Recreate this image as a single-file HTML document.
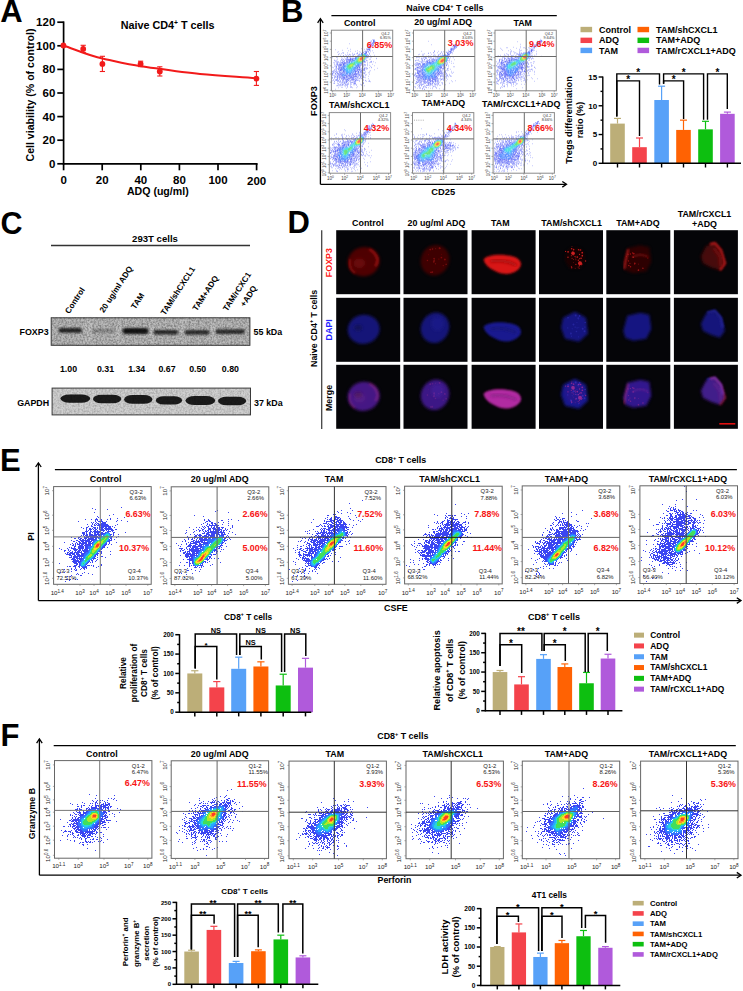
<!DOCTYPE html>
<html><head><meta charset="utf-8"><style>
html,body{margin:0;padding:0;background:#fff;}
svg{display:block;font-family:"Liberation Sans",sans-serif;}
</style></head><body>
<svg width="743" height="991" viewBox="0 0 743 991">
<rect width="743" height="991" fill="#fff"/>
<defs><filter id="sb" x="0" y="0" width="100%" height="100%"><feGaussianBlur stdDeviation="0.35"/></filter>
<filter id="grain" x="0" y="0" width="100%" height="100%"><feTurbulence type="fractalNoise" baseFrequency="0.55" numOctaves="2" seed="3"/><feColorMatrix type="matrix" values="0 0 0 0 0  0 0 0 0 0  0 0 0 0 0  -1.6 0 0 0 1.05"/></filter>
<filter id="bb" x="-20%" y="-60%" width="140%" height="220%"><feGaussianBlur stdDeviation="1.15"/></filter>
<filter id="bb2" x="-20%" y="-60%" width="140%" height="220%"><feGaussianBlur stdDeviation="0.7"/></filter>
<filter id="soft" x="-10%" y="-10%" width="120%" height="120%"><feGaussianBlur stdDeviation="2.5"/></filter>
<filter id="cb" x="-30%" y="-30%" width="160%" height="160%"><feGaussianBlur stdDeviation="1.6"/></filter>
<filter id="cb2" x="-30%" y="-30%" width="160%" height="160%"><feGaussianBlur stdDeviation="0.9"/></filter>
<filter id="cb3" x="-50%" y="-50%" width="200%" height="200%"><feGaussianBlur stdDeviation="0.5"/></filter></defs>
<text x="0.3" y="21.8" font-size="31" font-weight="bold">A</text>
<text x="120.7" y="28.7" font-size="10.8" font-weight="bold">Naive  CD4<tspan dy="-4.1" font-size="6.7">+</tspan><tspan dy="4.1">&#8203;</tspan> T cells</text>
<line x1="63.6" y1="21.4" x2="63.6" y2="164.6" stroke="#000" stroke-width="1.7"/>
<line x1="62.8" y1="163.8" x2="257.6" y2="163.8" stroke="#000" stroke-width="1.7"/>
<line x1="57.3" y1="163.8" x2="63.6" y2="163.8" stroke="#000" stroke-width="1.7"/>
<text x="55.3" y="167.8" font-size="11.5" font-weight="bold" text-anchor="end">0</text>
<line x1="57.3" y1="140.2" x2="63.6" y2="140.2" stroke="#000" stroke-width="1.7"/>
<text x="55.3" y="144.2" font-size="11.5" font-weight="bold" text-anchor="end">20</text>
<line x1="57.3" y1="116.6" x2="63.6" y2="116.6" stroke="#000" stroke-width="1.7"/>
<text x="55.3" y="120.6" font-size="11.5" font-weight="bold" text-anchor="end">40</text>
<line x1="57.3" y1="93" x2="63.6" y2="93" stroke="#000" stroke-width="1.7"/>
<text x="55.3" y="97" font-size="11.5" font-weight="bold" text-anchor="end">60</text>
<line x1="57.3" y1="69.4" x2="63.6" y2="69.4" stroke="#000" stroke-width="1.7"/>
<text x="55.3" y="73.4" font-size="11.5" font-weight="bold" text-anchor="end">80</text>
<line x1="57.3" y1="45.8" x2="63.6" y2="45.8" stroke="#000" stroke-width="1.7"/>
<text x="55.3" y="49.8" font-size="11.5" font-weight="bold" text-anchor="end">100</text>
<line x1="57.3" y1="22.2" x2="63.6" y2="22.2" stroke="#000" stroke-width="1.7"/>
<text x="55.3" y="26.2" font-size="11.5" font-weight="bold" text-anchor="end">120</text>
<line x1="63.6" y1="163.8" x2="63.6" y2="170.3" stroke="#000" stroke-width="1.7"/>
<text x="63.6" y="184.2" font-size="11.5" font-weight="bold" text-anchor="middle">0</text>
<line x1="102.2" y1="163.8" x2="102.2" y2="170.3" stroke="#000" stroke-width="1.7"/>
<text x="102.2" y="184.2" font-size="11.5" font-weight="bold" text-anchor="middle">20</text>
<line x1="140.8" y1="163.8" x2="140.8" y2="170.3" stroke="#000" stroke-width="1.7"/>
<text x="140.8" y="184.2" font-size="11.5" font-weight="bold" text-anchor="middle">40</text>
<line x1="179.4" y1="163.8" x2="179.4" y2="170.3" stroke="#000" stroke-width="1.7"/>
<text x="179.4" y="184.2" font-size="11.5" font-weight="bold" text-anchor="middle">80</text>
<line x1="218" y1="163.8" x2="218" y2="170.3" stroke="#000" stroke-width="1.7"/>
<text x="218" y="184.2" font-size="11.5" font-weight="bold" text-anchor="middle">100</text>
<line x1="256.6" y1="163.8" x2="256.6" y2="170.3" stroke="#000" stroke-width="1.7"/>
<text x="256.6" y="185" font-size="11.5" font-weight="bold" text-anchor="middle">200</text>
<text x="157.8" y="195.3" font-size="10.6" font-weight="bold" text-anchor="middle">ADQ (ug/ml)</text>
<text x="33.8" y="95" font-size="10.6" font-weight="bold" text-anchor="middle" transform="rotate(-90 33.8 95)">Cell viability (% of control)</text>
<path d="M63.4 45.5C75 49.5 90 56 102.4 58.6S128 64.6 140.6 66.2S180 72.3 200 74S240 77 256.6 78.3" stroke="#F21A1A" stroke-width="2" fill="none"/>
<circle cx="63.4" cy="45.5" r="2.9" fill="#F21A1A"/>
<line x1="83.2" y1="45.3" x2="83.2" y2="52.5" stroke="#F21A1A" stroke-width="1.1"/>
<line x1="80.6" y1="45.3" x2="85.8" y2="45.3" stroke="#F21A1A" stroke-width="1.1"/>
<line x1="80.6" y1="52.5" x2="85.8" y2="52.5" stroke="#F21A1A" stroke-width="1.1"/>
<circle cx="83.2" cy="48.9" r="2.9" fill="#F21A1A"/>
<line x1="102.4" y1="56.3" x2="102.4" y2="71.5" stroke="#F21A1A" stroke-width="1.1"/>
<line x1="99.8" y1="56.3" x2="105" y2="56.3" stroke="#F21A1A" stroke-width="1.1"/>
<line x1="99.8" y1="71.5" x2="105" y2="71.5" stroke="#F21A1A" stroke-width="1.1"/>
<circle cx="102.4" cy="63.9" r="2.9" fill="#F21A1A"/>
<line x1="140.6" y1="61.2" x2="140.6" y2="66.6" stroke="#F21A1A" stroke-width="1.1"/>
<line x1="138" y1="61.2" x2="143.2" y2="61.2" stroke="#F21A1A" stroke-width="1.1"/>
<line x1="138" y1="66.6" x2="143.2" y2="66.6" stroke="#F21A1A" stroke-width="1.1"/>
<circle cx="140.6" cy="63.9" r="2.9" fill="#F21A1A"/>
<line x1="159.8" y1="66.8" x2="159.8" y2="76" stroke="#F21A1A" stroke-width="1.1"/>
<line x1="157.2" y1="66.8" x2="162.4" y2="66.8" stroke="#F21A1A" stroke-width="1.1"/>
<line x1="157.2" y1="76" x2="162.4" y2="76" stroke="#F21A1A" stroke-width="1.1"/>
<circle cx="159.8" cy="71.5" r="2.9" fill="#F21A1A"/>
<line x1="256.4" y1="71.5" x2="256.4" y2="85.4" stroke="#F21A1A" stroke-width="1.1"/>
<line x1="253.8" y1="71.5" x2="259" y2="71.5" stroke="#F21A1A" stroke-width="1.1"/>
<line x1="253.8" y1="85.4" x2="259" y2="85.4" stroke="#F21A1A" stroke-width="1.1"/>
<circle cx="256.4" cy="78.6" r="2.9" fill="#F21A1A"/>
<text x="281" y="21.6" font-size="31" font-weight="bold">B</text>
<text x="444.9" y="10.9" font-size="8.9" font-weight="bold" text-anchor="middle">Naive CD4<tspan dy="-3.38" font-size="5.52">+</tspan><tspan dy="3.38">&#8203;</tspan> T cells</text>
<line x1="331.4" y1="15.7" x2="556.8" y2="15.7" stroke="#000" stroke-width="1.2"/>
<line x1="320.4" y1="19.1" x2="320.4" y2="184.3" stroke="#000" stroke-width="1.3"/>
<path d="M317.6 22.8L320.4 18.6L323.2 22.8" stroke="#000" stroke-width="1.3" fill="none" stroke-linejoin="miter"/>
<line x1="320.4" y1="184.3" x2="566" y2="184.3" stroke="#000" stroke-width="1.3"/>
<path d="M562.3 181.5L566.5 184.3L562.3 187.1" stroke="#000" stroke-width="1.3" fill="none"/>
<text x="317.4" y="101" font-size="9.1" font-weight="bold" text-anchor="middle" transform="rotate(-90 317.4 101)">FOXP3</text>
<text x="443.2" y="194.6" font-size="9.3" font-weight="bold" text-anchor="middle">CD25</text>
<g transform="scale(0.5)">
<path d="M745 79.5h1h1m1 0h1m-3 1h1m-4 1h1m2 0h1h1h1h1m-9 1h1m4 0h1h1m-5 1h1m2 0h1m1 0h1h1h1m-5 1h1h1m1 0h1m-6 1h1m2 0h1h1m-7 1h1m1 0h1h1h1m-48 1h1m41 0h1m2 0h1m2 0h1m-5 1h1m7 0h1m-14 1h1m1 0h1m1 0h1h1h1m1 0h1h1m-7 1h1h1m1 0h1m1 0h1m-3 1h1h1m-8 1h1m1 0h1m-4 1h1h1h1h1m2 0h1m-10 1h1m2 0h1h1h1m1 0h1m-8 1h1m1 0h1m1 0h1m16 0h1m-61 1h1m26 1h1m10 0h1m2 0h1m1 0h1h1m1 0h1m-41 1h1m27 0h1m4 0h1h1h1h1h1m-69 1h1m62 0h1m1 0h1m1 0h1h1h1m-56 1h1m53 0h1h1m1 0h1m-46 1h1m18 0h1m8 0h1m10 0h1m8 0h1m-45 1h1m9 0h1m18 0h1h1h1h1m1 0h1m1 0h1m-60 1h1m41 0h1m12 0h1m3 0h1m3 0h1m-66 1h1m45 0h1m3 0h1h1m3 0h1m1 0h1h1m2 0h1m-53 1h1m2 0h1m6 0h1m19 0h1m9 0h1m2 0h1m2 0h1m1 0h1h1m13 0h1m-61 1h1m16 0h1m10 0h1m7 0h1m4 0h1m1 0h1h1h1h1m5 0h1m-62 1h1m3 0h1m30 0h1m1 0h1m2 0h1m3 0h1h1h1m6 0h1m7 0h1m-63 1h1m17 0h1m3 0h1m4 0h1m3 0h1h1m12 0h1m15 0h1m-62 1h1m13 0h1m7 0h1m1 0h1m4 0h1m10 0h1h1h1h1m12 0h1h1h1m-55 1h1m14 0h1m19 0h1m16 0h1m2 0h1m11 0h1m-63 1h1h1m4 0h1m11 0h1m1 0h1m7 0h1m2 0h1m17 0h1m1 0h1m3 0h1m-52 1h1m1 0h1m1 0h1m2 0h1m2 0h1h1m4 0h1m4 0h1m2 0h1m18 0h1m3 0h1m-66 1h1m11 0h1m9 0h1h1m1 0h1m4 0h1m2 0h1h1m26 0h1h1m-63 1h1m9 0h1m9 0h1m2 0h1m3 0h1m11 0h1m1 0h1m19 0h1h1m2 0h1m4 0h1m-78 1h1m8 0h1m13 0h1m5 0h1h1m5 0h1m8 0h1h1m22 0h1m5 0h1m-46 1h1m4 0h1h1m3 0h1m1 0h1h1m1 0h1m42 0h1m-69 1h1m4 0h1m1 0h1m7 0h1m2 0h1h1m2 0h1h1m23 0h1m20 0h1m-79 1h1m6 0h1h1m3 0h1m5 0h1h1m1 0h1h1h1h1h1h1h1h1h1h1h1m32 0h1h1m-55 1h1m3 0h1m2 0h1h1h1m1 0h1h1m1 0h1h1m2 0h1h1m25 0h1m-64 1h1h1m2 0h1m10 0h1h1h1m2 0h1m3 0h1m4 0h1h1m1 0h1h1h1m29 0h1m-63 1h1m10 0h1m6 0h1m4 0h1h1m1 0h1m1 0h1h1m1 0h1m27 0h1m2 0h1m1 0h1m-60 1h1m10 0h1m6 0h1h1m4 0h1m29 0h1m13 0h1m-73 1h1h1m3 0h1m4 0h1m3 0h1h1m2 0h1m2 0h1m2 0h1m1 0h1h1m28 0h1h1h1m1 0h1m9 0h1h1m4 0h1m-79 1h1m3 0h1h1m2 0h1m4 0h1m1 0h1h1m1 0h1m1 0h1m2 0h1h1h1h1h1m31 0h1m1 0h1m4 0h1m4 0h1m2 0h1m-78 1h1m8 0h1m2 0h1m2 0h1m1 0h1m1 0h1m2 0h1h1h1h1m35 0h1m10 0h1m11 0h1m-71 1h1m2 0h1m1 0h1h1m2 0h1h1m1 0h1m-24 1h1m3 0h1h1h1m3 0h1m4 0h1m1 0h1h1h1h1h1m31 0h1h1m10 0h1m-62 1h1h1m1 0h1m3 0h1h1h1m2 0h1h1h1m1 0h1m31 0h1h1m4 0h1h1m16 0h1m-77 1h1m4 0h1m3 0h1h1m1 0h1h1h1m2 0h1h1h1m30 0h1m5 0h1m3 0h1h1m4 0h1m-66 1h1m1 0h1m1 0h1m2 0h1h1h1h1h1h1m3 0h1h1m31 0h1h1h1m1 0h1m6 0h1m8 0h1m-64 1h1m3 0h1h1m1 0h1m1 0h1h1m32 0h1m7 0h1h1m6 0h1m12 0h1m-81 1h1m4 0h1m3 0h1m6 0h1m32 0h1h1m2 0h1m4 0h1m14 0h1m-72 1h1m1 0h1h1m2 0h1m1 0h1h1h1m1 0h1m2 0h1m29 0h1h1h1m1 0h1m5 0h1m-61 1h1m7 0h1m5 0h1m2 0h1m1 0h1m29 0h1h1m1 0h1h1h1m1 0h1m2 0h1h1m4 0h1m11 0h1m-76 1h1m5 0h1m3 0h1m1 0h1h1h1h1h1m30 0h1h1m2 0h1h1m4 0h1m3 0h1m4 0h1m5 0h1m2 0h1m-72 1h1m4 0h1m1 0h1m3 0h1m35 0h1m3 0h1m3 0h1m1 0h1m4 0h1m1 0h1m18 0h1m-82 1h1h1m2 0h1m1 0h1m1 0h1h1h1m29 0h1h1h1m1 0h1m2 0h1m3 0h1m3 0h1h1h1m3 0h1m-63 1h1m3 0h1m2 0h1h1m2 0h1m30 0h1h1h1m1 0h1h1h1m1 0h1m1 0h1m7 0h1m-65 1h1m2 0h1m4 0h1h1m2 0h1h1h1h1h1m28 0h1m2 0h1h1h1h1h1m3 0h1m1 0h1h1h1h1m18 0h1m-80 1h1m2 0h1m6 0h1h1h1m1 0h1h1m26 0h1m1 0h1h1h1m3 0h1m2 0h1m4 0h1h1m-63 1h1m6 0h1m4 0h1m1 0h1h1h1m3 0h1m24 0h1m3 0h1m3 0h1m1 0h1h1h1m1 0h1m3 0h1m10 0h1m-77 1h1m1 0h1m1 0h1m1 0h1m5 0h1m2 0h1m3 0h1m2 0h1h1m22 0h1h1h1h1h1m1 0h1h1m2 0h1h1m9 0h1m6 0h1m-74 1h1m4 0h1m2 0h1m1 0h1m3 0h1m5 0h1h1h1h1m21 0h1h1h1m3 0h1h1m4 0h1m-57 1h1h1m4 0h1m1 0h1m4 0h1h1h1m3 0h1m2 0h1h1m21 0h1m2 0h1m1 0h1h1h1m1 0h1h1h1h1m1 0h1m-58 1h1m4 0h1m4 0h1m3 0h1m1 0h1m1 0h1h1m22 0h1h1m5 0h1m9 0h1h1m2 0h1m5 0h1h1m-75 1h1h1m1 0h1m3 0h1m2 0h1h1h1m2 0h1h1h1h1h1m1 0h1m2 0h1h1m17 0h1m1 0h1m1 0h1m2 0h1m1 0h1m3 0h1m4 0h1h1m2 0h1m-65 1h1m4 0h1h1m2 0h1m1 0h1m6 0h1h1m20 0h1m2 0h1m1 0h1h1h1h1m1 0h1h1m1 0h1m4 0h1m4 0h1m-65 1h1m8 0h1m3 0h1h1m1 0h1h1m21 0h1h1m1 0h1m1 0h1h1h1m1 0h1h1h1m1 0h1m5 0h1m15 0h1m-74 1h1m4 0h1m4 0h1h1m2 0h1h1m1 0h1h1m7 0h1m1 0h1h1m9 0h1m1 0h1h1h1h1h1m2 0h1m2 0h1m1 0h1h1h1m10 0h1h1m-69 1h1m1 0h1m1 0h1m8 0h1h1m1 0h1m1 0h1h1m6 0h1h1m4 0h1h1m1 0h1m1 0h1h1m2 0h1m4 0h1h1m3 0h1m3 0h1h1m1 0h1m3 0h1m-54 1h1m1 0h1m3 0h1m9 0h1h1m1 0h1h1m1 0h1m1 0h1h1h1m1 0h1h1m1 0h1m1 0h1h1m5 0h1m3 0h1m1 0h1m2 0h1m7 0h1m-63 1h1m1 0h1m3 0h1h1h1m2 0h1m1 0h1h1m1 0h1h1h1m2 0h1m2 0h1h1h1h1m1 0h1m1 0h1h1m2 0h1h1m1 0h1h1h1h1h1h1h1h1m3 0h1m2 0h1m5 0h1m10 0h1m-67 1h1m2 0h1m3 0h1m2 0h1h1m4 0h1m3 0h1h1m5 0h1m1 0h1m1 0h1h1m5 0h1h1h1m1 0h1m1 0h1m5 0h1h1m3 0h1m-63 1h1m4 0h1h1m2 0h1h1m9 0h1h1m1 0h1h1h1m2 0h1h1h1m2 0h1h1m1 0h1h1m1 0h1m1 0h1h1h1m6 0h1m1 0h1m3 0h1h1m5 0h1h1m-65 1h1m3 0h1m6 0h1m1 0h1h1h1h1h1m1 0h1m2 0h1h1h1h1m1 0h1h1m2 0h1m5 0h1h1h1h1h1h1m2 0h1m2 0h1m2 0h1m10 0h1m3 0h1m-66 1h1m8 0h1m3 0h1m3 0h1m1 0h1m1 0h1h1h1m1 0h1m4 0h1h1h1h1m2 0h1m2 0h1m1 0h1m3 0h1h1m7 0h1m2 0h1m-54 1h1m4 0h1m7 0h1m2 0h1m2 0h1h1m2 0h1m3 0h1m1 0h1h1m1 0h1h1m1 0h1m1 0h1m5 0h1m2 0h1m1 0h1h1m1 0h1m2 0h1m12 0h1m-65 1h1m1 0h1h1m3 0h1m2 0h1m2 0h1m1 0h1m2 0h1h1m1 0h1h1h1h1m5 0h1m2 0h1h1h1h1h1m1 0h1m-46 1h1m3 0h1m1 0h1m5 0h1m7 0h1h1h1m4 0h1h1h1m3 0h1m3 0h1h1h1m1 0h1m4 0h1h1m13 0h1m-61 1h1m2 0h1m1 0h1h1m2 0h1m3 0h1m3 0h1m2 0h1m3 0h1h1h1m2 0h1h1m2 0h1m2 0h1h1m1 0h1m3 0h1h1m2 0h1h1h1m9 0h1m4 0h1m7 0h1m-76 1h1m9 0h1h1m1 0h1m7 0h1m9 0h1m1 0h1m3 0h1m7 0h1m1 0h1m1 0h1m4 0h1m11 0h1m-63 1h1m7 0h1m3 0h1h1m3 0h1m1 0h1m2 0h1m1 0h1h1h1m4 0h1m6 0h1m3 0h1h1m7 0h1m12 0h1m4 0h1h1h1m-71 1h1m4 0h1m3 0h1m10 0h1m3 0h1m1 0h1m4 0h1m7 0h1h1m31 0h1m-63 1h1m3 0h1h1h1h1m2 0h1h1m1 0h1m8 0h1h1m1 0h1h1m18 0h1m-45 1h1m8 0h1m2 0h1h1m3 0h1m5 0h1m3 0h1m1 0h1h1m16 0h1m-61 1h1h1h1m4 0h1m14 0h1h1m9 0h1m5 0h1m1 0h1h1h1h1m14 0h1h1m-52 1h1m5 0h1m1 0h1m1 0h1m1 0h1m6 0h1h1m12 0h1m-33 1h1m3 0h1m8 0h1m3 0h1m2 0h1m3 0h1h1m7 0h1m10 0h1m-43 1h1h1m3 0h1h1m1 0h1m3 0h1m1 0h1h1m11 0h1m1 0h1m3 0h1m10 0h1m-50 1h1m8 0h1h1m6 0h1m1 0h1m6 0h1m12 0h1m9 0h1m-52 1h1m2 0h1h1m2 0h1m1 0h1m7 0h1m4 0h1m34 0h1m-35 1h1m-6 1h1m10 0h1h1m12 0h1m-34 1h1m1 0h1m10 0h1m5 0h1m1 0h1m-28 1h1m27 0h1m8 0h1m-21 1h1m-23 2h1" stroke="#1424f0" stroke-opacity="1"/>
<path d="M728 107.5h1h1h1m-8 1h1m5 0h1h1m-9 1h1m8 0h1m0 1h1m-15 1h1m13 0h1m-1 1h1m-18 1h1m-2 1h1m17 0h1m-21 1h1h1m-3 1h1h1m-3 1h1h1m19 0h1m-22 1h1m-2 1h1m19 0h1m-25 1h1h1h1h1m-6 1h1h1h1h1h1m-8 1h1m1 0h1m1 0h1h1m21 0h1m-29 1h1m1 0h1h1h1m-6 1h1h1m24 0h1m-29 1h1m1 0h1h1m23 0h1h1m-31 1h1h1m1 0h1m23 0h1m-29 1h1m25 0h1m1 0h1m-29 1h1h1m22 0h1h1m-28 1h1m1 0h1m22 0h1h1m-30 1h1m1 0h1m21 0h1h1h1h1h1h1m-30 1h1h1m1 0h1m21 0h1h1h1h1h1m-32 1h1m1 0h1h1h1h1m18 0h1m1 0h1h1m-28 1h1h1h1h1m20 0h1m1 0h1h1h1m-30 1h1h1h1m1 0h1h1m18 0h1h1h1h1m-27 1h1h1h1m20 0h1h1h1h1m-29 1h1h1h1h1m1 0h1m18 0h1h1h1m1 0h1m-28 1h1h1h1h1h1m17 0h1h1m1 0h1h1h1m-28 1h1h1m1 0h1h1m16 0h1h1h1h1h1m-26 1h1h1m1 0h1h1m16 0h1m2 0h1h1m-25 1h1h1m1 0h1h1m14 0h1h1m1 0h1h1m-23 1h1h1h1m15 0h1h1m1 0h1h1m-22 1h1m16 0h1h1m1 0h1m-19 1h1h1h1m10 0h1h1m1 0h1h1h1m-18 1h1m1 0h1m8 0h1h1h1m2 0h1m1 0h1m-18 1h1h1h1m6 0h1h1m1 0h1m1 0h1m-16 1h1h1h1h1h1m1 0h1h1h1h1h1m1 0h1h1h1m-19 1h1m3 0h1h1h1m1 0h1m2 0h1h1h1h1m-17 1h1h1h1h1h1m2 0h1m1 0h1h1m1 0h1m1 0h1m1 0h1h1m-19 1h1h1h1h1m2 0h1m7 0h1h1h1h1m-18 1h1h1m2 0h1h1m-5 1h1h1h1h1" stroke="#0a58ff" stroke-opacity="1"/>
<path d="M727 108.5h1h1m-6 1h1m1 0h1m3 0h1h1m-10 1h1h1m7 0h1h1m-1 1h1m-14 1h1h1m11 0h1m-1 1h1m-16 1h1m-2 1h1m15 0h1m-19 1h1h1m-3 1h1m-2 1h1h1m16 0h1m-20 1h1h1m-3 1h1m18 0h1m-21 1h1h1h1m16 0h1m-21 1h1h1m17 0h1m-21 1h1m17 0h1h1m-24 1h1h1h1h1m-6 1h1m1 0h1m18 0h1h1m-24 1h1h1m16 0h1m1 0h1h1m-24 1h1h1m15 0h1h1h1h1h1m-24 1h1h1m14 0h1h1m1 0h1h1h1m-23 1h1h1m14 0h1m3 0h1h1m-22 1h1m15 0h1h1m-20 1h1h1m16 0h1m-19 1h1m-2 1h1m15 0h1h1m-2 1h1h1m-18 1h1h1m12 0h1h1h1h1m-17 1h1h1m10 0h1m2 0h1m-17 1h1h1h1m10 0h1h1h1m-17 1h1h1h1h1m9 0h1h1m-15 1h1h1m1 0h1h1h1m6 0h1h1h1m-14 1h1h1h1h1h1h1m1 0h1h1m1 0h1h1h1h1m-14 1h1h1h1h1h1h1m2 0h1h1h1h1h1m-12 1h1h1h1h1m1 0h1m1 0h1h1h1m1 0h1m-11 1h1h1h1h1h1h1h1m1 0h1h1m-9 1h1h1h1h1h1h1m1 0h1m-7 1h1h1h1m1 0h1h1" stroke="#0096ff" stroke-opacity="1"/>
<path d="M726 109.5h1h1h1m-6 1h1m5 0h1m-9 1h1h1m7 0h1m-11 1h1m9 0h1m-13 1h1m-2 1h1m12 0h1m-15 1h1m13 0h1m-1 1h1m-17 1h1m14 0h1m-17 1h1m14 0h1m-17 1h1h1m-2 1h1h1m13 0h1m-17 1h1m14 0h1m-17 1h1m1 0h1m-5 1h1h1h1h1h1m10 0h1m-17 1h1h1h1h1h1h1h1h1h1m6 0h1m-20 1h1h1m1 0h1h1m2 0h1h1h1h1h1h1h1h1h1h1h1m-20 1h1h1h1m6 0h1m1 0h1h1h1h1h1m-18 1h1h1m8 0h1h1h1m1 0h1m-16 1h1m10 0h1h1m-15 1h1h1m10 0h1h1m-15 1h1h1m11 0h1m-15 1h1h1m12 0h1m-16 1h1h1m11 0h1m-14 1h1h1m10 0h1h1m-14 1h1h1m9 0h1h1m-12 1h1h1m7 0h1h1m-11 1h1h1h1m5 0h1h1m-10 1h1h1h1h1h1h1h1h1h1h1m-10 1h1h1h1h1h1h1h1h1h1m-6 1h1h1h1h1" stroke="#00d0d0" stroke-opacity="1"/>
<path d="M725 110.5h1h1h1h1m-6 1h1h1m2 0h1h1h1m-9 1h1h1m6 0h1m-11 1h1h1m8 0h1h1m-2 1h1m-13 1h1m11 0h1m-14 1h1m12 0h1m-15 1h1h1m11 0h1m-14 1h1m11 0h1m-14 1h1h1m10 0h1m-13 1h1m10 0h1h1m-14 1h1h1h1m8 0h1h1m-13 1h1h1h1h1m6 0h1h1m-12 1h1h1h1m1 0h1h1h1h1h1h1m-7 1h1h1h1h1h1m-13 1h1h1m-6 1h1h1h1h1h1h1m-9 1h1h1h1h1h1m1 0h1h1m-10 1h1h1h1h1m2 0h1h1h1h1m-11 1h1h1h1m5 0h1h1m-11 1h1h1h1m5 0h1h1h1m-12 1h1h1h1m6 0h1m-11 1h1h1h1h1m5 0h1h1m-11 1h1h1h1h1h1h1h1h1h1h1m-10 1h1h1h1h1h1h1h1h1m-6 1h1h1h1h1h1m-5 1h1h1h1h1h1" stroke="#22d840" stroke-opacity="1"/>
<path d="M725 111.5h1h1m-3 1h1h1h1h1h1m-8 1h1h1m5 0h1m-9 1h1m7 0h1m-11 1h1h1m8 0h1m-12 1h1h1m8 0h1h1m-12 1h1m9 0h1m-12 1h1h1m8 0h1m-11 1h1h1m7 0h1m-10 1h1h1m6 0h1m-9 1h1h1h1m4 0h1m-7 1h1h1h1h1h1h1m-20 6h1h1m-4 1h1h1h1h1h1m-6 1h1h1h1h1h1m-6 1h1h1h1h1h1h1m-6 1h1h1h1h1h1" stroke="#a0e400" stroke-opacity="1"/>
<path d="M723 113.5h1h1h1h1h1m-7 1h1m5 0h1m-8 1h1m6 0h1m-9 1h1m-2 1h1m7 0h1m-9 1h1m6 0h1m-8 1h1m5 0h1m-7 1h1h1m3 0h1m-5 1h1h1h1" stroke="#ffd400" stroke-opacity="1"/>
<path d="M722 114.5h1h1h1h1h1m-6 1h1m3 0h1h1m-7 1h1m4 0h1h1m-8 1h1m5 0h1m-7 1h1m4 0h1m-6 1h1h1m1 0h1h1m-4 1h1h1h1" stroke="#ff8000" stroke-opacity="1"/>
<path d="M722 115.5h1h1h1m-4 1h1h1h1h1m-5 1h1h1h1h1h1m-5 1h1h1h1h1m-3 1h1" stroke="#ff1a00" stroke-opacity="1"/>
</g>
<rect x="331.4" y="30.2" width="61.3" height="60.6" fill="none" stroke="#8a8a8a" stroke-width="1"/>
<line x1="362.6" y1="30.2" x2="362.6" y2="90.8" stroke="#6a6a6a" stroke-width="1"/>
<line x1="331.4" y1="56.5" x2="392.7" y2="56.5" stroke="#6a6a6a" stroke-width="1"/>
<text x="328" y="33" font-size="4.5" text-anchor="middle" fill="#444" transform="rotate(-90 328 33)">10<tspan dy="-1.71" font-size="3.33">7</tspan><tspan dy="1.71">&#8203;</tspan></text>
<line x1="329.8" y1="33" x2="331.4" y2="33" stroke="#777" stroke-width="0.6"/>
<text x="328" y="41.2" font-size="4.5" text-anchor="middle" fill="#444" transform="rotate(-90 328 41.2)">10<tspan dy="-1.71" font-size="3.33">6</tspan><tspan dy="1.71">&#8203;</tspan></text>
<line x1="329.8" y1="41.2" x2="331.4" y2="41.2" stroke="#777" stroke-width="0.6"/>
<text x="328" y="49.4" font-size="4.5" text-anchor="middle" fill="#444" transform="rotate(-90 328 49.4)">10<tspan dy="-1.71" font-size="3.33">5</tspan><tspan dy="1.71">&#8203;</tspan></text>
<line x1="329.8" y1="49.4" x2="331.4" y2="49.4" stroke="#777" stroke-width="0.6"/>
<text x="328" y="57.6" font-size="4.5" text-anchor="middle" fill="#444" transform="rotate(-90 328 57.6)">10<tspan dy="-1.71" font-size="3.33">4</tspan><tspan dy="1.71">&#8203;</tspan></text>
<line x1="329.8" y1="57.6" x2="331.4" y2="57.6" stroke="#777" stroke-width="0.6"/>
<text x="328" y="65.8" font-size="4.5" text-anchor="middle" fill="#444" transform="rotate(-90 328 65.8)">10<tspan dy="-1.71" font-size="3.33">3</tspan><tspan dy="1.71">&#8203;</tspan></text>
<line x1="329.8" y1="65.8" x2="331.4" y2="65.8" stroke="#777" stroke-width="0.6"/>
<text x="328" y="74" font-size="4.5" text-anchor="middle" fill="#444" transform="rotate(-90 328 74)">10<tspan dy="-1.71" font-size="3.33">2</tspan><tspan dy="1.71">&#8203;</tspan></text>
<line x1="329.8" y1="74" x2="331.4" y2="74" stroke="#777" stroke-width="0.6"/>
<text x="328" y="82.2" font-size="4.5" text-anchor="middle" fill="#444" transform="rotate(-90 328 82.2)">10<tspan dy="-1.71" font-size="3.33">1</tspan><tspan dy="1.71">&#8203;</tspan></text>
<line x1="329.8" y1="82.2" x2="331.4" y2="82.2" stroke="#777" stroke-width="0.6"/>
<text x="328" y="90.4" font-size="4.5" text-anchor="middle" fill="#444" transform="rotate(-90 328 90.4)">10<tspan dy="-1.71" font-size="3.33">0</tspan><tspan dy="1.71">&#8203;</tspan></text>
<line x1="329.8" y1="90.4" x2="331.4" y2="90.4" stroke="#777" stroke-width="0.6"/>
<text x="332.6" y="97.3" font-size="4.5" text-anchor="middle" fill="#444">10<tspan dy="-1.71" font-size="3.33">0</tspan><tspan dy="1.71">&#8203;</tspan></text>
<line x1="332.6" y1="90.8" x2="332.6" y2="92.4" stroke="#777" stroke-width="0.6"/>
<text x="346.7" y="97.3" font-size="4.5" text-anchor="middle" fill="#444">10<tspan dy="-1.71" font-size="3.33">2</tspan><tspan dy="1.71">&#8203;</tspan></text>
<line x1="346.7" y1="90.8" x2="346.7" y2="92.4" stroke="#777" stroke-width="0.6"/>
<text x="362.2" y="97.3" font-size="4.5" text-anchor="middle" fill="#444">10<tspan dy="-1.71" font-size="3.33">4</tspan><tspan dy="1.71">&#8203;</tspan></text>
<line x1="362.2" y1="90.8" x2="362.2" y2="92.4" stroke="#777" stroke-width="0.6"/>
<text x="378.4" y="97.3" font-size="4.5" text-anchor="middle" fill="#444">10<tspan dy="-1.71" font-size="3.33">6</tspan><tspan dy="1.71">&#8203;</tspan></text>
<line x1="378.4" y1="90.8" x2="378.4" y2="92.4" stroke="#777" stroke-width="0.6"/>
<text x="390.6" y="97.3" font-size="4.5" text-anchor="middle" fill="#444">10<tspan dy="-1.71" font-size="3.33">7</tspan><tspan dy="1.71">&#8203;</tspan></text>
<line x1="390.6" y1="90.8" x2="390.6" y2="92.4" stroke="#777" stroke-width="0.6"/>
<text x="359.7" y="25.8" font-size="8.9" font-weight="bold" text-anchor="middle">Control</text>
<text x="392.2" y="47.6" font-size="9" font-weight="bold" text-anchor="end" fill="#F81414">6.85%</text>
<text x="385.4" y="34.5" font-size="3.8" text-anchor="middle" fill="#333">Q4-2</text>
<text x="385.4" y="38.5" font-size="3.8" text-anchor="middle" fill="#333">6.85%</text>
<g transform="scale(0.5)">
<path d="M856 82.5h1m48 6h1m4 0h1m-49 1h1m47 0h1h1m-4 1h1m1 0h1h1m1 0h1m-8 1h1h1h1h1m1 0h1m-5 1h1m1 0h1m1 0h1m1 0h1h1m-10 1h1m2 0h1h1h1h1m1 0h1m-7 1h1h1h1m2 0h1m-5 1h1m1 0h1m1 0h1m-12 1h1h1h1h1m2 0h1h1m1 0h1m-8 1h1m1 0h1m1 0h1h1m-9 1h1m1 0h1h1h1m1 0h1m2 0h1m-10 1h1m1 0h1h1h1m1 0h1m-11 1h1m3 0h1m1 0h1h1m1 0h1m1 0h1m-40 1h1m33 0h1m-60 1h1m24 0h1m8 0h1m19 0h1h1m1 0h1h1m4 0h1m-39 1h1m13 0h1m3 0h1m11 0h1h1h1h1h1m-20 1h1m8 0h1h1m1 0h1m1 0h1m3 0h1h1m2 0h1m-46 1h1m5 0h1h1m6 0h1m22 0h1m3 0h1h1m-47 1h1h1m22 0h1m4 0h1m8 0h1h1m3 0h1h1h1m-53 1h1m30 0h1m13 0h1h1h1m7 0h1m-66 1h1m4 0h1m2 0h1m15 0h1m5 0h1m8 0h1m5 0h1m3 0h1m5 0h1m1 0h1h1h1h1m-64 1h1m39 0h1m12 0h1h1m5 0h1h1m-32 1h1m4 0h1m4 0h1m4 0h1m3 0h1m1 0h1m6 0h1h1m3 0h1m-56 1h1m2 0h1m8 0h1m11 0h1m7 0h1m6 0h1m11 0h1h1m-45 1h1m5 0h1m1 0h1h1m5 0h1m6 0h1m4 0h1m2 0h1m12 0h1h1m1 0h1m-67 1h1h1m9 0h1m1 0h1m2 0h1m7 0h1h1m5 0h1m2 0h1m1 0h1m7 0h1m18 0h1h1m8 0h1m-71 1h1m1 0h1m8 0h1m1 0h1m1 0h1h1h1m4 0h1h1m2 0h1h1m8 0h1m2 0h1m2 0h1m18 0h1h1m-65 1h1m4 0h1m33 0h1m2 0h1m20 0h1m4 0h1m4 0h1m-65 1h1m3 0h1m4 0h1h1m8 0h1m4 0h1m30 0h1m-56 1h1m2 0h1m4 0h1m2 0h1m8 0h1m2 0h1h1m3 0h1m24 0h1m2 0h1m-50 1h1m9 0h1m9 0h1m3 0h1m-37 1h1m4 0h1m1 0h1m3 0h1h1m5 0h1m2 0h1h1m3 0h1h1h1h1h1m1 0h1m1 0h1m26 0h1m9 0h1m-76 1h1m1 0h1m9 0h1m10 0h1m4 0h1m1 0h1m3 0h1m1 0h1m1 0h1m23 0h1m-66 1h1h1m4 0h1m7 0h1m7 0h1m2 0h1h1m2 0h1m4 0h1m3 0h1m27 0h1m1 0h1m-60 1h1m3 0h1m2 0h1m2 0h1m2 0h1m1 0h1h1m3 0h1m3 0h1h1h1m1 0h1m34 0h1m-63 1h1m4 0h1m5 0h1h1m2 0h1m3 0h1m1 0h1m2 0h1m-22 1h1m1 0h1m7 0h1h1h1h1m1 0h1h1m1 0h1h1m30 0h1h1m3 0h1m-67 1h1m1 0h1m8 0h1m7 0h1m2 0h1m-24 1h1h1m2 0h1m1 0h1h1m7 0h1h1h1m3 0h1m41 0h1m7 0h1m4 0h1m-72 1h1m1 0h1h1m1 0h1m2 0h1h1m2 0h1h1h1m39 0h1m1 0h1m-64 1h1h1m3 0h1h1h1m1 0h1m2 0h1m3 0h1h1h1m41 0h1m4 0h1m-63 1h1h1m2 0h1m3 0h1m3 0h1m1 0h1m40 0h1m5 0h1m-64 1h1m6 0h1m6 0h1m1 0h1m38 0h1h1h1m1 0h1m2 0h1h1m2 0h1m-66 1h1h1m1 0h1m2 0h1m2 0h1h1m1 0h1h1h1m42 0h1h1m2 0h1m-54 1h1m2 0h1m39 0h1m1 0h1m2 0h1m-50 1h1m2 0h1h1h1h1h1h1m35 0h1m3 0h1m2 0h1m7 0h1m8 0h1m2 0h1m-78 1h1m1 0h1h1h1h1h1m3 0h1m2 0h1m35 0h1h1h1m3 0h1h1h1m-56 1h1h1h1m4 0h1m1 0h1m36 0h1h1h1h1m4 0h1m1 0h1m-61 1h1m2 0h1h1m3 0h1m1 0h1h1m2 0h1h1m38 0h1m1 0h1h1h1m8 0h1m-68 1h1h1m5 0h1m1 0h1m40 0h1h1h1m2 0h1m1 0h1m6 0h1h1m-67 1h1m1 0h1m1 0h1m8 0h1h1h1m34 0h1m5 0h1m8 0h1m6 0h1m-72 1h1m3 0h1h1m5 0h1m37 0h1h1m5 0h1m-54 1h1h1m1 0h1m3 0h1h1h1h1m34 0h1m2 0h1m10 0h1m4 0h1m-64 1h1m2 0h1h1h1m40 0h1m1 0h1m2 0h1m4 0h1m4 0h1m-62 1h1m1 0h1h1h1m1 0h1m1 0h1h1m36 0h1m1 0h1m8 0h1m10 0h1m-68 1h1m2 0h1h1h1h1m34 0h1m1 0h1h1h1m2 0h1m5 0h1h1m-57 1h1h1m1 0h1m1 0h1m1 0h1h1m1 0h1m29 0h1m3 0h1m2 0h1m3 0h1h1m2 0h1m17 0h1m-77 1h1m3 0h1h1m2 0h1m2 0h1m30 0h1h1h1h1m1 0h1h1m2 0h1h1m6 0h1h1m10 0h1m-71 1h1m1 0h1h1h1h1m3 0h1m1 0h1h1m27 0h1h1m1 0h1h1h1m1 0h1m1 0h1m1 0h1m1 0h1m7 0h1m11 0h1m-76 1h1m3 0h1m1 0h1h1h1m3 0h1m1 0h1h1m24 0h1h1m4 0h1h1m2 0h1h1m1 0h1h1m1 0h1m5 0h1m-63 1h1h1m4 0h1m1 0h1m1 0h1m4 0h1m25 0h1h1m2 0h1h1m2 0h1m5 0h1m5 0h1m7 0h1m-71 1h1m6 0h1m2 0h1h1m1 0h1m1 0h1h1h1m23 0h1h1m3 0h1m1 0h1h1h1m2 0h1m4 0h1m4 0h1m1 0h1m-66 1h1m8 0h1h1m1 0h1m1 0h1h1m1 0h1m26 0h1h1h1h1m9 0h1m1 0h1m9 0h1m-70 1h1m1 0h1h1h1h1h1h1h1h1m1 0h1m5 0h1m24 0h1m8 0h1h1h1m1 0h1m7 0h1m1 0h1h1m5 0h1m-70 1h1h1m4 0h1h1h1m1 0h1m1 0h1m1 0h1m25 0h1h1m3 0h1m5 0h1h1m1 0h1m6 0h1m6 0h1m1 0h1m-72 1h1m3 0h1m1 0h1m2 0h1m1 0h1h1h1h1h1m24 0h1h1h1m1 0h1m4 0h1h1m5 0h1m1 0h1m1 0h1m5 0h1m-65 1h1m2 0h1h1h1h1m1 0h1h1m1 0h1m26 0h1h1m16 0h1m3 0h1m-60 1h1h1h1m3 0h1m3 0h1h1m18 0h1h1m1 0h1m1 0h1m1 0h1h1m1 0h1h1m10 0h1m1 0h1m-59 1h1m3 0h1m2 0h1m1 0h1m1 0h1m1 0h1m17 0h1h1h1h1m3 0h1m1 0h1h1m2 0h1m6 0h1m3 0h1m2 0h1m4 0h1m-54 1h1m1 0h1h1h1m1 0h1m6 0h1m5 0h1m1 0h1m2 0h1h1h1h1m1 0h1m2 0h1h1h1m1 0h1m2 0h1m6 0h1m1 0h1h1m-57 1h1h1m2 0h1h1m1 0h1m4 0h1h1h1m2 0h1h1h1h1m1 0h1m1 0h1h1h1m1 0h1m2 0h1h1h1h1h1h1h1h1m1 0h1m6 0h1m1 0h1h1m1 0h1m9 0h1m-61 1h1m2 0h1m4 0h1m3 0h1h1h1h1m3 0h1m2 0h1h1m1 0h1h1m5 0h1h1m2 0h1m3 0h1h1m5 0h1m3 0h1m-58 1h1m6 0h1h1h1m2 0h1m1 0h1m1 0h1m1 0h1m2 0h1m6 0h1m1 0h1m3 0h1h1h1m3 0h1h1h1m3 0h1m10 0h1m-53 1h1m3 0h1m1 0h1m7 0h1h1m4 0h1h1h1m1 0h1h1h1h1m1 0h1m1 0h1m5 0h1m1 0h1m1 0h1m1 0h1m2 0h1m11 0h1m9 0h1m7 0h1m-79 1h1m4 0h1h1m4 0h1m1 0h1h1m3 0h1m3 0h1m5 0h1h1m2 0h1h1h1m1 0h1m1 0h1h1m1 0h1m2 0h1m-44 1h1m2 0h1m4 0h1h1m4 0h1h1h1m1 0h1m1 0h1h1m2 0h1m3 0h1h1m2 0h1h1m4 0h1m2 0h1h1m28 0h1m-72 1h1h1h1m1 0h1m3 0h1m1 0h1m2 0h1m4 0h1m1 0h1m5 0h1m1 0h1m2 0h1m1 0h1m3 0h1m5 0h1m1 0h1m-45 1h1m4 0h1m1 0h1m6 0h1h1m2 0h1m2 0h1h1h1h1m7 0h1m8 0h1m7 0h1h1m-54 1h1h1m5 0h1m3 0h1m6 0h1h1h1m2 0h1m1 0h1m2 0h1m1 0h1m2 0h1h1m3 0h1m2 0h1m4 0h1m7 0h1m12 0h1m-69 1h1m1 0h1m8 0h1m4 0h1m9 0h1m3 0h1h1m1 0h1h1m3 0h1m2 0h1m3 0h1m1 0h1m-36 1h1m2 0h1h1m9 0h1h1h1m1 0h1m16 0h1m6 0h1m-48 1h1h1m2 0h1m1 0h1m1 0h1m14 0h1m1 0h1m2 0h1m2 0h1m1 0h1h1h1m1 0h1m15 0h1m-57 1h1m4 0h1m9 0h1m2 0h1h1h1h1h1h1m20 0h1m1 0h1m-43 1h1m3 0h1h1m14 0h1m1 0h1m4 0h1m8 0h1m-36 1h1m10 0h1m15 0h1m1 0h1m2 0h1m-43 1h1h1m6 0h1m8 0h1h1h1m18 0h1m-29 1h1m11 0h1h1m18 0h1m-42 1h1m10 0h1m4 0h1m6 0h1m3 0h1m7 0h1m6 0h1m-38 1h1m2 0h1m1 0h1m3 0h1m16 0h1m11 0h1m-29 1h1m19 0h1m12 0h1m-35 1h1m3 0h1h1m36 0h1" stroke="#1424f0" stroke-opacity="1"/>
<path d="M888 110.5h1m1 0h1h1h1m-8 1h1h1h1h1h1h1h1h1h1m-9 1h1m7 0h1h1m-14 1h1m1 0h1m-5 1h1h1m-3 1h1m15 0h1h1m-20 1h1m17 0h1m-20 1h1h1m-3 1h1m19 0h1m-22 1h1h1m-3 1h1h1m19 0h1h1m-23 1h1m20 0h1m-25 1h1m1 0h1m20 0h1h1m-28 1h1h1m2 0h1m21 0h1m-30 1h1h1h1h1m1 0h1m-13 1h1h1h1h1h1h1h1m3 0h1m23 0h1m-38 1h1h1h1m1 0h1h1h1h1h1m1 0h1h1h1m23 0h1m-38 1h1m1 0h1m1 0h1m1 0h1m1 0h1h1h1h1m-16 1h1h1m2 0h1m1 0h1m2 0h1h1m1 0h1m26 0h1m-41 1h1m1 0h1h1h1h1h1h1h1h1m29 0h1m-40 1h1h1h1h1m1 0h1m29 0h1h1h1m-37 1h1m1 0h1m1 0h1m27 0h1m-34 1h1h1m1 0h1h1m28 0h1h1m-35 1h1h1h1h1m26 0h1h1h1h1m-34 1h1m1 0h1m25 0h1h1m1 0h1h1h1m-35 1h1h1h1m26 0h1m3 0h1m-34 1h1m29 0h1h1h1m-34 1h1h1m28 0h1h1h1m-31 1h1m26 0h1h1m1 0h1m-34 1h1h1h1h1m27 0h1h1h1m-34 1h1h1m26 0h1m1 0h1h1h1h1m-34 1h1h1m1 0h1h1m22 0h1h1m3 0h1h1m-33 1h1h1m1 0h1m20 0h1m4 0h1h1h1h1m-33 1h1m1 0h1m20 0h1h1h1h1h1m2 0h1m-31 1h1h1m1 0h1m18 0h1m1 0h1m1 0h1m-27 1h1h1h1h1h1m16 0h1h1h1h1m-25 1h1h1h1h1m17 0h1h1m2 0h1m-22 1h1h1h1h1m12 0h1h1h1h1h1m-24 1h1m2 0h1m1 0h1m12 0h1h1h1m2 0h1m-23 1h1h1h1h1h1h1m9 0h1h1m3 0h1m1 0h1m-23 1h1h1h1m1 0h1m8 0h1h1h1h1h1m2 0h1h1h1m-22 1h1h1h1m1 0h1h1h1m3 0h1m1 0h1h1h1m1 0h1h1h1m1 0h1h1h1m-24 1h1m1 0h1h1h1h1h1h1m2 0h1h1h1m1 0h1h1h1h1h1h1m1 0h1m1 0h1m-23 1h1h1h1h1m1 0h1h1m1 0h1h1h1h1h1m1 0h1h1h1h1m1 0h1h1h1h1m-25 1h1h1m1 0h1h1h1h1h1h1h1h1h1h1h1m1 0h1h1h1m1 0h1h1h1h1h1h1m-23 1h1h1m1 0h1h1h1m3 0h1m1 0h1h1m-15 1h1h1m2 0h1h1h1m1 0h1m1 0h1h1m1 0h1m-12 1h1h1h1h1m3 0h1h1h1h1" stroke="#0a58ff" stroke-opacity="1"/>
<path d="M886 112.5h1h1h1h1h1h1m-8 1h1h1m6 0h1h1m-12 1h1m10 0h1m-14 1h1m-3 1h1h1m13 0h1m-16 1h1m14 0h1m-18 1h1h1m15 0h1m-18 1h1m16 0h1m-19 1h1m-3 1h1h1m17 0h1m-21 1h1h1m-1 1h1m-3 1h1h1m-6 1h1h1h1h1m-5 1h1h1h1m19 0h1m-25 1h1h1h1h1m18 0h1h1m-27 1h1m1 0h1h1h1m18 0h1h1m-28 1h1m1 0h1m1 0h1h1m17 0h1h1m-29 1h1h1m2 0h1m1 0h1m18 0h1h1h1m-29 1h1h1h1m1 0h1m17 0h1m1 0h1h1h1m-27 1h1m2 0h1m16 0h1m1 0h1h1h1h1m-28 1h1h1h1m18 0h1h1m1 0h1h1m-26 1h1m19 0h1m2 0h1m-26 1h1h1m20 0h1h1h1m-24 1h1m20 0h1h1m1 0h1m-26 1h1m21 0h1h1h1h1m-27 1h1h1m21 0h1h1h1m-26 1h1h1m19 0h1h1h1h1h1m-26 1h1h1m18 0h1h1h1h1m-23 1h1h1m15 0h1m1 0h1m1 0h1m-21 1h1h1m16 0h1m-19 1h1h1m12 0h1h1h1h1m-17 1h1h1m10 0h1m1 0h1h1m-16 1h1m10 0h1h1h1m-13 1h1m1 0h1m6 0h1h1h1h1m-12 1h1h1m1 0h1h1m1 0h1h1h1m2 0h1m-12 1h1m3 0h1h1h1h1h1h1h1m-10 1h1h1m1 0h1h1m-5 1h1h1h1h1h1m-4 1h1h1m-1 1h1" stroke="#0096ff" stroke-opacity="1"/>
<path d="M886 113.5h1h1h1h1h1h1m-9 1h1h1m6 0h1h1m-12 1h1h1m9 0h1m-13 1h1m11 0h1m-14 1h1m12 0h1m-15 1h1m13 0h1m-1 1h1m-17 1h1m15 0h1m-2 1h1m-18 1h1h1m15 0h1m-18 1h1m15 0h1m-18 1h1m-3 1h1h1h1h1m-6 1h1h1h1h1h1m-6 1h1m2 0h1m1 0h1m-8 1h1h1h1h1h1m1 0h1h1h1h1m3 0h1h1m1 0h1m-19 1h1h1m1 0h1h1h1h1m1 0h1h1h1m1 0h1h1h1h1h1m-19 1h1h1h1h1h1h1h1h1h1h1h1h1h1m1 0h1h1m-19 1h1h1h1m6 0h1h1m1 0h1h1h1h1m-18 1h1h1h1m9 0h1h1h1m-17 1h1h1h1m11 0h1h1h1m-19 1h1h1h1h1m12 0h1m-19 1h1h1m1 0h1m14 0h1h1m-19 1h1m15 0h1h1m-20 1h1h1m16 0h1h1h1m-21 1h1h1m15 0h1m1 0h1m-20 1h1h1m13 0h1h1h1h1m-19 1h1h1m11 0h1h1h1h1h1m-17 1h1m10 0h1h1h1h1m-14 1h1h1m7 0h1h1h1h1m-12 1h1h1m5 0h1m1 0h1h1m-11 1h1m1 0h1h1h1h1m1 0h1h1h1m-9 1h1h1h1h1h1h1h1h1m-7 1h1h1h1h1h1h1" stroke="#00d0d0" stroke-opacity="1"/>
<path d="M885 114.5h1m1 0h1h1h1h1m-8 1h1m6 0h1h1m-10 1h1m8 0h1m-12 1h1m10 0h1m-13 1h1m11 0h1m-14 1h1m12 0h1m-15 1h1m13 0h1m-16 1h1h1m12 0h1m-15 1h1m13 0h1m-16 1h1h1m12 0h1m-15 1h1h1m11 0h1m-14 1h1h1m10 0h1m-14 1h1h1h1h1m7 0h1h1m-13 1h1h1h1h1h1h1h1h1h1h1h1m-9 1h1h1h1m-17 3h1h1h1h1h1h1m-8 1h1h1h1h1h1h1m1 0h1h1m-11 1h1m1 0h1h1h1h1h1h1h1h1h1m-12 1h1h1m1 0h1h1m2 0h1h1h1h1h1m-14 1h1h1h1h1h1m4 0h1h1h1h1h1m-16 1h1m1 0h1h1h1h1m5 0h1h1h1h1m-16 1h1h1h1h1h1h1m3 0h1h1h1h1h1h1h1m-16 1h1h1h1h1m5 0h1h1h1h1m1 0h1m-15 1h1h1h1m4 0h1h1h1h1m1 0h1m-13 1h1h1h1h1h1h1h1h1h1h1h1m-10 1h1h1h1h1h1h1m-5 1h1h1h1h1h1h1h1m-6 1h1h1h1h1" stroke="#22d840" stroke-opacity="1"/>
<path d="M885 115.5h1h1h1h1h1m-6 1h1h1m3 0h1h1m-10 1h1h1m7 0h1m-11 1h1h1m8 0h1m-12 1h1h1m9 0h1m-13 1h1m11 0h1m-13 1h1m10 0h1m-13 1h1h1m10 0h1m-13 1h1h1m9 0h1m-12 1h1h1m7 0h1h1m-11 1h1h1h1m4 0h1h1h1m-9 1h1h1h1h1m2 0h1m-23 8h1h1m-4 1h1h1h1h1m-5 1h1h1h1h1m-5 1h1h1h1m-5 1h1h1h1h1m-5 1h1h1h1h1" stroke="#a0e400" stroke-opacity="1"/>
<path d="M886 116.5h1h1h1m-6 1h1h1h1m2 0h1h1m-8 1h1m6 0h1m-9 1h1m7 0h1m-10 1h1m8 0h1m-11 1h1m8 0h1m-10 1h1m8 0h1m-10 1h1m7 0h1m-9 1h1h1m4 0h1m-6 1h1h1h1h1" stroke="#ffd400" stroke-opacity="1"/>
<path d="M886 117.5h1h1m-5 1h1h1h1h1h1h1m-6 1h1m4 0h1m-1 1h1m-9 1h1h1m5 0h1m-8 1h1m5 0h1h1m-8 1h1h1m3 0h1h1m-6 1h1h1h1h1" stroke="#ff8000" stroke-opacity="1"/>
<path d="M884 119.5h1h1h1h1m-6 1h1h1h1h1h1h1m-6 1h1h1h1h1h1m-6 1h1h1h1h1h1m-4 1h1h1h1" stroke="#ff1a00" stroke-opacity="1"/>
</g>
<rect x="413.5" y="30.2" width="61.3" height="60.6" fill="none" stroke="#8a8a8a" stroke-width="1"/>
<line x1="444.7" y1="30.2" x2="444.7" y2="90.8" stroke="#6a6a6a" stroke-width="1"/>
<line x1="413.5" y1="56.5" x2="474.8" y2="56.5" stroke="#6a6a6a" stroke-width="1"/>
<text x="410.1" y="33" font-size="4.5" text-anchor="middle" fill="#444" transform="rotate(-90 410.1 33)">10<tspan dy="-1.71" font-size="3.33">7</tspan><tspan dy="1.71">&#8203;</tspan></text>
<line x1="411.9" y1="33" x2="413.5" y2="33" stroke="#777" stroke-width="0.6"/>
<text x="410.1" y="41.2" font-size="4.5" text-anchor="middle" fill="#444" transform="rotate(-90 410.1 41.2)">10<tspan dy="-1.71" font-size="3.33">6</tspan><tspan dy="1.71">&#8203;</tspan></text>
<line x1="411.9" y1="41.2" x2="413.5" y2="41.2" stroke="#777" stroke-width="0.6"/>
<text x="410.1" y="49.4" font-size="4.5" text-anchor="middle" fill="#444" transform="rotate(-90 410.1 49.4)">10<tspan dy="-1.71" font-size="3.33">5</tspan><tspan dy="1.71">&#8203;</tspan></text>
<line x1="411.9" y1="49.4" x2="413.5" y2="49.4" stroke="#777" stroke-width="0.6"/>
<text x="410.1" y="57.6" font-size="4.5" text-anchor="middle" fill="#444" transform="rotate(-90 410.1 57.6)">10<tspan dy="-1.71" font-size="3.33">4</tspan><tspan dy="1.71">&#8203;</tspan></text>
<line x1="411.9" y1="57.6" x2="413.5" y2="57.6" stroke="#777" stroke-width="0.6"/>
<text x="410.1" y="65.8" font-size="4.5" text-anchor="middle" fill="#444" transform="rotate(-90 410.1 65.8)">10<tspan dy="-1.71" font-size="3.33">3</tspan><tspan dy="1.71">&#8203;</tspan></text>
<line x1="411.9" y1="65.8" x2="413.5" y2="65.8" stroke="#777" stroke-width="0.6"/>
<text x="410.1" y="74" font-size="4.5" text-anchor="middle" fill="#444" transform="rotate(-90 410.1 74)">10<tspan dy="-1.71" font-size="3.33">2</tspan><tspan dy="1.71">&#8203;</tspan></text>
<line x1="411.9" y1="74" x2="413.5" y2="74" stroke="#777" stroke-width="0.6"/>
<text x="410.1" y="82.2" font-size="4.5" text-anchor="middle" fill="#444" transform="rotate(-90 410.1 82.2)">10<tspan dy="-1.71" font-size="3.33">1</tspan><tspan dy="1.71">&#8203;</tspan></text>
<line x1="411.9" y1="82.2" x2="413.5" y2="82.2" stroke="#777" stroke-width="0.6"/>
<text x="410.1" y="90.4" font-size="4.5" text-anchor="middle" fill="#444" transform="rotate(-90 410.1 90.4)">10<tspan dy="-1.71" font-size="3.33">0</tspan><tspan dy="1.71">&#8203;</tspan></text>
<line x1="411.9" y1="90.4" x2="413.5" y2="90.4" stroke="#777" stroke-width="0.6"/>
<text x="414.7" y="97.3" font-size="4.5" text-anchor="middle" fill="#444">10<tspan dy="-1.71" font-size="3.33">0</tspan><tspan dy="1.71">&#8203;</tspan></text>
<line x1="414.7" y1="90.8" x2="414.7" y2="92.4" stroke="#777" stroke-width="0.6"/>
<text x="428.8" y="97.3" font-size="4.5" text-anchor="middle" fill="#444">10<tspan dy="-1.71" font-size="3.33">2</tspan><tspan dy="1.71">&#8203;</tspan></text>
<line x1="428.8" y1="90.8" x2="428.8" y2="92.4" stroke="#777" stroke-width="0.6"/>
<text x="444.3" y="97.3" font-size="4.5" text-anchor="middle" fill="#444">10<tspan dy="-1.71" font-size="3.33">4</tspan><tspan dy="1.71">&#8203;</tspan></text>
<line x1="444.3" y1="90.8" x2="444.3" y2="92.4" stroke="#777" stroke-width="0.6"/>
<text x="460.5" y="97.3" font-size="4.5" text-anchor="middle" fill="#444">10<tspan dy="-1.71" font-size="3.33">6</tspan><tspan dy="1.71">&#8203;</tspan></text>
<line x1="460.5" y1="90.8" x2="460.5" y2="92.4" stroke="#777" stroke-width="0.6"/>
<text x="472.7" y="97.3" font-size="4.5" text-anchor="middle" fill="#444">10<tspan dy="-1.71" font-size="3.33">7</tspan><tspan dy="1.71">&#8203;</tspan></text>
<line x1="472.7" y1="90.8" x2="472.7" y2="92.4" stroke="#777" stroke-width="0.6"/>
<text x="443.3" y="25.3" font-size="8.9" font-weight="bold" text-anchor="middle">20 ug/ml ADQ</text>
<text x="473.4" y="46.3" font-size="9" font-weight="bold" text-anchor="end" fill="#F81414">3.03%</text>
<text x="467.5" y="34.5" font-size="3.8" text-anchor="middle" fill="#333">Q4-2</text>
<text x="467.5" y="38.5" font-size="3.8" text-anchor="middle" fill="#333">3.03%</text>
<g transform="scale(0.5)">
<path d="M1081 78.5h1m0 2h1m-4 1h1h1h1h1h1m-9 1h1m5 0h1h1h1h1m-50 1h1m38 0h1h1m2 0h1h1h1h1m1 0h1m-11 1h1h1m1 0h1m1 0h1m2 0h1m-4 1h1h1m2 0h1m4 0h1m-15 1h1m2 0h1m1 0h1h1h1h1m-7 1h1h1m1 0h1m-39 1h1m32 0h1m2 0h1m1 0h1m-11 1h1m2 0h1m1 0h1h1h1m3 0h1m-11 1h1h1m1 0h1h1h1m-3 1h1m3 0h1m-36 1h1m25 0h1m2 0h1m4 0h1m-12 1h1m2 0h1m1 0h1m1 0h1m1 0h1m-48 1h1m32 0h1m7 0h1h1h1m-58 1h1m1 0h1m26 0h1m5 0h1m1 0h1m6 0h1m5 0h1m5 0h1m-68 1h1m30 0h1m17 0h1m14 0h1m1 0h1h1m-10 1h1h1m-59 1h1m35 0h1m23 0h1m-43 1h1m33 0h1m7 0h1h1h1h1h1m-62 1h1m32 0h1m4 0h1m14 0h1m1 0h1m1 0h1h1h1m3 0h1m-53 1h1m6 0h1m16 0h1m21 0h1h1m1 0h1h1m-10 1h1m1 0h1h1m1 0h1h1m9 0h1m-54 1h1m1 0h1m4 0h1m10 0h1m18 0h1h1m3 0h1h1m-36 1h1m10 0h1m12 0h1m2 0h1h1h1h1h1h1m-40 1h1m9 0h1m11 0h1m2 0h1m2 0h1h1m7 0h1h1m4 0h1m-33 1h1m5 0h1m2 0h1m5 0h1m11 0h1m2 0h1m10 0h1m-61 1h1m7 0h1m7 0h1m4 0h1m3 0h1m3 0h1h1m1 0h1m13 0h1m1 0h1m-54 1h1m5 0h1m5 0h1m13 0h1m2 0h1m21 0h1m1 0h1m-45 1h1m15 0h1m3 0h1h1h1h1h1m31 0h1m-73 1h1m7 0h1m7 0h1m8 0h1m12 0h1h1h1m21 0h1h1m3 0h1m-72 1h1m12 0h1m11 0h1m1 0h1m5 0h1m5 0h1m2 0h1m19 0h1m1 0h1m-68 1h1m11 0h1m6 0h1h1m2 0h1m2 0h1m1 0h1h1h1m7 0h1m4 0h1m25 0h1m6 0h1m12 0h1m-90 1h1m10 0h1m7 0h1m8 0h1m2 0h1h1m4 0h1h1h1m1 0h1h1h1h1m20 0h1h1h1m-55 1h1m1 0h1m5 0h1m1 0h1m4 0h1h1h1m5 0h1h1h1m1 0h1h1m1 0h1m21 0h1h1m-57 1h1m15 0h1m2 0h1m4 0h1m1 0h1m30 0h1m3 0h1m-58 1h1h1h1m4 0h1h1h1h1m3 0h1m1 0h1m8 0h1m23 0h1m7 0h1m-61 1h1m2 0h1m1 0h1m5 0h1m1 0h1m1 0h1m1 0h1m1 0h1h1h1h1m1 0h1m4 0h1m23 0h1h1m2 0h1m4 0h1m-70 1h1m1 0h1m2 0h1m8 0h1m1 0h1m4 0h1m2 0h1h1m3 0h1h1h1h1h1h1h1m28 0h1m-65 1h1m5 0h1m3 0h1h1m3 0h1m2 0h1m2 0h1h1m1 0h1m1 0h1h1m-28 1h1h1m3 0h1m1 0h1m6 0h1m3 0h1m1 0h1h1h1m1 0h1m33 0h1m1 0h1m-61 1h1m5 0h1h1m1 0h1m5 0h1m1 0h1h1m1 0h1h1m-22 1h1m3 0h1m5 0h1m1 0h1h1h1m2 0h1m3 0h1m30 0h1m-59 1h1m6 0h1m3 0h1h1m4 0h1h1h1h1m2 0h1m1 0h1h1m30 0h1m5 0h1m10 0h1m1 0h1m-72 1h1m4 0h1h1m2 0h1h1m3 0h1m3 0h1h1m33 0h1h1m2 0h1m-57 1h1m1 0h1m1 0h1h1h1h1m1 0h1m1 0h1m2 0h1m1 0h1h1m29 0h1h1m2 0h1m3 0h1h1m5 0h1m1 0h1m-68 1h1m4 0h1m1 0h1m2 0h1h1m5 0h1m33 0h1h1h1m1 0h1h1m1 0h1m2 0h1m10 0h1m-72 1h1m5 0h1h1m1 0h1m7 0h1m29 0h1h1m1 0h1m2 0h1m2 0h1m1 0h1m-60 1h1m4 0h1m1 0h1m1 0h1m2 0h1h1h1h1m1 0h1m29 0h1h1m2 0h1h1m2 0h1m5 0h1h1m-59 1h1m2 0h1m3 0h1h1h1h1m32 0h1h1h1m2 0h1m1 0h1m3 0h1m9 0h1m-65 1h1m2 0h1h1m1 0h1m2 0h1h1m29 0h1h1m2 0h1h1h1m3 0h1m2 0h1m-61 1h1h1m11 0h1h1m31 0h1h1h1m4 0h1m3 0h1h1m3 0h1m8 0h1m1 0h1m-71 1h1m1 0h1m1 0h1h1h1m2 0h1m1 0h1m1 0h1h1m31 0h1h1m1 0h1m5 0h1m2 0h1m1 0h1m6 0h1m-66 1h1m1 0h1m1 0h1h1h1m2 0h1m2 0h1m28 0h1h1h1m1 0h1m2 0h1m2 0h1m5 0h1m2 0h1h1m-64 1h1h1h1m3 0h1m1 0h1m2 0h1m1 0h1h1h1m28 0h1m1 0h1h1h1h1h1h1m2 0h1m1 0h1m3 0h1h1m11 0h1h1m-71 1h1m1 0h1m1 0h1h1h1h1m1 0h1m30 0h1h1m1 0h1h1h1h1m1 0h1m2 0h1m-52 1h1h1m1 0h1h1m1 0h1h1h1m30 0h1h1h1h1h1h1m3 0h1m3 0h1m19 0h1m-75 1h1h1m2 0h1h1h1h1m2 0h1h1h1h1m31 0h1h1h1m3 0h1h1m-56 1h1m8 0h1h1h1h1h1h1h1h1m27 0h1m1 0h1m3 0h1h1m4 0h1m8 0h1m2 0h1h1h1m-65 1h1m3 0h1h1h1m2 0h1m27 0h1m4 0h1h1h1m5 0h1h1m5 0h1m3 0h1m-68 1h1h1h1m8 0h1h1m1 0h1h1m26 0h1m2 0h1m4 0h1h1m2 0h1m5 0h1m2 0h1m-66 1h1m9 0h1m4 0h1m1 0h1h1h1m23 0h1m13 0h1m3 0h1m10 0h1m-73 1h1m2 0h1m1 0h1m1 0h1h1m2 0h1h1h1h1m2 0h1h1h1h1m21 0h1h1m4 0h1m1 0h1m1 0h1m3 0h1h1h1h1m3 0h1m3 0h1m1 0h1m6 0h1m-66 1h1m1 0h1m3 0h1m1 0h1h1m22 0h1h1h1h1h1m1 0h1m3 0h1h1m1 0h1h1m1 0h1m-59 1h1m6 0h1h1m2 0h1m2 0h1h1h1m1 0h1m19 0h1m1 0h1m2 0h1h1m4 0h1m7 0h1m17 0h1m-75 1h1h1m2 0h1h1h1h1m7 0h1h1h1h1h1m16 0h1h1h1h1h1m1 0h1m3 0h1h1m1 0h1m7 0h1m4 0h1m-58 1h1m1 0h1h1h1m3 0h1m1 0h1h1h1m1 0h1h1m15 0h1m3 0h1m1 0h1m3 0h1m6 0h1m4 0h1m3 0h1m-62 1h1m3 0h1m2 0h1h1m2 0h1h1h1h1h1m1 0h1m17 0h1h1m5 0h1h1m2 0h1m6 0h1m-51 1h1m1 0h1m2 0h1h1m4 0h1h1h1h1h1m1 0h1m11 0h1h1m2 0h1m3 0h1m1 0h1h1m1 0h1m3 0h1m23 0h1m-74 1h1m1 0h1h1h1h1m2 0h1h1h1m1 0h1m1 0h1m1 0h1h1h1h1h1m10 0h1h1m1 0h1m1 0h1m1 0h1h1h1h1h1m3 0h1m1 0h1m4 0h1m-57 1h1m9 0h1h1h1m1 0h1m1 0h1m1 0h1h1m1 0h1h1h1m10 0h1m1 0h1h1m2 0h1m3 0h1m10 0h1m3 0h1m5 0h1h1m-61 1h1h1h1m3 0h1h1m2 0h1m1 0h1m1 0h1m1 0h1m1 0h1h1m5 0h1h1m1 0h1m1 0h1m2 0h1h1h1h1m3 0h1m2 0h1m12 0h1m-56 1h1h1m1 0h1h1m4 0h1h1h1m2 0h1m1 0h1h1m2 0h1h1h1h1m1 0h1h1h1h1m2 0h1m6 0h1m6 0h1m5 0h1m-53 1h1m1 0h1m8 0h1h1h1m3 0h1m2 0h1m1 0h1m3 0h1m2 0h1m4 0h1m4 0h1m4 0h1h1m3 0h1m-55 1h1m5 0h1m1 0h1m2 0h1m3 0h1m1 0h1m6 0h1h1m4 0h1h1h1m1 0h1h1m4 0h1m1 0h1m2 0h1m1 0h1m7 0h1m-51 1h1m2 0h1m3 0h1m1 0h1h1m1 0h1m2 0h1m5 0h1m1 0h1m2 0h1h1h1m3 0h1m1 0h1m3 0h1m1 0h1m3 0h1m2 0h1m6 0h1m9 0h1m-71 1h1m7 0h1h1h1h1m1 0h1m1 0h1m3 0h1h1m1 0h1h1m2 0h1m2 0h1h1m2 0h1h1h1m4 0h1m2 0h1m4 0h1m6 0h1h1m-57 1h1m2 0h1m3 0h1m2 0h1m2 0h1m1 0h1m5 0h1m1 0h1m1 0h1m1 0h1m3 0h1m2 0h1h1m1 0h1m3 0h1h1m14 0h1m15 0h1m8 0h1m-80 1h1m10 0h1h1m2 0h1h1m2 0h1m8 0h1m4 0h1h1m1 0h1m5 0h1m5 0h1m-46 1h1h1m2 0h1m2 0h1m1 0h1m6 0h1m5 0h1m2 0h1m1 0h1m2 0h1h1m10 0h1m7 0h1m2 0h1m2 0h1m-58 1h1m4 0h1m5 0h1m3 0h1h1m1 0h1m2 0h1m1 0h1m1 0h1m10 0h1m2 0h1m12 0h1m-56 1h1m2 0h1m8 0h1m1 0h1m2 0h1m7 0h1m4 0h1h1m2 0h1m2 0h1h1m3 0h1m9 0h1m3 0h1m-56 1h1h1m10 0h1h1m6 0h1m1 0h1m25 0h1m25 0h1m-77 1h1m8 0h1m3 0h1m1 0h1m6 0h1h1m3 0h1m5 0h1m1 0h1m1 0h1m20 0h1m-59 1h1m10 0h1m8 0h1h1m3 0h1h1m2 0h1m1 0h1h1h1m2 0h1m21 0h1m-52 1h1m1 0h1m4 0h1m8 0h1m2 0h1h1h1m4 0h1m4 0h1m-38 1h1m6 0h1m4 0h1m7 0h1m6 0h1m11 0h1m-41 1h1h1m10 0h1m2 0h1m14 0h1m3 0h1m7 0h1m-39 1h1m15 0h1m8 0h1m4 0h1m5 0h1m9 0h1m5 0h1m-45 1h1m8 0h1m-10 1h1m9 0h1m15 0h1m-23 1h1m12 0h1m-16 1h1h1m17 0h1m-24 1h1m4 0h1m5 0h1m-11 1h1m-4 1h1m42 0h1m-44 1h1m30 1h1" stroke="#1424f0" stroke-opacity="1"/>
<path d="M1052 105.5h1m1 0h1m1 0h1h1m-9 1h1h1m4 0h1h1h1h1m-12 1h1m10 0h1m-14 1h1h1m10 1h1h1m-17 1h1h1m14 0h1m-18 1h1m-1 1h1m15 0h1m-19 1h1h1m16 0h1m-19 1h1m-3 1h1m18 0h1h1m-22 1h1m-1 1h1h1m17 0h1m-22 1h1m1 0h1m17 0h1m-28 1h1m1 0h1h1h1h1h1h1m18 0h1m-31 1h1h1m2 0h1m1 0h1m1 0h1h1m1 0h1m17 0h1m-32 1h1h1h1m1 0h1h1h1m23 0h1m-32 1h1m-2 1h1m1 0h1h1m23 0h1h1h1m-31 1h1h1h1m23 0h1m-29 1h1h1h1h1m20 0h1h1m1 0h1h1m-29 1h1h1h1m20 0h1h1m1 0h1h1m-30 1h1h1m21 0h1h1h1m1 0h1h1m-30 1h1h1h1h1m19 0h1m1 0h1h1h1h1m-29 1h1h1h1m19 0h1h1m1 0h1m-27 1h1h1m20 0h1m-25 1h1h1m1 0h1m19 0h1m1 0h1h1m-27 1h1h1h1m19 0h1m1 0h1h1h1m-27 1h1m1 0h1m18 0h1m3 0h1h1h1m-27 1h1m18 0h1h1m2 0h1m1 0h1h1m-25 1h1m15 0h1h1m1 0h1h1h1m1 0h1h1m-26 1h1m15 0h1m1 0h1h1h1h1h1h1m1 0h1m-26 1h1h1m11 0h1h1h1h1h1m1 0h1h1h1h1h1h1m-25 1h1h1h1m12 0h1m1 0h1m1 0h1h1h1h1h1h1m-26 1h1h1m1 0h1h1m5 0h1h1h1m1 0h1h1h1m1 0h1h1h1h1h1h1h1m-24 1h1h1m1 0h1h1h1h1m1 0h1h1h1h1h1h1h1h1m2 0h1h1m1 0h1h1h1m-24 1h1m1 0h1h1h1h1h1m1 0h1m1 0h1h1m1 0h1h1h1m1 0h1h1h1h1h1m-21 1h1h1m1 0h1h1m1 0h1h1h1m2 0h1m3 0h1m1 0h1h1h1h1m-20 1h1h1h1h1m1 0h1h1h1h1h1h1h1h1m1 0h1h1h1h1m-18 1h1h1h1h1h1m1 0h1h1h1h1h1h1m2 0h1h1h1m-16 1h1h1h1h1h1h1h1m1 0h1h1h1h1h1h1h1m-14 1h1h1m2 0h1h1m1 0h1h1h1h1h1h1m-14 1h1h1m2 0h1h1h1h1h1m2 0h1m-11 1h1m1 0h1h1h1m2 0h1h1h1m-10 1h1h1h1h1m1 0h1h1h1m1 0h1m-9 1h1h1h1h1h1m1 0h1h1m-7 1h1h1h1h1h1" stroke="#0a58ff" stroke-opacity="1"/>
<path d="M1051 106.5h1h1h1h1m-6 1h1h1m3 0h1h1h1m-1 1h1m-12 1h1m10 0h1m-13 1h1m12 1h1m-16 1h1m-2 1h1m14 0h1m-17 1h1m15 0h1m-18 1h1h1m-2 1h1m15 0h1m-18 1h1m15 0h1m-17 1h1m14 0h1m-17 1h1m-3 1h1h1h1m-10 1h1h1m1 0h1h1h1h1h1h1h1m11 0h1m-21 1h1h1m1 0h1h1h1h1h1h1m5 0h1h1m1 0h1h1m-25 1h1h1h1m9 0h1h1m1 0h1h1h1h1h1m1 0h1m-24 1h1h1h1h1m11 0h1h1m1 0h1m1 0h1m-22 1h1h1h1m12 0h1h1h1h1h1m-20 1h1h1m13 0h1h1h1h1m-20 1h1h1m13 0h1h1m-19 1h1h1h1m13 0h1h1h1m-19 1h1h1m13 0h1h1h1m-21 1h1h1m16 0h1h1m-20 1h1h1m14 0h1h1h1m-20 1h1h1h1m12 0h1h1h1m-18 1h1h1h1m11 0h1h1h1m-16 1h1h1m8 0h1h1h1h1h1m-15 1h1h1m6 0h1h1h1m1 0h1h1m-14 1h1h1m5 0h1m1 0h1h1h1h1h1m-14 1h1h1h1h1h1h1h1h1h1h1m-5 1h1h1h1h1m-7 1h1h1m1 0h1h1" stroke="#0096ff" stroke-opacity="1"/>
<path d="M1051 107.5h1h1h1m-6 1h1h1m4 0h1m-9 1h1h1m7 0h1m-11 1h1m10 0h1m-13 1h1m11 0h1m-14 1h1m12 0h1m-15 1h1m-1 1h1m12 0h1m-15 1h1m-2 1h1m13 0h1m-15 1h1m11 1h1m-14 1h1m11 0h1m-14 1h1h1h1m7 0h1m-11 1h1h1h1m1 0h1h1h1h1h1m-9 1h1h1m1 0h1h1m-16 1h1h1h1h1h1h1h1h1m-10 1h1h1h1h1m2 0h1h1h1h1m-12 1h1m1 0h1h1m5 0h1h1h1m-13 1h1h1h1m7 0h1h1h1m-14 1h1h1h1m8 0h1m-13 1h1h1h1m8 0h1h1m-14 1h1h1h1m7 0h1h1h1m-15 1h1h1h1h1m6 0h1m1 0h1m-14 1h1h1h1h1h1m1 0h1h1h1h1h1h1h1h1m-13 1h1h1h1h1h1h1m1 0h1m1 0h1h1m-12 1h1h1h1h1h1h1h1h1h1m-9 1h1h1h1h1h1h1h1h1m-8 1h1h1h1h1m1 0h1m-5 1h1h1h1h1" stroke="#00d0d0" stroke-opacity="1"/>
<path d="M1050 108.5h1h1h1h1m-6 1h1h1m3 0h1h1m-8 1h1m6 0h1h1m-11 1h1m9 0h1m-12 1h1m-2 1h1h1m10 0h1m-13 1h1m10 0h1m-13 1h1h1m-3 1h1h1m10 0h1m-13 1h1h1m9 0h1m-13 1h1h1h1m8 0h1m-12 1h1h1h1h1h1h1m2 0h1h1h1m-10 1h1h1h1h1h1h1h1m-19 4h1m-3 1h1h1h1h1h1m-7 1h1h1h1h1h1h1h1m-8 1h1h1h1h1h1h1h1m-8 1h1h1h1h1h1h1h1h1m-9 1h1h1h1h1h1h1h1m-7 1h1h1h1h1m-5 1h1" stroke="#22d840" stroke-opacity="1"/>
<path d="M1050 109.5h1h1h1m-5 1h1h1m2 0h1h1m-8 1h1h1m5 0h1h1m-10 1h1h1m7 0h1m-10 1h1m8 0h1m-2 1h1m-10 1h1m8 0h1m-11 1h1h1m7 0h1m-10 1h1h1h1m5 0h1m-9 1h1h1h1h1h1h1h1h1m-5 1h1h1" stroke="#a0e400" stroke-opacity="1"/>
<path d="M1050 110.5h1h1m-4 1h1m3 0h1m-6 1h1m5 0h1m-8 1h1m6 0h1m-9 1h1m-1 1h1m6 0h1m-8 1h1m5 0h1m-6 1h1h1h1h1h1" stroke="#ffd400" stroke-opacity="1"/>
<path d="M1049 111.5h1h1h1m-4 1h1m2 0h1h1m-6 1h1m4 0h1m-7 1h1m5 0h1m-7 1h1m4 0h1m-5 1h1h1h1h1" stroke="#ff8000" stroke-opacity="1"/>
<path d="M1049 112.5h1h1m-3 1h1h1h1h1m-5 1h1h1h1h1h1m-5 1h1h1h1h1" stroke="#ff1a00" stroke-opacity="1"/>
</g>
<rect x="495" y="30.2" width="61.3" height="60.6" fill="none" stroke="#8a8a8a" stroke-width="1"/>
<line x1="526.2" y1="30.2" x2="526.2" y2="90.8" stroke="#6a6a6a" stroke-width="1"/>
<line x1="495" y1="56.5" x2="556.3" y2="56.5" stroke="#6a6a6a" stroke-width="1"/>
<text x="491.6" y="33" font-size="4.5" text-anchor="middle" fill="#444" transform="rotate(-90 491.6 33)">10<tspan dy="-1.71" font-size="3.33">7</tspan><tspan dy="1.71">&#8203;</tspan></text>
<line x1="493.4" y1="33" x2="495" y2="33" stroke="#777" stroke-width="0.6"/>
<text x="491.6" y="41.2" font-size="4.5" text-anchor="middle" fill="#444" transform="rotate(-90 491.6 41.2)">10<tspan dy="-1.71" font-size="3.33">6</tspan><tspan dy="1.71">&#8203;</tspan></text>
<line x1="493.4" y1="41.2" x2="495" y2="41.2" stroke="#777" stroke-width="0.6"/>
<text x="491.6" y="49.4" font-size="4.5" text-anchor="middle" fill="#444" transform="rotate(-90 491.6 49.4)">10<tspan dy="-1.71" font-size="3.33">5</tspan><tspan dy="1.71">&#8203;</tspan></text>
<line x1="493.4" y1="49.4" x2="495" y2="49.4" stroke="#777" stroke-width="0.6"/>
<text x="491.6" y="57.6" font-size="4.5" text-anchor="middle" fill="#444" transform="rotate(-90 491.6 57.6)">10<tspan dy="-1.71" font-size="3.33">4</tspan><tspan dy="1.71">&#8203;</tspan></text>
<line x1="493.4" y1="57.6" x2="495" y2="57.6" stroke="#777" stroke-width="0.6"/>
<text x="491.6" y="65.8" font-size="4.5" text-anchor="middle" fill="#444" transform="rotate(-90 491.6 65.8)">10<tspan dy="-1.71" font-size="3.33">3</tspan><tspan dy="1.71">&#8203;</tspan></text>
<line x1="493.4" y1="65.8" x2="495" y2="65.8" stroke="#777" stroke-width="0.6"/>
<text x="491.6" y="74" font-size="4.5" text-anchor="middle" fill="#444" transform="rotate(-90 491.6 74)">10<tspan dy="-1.71" font-size="3.33">2</tspan><tspan dy="1.71">&#8203;</tspan></text>
<line x1="493.4" y1="74" x2="495" y2="74" stroke="#777" stroke-width="0.6"/>
<text x="491.6" y="82.2" font-size="4.5" text-anchor="middle" fill="#444" transform="rotate(-90 491.6 82.2)">10<tspan dy="-1.71" font-size="3.33">1</tspan><tspan dy="1.71">&#8203;</tspan></text>
<line x1="493.4" y1="82.2" x2="495" y2="82.2" stroke="#777" stroke-width="0.6"/>
<text x="491.6" y="90.4" font-size="4.5" text-anchor="middle" fill="#444" transform="rotate(-90 491.6 90.4)">10<tspan dy="-1.71" font-size="3.33">0</tspan><tspan dy="1.71">&#8203;</tspan></text>
<line x1="493.4" y1="90.4" x2="495" y2="90.4" stroke="#777" stroke-width="0.6"/>
<text x="496.2" y="97.3" font-size="4.5" text-anchor="middle" fill="#444">10<tspan dy="-1.71" font-size="3.33">0</tspan><tspan dy="1.71">&#8203;</tspan></text>
<line x1="496.2" y1="90.8" x2="496.2" y2="92.4" stroke="#777" stroke-width="0.6"/>
<text x="510.3" y="97.3" font-size="4.5" text-anchor="middle" fill="#444">10<tspan dy="-1.71" font-size="3.33">2</tspan><tspan dy="1.71">&#8203;</tspan></text>
<line x1="510.3" y1="90.8" x2="510.3" y2="92.4" stroke="#777" stroke-width="0.6"/>
<text x="525.8" y="97.3" font-size="4.5" text-anchor="middle" fill="#444">10<tspan dy="-1.71" font-size="3.33">4</tspan><tspan dy="1.71">&#8203;</tspan></text>
<line x1="525.8" y1="90.8" x2="525.8" y2="92.4" stroke="#777" stroke-width="0.6"/>
<text x="542" y="97.3" font-size="4.5" text-anchor="middle" fill="#444">10<tspan dy="-1.71" font-size="3.33">6</tspan><tspan dy="1.71">&#8203;</tspan></text>
<line x1="542" y1="90.8" x2="542" y2="92.4" stroke="#777" stroke-width="0.6"/>
<text x="554.2" y="97.3" font-size="4.5" text-anchor="middle" fill="#444">10<tspan dy="-1.71" font-size="3.33">7</tspan><tspan dy="1.71">&#8203;</tspan></text>
<line x1="554.2" y1="90.8" x2="554.2" y2="92.4" stroke="#777" stroke-width="0.6"/>
<text x="522.7" y="25.5" font-size="8.9" font-weight="bold" text-anchor="middle">TAM</text>
<text x="554.6" y="46.5" font-size="9" font-weight="bold" text-anchor="end" fill="#F81414">9.64%</text>
<text x="549" y="34.5" font-size="3.8" text-anchor="middle" fill="#333">Q4-2</text>
<text x="549" y="38.5" font-size="3.8" text-anchor="middle" fill="#333">9.64%</text>
<g transform="scale(0.5)">
<path d="M744 246.5h1m0 2h1h1m-4 1h1m2 0h1h1m-5 1h1m-7 1h1m1 0h1m2 0h1h1m1 0h1h1m-8 1h1m3 0h1m-8 1h1m2 0h1m2 0h1m1 0h1m-13 1h1m8 0h1m-7 1h1h1m1 0h1m3 0h1m-6 1h1h1h1m1 0h1m1 0h1m-8 1h1h1m3 0h1h1m-7 1h1h1m1 0h1h1m-52 1h1m40 0h1m2 0h1h1m2 0h1h1h1h1m-51 2h1m40 0h1h1h1h1m2 0h1m8 0h1m-16 1h1m2 0h1h1h1h1m-6 1h1h1m1 0h1m-18 1h1m9 0h1h1m1 0h1m2 0h1h1h1m1 0h1m1 0h1m-14 1h1h1m1 0h1m1 0h1h1h1m3 0h1m-27 1h1m6 0h1m10 0h1h1m-60 1h1m31 0h1m18 0h1m2 0h1m1 0h1h1m1 0h1m2 0h1m-62 1h1m10 0h1m3 0h1m37 0h1m1 0h1m2 0h1h1h1m2 0h1m-55 1h1m22 0h1m12 0h1m2 0h1m1 0h1h1m2 0h1m1 0h1m1 0h1m-64 1h1m27 0h1m10 0h1m9 0h1m3 0h1m1 0h1h1h1m2 0h1h1h1m1 0h1m7 0h1m-59 1h1m2 0h1m7 0h1m8 0h1m10 0h1m3 0h1h1m3 0h1m4 0h1m-36 1h1m16 0h1m5 0h1m2 0h1m2 0h1m1 0h1m4 0h1m1 0h1m-47 1h1m14 0h1m9 0h1m17 0h1m3 0h1m1 0h1m3 0h1m-53 1h1m16 0h1m4 0h1m4 0h1m14 0h1m-65 1h1m6 0h1m2 0h1m2 0h1m7 0h1m6 0h1m13 0h1m1 0h1m4 0h1m1 0h1m13 0h1m2 0h1m8 0h1m-54 1h1m5 0h1m3 0h1m5 0h1m7 0h1m17 0h1m11 0h1m-57 1h1m6 0h1m10 0h1m6 0h1h1m20 0h1m3 0h1m-70 1h1m11 0h1m4 0h1h1m6 0h1m1 0h1h1m12 0h1m-46 1h1m13 0h1m20 0h1m6 0h1h1h1m1 0h1m20 0h1h1m-55 1h1m9 0h1m9 0h1m1 0h1m3 0h1m4 0h1m-25 1h1m2 0h1m6 0h1h1m4 0h1h1m5 0h1h1m20 0h1m1 0h1m-63 1h1m2 0h1m7 0h1m5 0h1m3 0h1m3 0h1m1 0h1h1m1 0h1h1h1m2 0h1m1 0h1m-39 1h1m3 0h1m4 0h1m2 0h1m5 0h1m1 0h1m2 0h1h1h1m1 0h1m5 0h1h1h1h1h1m25 0h1m-53 1h1m5 0h1m1 0h1h1m5 0h1m1 0h1h1h1m2 0h1h1h1m-35 1h1m5 0h1m10 0h1m1 0h1m1 0h1h1h1m3 0h1m2 0h1m25 0h1h1m1 0h1m-62 1h1m2 0h1m5 0h1m5 0h1m1 0h1h1m1 0h1m3 0h1m2 0h1h1m3 0h1m37 0h1m-65 1h1m2 0h1m7 0h1h1m2 0h1m3 0h1m3 0h1h1m28 0h1m-62 1h1m1 0h1m1 0h1m5 0h1h1h1h1m4 0h1m3 0h1h1h1h1m1 0h1m3 0h1h1m27 0h1h1m-62 1h1m9 0h1m1 0h1h1h1m7 0h1h1h1h1m1 0h1m1 0h1h1h1h1m-34 1h1m11 0h1h1h1m5 0h1h1m1 0h1m1 0h1m1 0h1m3 0h1h1m25 0h1m-56 1h1m11 0h1h1m1 0h1m2 0h1h1h1h1h1m2 0h1h1m27 0h1m2 0h1m-57 1h1m7 0h1h1m8 0h1m2 0h1m1 0h1m26 0h1m6 0h1m-54 1h1m6 0h1m1 0h1h1m1 0h1h1m1 0h1m27 0h1h1m1 0h1h1m2 0h1m1 0h1m12 0h1m-78 1h1m5 0h1m1 0h1h1h1h1h1h1m1 0h1m3 0h1m1 0h1m1 0h1h1m35 0h1m-56 1h1m3 0h1m1 0h1m3 0h1m1 0h1m1 0h1h1h1m30 0h1h1m3 0h1h1m-58 1h1h1m4 0h1m3 0h1m3 0h1h1h1h1m1 0h1m34 0h1m1 0h1m10 0h1m-60 1h1m1 0h1m1 0h1m2 0h1m1 0h1m33 0h1h1h1m1 0h1m5 0h1m5 0h1m-65 1h1m3 0h1h1m1 0h1m3 0h1h1m1 0h1m31 0h1m1 0h1m2 0h1m9 0h1m5 0h1m-71 1h1m3 0h1m8 0h1h1m1 0h1m32 0h1h1m1 0h1m1 0h1m2 0h1m1 0h1m2 0h1m4 0h1m-69 1h1m2 0h1m1 0h1h1m3 0h1h1h1h1h1h1m1 0h1m31 0h1h1m1 0h1m7 0h1m4 0h1m16 0h1m-80 1h1m2 0h1m4 0h1m2 0h1h1m1 0h1m32 0h1h1m2 0h1h1m1 0h1h1m2 0h1m1 0h1m4 0h1m-66 1h1m3 0h1h1h1h1h1m1 0h1m1 0h1m33 0h1h1h1h1m2 0h1m1 0h1m3 0h1h1m2 0h1m-61 1h1h1h1m2 0h1h1m1 0h1h1m32 0h1m1 0h1m4 0h1m3 0h1m4 0h1m9 0h1m-73 1h1h1h1m2 0h1m1 0h1m1 0h1m5 0h1h1m31 0h1m2 0h1m1 0h1h1h1m1 0h1h1m5 0h1m1 0h1m11 0h1m-80 1h1h1m9 0h1m3 0h1m1 0h1m33 0h1m4 0h1h1m7 0h1m-66 1h1h1m11 0h1m1 0h1m30 0h1h1h1m7 0h1h1h1m7 0h1m-59 1h1h1h1h1m3 0h1h1m28 0h1m1 0h1m1 0h1m3 0h1m3 0h1m15 0h1m-72 1h1m1 0h1m5 0h1m2 0h1m1 0h1h1m26 0h1h1h1h1h1m1 0h1m1 0h1m1 0h1h1m3 0h1m3 0h1m3 0h1m-59 1h1m2 0h1m1 0h1h1m27 0h1h1m2 0h1h1m1 0h1m4 0h1h1m4 0h1m1 0h1m4 0h1m6 0h1m-68 1h1h1h1m3 0h1m1 0h1m28 0h1h1h1m4 0h1m4 0h1m2 0h1m2 0h1m2 0h1m4 0h1m-69 1h1m4 0h1h1m1 0h1h1m2 0h1m27 0h1m1 0h1m1 0h1h1m1 0h1m2 0h1h1m10 0h1m3 0h1m8 0h1h1m4 0h1m-83 1h1m4 0h1m2 0h1m2 0h1h1h1m27 0h1m2 0h1m1 0h1h1m1 0h1m2 0h1m1 0h1h1h1h1m11 0h1m-69 1h1m3 0h1m1 0h1m1 0h1h1h1h1m1 0h1m26 0h1h1h1m2 0h1m3 0h1m6 0h1m1 0h1m-58 1h1h1m2 0h1h1m5 0h1h1m2 0h1m22 0h1m7 0h1h1h1h1m1 0h1m5 0h1m-58 1h1m1 0h1h1m6 0h1h1m2 0h1h1m24 0h1h1m10 0h1m1 0h1m22 0h1m-81 1h1m6 0h1h1m1 0h1h1m3 0h1m1 0h1m21 0h1m2 0h1h1m2 0h1m2 0h1h1m2 0h1m5 0h1m6 0h1m-66 1h1m4 0h1h1h1m1 0h1h1m1 0h1m3 0h1h1m20 0h1h1h1h1h1m1 0h1m1 0h1h1h1m2 0h1m2 0h1m3 0h1m-55 1h1m4 0h1h1h1h1m1 0h1h1h1h1m19 0h1m2 0h1h1m3 0h1m2 0h1m3 0h1m3 0h1m1 0h1m8 0h1m-64 1h1m3 0h1m2 0h1h1m4 0h1m17 0h1h1m2 0h1h1h1h1h1m8 0h1m2 0h1m-49 1h1h1h1m1 0h1m1 0h1m1 0h1h1m1 0h1m15 0h1h1m3 0h1m4 0h1m3 0h1m1 0h1h1h1m3 0h1m-48 1h1m2 0h1m5 0h1h1h1m2 0h1m8 0h1h1h1m5 0h1m1 0h1m2 0h1h1h1m4 0h1m-47 1h1m3 0h1m4 0h1h1h1m1 0h1h1h1h1h1h1h1h1m1 0h1h1h1h1m1 0h1h1m4 0h1m1 0h1h1h1m3 0h1m9 0h1m-58 1h1m4 0h1m5 0h1h1h1h1m1 0h1h1m1 0h1m2 0h1m3 0h1h1h1m1 0h1h1m2 0h1h1h1h1m1 0h1h1m8 0h1h1m28 0h1m-71 1h1m1 0h1m7 0h1m7 0h1m2 0h1m1 0h1h1h1m3 0h1m1 0h1h1h1m1 0h1h1h1m1 0h1m6 0h1m11 0h1m-69 1h1m12 0h1m2 0h1h1h1h1h1h1m1 0h1h1m3 0h1m1 0h1m1 0h1h1m3 0h1h1m4 0h1m3 0h1m13 0h1m12 0h1m-74 1h1m3 0h1m5 0h1m9 0h1m1 0h1h1h1h1m4 0h1m2 0h1m6 0h1m7 0h1m2 0h1m1 0h1m-54 1h1h1m2 0h1m2 0h1m2 0h1m1 0h1m4 0h1m3 0h1m2 0h1m1 0h1m2 0h1m3 0h1m1 0h1m1 0h1m1 0h1h1m2 0h1m1 0h1m4 0h1h1m-53 1h1m4 0h1m2 0h1m15 0h1m2 0h1m3 0h1m2 0h1m4 0h1h1h1m1 0h1h1m4 0h1m10 0h1m-55 1h1h1m3 0h1m5 0h1h1m3 0h1m6 0h1m1 0h1m6 0h1m2 0h1m8 0h1m2 0h1h1m1 0h1m14 0h1m-66 1h1m1 0h1m2 0h1m1 0h1h1h1m2 0h1h1m2 0h1m3 0h1m2 0h1m1 0h1m2 0h1h1m4 0h1h1m7 0h1m-47 1h1m2 0h1m5 0h1m6 0h1h1m1 0h1h1m2 0h1m3 0h1m2 0h1h1m3 0h1m10 0h1h1m24 0h1m-76 1h1m5 0h1m4 0h1m2 0h1m2 0h1m7 0h1m2 0h1m17 0h1m12 0h1m14 0h1m-73 1h1m9 0h1m4 0h1m8 0h1m1 0h1m4 0h1m3 0h1m10 0h1m-32 1h1m1 0h1m4 0h1h1m5 0h1m8 0h1m12 0h1m6 0h1m-58 1h1m1 0h1m12 0h1m1 0h1m4 0h1m6 0h1m1 0h1m10 0h1m2 0h1m-35 1h1m1 0h1m3 0h1m7 0h1m14 0h1m3 0h1m14 0h1m-53 1h1m24 0h1h1m-15 1h1m11 0h1m13 0h1m-31 1h1m9 0h1m6 0h1h1m5 0h1m11 0h1m-43 1h1m18 0h1m-28 1h1m46 0h1m-40 1h1m1 0h1m16 0h1m2 0h1m10 0h1m-32 1h1m28 0h1" stroke="#1424f0" stroke-opacity="1"/>
<path d="M721 273.5h1h1h1h1h1m-1 1h1m0 1h1h1m-13 1h1m11 0h1m-1 1h1m-17 1h1m15 0h1m-17 1h1m15 0h1m-18 1h1m15 1h1h1m-20 1h1m17 0h1m-23 2h1m2 0h1m17 0h1m-24 1h1m2 0h1m-4 1h1h1h1m-4 2h1m-3 1h1h1m19 0h1m-24 1h1h1m21 0h1m-25 1h1h1m19 0h1h1m-26 1h1m3 0h1m-8 1h1m1 0h1h1h1m16 0h1h1m1 0h1m-29 1h1h1h1h1m1 0h1m1 0h1m15 0h1m-28 1h1m1 0h1h1h1h1m2 0h1m17 0h1h1h1h1m-29 1h1h1h1h1h1m20 0h1m1 0h1m-31 1h1h1h1m1 0h1h1m21 0h1h1m1 0h1m-32 1h1h1h1h1h1h1m21 0h1h1h1h1m-32 1h1h1h1m2 0h1h1m21 0h1h1h1m-31 1h1h1h1h1h1m22 0h1m2 0h1m-31 1h1h1m1 0h1m1 0h1m21 0h1m1 0h1h1m-29 1h1h1h1m21 0h1h1m1 0h1m-30 1h1h1h1m1 0h1h1m19 0h1h1m1 0h1m-29 1h1h1h1h1h1m17 0h1h1h1h1h1h1h1m-29 1h1m1 0h1h1m18 0h1h1h1h1h1h1h1m-28 1h1h1h1h1m17 0h1m3 0h1h1m-29 1h1m1 0h1h1h1h1m17 0h1m1 0h1m-24 1h1h1h1h1m14 0h1h1h1h1h1m-25 1h1m1 0h1m1 0h1h1m14 0h1h1h1h1m-25 1h1h1h1h1m2 0h1m14 0h1h1h1m-24 1h1h1h1h1m2 0h1m14 0h1h1h1h1h1m-25 1h1h1h1h1h1h1h1m14 0h1h1h1m-23 1h1h1m2 0h1h1h1m10 0h1m1 0h1m1 0h1h1m-22 1h1h1m2 0h1h1m9 0h1h1h1h1h1m1 0h1m-22 1h1h1h1m1 0h1m1 0h1m8 0h1h1h1m1 0h1h1m-21 1h1m2 0h1h1h1h1h1h1m4 0h1m1 0h1h1m-17 1h1m1 0h1h1h1h1h1h1h1h1h1m1 0h1h1h1h1h1h1m-17 1h1h1h1h1h1h1h1h1h1h1h1h1m1 0h1m1 0h1h1m-18 1h1h1m1 0h1m2 0h1m1 0h1h1m1 0h1h1h1m2 0h1m-16 1h1h1h1m2 0h1h1m1 0h1h1h1m3 0h1m-7 1h1h1h1h1" stroke="#0a58ff" stroke-opacity="1"/>
<path d="M719 274.5h1h1m3 0h1m0 1h1m0 1h1m-13 1h1m11 0h1m-1 2h1m-16 1h1m14 0h1m-17 1h1m-2 1h1m-1 1h1m15 0h1m-18 1h1m-2 1h1h1m14 0h1m-19 1h1h1h1m-5 1h1m2 0h1m-5 1h1h1h1m-3 1h1m16 0h1m-20 1h1h1m13 0h1m1 0h1h1m-19 1h1m10 0h1h1h1h1m-17 1h1m9 0h1h1h1h1h1m-15 1h1h1m7 0h1h1m-15 1h1h1m11 0h1h1m-18 1h1h1h1m1 0h1m9 0h1m-18 1h1m2 0h1h1m12 0h1h1m-19 1h1h1h1m14 0h1h1m-22 1h1h1m1 0h1m15 0h1h1m-20 1h1h1m16 0h1m-21 1h1h1h1m16 0h1h1m-21 1h1h1m16 0h1h1h1m-21 1h1m18 0h1m-20 1h1m13 0h1m1 0h1h1m-18 1h1h1m11 0h1m-15 1h1h1h1m10 0h1m1 0h1m-16 1h1m12 0h1m-12 1h1m9 0h1h1m-14 1h1h1h1m8 0h1h1h1m-14 1h1h1h1h1m7 0h1h1m-13 1h1h1h1m1 0h1m5 0h1m1 0h1h1m-13 1h1h1h1m1 0h1h1h1h1h1m1 0h1h1h1m-11 1h1h1h1h1h1h1h1h1m-9 1h1h1h1h1h1h1h1m1 0h1h1m-10 1h1h1m1 0h1h1h1h1m1 0h1m-8 1h1m1 0h1h1h1m1 0h1h1m-5 1h1h1h1" stroke="#0096ff" stroke-opacity="1"/>
<path d="M718 275.5h1h1m3 0h1h1m0 1h1m-10 1h1m8 0h1m-12 1h1m10 0h1m-13 1h1m11 0h1m-14 1h1m12 0h1m-15 1h1m13 0h1m-16 2h1m13 0h1m-16 1h1m13 0h1m-15 1h1m-2 1h1h1m12 0h1m-16 1h1h1m12 0h1m-17 1h1h1h1h1h1m9 0h1h1m-17 1h1h1h1m1 0h1h1h1h1h1h1m1 0h1h1h1h1m-17 1h1h1h1h1h1h1h1h1m1 0h1h1h1h1m-14 1h1h1h1h1h1h1m1 0h1h1m-9 1h1h1h1h1h1h1m-7 1h1h1h1h1h1h1m-8 1h1h1h1m2 0h1h1h1m-10 1h1h1m1 0h1m3 0h1h1m-12 1h1h1h1h1h1m5 0h1h1m-14 1h1h1h1h1h1h1m5 0h1h1m-15 1h1h1h1h1h1h1h1m6 0h1h1m-16 1h1m1 0h1h1h1h1h1h1m5 0h1m1 0h1m-17 1h1h1h1m4 0h1h1h1m3 0h1h1h1m-17 1h1h1m8 0h1h1h1h1h1m-15 1h1h1m7 0h1h1h1h1h1m-14 1h1h1m7 0h1h1h1m-11 1h1m7 0h1h1m-11 1h1h1m6 0h1h1m-10 1h1h1m6 0h1h1m-10 1h1h1m5 0h1h1m-9 1h1m6 0h1m-7 1h1h1h1h1h1h1h1m-6 1h1h1h1h1h1" stroke="#00d0d0" stroke-opacity="1"/>
<path d="M720 275.5h1h1h1m-5 1h1h1m2 0h1h1h1m-8 1h1m6 0h1m-10 1h1h1m7 0h1m-11 1h1m9 0h1m-12 1h1m-2 1h1m11 0h1m-13 1h1m11 0h1m-14 1h1m11 0h1m-14 1h1h1m10 0h1m-13 1h1h1m10 0h1m-13 1h1h1m9 0h1m-12 1h1h1h1m6 0h1h1m-11 1h1h1h1h1h1h1h1h1h1m-18 6h1h1m-3 1h1h1h1m-5 1h1h1h1h1h1m-6 1h1h1h1h1m-5 1h1h1h1h1h1m-5 1h1h1h1h1h1m-11 1h1h1h1h1m3 0h1m1 0h1m-12 1h1h1h1h1h1h1h1m-7 1h1h1h1h1h1h1h1m-7 1h1h1h1h1h1h1h1m-6 1h1h1h1h1h1h1m-7 1h1h1h1h1h1h1m-6 1h1h1h1h1h1h1m-5 1h1h1h1h1m-4 1h1h1h1" stroke="#22d840" stroke-opacity="1"/>
<path d="M720 276.5h1h1m-4 1h1h1m2 0h1h1m-7 1h1m5 0h1m-9 1h1h1m6 0h1m-9 1h1m7 0h1m-11 1h1m9 0h1m-11 1h1m-2 1h1m9 0h1m-11 1h1m8 0h1m-10 1h1m7 0h1h1m-10 1h1h1m5 0h1h1m-8 1h1h1m1 0h1h1h1" stroke="#a0e400" stroke-opacity="1"/>
<path d="M720 277.5h1h1m-4 1h1m3 0h1m-6 1h1m4 0h1m-7 1h1m5 0h1m-9 1h1h1m6 0h1m-9 1h1m7 0h1m-10 1h1m7 0h1m-9 1h1m6 0h1m-8 1h1h1m4 0h1m-6 1h1h1h1h1h1" stroke="#ffd400" stroke-opacity="1"/>
<path d="M719 278.5h1h1h1m-4 1h1m2 0h1m-5 1h1m3 0h1m-6 1h1m4 0h1m-7 1h1m5 0h1m-8 1h1m5 0h1m-7 1h1h1m3 0h1m-5 1h1h1h1h1" stroke="#ff8000" stroke-opacity="1"/>
<path d="M719 279.5h1h1m-3 1h1h1h1m-4 1h1h1h1h1m-5 1h1h1h1h1h1m-6 1h1h1h1h1h1m-4 1h1h1h1" stroke="#ff1a00" stroke-opacity="1"/>
</g>
<rect x="329.3" y="112.6" width="61.3" height="60.6" fill="none" stroke="#8a8a8a" stroke-width="1"/>
<line x1="360.5" y1="112.6" x2="360.5" y2="173.2" stroke="#6a6a6a" stroke-width="1"/>
<line x1="329.3" y1="138.9" x2="390.6" y2="138.9" stroke="#6a6a6a" stroke-width="1"/>
<text x="325.9" y="115.4" font-size="4.5" text-anchor="middle" fill="#444" transform="rotate(-90 325.9 115.4)">10<tspan dy="-1.71" font-size="3.33">7</tspan><tspan dy="1.71">&#8203;</tspan></text>
<line x1="327.7" y1="115.4" x2="329.3" y2="115.4" stroke="#777" stroke-width="0.6"/>
<text x="325.9" y="123.6" font-size="4.5" text-anchor="middle" fill="#444" transform="rotate(-90 325.9 123.6)">10<tspan dy="-1.71" font-size="3.33">6</tspan><tspan dy="1.71">&#8203;</tspan></text>
<line x1="327.7" y1="123.6" x2="329.3" y2="123.6" stroke="#777" stroke-width="0.6"/>
<text x="325.9" y="131.8" font-size="4.5" text-anchor="middle" fill="#444" transform="rotate(-90 325.9 131.8)">10<tspan dy="-1.71" font-size="3.33">5</tspan><tspan dy="1.71">&#8203;</tspan></text>
<line x1="327.7" y1="131.8" x2="329.3" y2="131.8" stroke="#777" stroke-width="0.6"/>
<text x="325.9" y="140" font-size="4.5" text-anchor="middle" fill="#444" transform="rotate(-90 325.9 140)">10<tspan dy="-1.71" font-size="3.33">4</tspan><tspan dy="1.71">&#8203;</tspan></text>
<line x1="327.7" y1="140" x2="329.3" y2="140" stroke="#777" stroke-width="0.6"/>
<text x="325.9" y="148.2" font-size="4.5" text-anchor="middle" fill="#444" transform="rotate(-90 325.9 148.2)">10<tspan dy="-1.71" font-size="3.33">3</tspan><tspan dy="1.71">&#8203;</tspan></text>
<line x1="327.7" y1="148.2" x2="329.3" y2="148.2" stroke="#777" stroke-width="0.6"/>
<text x="325.9" y="156.4" font-size="4.5" text-anchor="middle" fill="#444" transform="rotate(-90 325.9 156.4)">10<tspan dy="-1.71" font-size="3.33">2</tspan><tspan dy="1.71">&#8203;</tspan></text>
<line x1="327.7" y1="156.4" x2="329.3" y2="156.4" stroke="#777" stroke-width="0.6"/>
<text x="325.9" y="164.6" font-size="4.5" text-anchor="middle" fill="#444" transform="rotate(-90 325.9 164.6)">10<tspan dy="-1.71" font-size="3.33">1</tspan><tspan dy="1.71">&#8203;</tspan></text>
<line x1="327.7" y1="164.6" x2="329.3" y2="164.6" stroke="#777" stroke-width="0.6"/>
<text x="325.9" y="172.8" font-size="4.5" text-anchor="middle" fill="#444" transform="rotate(-90 325.9 172.8)">10<tspan dy="-1.71" font-size="3.33">0</tspan><tspan dy="1.71">&#8203;</tspan></text>
<line x1="327.7" y1="172.8" x2="329.3" y2="172.8" stroke="#777" stroke-width="0.6"/>
<text x="330.5" y="179.7" font-size="4.5" text-anchor="middle" fill="#444">10<tspan dy="-1.71" font-size="3.33">0</tspan><tspan dy="1.71">&#8203;</tspan></text>
<line x1="330.5" y1="173.2" x2="330.5" y2="174.8" stroke="#777" stroke-width="0.6"/>
<text x="344.6" y="179.7" font-size="4.5" text-anchor="middle" fill="#444">10<tspan dy="-1.71" font-size="3.33">2</tspan><tspan dy="1.71">&#8203;</tspan></text>
<line x1="344.6" y1="173.2" x2="344.6" y2="174.8" stroke="#777" stroke-width="0.6"/>
<text x="360.1" y="179.7" font-size="4.5" text-anchor="middle" fill="#444">10<tspan dy="-1.71" font-size="3.33">4</tspan><tspan dy="1.71">&#8203;</tspan></text>
<line x1="360.1" y1="173.2" x2="360.1" y2="174.8" stroke="#777" stroke-width="0.6"/>
<text x="376.3" y="179.7" font-size="4.5" text-anchor="middle" fill="#444">10<tspan dy="-1.71" font-size="3.33">6</tspan><tspan dy="1.71">&#8203;</tspan></text>
<line x1="376.3" y1="173.2" x2="376.3" y2="174.8" stroke="#777" stroke-width="0.6"/>
<text x="388.5" y="179.7" font-size="4.5" text-anchor="middle" fill="#444">10<tspan dy="-1.71" font-size="3.33">7</tspan><tspan dy="1.71">&#8203;</tspan></text>
<line x1="388.5" y1="173.2" x2="388.5" y2="174.8" stroke="#777" stroke-width="0.6"/>
<text x="359.2" y="108.2" font-size="8.9" font-weight="bold" text-anchor="middle">TAM/shCXCL1</text>
<text x="389.2" y="131.2" font-size="9" font-weight="bold" text-anchor="end" fill="#F81414">4.32%</text>
<text x="383.3" y="116.9" font-size="3.8" text-anchor="middle" fill="#333">Q4-2</text>
<text x="383.3" y="120.9" font-size="3.8" text-anchor="middle" fill="#333">4.32%</text>
<g transform="scale(0.5)">
<path d="M908 246.5h1m1 0h1h1m-1 1h1m17 1h1m-21 1h1h1h1h1m0 1h1m-5 1h1m1 0h1h1m-4 1h1m1 0h1h1m-8 1h1m1 0h1m1 0h1m-9 1h1m8 0h1m-12 1h1m1 0h1m2 0h1m1 0h1m2 0h1m-9 1h1m1 0h1h1h1m3 0h1m-67 1h1m55 0h1m1 0h1m1 0h1m5 0h1m-14 1h1m4 0h1m3 0h1m2 0h1m-32 1h1m18 0h1m1 0h1m2 0h1m5 0h1m-12 1h1m1 0h1h1h1m4 0h1m-22 1h1m12 0h1h1h1m1 0h1h1m12 0h1m-19 1h1m1 0h1m1 0h1h1m-17 1h1m12 0h1h1h1m1 0h1m-12 1h1m5 0h1m1 0h1m-12 1h1m5 0h1h1h1m-9 1h1m5 0h1m-44 1h1m15 0h1m30 0h1m-48 1h1m28 0h1m10 0h1m3 0h1m-70 1h1m13 0h1m3 0h1m1 0h1m4 0h1m34 0h1m2 0h1h1m5 0h1m-61 1h1m10 0h1m9 0h1m26 0h1m4 0h1h1m1 0h1m-36 1h1m4 0h1m19 0h1m2 0h1h1m3 0h1m2 0h1m3 0h1m-71 1h1m31 0h1m15 0h1m12 0h1h1m1 0h1m1 0h1m1 0h1m-53 1h1m1 0h1m35 0h1m2 0h1h1m2 0h1h1h1m2 0h1m-67 1h1m5 0h1m30 0h1m2 0h1m1 0h1m3 0h1m3 0h1m6 0h1h1h1m1 0h1m2 0h1m-65 1h1m12 0h1m16 0h1m9 0h1m2 0h1m1 0h1m3 0h1m1 0h1m1 0h1m4 0h1m1 0h1m2 0h1m-48 1h1m7 0h1m11 0h1h1h1h1h1m4 0h1h1h1h1m3 0h1m1 0h1m1 0h1m3 0h1m-53 1h1m7 0h1m13 0h1m12 0h1m6 0h1h1m1 0h1m1 0h1m1 0h1m9 0h1m-43 1h1h1m2 0h1m3 0h1m4 0h1m4 0h1m1 0h1m1 0h1h1h1m7 0h1h1h1m1 0h1m2 0h1m-52 1h1m1 0h1m6 0h1m1 0h1m2 0h1m2 0h1m12 0h1m15 0h1h1m12 0h1m-71 1h1m3 0h1m8 0h1m3 0h1m2 0h1m4 0h1m1 0h1m3 0h1m4 0h1m20 0h1m-57 1h1h1m14 0h1m1 0h1m6 0h1m1 0h1m-33 1h1m10 0h1h1h1m8 0h1m1 0h1m2 0h1m4 0h1m5 0h1m2 0h1h1m16 0h1m1 0h1m-59 1h1m12 0h1m14 0h1m4 0h1m23 0h1m-49 1h1m2 0h1h1m5 0h1m7 0h1h1h1h1h1m2 0h1m23 0h1m1 0h1m4 0h1m2 0h1m4 0h1m-76 1h1m8 0h1m15 0h1m2 0h1h1m2 0h1h1m2 0h1h1m23 0h1m8 0h1h1h1m6 0h1m-74 1h1m1 0h1m1 0h1m15 0h1h1m2 0h1m5 0h1m21 0h1m6 0h1m2 0h1m3 0h1m2 0h1m-74 1h1m6 0h1m7 0h1h1m1 0h1m4 0h1m1 0h1h1m3 0h1m1 0h1m25 0h1m1 0h1m19 0h1m-78 1h1m5 0h1h1m4 0h1m3 0h1m1 0h1m4 0h1m2 0h1m1 0h1h1m22 0h1m3 0h1m2 0h1m1 0h1m2 0h1h1m2 0h1m-72 1h1h1m3 0h1h1m2 0h1h1m4 0h1h1h1m1 0h1m4 0h1h1h1m1 0h1h1m24 0h1m5 0h1h1m2 0h1m1 0h1m3 0h1m5 0h1m-66 1h1m1 0h1m1 0h1m5 0h1h1m2 0h1m1 0h1h1h1m23 0h1h1m2 0h1h1m1 0h1h1m2 0h1m1 0h1h1m1 0h1h1h1m2 0h1h1h1m9 0h1m-89 1h1h1m11 0h1h1h1h1m1 0h1m1 0h1m6 0h1m26 0h1m1 0h1m1 0h1h1m2 0h1h1m1 0h1m1 0h1m1 0h1h1m1 0h1h1h1m1 0h1h1h1m3 0h1m-79 1h1m3 0h1m3 0h1m1 0h1m3 0h1h1h1h1h1h1m2 0h1m32 0h1m3 0h1m1 0h1m1 0h1m4 0h1m1 0h1m2 0h1m2 0h1m-76 1h1m10 0h1h1m1 0h1h1m1 0h1m34 0h1m2 0h1h1h1h1m1 0h1h1m4 0h1h1m8 0h1m-79 1h1m4 0h1m5 0h1m1 0h1m1 0h1h1h1m31 0h1m8 0h1m3 0h1m2 0h1m10 0h1m7 0h1m-85 1h1m10 0h1h1h1m1 0h1m1 0h1m31 0h1m4 0h1m4 0h1m1 0h1h1h1m1 0h1m2 0h1h1m3 0h1m3 0h1m2 0h1m2 0h1m2 0h1m-86 1h1h1m3 0h1h1h1m1 0h1m3 0h1h1m30 0h1m3 0h1m8 0h1m1 0h1m1 0h1h1m1 0h1h1m6 0h1h1m-80 1h1m1 0h1m2 0h1m5 0h1h1m1 0h1m2 0h1m35 0h1h1m3 0h1h1m1 0h1m1 0h1h1m1 0h1m1 0h1m1 0h1m1 0h1m1 0h1m1 0h1m6 0h1m-78 1h1m3 0h1m4 0h1m33 0h1m7 0h1m2 0h1h1h1m8 0h1m2 0h1m-75 1h1m3 0h1h1m3 0h1h1h1h1h1m1 0h1h1m1 0h1m27 0h1m1 0h1m6 0h1m6 0h1m11 0h1m1 0h1h1m6 0h1m-81 1h1m1 0h1m3 0h1m1 0h1m1 0h1m1 0h1m28 0h1m4 0h1h1m1 0h1m6 0h1m5 0h1h1m1 0h1h1m8 0h1m-78 1h1m2 0h1h1m1 0h1h1m1 0h1m1 0h1m1 0h1m30 0h1m1 0h1h1h1m1 0h1m15 0h1m5 0h1m5 0h1m-78 1h1h1m39 0h1m2 0h1m1 0h1h1m4 0h1h1m1 0h1m2 0h1h1m1 0h1m1 0h1h1m-64 1h1m2 0h1m2 0h1h1m2 0h1m29 0h1m4 0h1m1 0h1m1 0h1m24 0h1m-79 1h1h1m1 0h1h1h1m1 0h1m2 0h1h1h1h1m30 0h1m1 0h1h1m1 0h1m2 0h1h1m9 0h1m10 0h1m-74 1h1m1 0h1m2 0h1m5 0h1m32 0h1h1m12 0h1m6 0h1h1m2 0h1m-71 1h1m3 0h1h1m1 0h1m36 0h1m6 0h1m5 0h1m1 0h1m3 0h1m-62 1h1m1 0h1m3 0h1h1m35 0h1m1 0h1h1m1 0h1m6 0h1m-58 1h1m2 0h1m5 0h1h1m32 0h1m2 0h1h1m5 0h1h1m-55 1h1h1h1m1 0h1h1m1 0h1m1 0h1m33 0h1m2 0h1m5 0h1m4 0h1m12 0h1m-71 1h1m2 0h1m1 0h1m1 0h1h1m34 0h1h1m2 0h1h1m4 0h1m3 0h1m4 0h1h1m-62 1h1m1 0h1m1 0h1h1m34 0h1m3 0h1m1 0h1m4 0h1h1h1m1 0h1m1 0h1m2 0h1m4 0h1m8 0h1m-77 1h1h1m3 0h1h1h1m34 0h1m2 0h1m1 0h1m3 0h1m8 0h1m-59 1h1m1 0h1h1h1m34 0h1m1 0h1m2 0h1m2 0h1h1h1m2 0h1m1 0h1m-56 1h1h1h1h1h1h1m34 0h1m3 0h1m1 0h1m2 0h1m1 0h1h1m5 0h1m-59 1h1m4 0h1h1m32 0h1m1 0h1m2 0h1m2 0h1m4 0h1h1h1m2 0h1m-59 1h1m2 0h1m2 0h1h1m35 0h1m1 0h1m6 0h1m1 0h1m1 0h1m-56 1h1h1m1 0h1h1h1h1m33 0h1m1 0h1h1m3 0h1m1 0h1m3 0h1h1m-54 1h1h1h1m3 0h1m30 0h1h1m3 0h1m2 0h1h1m5 0h1h1m-52 1h1m3 0h1m30 0h1m10 0h1m1 0h1m15 0h1m8 0h1m-77 1h1m5 0h1h1h1m35 0h1h1m8 0h1h1m2 0h1m6 0h1m-62 1h1m1 0h1m1 0h1m17 0h1m1 0h1m10 0h1m1 0h1h1m3 0h1h1m2 0h1m2 0h1m8 0h1m6 0h1m-69 1h1m3 0h1m17 0h1h1h1h1m2 0h1m1 0h1h1m4 0h1h1m4 0h1m1 0h1h1m8 0h1m1 0h1m2 0h1m2 0h1m10 0h1m-76 1h1m2 0h1m3 0h1m1 0h1h1h1m10 0h1m1 0h1m3 0h1h1m3 0h1m1 0h1h1h1m1 0h1m1 0h1m1 0h1h1m1 0h1m13 0h1m3 0h1m-60 1h1m1 0h1m1 0h1m2 0h1m5 0h1h1m2 0h1m1 0h1h1m2 0h1m1 0h1m1 0h1m2 0h1h1m1 0h1h1h1m4 0h1m-46 1h1h1m1 0h1m3 0h1m1 0h1h1h1h1m4 0h1h1m1 0h1m3 0h1h1m1 0h1h1h1m1 0h1h1m2 0h1m2 0h1m2 0h1m7 0h1m-50 1h1m2 0h1m1 0h1m3 0h1h1m1 0h1h1m3 0h1m2 0h1h1m2 0h1h1m5 0h1m2 0h1h1h1m1 0h1h1m1 0h1m2 0h1m2 0h1m6 0h1m-54 1h1h1m7 0h1h1h1h1m7 0h1m1 0h1h1h1h1m2 0h1h1h1m1 0h1m3 0h1h1m2 0h1h1m3 0h1m2 0h1m2 0h1m-52 1h1h1m1 0h1m1 0h1m1 0h1h1m2 0h1m5 0h1m1 0h1m1 0h1h1m4 0h1h1m2 0h1h1m5 0h1h1m3 0h1m2 0h1m1 0h1m17 0h1m6 0h1m-72 1h1m3 0h1m9 0h1h1h1h1h1h1h1h1m5 0h1m3 0h1h1h1m10 0h1m1 0h1m-48 1h1m3 0h1m1 0h1h1h1m2 0h1m5 0h1m6 0h1m6 0h1h1m1 0h1m5 0h1m-39 1h1m4 0h1m1 0h1m1 0h1m1 0h1h1m2 0h1h1m1 0h1m3 0h1m1 0h1m3 0h1h1m1 0h1m2 0h1m1 0h1m12 0h1m-43 1h1m4 0h1m2 0h1m4 0h1m2 0h1m4 0h1m5 0h1m5 0h1m5 0h1m14 0h1m-65 1h1m8 0h1m7 0h1m6 0h1m5 0h1m3 0h1h1h1h1h1m3 0h1h1m11 0h1h1m-53 1h1m2 0h1h1m1 0h1m10 0h1m6 0h1m1 0h1m3 0h1m1 0h1m16 0h1m-55 1h1m1 0h1m9 0h1m8 0h1h1m3 0h1m6 0h1h1h1m1 0h1h1m1 0h1m23 0h1m-63 1h1m2 0h1m2 0h1m1 0h1h1h1h1m1 0h1m1 0h1m2 0h1m3 0h1h1h1m7 0h1h1m1 0h1m8 0h1m7 0h1m-43 1h1m6 0h1m1 0h1h1m5 0h1h1m2 0h1m12 0h1m15 0h1m-45 1h1m2 0h1m4 0h1m8 0h1m14 0h1m-47 1h1m6 0h1m6 0h1m2 0h1m1 0h1m1 0h1m3 0h1h1m1 0h1m1 0h1m-27 1h1m5 0h1m7 0h1m10 0h1m1 0h1m5 0h1m-41 1h1m13 0h1m5 0h1m10 0h1m25 0h1m-53 1h1m3 0h1m10 0h1h1m3 0h1m5 0h1m7 0h1m-27 1h1m3 0h1" stroke="#1424f0" stroke-opacity="1"/>
<path d="M880 278.5h1h1m1 0h1m-9 1h1m1 0h1m2 0h1m1 0h1m1 0h1m-13 1h1m1 0h1m8 0h1h1h1m-15 1h1h1m12 0h1m-16 1h1m13 0h1h1m-17 1h1m14 0h1h1m-18 1h1m15 0h1m-1 1h1h1m-21 1h1h1m-3 1h1h1m18 0h1m-22 1h1m19 0h1m-2 1h1m-23 1h1m2 0h1m18 0h1m-26 1h1m1 0h1h1m1 0h1m18 0h1m-26 1h1m1 0h1h1m20 0h1m-27 1h1h1h1m1 0h1m-8 1h1m1 0h1h1h1m23 0h1m-31 1h1h1h1m1 0h1m24 0h1m-30 1h1m1 0h1h1m22 0h1h1m-30 1h1h1h1h1h1m21 0h1m1 0h1m-27 1h1h1m21 0h1h1m-27 1h1m1 0h1m20 0h1m1 0h1m-29 1h1m1 0h1h1m22 0h1h1m-28 1h1m1 0h1m23 0h1m-28 1h1h1h1m23 0h1m-27 1h1h1m24 0h1m-28 1h1h1m25 0h1h1m-31 1h1m1 0h1m27 0h1m-31 1h1h1m25 0h1h1h1m-31 1h1h1m26 0h1h1h1m-32 1h1h1h1m26 0h1h1m-32 1h1h1m26 0h1h1m2 0h1m-34 1h1h1m27 0h1m1 0h1h1h1m-34 1h1h1h1m25 0h1h1h1m1 0h1m-34 1h1m1 0h1h1m25 0h1h1m2 0h1m-35 1h1h1h1h1h1m25 0h1h1h1m-31 1h1h1h1h1m23 0h1m1 0h1h1h1m-33 1h1m1 0h1h1h1m25 0h1h1m-32 1h1h1h1m24 0h1m1 0h1m-30 1h1h1h1h1h1h1m10 0h1h1h1m1 0h1h1m1 0h1m3 0h1m1 0h1h1h1m-30 1h1h1h1m11 0h1h1h1h1h1h1h1h1h1h1h1h1h1h1h1m-30 1h1h1m1 0h1m1 0h1h1h1m6 0h1m2 0h1h1h1h1m1 0h1h1h1m1 0h1h1m1 0h1m-28 1h1h1h1h1h1h1m1 0h1h1m1 0h1m1 0h1m2 0h1h1m1 0h1h1m1 0h1h1h1h1h1m-27 1h1h1h1m1 0h1h1m1 0h1h1h1h1h1h1m1 0h1m7 0h1h1h1h1m-25 1h1h1m1 0h1h1h1h1m2 0h1h1m-9 1h1m3 0h1h1m1 0h1" stroke="#0a58ff" stroke-opacity="1"/>
<path d="M875 280.5h1h1h1h1h1m1 0h1h1m-10 1h1m8 0h1h1m-13 1h1h1m10 1h1m-15 1h1m13 0h1m-16 1h1m14 0h1m-17 1h1m15 0h1m-18 1h1m-2 1h1m-1 1h1m15 0h1m-1 1h1m-19 1h1m-3 1h1m1 0h1m-5 1h1h1h1h1m-7 1h1m2 0h1h1m15 0h1h1m-24 1h1h1h1h1h1m14 0h1h1h1m-23 1h1h1h1h1m12 0h1h1h1h1h1m-22 1h1h1h1h1m-3 1h1h1m14 0h1m-19 1h1h1h1m15 0h1m-19 1h1h1m15 0h1h1m-23 1h1h1h1h1h1h1m15 0h1m-23 1h1h1h1h1h1h1m16 0h1m-22 1h1h1m17 0h1h1h1m-25 1h1h1h1m18 0h1h1h1m-24 1h1h1m18 0h1h1h1h1m-26 1h1h1h1m19 0h1h1h1m-26 1h1h1h1m18 0h1m2 0h1m-24 1h1m19 0h1h1h1m-25 1h1h1m19 0h1h1h1h1m-26 1h1h1h1m19 0h1m1 0h1m-25 1h1h1h1m19 0h1h1h1m-25 1h1h1h1m18 0h1h1h1h1m-24 1h1h1m10 0h1m1 0h1m5 0h1m-20 1h1h1m8 0h1h1h1h1h1h1h1h1h1h1h1h1m-23 1h1h1h1h1m6 0h1h1h1m2 0h1h1h1h1h1m1 0h1h1m-22 1h1h1h1m1 0h1m1 0h1h1h1h1h1h1h1h1h1h1h1m1 0h1h1m-19 1h1m1 0h1h1h1m1 0h1m-6 1h1h1h1h1h1h1m-4 1h1h1h1" stroke="#0096ff" stroke-opacity="1"/>
<path d="M874 281.5h1h1h1m2 0h1h1h1m-1 1h1h1m-1 1h1m-13 1h1m11 0h1m-14 1h1m12 0h1m-15 1h1m13 0h1m-16 1h1m14 0h1m-17 1h1h1m13 0h1m-16 1h1m-2 1h1h1m13 0h1m-16 1h1h1m12 0h1m-16 1h1h1m12 0h1m-16 1h1h1h1m1 0h1m8 0h1h1m-17 1h1h1h1m1 0h1h1h1m1 0h1m3 0h1h1h1m-17 1h1h1h1h1h1h1h1h1m1 0h1h1h1h1h1m-16 1h1m2 0h1m4 0h1h1h1h1m-13 1h1h1h1h1m6 0h1h1m-13 1h1h1h1h1m7 0h1m-13 1h1h1h1h1m8 0h1h1m-14 1h1h1h1h1m8 0h1h1m-14 1h1h1h1m8 0h1m1 0h1m-16 1h1h1h1h1m8 0h1h1h1m-18 1h1m1 0h1h1h1h1m8 0h1h1h1m-19 1h1h1h1h1h1h1h1m8 0h1h1h1m-19 1h1h1h1h1h1h1m9 0h1h1h1m-18 1h1h1h1h1m10 0h1h1h1m-19 1h1h1h1h1m12 0h1h1m-19 1h1h1h1h1m13 0h1m-19 1h1h1h1m5 0h1h1h1m1 0h1h1h1h1h1h1h1m-19 1h1h1h1m5 0h1m1 0h1h1h1h1h1h1h1h1h1m-19 1h1h1h1m4 0h1h1h1h1h1m1 0h1m1 0h1h1m-17 1h1m1 0h1m4 0h1h1m1 0h1h1h1h1h1h1h1h1m-18 1h1h1h1h1m2 0h1h1m1 0h1m3 0h1h1h1h1h1m-17 1h1h1h1h1h1h1h1h1m-7 1h1h1h1h1h1h1m-4 1h1" stroke="#00d0d0" stroke-opacity="1"/>
<path d="M874 282.5h1h1h1h1h1h1h1m-9 1h1m7 0h1m-10 1h1m9 0h1m-12 1h1m10 0h1m-13 1h1m11 0h1m-14 1h1h1m11 0h1m-14 1h1m11 0h1m-14 1h1h1m11 0h1m-14 1h1h1m10 0h1m-12 1h1m9 0h1m-12 1h1m1 0h1m6 0h1h1m-10 1h1h1h1h1h1m2 0h1m-6 1h1h1h1m-12 2h1h1h1h1m-5 1h1h1h1h1h1h1m-7 1h1h1h1h1h1h1h1m-8 1h1h1h1m1 0h1h1h1h1m-8 1h1h1h1h1m1 0h1h1h1m-9 1h1h1h1h1m1 0h1h1h1m-9 1h1h1h1h1h1h1h1h1m-9 1h1h1m1 0h1h1h1h1m-7 1h1h1h1h1h1h1h1m-10 1h1h1h1h1h1h1h1h1h1m-11 1h1h1h1h1h1h1h1h1h1h1m-12 1h1h1h1h1h1h1h1h1h1h1h1h1m-13 1h1h1m3 0h1m1 0h1h1m1 0h1h1m-14 1h1h1h1h1m-4 1h1h1h1h1h1m-5 1h1h1h1h1m-4 1h1h1h1h1m-3 1h1h1" stroke="#22d840" stroke-opacity="1"/>
<path d="M874 283.5h1h1h1h1h1m-7 1h1h1m5 0h1h1m-10 1h1h1m7 0h1m-11 1h1h1m8 0h1m-11 1h1m8 0h1h1m-12 1h1m9 0h1m-11 1h1m8 0h1m-9 1h1m6 0h1h1m-10 1h1h1m5 0h1h1m-8 1h1h1h1h1h1h1" stroke="#a0e400" stroke-opacity="1"/>
<path d="M874 284.5h1h1h1h1h1m-6 1h1m4 0h1h1m-8 1h1m6 0h1m-9 1h1m-2 1h1m7 0h1m-9 1h1m6 0h1m-7 1h1m4 0h1m-6 1h1h1h1h1h1" stroke="#ffd400" stroke-opacity="1"/>
<path d="M874 285.5h1h1h1h1m-5 1h1m3 0h1h1m-7 1h1m4 0h1h1m-8 1h1h1m4 0h1m-7 1h1h1m3 0h1m-5 1h1h1h1h1" stroke="#ff8000" stroke-opacity="1"/>
<path d="M874 286.5h1h1h1m-4 1h1h1h1h1m-4 1h1h1h1h1m-4 1h1h1h1" stroke="#ff1a00" stroke-opacity="1"/>
</g>
<rect x="412.5" y="112.6" width="61.3" height="60.6" fill="none" stroke="#8a8a8a" stroke-width="1"/>
<line x1="443.7" y1="112.6" x2="443.7" y2="173.2" stroke="#6a6a6a" stroke-width="1"/>
<line x1="412.5" y1="138.9" x2="473.8" y2="138.9" stroke="#6a6a6a" stroke-width="1"/>
<text x="409.1" y="115.4" font-size="4.5" text-anchor="middle" fill="#444" transform="rotate(-90 409.1 115.4)">10<tspan dy="-1.71" font-size="3.33">7</tspan><tspan dy="1.71">&#8203;</tspan></text>
<line x1="410.9" y1="115.4" x2="412.5" y2="115.4" stroke="#777" stroke-width="0.6"/>
<text x="409.1" y="123.6" font-size="4.5" text-anchor="middle" fill="#444" transform="rotate(-90 409.1 123.6)">10<tspan dy="-1.71" font-size="3.33">6</tspan><tspan dy="1.71">&#8203;</tspan></text>
<line x1="410.9" y1="123.6" x2="412.5" y2="123.6" stroke="#777" stroke-width="0.6"/>
<text x="409.1" y="131.8" font-size="4.5" text-anchor="middle" fill="#444" transform="rotate(-90 409.1 131.8)">10<tspan dy="-1.71" font-size="3.33">5</tspan><tspan dy="1.71">&#8203;</tspan></text>
<line x1="410.9" y1="131.8" x2="412.5" y2="131.8" stroke="#777" stroke-width="0.6"/>
<text x="409.1" y="140" font-size="4.5" text-anchor="middle" fill="#444" transform="rotate(-90 409.1 140)">10<tspan dy="-1.71" font-size="3.33">4</tspan><tspan dy="1.71">&#8203;</tspan></text>
<line x1="410.9" y1="140" x2="412.5" y2="140" stroke="#777" stroke-width="0.6"/>
<text x="409.1" y="148.2" font-size="4.5" text-anchor="middle" fill="#444" transform="rotate(-90 409.1 148.2)">10<tspan dy="-1.71" font-size="3.33">3</tspan><tspan dy="1.71">&#8203;</tspan></text>
<line x1="410.9" y1="148.2" x2="412.5" y2="148.2" stroke="#777" stroke-width="0.6"/>
<text x="409.1" y="156.4" font-size="4.5" text-anchor="middle" fill="#444" transform="rotate(-90 409.1 156.4)">10<tspan dy="-1.71" font-size="3.33">2</tspan><tspan dy="1.71">&#8203;</tspan></text>
<line x1="410.9" y1="156.4" x2="412.5" y2="156.4" stroke="#777" stroke-width="0.6"/>
<text x="409.1" y="164.6" font-size="4.5" text-anchor="middle" fill="#444" transform="rotate(-90 409.1 164.6)">10<tspan dy="-1.71" font-size="3.33">1</tspan><tspan dy="1.71">&#8203;</tspan></text>
<line x1="410.9" y1="164.6" x2="412.5" y2="164.6" stroke="#777" stroke-width="0.6"/>
<text x="409.1" y="172.8" font-size="4.5" text-anchor="middle" fill="#444" transform="rotate(-90 409.1 172.8)">10<tspan dy="-1.71" font-size="3.33">0</tspan><tspan dy="1.71">&#8203;</tspan></text>
<line x1="410.9" y1="172.8" x2="412.5" y2="172.8" stroke="#777" stroke-width="0.6"/>
<text x="413.7" y="179.7" font-size="4.5" text-anchor="middle" fill="#444">10<tspan dy="-1.71" font-size="3.33">0</tspan><tspan dy="1.71">&#8203;</tspan></text>
<line x1="413.7" y1="173.2" x2="413.7" y2="174.8" stroke="#777" stroke-width="0.6"/>
<text x="427.8" y="179.7" font-size="4.5" text-anchor="middle" fill="#444">10<tspan dy="-1.71" font-size="3.33">2</tspan><tspan dy="1.71">&#8203;</tspan></text>
<line x1="427.8" y1="173.2" x2="427.8" y2="174.8" stroke="#777" stroke-width="0.6"/>
<text x="443.3" y="179.7" font-size="4.5" text-anchor="middle" fill="#444">10<tspan dy="-1.71" font-size="3.33">4</tspan><tspan dy="1.71">&#8203;</tspan></text>
<line x1="443.3" y1="173.2" x2="443.3" y2="174.8" stroke="#777" stroke-width="0.6"/>
<text x="459.5" y="179.7" font-size="4.5" text-anchor="middle" fill="#444">10<tspan dy="-1.71" font-size="3.33">6</tspan><tspan dy="1.71">&#8203;</tspan></text>
<line x1="459.5" y1="173.2" x2="459.5" y2="174.8" stroke="#777" stroke-width="0.6"/>
<text x="471.7" y="179.7" font-size="4.5" text-anchor="middle" fill="#444">10<tspan dy="-1.71" font-size="3.33">7</tspan><tspan dy="1.71">&#8203;</tspan></text>
<line x1="471.7" y1="173.2" x2="471.7" y2="174.8" stroke="#777" stroke-width="0.6"/>
<text x="443.5" y="106.3" font-size="8.9" font-weight="bold" text-anchor="middle">TAM+ADQ</text>
<text x="472.3" y="130.5" font-size="9" font-weight="bold" text-anchor="end" fill="#F81414">4.34%</text>
<text x="466.5" y="116.9" font-size="3.8" text-anchor="middle" fill="#333">Q4-2</text>
<text x="466.5" y="120.9" font-size="3.8" text-anchor="middle" fill="#333">4.34%</text>
<g transform="scale(0.5)">
<path d="M1077 242.5h1m-4 1h1h1h1h1m-3 1h1m-6 1h1h1m1 0h1h1m-2 1h1h1h1h1m1 0h1m-13 1h1m2 0h1m2 0h1h1h1m4 0h1m-10 1h1m1 0h1m2 0h1m-10 1h1m-4 1h1m2 0h1h1h1h1h1h1m-6 1h1h1m1 0h1m1 0h1m-7 1h1h1h1h1m1 0h1m8 1h1m-16 1h1h1h1m-7 1h1h1h1h1m5 0h1m-8 1h1m1 1h1h1h1m-3 1h1m1 0h1m-9 1h1m2 0h1m-7 1h1m1 0h1m1 0h1h1m2 0h1m1 0h1m-14 1h1m7 0h1m-8 1h1m3 0h1h1m1 0h1h1m-29 1h1m3 0h1m5 0h1m13 0h1h1m1 0h1m-11 1h1h1m4 0h1m2 0h1h1m14 0h1m-43 1h1m20 0h1m1 0h1h1m-7 1h1h1h1m2 0h1m-12 1h1m7 0h1m1 0h1h1h1m4 0h1m-11 1h1h1h1h1m3 0h1m-62 1h1m3 0h1m8 0h1m26 0h1m7 0h1m1 0h1m2 0h1m5 0h1m-35 1h1m12 0h1m7 0h1m6 0h1h1m1 0h1m-38 1h1m13 0h1h1m4 0h1m9 0h1h1h1h1m-57 1h1m10 0h1m35 0h1h1h1m3 0h1h1m4 0h1h1m-33 1h1m2 0h1m1 0h1m6 0h1m2 0h1m1 0h1m1 0h1m8 0h1m-38 1h1m5 0h1m2 0h1m10 0h1m-30 1h1m4 0h1m2 0h1m6 0h1m4 0h1m1 0h1m3 0h1m20 0h1m2 0h1m-63 1h1m15 0h1m13 0h1h1m2 0h1m5 0h1m3 0h1m14 0h1m1 0h1m-59 1h1m11 0h1m16 0h1m7 0h1h1m18 0h1h1m-62 1h1m2 0h1m4 0h1m6 0h1m6 0h1m4 0h1m7 0h1m1 0h1m2 0h1m19 0h1m1 0h1m-64 1h1m8 0h1m9 0h1m3 0h1m3 0h1m3 0h1m2 0h1m4 0h1m20 0h1m13 0h1m-56 1h1m5 0h1m4 0h1m1 0h1m5 0h1h1m19 0h1m3 0h1m2 0h1m-59 1h1m3 0h1h1m2 0h1m6 0h1h1m2 0h1h1m2 0h1m3 0h1m22 0h1m3 0h1m1 0h1m-62 1h1h1m2 0h1m5 0h1m6 0h1m1 0h1m3 0h1m1 0h1m6 0h1m1 0h1h1m29 0h1m-53 1h1m3 0h1h1h1m2 0h1m1 0h1m3 0h1m2 0h1m24 0h1m-61 1h1m11 0h1m1 0h1m2 0h1m3 0h1h1m4 0h1m1 0h1h1m2 0h1m3 0h1m20 0h1h1m-49 1h1m2 0h1m2 0h1m6 0h1m4 0h1h1h1h1m2 0h1m21 0h1m8 0h1m-60 1h1m3 0h1m7 0h1h1m2 0h1h1m4 0h1m1 0h1m2 0h1m23 0h1m-60 1h1m2 0h1m3 0h1m4 0h1h1m2 0h1m8 0h1m2 0h1h1h1m2 0h1m31 0h1m9 0h1m-73 1h1h1m1 0h1h1m4 0h1h1m2 0h1m2 0h1h1m1 0h1m1 0h1h1m5 0h1m24 0h1m4 0h1m1 0h1m-58 1h1m2 0h1m2 0h1m3 0h1m4 0h1m2 0h1h1h1h1h1m1 0h1m23 0h1h1m11 0h1m-64 1h1m6 0h1m2 0h1m3 0h1m4 0h1m3 0h1m25 0h1h1h1m2 0h1m1 0h1m-54 1h1m2 0h1m3 0h1h1h1h1m2 0h1m1 0h1h1h1m25 0h1m6 0h1m2 0h1m-60 1h1m2 0h1m1 0h1h1h1m2 0h1h1h1m3 0h1m1 0h1m3 0h1m28 0h1m1 0h1m8 0h1m5 0h1m-66 1h1h1m2 0h1m2 0h1m4 0h1h1h1m28 0h1m1 0h1h1m3 0h1m2 0h1m-55 1h1m2 0h1m2 0h1h1h1m5 0h1h1h1m26 0h1m1 0h1m1 0h1m8 0h1m3 0h1m-64 1h1m2 0h1m1 0h1m2 0h1m3 0h1m2 0h1m33 0h1m4 0h1h1m-57 1h1m2 0h1m7 0h1h1h1h1m1 0h1h1h1m29 0h1m4 0h1h1m2 0h1m-58 1h1m5 0h1h1m3 0h1h1h1h1h1m1 0h1m27 0h1h1m2 0h1m21 0h1m-69 1h1m1 0h1m4 0h1h1h1m32 0h1m1 0h1m1 0h1m6 0h1m14 0h1m-62 1h1h1m1 0h1h1h1h1m26 0h1m1 0h1m5 0h1h1h1h1h1m3 0h1m5 0h1m-65 1h1m5 0h1m1 0h1h1m1 0h1h1m1 0h1m26 0h1h1m1 0h1h1m8 0h1m-51 1h1m2 0h1m2 0h1h1h1h1h1h1m28 0h1h1m2 0h1h1m1 0h1h1m11 0h1h1m-64 1h1m3 0h1m2 0h1m3 0h1h1m25 0h1h1m1 0h1h1m4 0h1m3 0h1m2 0h1m2 0h1m-61 1h1m6 0h1h1h1h1m1 0h1m27 0h1m1 0h1h1m5 0h1m4 0h1m1 0h1m5 0h1m8 0h1m-69 1h1h1m2 0h1h1m2 0h1m2 0h1h1m27 0h1h1h1m3 0h1m1 0h1m3 0h1m3 0h1m-60 1h1m1 0h1h1m1 0h1m4 0h1h1h1h1h1h1h1m22 0h1h1m1 0h1m1 0h1m1 0h1m3 0h1m6 0h1m14 0h1m-70 1h1h1h1h1m6 0h1m1 0h1m22 0h1m3 0h1h1m2 0h1h1h1m1 0h1h1m3 0h1m2 0h1m-57 1h1h1h1h1m1 0h1h1h1h1m28 0h1m1 0h1h1m4 0h1m1 0h1m1 0h1m2 0h1m11 0h1h1m3 0h1m-72 1h1m2 0h1h1m4 0h1h1m27 0h1h1h1h1m4 0h1m2 0h1h1m2 0h1m6 0h1m4 0h1m-65 1h1h1m2 0h1m3 0h1h1m26 0h1m1 0h1h1h1m1 0h1m1 0h1m2 0h1m7 0h1h1h1m2 0h1m-62 1h1m2 0h1h1h1h1h1m1 0h1m27 0h1m1 0h1m1 0h1h1m1 0h1m1 0h1m3 0h1m18 0h1m3 0h1m-73 1h1m1 0h1m2 0h1m1 0h1m30 0h1h1m3 0h1h1h1h1h1h1m1 0h1m11 0h1m-61 1h1m1 0h1m1 0h1m1 0h1m26 0h1h1m1 0h1m2 0h1h1h1h1m1 0h1h1h1h1m4 0h1m7 0h1m-64 1h1m3 0h1h1m1 0h1m1 0h1h1m25 0h1h1h1m2 0h1h1m4 0h1h1h1m1 0h1m-49 1h1m3 0h1h1h1m24 0h1m1 0h1m1 0h1h1m2 0h1m1 0h1m3 0h1m3 0h1m20 0h1m-74 1h1h1m2 0h1h1m29 0h1h1m3 0h1h1m2 0h1m2 0h1m1 0h1m26 0h1m-77 1h1m2 0h1m1 0h1m2 0h1h1m1 0h1m23 0h1m6 0h1m3 0h1h1h1h1m13 0h1m-63 1h1m1 0h1m2 0h1h1h1h1h1h1h1m1 0h1m9 0h1m7 0h1h1h1h1h1h1m1 0h1m1 0h1m5 0h1m4 0h1m7 0h1m-60 1h1m1 0h1m1 0h1m4 0h1h1h1h1m1 0h1h1m2 0h1h1h1h1m2 0h1m4 0h1h1m2 0h1h1h1m1 0h1h1h1m1 0h1m1 0h1m4 0h1m3 0h1h1m2 0h1m-57 1h1h1m1 0h1h1m1 0h1m4 0h1h1m1 0h1h1h1h1h1h1h1m1 0h1m1 0h1h1m1 0h1h1m2 0h1m1 0h1m1 0h1m2 0h1h1h1h1h1h1m1 0h1h1h1m13 0h1m-63 1h1m1 0h1h1m3 0h1h1h1h1h1h1h1m2 0h1m5 0h1h1h1h1m1 0h1m1 0h1m3 0h1h1m2 0h1m2 0h1m1 0h1m2 0h1m10 0h1m3 0h1m1 0h1m3 0h1m-60 1h1m1 0h1m1 0h1m2 0h1h1h1m2 0h1m1 0h1m3 0h1m2 0h1m5 0h1m6 0h1h1m5 0h1m6 0h1m7 0h1m6 0h1m-71 1h1m1 0h1m1 0h1m1 0h1m2 0h1h1m1 0h1h1h1h1h1m3 0h1h1h1m2 0h1h1h1h1h1h1m1 0h1m2 0h1h1h1m1 0h1h1m5 0h1m-45 1h1m4 0h1h1h1h1h1m4 0h1m2 0h1m2 0h1m3 0h1m1 0h1m2 0h1m1 0h1h1m4 0h1m5 0h1m3 0h1m1 0h1m10 0h1m7 0h1m-67 1h1m1 0h1m1 0h1m2 0h1m3 0h1m1 0h1m1 0h1h1h1h1m1 0h1h1m3 0h1m1 0h1m1 0h1m1 0h1h1m3 0h1m5 0h1m7 0h1m-53 1h1m5 0h1m2 0h1h1h1m1 0h1h1h1m1 0h1m3 0h1m1 0h1h1h1h1m4 0h1m1 0h1m2 0h1h1m3 0h1h1m6 0h1m-49 1h1m1 0h1m1 0h1m1 0h1h1m5 0h1m2 0h1h1m4 0h1h1h1m2 0h1h1m3 0h1h1h1m1 0h1m1 0h1m3 0h1m2 0h1m3 0h1m-50 1h1m2 0h1h1m2 0h1m1 0h1m2 0h1m6 0h1h1h1m2 0h1h1h1m8 0h1m2 0h1m4 0h1m2 0h1m4 0h1m11 0h1m-64 1h1m3 0h1m7 0h1m4 0h1m7 0h1m1 0h1m6 0h1m3 0h1m2 0h1m3 0h1m10 0h1m-49 1h1m1 0h1m1 0h1m2 0h1m6 0h1m2 0h1m1 0h1h1m4 0h1m1 0h1m3 0h1m17 0h1m-57 1h1m7 0h1m2 0h1m5 0h1m4 0h1m12 0h1h1m3 0h1h1m7 0h1h1m-55 1h1m12 0h1h1m2 0h1h1m5 0h1m3 0h1m4 0h1h1m23 0h1m18 0h1m-78 1h1m4 0h1m2 0h1m2 0h1m6 0h1m4 0h1h1h1h1m10 0h1m6 0h1m-41 1h1m11 0h1m2 0h1m4 0h1m3 0h1m2 0h1h1m1 0h1m1 0h1m3 0h1m6 0h1m-45 1h1m1 0h1m7 0h1m5 0h1m4 0h1m2 0h1m6 0h1h1h1m4 0h1m-42 1h1m3 0h1h1m3 0h1m13 0h1m3 0h1m1 0h1m5 0h1m1 0h1m-26 1h1h1m10 0h1m23 0h1m-37 1h1m3 0h1m9 0h1m23 0h1m3 0h1m-55 1h1m5 0h1m1 0h1m11 0h1m6 0h1m10 0h1m-13 1h1m11 0h1m-28 1h1m6 0h1m25 0h1m-28 1h1m2 0h1m14 0h1m-36 1h1m4 0h1m5 0h1m2 0h1m5 0h1m6 0h1m-19 1h1m9 0h1" stroke="#1424f0" stroke-opacity="1"/>
<path d="M1043 273.5h1m1 0h1m1 0h1h1h1m-10 1h1h1m8 0h1m-2 1h1m-13 1h1m12 0h1m-16 1h1h1m13 0h1m-17 1h1h1m13 0h1m-17 1h1h1m14 0h1m-1 1h1m-2 1h1m-18 1h1m16 0h1m-21 2h1m-3 1h1h1h1m17 0h1m-22 1h1m-3 1h1h1h1m18 0h1m-22 1h1h1m19 0h1m-25 1h1h1h1m18 0h1m-24 1h1m1 0h1m18 0h1m-26 1h1h1h1h1h1m17 0h1h1m-25 1h1h1m2 0h1h1m16 0h1m-25 1h1h1m1 0h1m19 0h1h1m-26 1h1m1 0h1h1m19 0h1m-26 1h1h1h1m20 0h1h1h1m-27 1h1m1 0h1m19 0h1m1 0h1m-26 1h1h1h1m20 0h1h1h1h1m-27 1h1h1m19 0h1h1h1h1m-24 1h1m18 0h1h1h1h1h1m-26 1h1h1m19 0h1h1m1 0h1m-25 1h1h1m18 0h1m1 0h1h1h1m-26 1h1m1 0h1h1m16 0h1h1h1h1h1m-25 1h1h1h1h1m17 0h1h1m-22 1h1m1 0h1m1 0h1m13 0h1h1m1 0h1h1m-23 1h1h1m2 0h1h1m12 0h1m2 0h1m-23 1h1h1h1m1 0h1m3 0h1m9 0h1m1 0h1m-24 1h1h1m1 0h1h1m1 0h1m3 0h1h1h1h1h1m4 0h1m1 0h1h1h1h1m-27 1h1h1h1m1 0h1h1h1m1 0h1m1 0h1m1 0h1h1h1h1h1h1m3 0h1h1h1h1m-25 1h1h1h1h1h1m2 0h1h1h1h1h1h1h1h1h1m1 0h1h1m1 0h1m1 0h1m1 0h1h1m-27 1h1m1 0h1m1 0h1h1h1h1h1h1h1m1 0h1h1m1 0h1h1m1 0h1h1h1h1h1m1 0h1h1h1m-27 1h1h1h1h1m1 0h1h1m3 0h1m1 0h1h1m4 0h1h1h1m1 0h1h1m1 0h1m-26 1h1m1 0h1h1h1h1h1h1h1m2 0h1h1h1h1h1h1h1m1 0h1h1h1h1m-22 1h1h1h1h1h1h1m1 0h1h1h1h1h1h1h1m1 0h1h1h1h1h1m1 0h1h1h1m-23 1h1h1m1 0h1h1m1 0h1m2 0h1m2 0h1h1m2 0h1m1 0h1m1 0h1h1m-22 1h1m1 0h1h1h1h1h1h1h1h1h1h1h1h1h1m3 0h1m1 0h1h1m-21 1h1m1 0h1h1h1h1m1 0h1m1 0h1h1m1 0h1m1 0h1h1h1h1h1h1m-18 1h1m1 0h1m1 0h1m1 0h1m3 0h1h1m1 0h1h1h1h1m-5 1h1h1h1" stroke="#0a58ff" stroke-opacity="1"/>
<path d="M1044 274.5h1h1h1h1m-8 1h1h1m6 0h1m-11 1h1m9 0h1h1m-13 1h1m11 0h1m-2 1h1m-1 1h1m-15 1h1m-2 1h1m13 0h1m-16 1h1m14 0h1m-17 1h1h1m13 0h1m-17 1h1h1m-3 1h1h1m14 0h1m-18 1h1h1m14 0h1m-19 1h1h1h1m14 0h1m-19 1h1h1h1m-5 1h1h1h1m12 0h1h1m-17 1h1h1m11 0h1h1m-18 1h1h1m13 0h1m-17 1h1h1h1m11 0h1h1m-18 1h1h1h1m12 0h1h1m-20 1h1h1h1h1m11 0h1h1m1 0h1m-21 1h1h1h1h1h1m11 0h1m1 0h1m-20 1h1h1h1h1m11 0h1m1 0h1m-20 1h1h1h1m13 0h1h1h1m-20 1h1h1h1m13 0h1h1h1m-19 1h1h1m14 0h1m-17 1h1h1m12 0h1m1 0h1m-17 1h1h1h1m11 0h1h1m-16 1h1m12 0h1h1h1m-15 1h1h1h1h1h1h1m1 0h1h1m1 0h1h1h1h1h1m-14 1h1h1h1h1h1h1h1h1h1h1h1h1m-11 1h1m2 0h1h1h1h1m3 0h1h1m-9 1h1h1h1h1h1h1h1h1m-6 1h1h1h1h1" stroke="#0096ff" stroke-opacity="1"/>
<path d="M1042 275.5h1h1h1h1h1h1m-9 1h1h1m5 0h1h1m-10 1h1m8 0h1h1m-2 1h1m-13 2h1m11 0h1m-14 1h1m11 0h1m-1 1h1m-14 1h1m-2 1h1m12 0h1m-2 1h1m-15 1h1h1m11 0h1m-15 1h1h1m11 0h1m-14 1h1m9 0h1h1h1m-16 1h1h1h1m8 0h1m-13 1h1h1h1h1m4 0h1h1h1m-13 1h1h1h1h1h1h1h1h1h1h1h1m-12 1h1h1h1h1h1h1h1h1h1h1h1m-13 1h1h1h1h1h1h1h1h1h1h1h1h1m-12 1h1h1h1h1h1h1h1h1h1m-12 1h1h1h1h1m1 0h1h1h1h1h1m-12 1h1h1h1h1h1h1h1h1h1h1h1m-14 1h1m2 0h1h1h1h1h1h1h1m1 0h1m-13 1h1h1h1h1h1h1h1h1h1h1h1m1 0h1m-14 1h1h1h1h1h1m1 0h1h1h1h1m1 0h1h1m-13 1h1h1h1h1h1h1h1h1h1h1h1h1m-11 1h1h1h1h1m1 0h1h1h1h1h1h1m-10 1h1h1h1h1h1h1m1 0h1h1" stroke="#00d0d0" stroke-opacity="1"/>
<path d="M1041 276.5h1h1h1h1h1m-7 1h1h1m4 0h1h1m-9 1h1m6 0h1h1m-11 1h1h1m8 0h1m-11 1h1m8 0h1h1m-12 1h1m9 0h1m-12 1h1m10 0h1m-12 1h1m10 0h1m-13 1h1h1m9 0h1m-13 1h1h1h1m-3 1h1h1h1m7 0h1m-12 1h1h1h1h1h1h1m2 0h1h1h1m-12 1h1h1h1h1h1h1h1h1m-9 1h1h1h1h1h1h1m-6 1h1h1m1 0h1" stroke="#22d840" stroke-opacity="1"/>
<path d="M1041 277.5h1h1h1m-5 1h1h1h1h1h1h1m-7 1h1m5 0h1m-8 1h1m6 0h1m-9 1h1m7 0h1m-1 1h1m-10 1h1m8 0h1m-10 1h1m7 0h1m-9 1h1h1m5 0h1m-8 1h1h1h1m1 0h1h1h1m-5 1h1h1" stroke="#a0e400" stroke-opacity="1"/>
<path d="M1039 279.5h1h1h1h1h1m-6 1h1m4 0h1m-7 1h1m5 0h1m-8 1h1m6 0h1m-8 1h1m6 0h1m-8 1h1m5 0h1m-6 1h1m3 0h1" stroke="#ffd400" stroke-opacity="1"/>
<path d="M1039 280.5h1h1h1h1m-5 1h1m3 0h1m-6 1h1m4 0h1m-6 1h1m4 0h1m-6 1h1h1m2 0h1m-4 1h1h1h1" stroke="#ff8000" stroke-opacity="1"/>
<path d="M1039 281.5h1h1h1m-4 1h1h1h1h1m-4 1h1h1h1h1m-3 1h1h1" stroke="#ff1a00" stroke-opacity="1"/>
</g>
<rect x="493.1" y="112.6" width="61.3" height="60.6" fill="none" stroke="#8a8a8a" stroke-width="1"/>
<line x1="524.3" y1="112.6" x2="524.3" y2="173.2" stroke="#6a6a6a" stroke-width="1"/>
<line x1="493.1" y1="138.9" x2="554.4" y2="138.9" stroke="#6a6a6a" stroke-width="1"/>
<text x="489.7" y="115.4" font-size="4.5" text-anchor="middle" fill="#444" transform="rotate(-90 489.7 115.4)">10<tspan dy="-1.71" font-size="3.33">7</tspan><tspan dy="1.71">&#8203;</tspan></text>
<line x1="491.5" y1="115.4" x2="493.1" y2="115.4" stroke="#777" stroke-width="0.6"/>
<text x="489.7" y="123.6" font-size="4.5" text-anchor="middle" fill="#444" transform="rotate(-90 489.7 123.6)">10<tspan dy="-1.71" font-size="3.33">6</tspan><tspan dy="1.71">&#8203;</tspan></text>
<line x1="491.5" y1="123.6" x2="493.1" y2="123.6" stroke="#777" stroke-width="0.6"/>
<text x="489.7" y="131.8" font-size="4.5" text-anchor="middle" fill="#444" transform="rotate(-90 489.7 131.8)">10<tspan dy="-1.71" font-size="3.33">5</tspan><tspan dy="1.71">&#8203;</tspan></text>
<line x1="491.5" y1="131.8" x2="493.1" y2="131.8" stroke="#777" stroke-width="0.6"/>
<text x="489.7" y="140" font-size="4.5" text-anchor="middle" fill="#444" transform="rotate(-90 489.7 140)">10<tspan dy="-1.71" font-size="3.33">4</tspan><tspan dy="1.71">&#8203;</tspan></text>
<line x1="491.5" y1="140" x2="493.1" y2="140" stroke="#777" stroke-width="0.6"/>
<text x="489.7" y="148.2" font-size="4.5" text-anchor="middle" fill="#444" transform="rotate(-90 489.7 148.2)">10<tspan dy="-1.71" font-size="3.33">3</tspan><tspan dy="1.71">&#8203;</tspan></text>
<line x1="491.5" y1="148.2" x2="493.1" y2="148.2" stroke="#777" stroke-width="0.6"/>
<text x="489.7" y="156.4" font-size="4.5" text-anchor="middle" fill="#444" transform="rotate(-90 489.7 156.4)">10<tspan dy="-1.71" font-size="3.33">2</tspan><tspan dy="1.71">&#8203;</tspan></text>
<line x1="491.5" y1="156.4" x2="493.1" y2="156.4" stroke="#777" stroke-width="0.6"/>
<text x="489.7" y="164.6" font-size="4.5" text-anchor="middle" fill="#444" transform="rotate(-90 489.7 164.6)">10<tspan dy="-1.71" font-size="3.33">1</tspan><tspan dy="1.71">&#8203;</tspan></text>
<line x1="491.5" y1="164.6" x2="493.1" y2="164.6" stroke="#777" stroke-width="0.6"/>
<text x="489.7" y="172.8" font-size="4.5" text-anchor="middle" fill="#444" transform="rotate(-90 489.7 172.8)">10<tspan dy="-1.71" font-size="3.33">0</tspan><tspan dy="1.71">&#8203;</tspan></text>
<line x1="491.5" y1="172.8" x2="493.1" y2="172.8" stroke="#777" stroke-width="0.6"/>
<text x="494.3" y="179.7" font-size="4.5" text-anchor="middle" fill="#444">10<tspan dy="-1.71" font-size="3.33">0</tspan><tspan dy="1.71">&#8203;</tspan></text>
<line x1="494.3" y1="173.2" x2="494.3" y2="174.8" stroke="#777" stroke-width="0.6"/>
<text x="508.4" y="179.7" font-size="4.5" text-anchor="middle" fill="#444">10<tspan dy="-1.71" font-size="3.33">2</tspan><tspan dy="1.71">&#8203;</tspan></text>
<line x1="508.4" y1="173.2" x2="508.4" y2="174.8" stroke="#777" stroke-width="0.6"/>
<text x="523.9" y="179.7" font-size="4.5" text-anchor="middle" fill="#444">10<tspan dy="-1.71" font-size="3.33">4</tspan><tspan dy="1.71">&#8203;</tspan></text>
<line x1="523.9" y1="173.2" x2="523.9" y2="174.8" stroke="#777" stroke-width="0.6"/>
<text x="540.1" y="179.7" font-size="4.5" text-anchor="middle" fill="#444">10<tspan dy="-1.71" font-size="3.33">6</tspan><tspan dy="1.71">&#8203;</tspan></text>
<line x1="540.1" y1="173.2" x2="540.1" y2="174.8" stroke="#777" stroke-width="0.6"/>
<text x="552.3" y="179.7" font-size="4.5" text-anchor="middle" fill="#444">10<tspan dy="-1.71" font-size="3.33">7</tspan><tspan dy="1.71">&#8203;</tspan></text>
<line x1="552.3" y1="173.2" x2="552.3" y2="174.8" stroke="#777" stroke-width="0.6"/>
<text x="521.2" y="107.3" font-size="8.9" font-weight="bold" text-anchor="middle">TAM/rCXCL1+ADQ</text>
<text x="553" y="130.5" font-size="9" font-weight="bold" text-anchor="end" fill="#F81414">8.66%</text>
<text x="547.1" y="116.9" font-size="3.8" text-anchor="middle" fill="#333">Q4-2</text>
<text x="547.1" y="120.9" font-size="3.8" text-anchor="middle" fill="#333">8.66%</text>
<line x1="414" y1="120.2" x2="424.5" y2="120.2" stroke="#777" stroke-width="0.6" stroke-dasharray="1 1.2"/>
<rect x="580.5" y="26.84" width="11.6" height="5.4" fill="#BCAE78"/>
<text x="599.1" y="32.6" font-size="9" font-weight="bold">Control</text>
<rect x="580.5" y="37.64" width="11.6" height="5.4" fill="#F4434B"/>
<text x="599.1" y="43.4" font-size="9" font-weight="bold">ADQ</text>
<rect x="580.5" y="47.74" width="11.6" height="5.4" fill="#57A1F8"/>
<text x="599.1" y="53.5" font-size="9" font-weight="bold">TAM</text>
<rect x="637.5" y="26.84" width="11.6" height="5.4" fill="#FF6203"/>
<text x="656.1" y="32.6" font-size="9" font-weight="bold">TAM/shCXCL1</text>
<rect x="637.5" y="37.64" width="11.6" height="5.4" fill="#0DBF10"/>
<text x="656.1" y="43.4" font-size="9" font-weight="bold">TAM+ADQ</text>
<rect x="637.5" y="47.74" width="11.6" height="5.4" fill="#B05ADB"/>
<text x="656.1" y="53.5" font-size="9" font-weight="bold">TAM/rCXCL1+ADQ</text>
<rect x="610.2" y="123.6" width="14.6" height="39.7" fill="#BCAE78"/>
<line x1="617.5" y1="123.6" x2="617.5" y2="118.42" stroke="#BCAE78" stroke-width="1.2"/>
<line x1="614" y1="118.42" x2="621" y2="118.42" stroke="#BCAE78" stroke-width="1.2"/>
<rect x="632.2" y="147.19" width="14.6" height="16.11" fill="#F4434B"/>
<line x1="639.5" y1="147.19" x2="639.5" y2="137.99" stroke="#F4434B" stroke-width="1.2"/>
<line x1="636" y1="137.99" x2="643" y2="137.99" stroke="#F4434B" stroke-width="1.2"/>
<rect x="654.3" y="100.01" width="14.6" height="63.29" fill="#57A1F8"/>
<line x1="661.6" y1="100.01" x2="661.6" y2="86.21" stroke="#57A1F8" stroke-width="1.2"/>
<line x1="658.1" y1="86.21" x2="665.1" y2="86.21" stroke="#57A1F8" stroke-width="1.2"/>
<rect x="676.2" y="129.93" width="14.6" height="33.37" fill="#FF6203"/>
<line x1="683.5" y1="129.93" x2="683.5" y2="120.15" stroke="#FF6203" stroke-width="1.2"/>
<line x1="680" y1="120.15" x2="687" y2="120.15" stroke="#FF6203" stroke-width="1.2"/>
<rect x="698.2" y="129.36" width="14.6" height="33.94" fill="#0DBF10"/>
<line x1="705.5" y1="129.36" x2="705.5" y2="121.3" stroke="#0DBF10" stroke-width="1.2"/>
<line x1="702" y1="121.3" x2="709" y2="121.3" stroke="#0DBF10" stroke-width="1.2"/>
<rect x="720.1" y="113.82" width="14.6" height="49.48" fill="#B05ADB"/>
<line x1="727.4" y1="113.82" x2="727.4" y2="112.1" stroke="#B05ADB" stroke-width="1.2"/>
<line x1="723.9" y1="112.1" x2="730.9" y2="112.1" stroke="#B05ADB" stroke-width="1.2"/>
<line x1="602.8" y1="76.4" x2="602.8" y2="163.9" stroke="#000" stroke-width="1.4"/>
<line x1="602.2" y1="163.3" x2="741" y2="163.3" stroke="#000" stroke-width="1.4"/>
<line x1="598.6" y1="163.3" x2="602.8" y2="163.3" stroke="#000" stroke-width="1.4"/>
<text x="597.1" y="166.18" font-size="8" font-weight="bold" text-anchor="end">0</text>
<line x1="600.49" y1="148.92" x2="602.8" y2="148.92" stroke="#000" stroke-width="1.4"/>
<line x1="598.6" y1="134.53" x2="602.8" y2="134.53" stroke="#000" stroke-width="1.4"/>
<text x="597.1" y="137.41" font-size="8" font-weight="bold" text-anchor="end">5</text>
<line x1="600.49" y1="120.15" x2="602.8" y2="120.15" stroke="#000" stroke-width="1.4"/>
<line x1="598.6" y1="105.77" x2="602.8" y2="105.77" stroke="#000" stroke-width="1.4"/>
<text x="597.1" y="108.65" font-size="8" font-weight="bold" text-anchor="end">10</text>
<line x1="600.49" y1="91.38" x2="602.8" y2="91.38" stroke="#000" stroke-width="1.4"/>
<line x1="598.6" y1="77" x2="602.8" y2="77" stroke="#000" stroke-width="1.4"/>
<text x="597.1" y="79.88" font-size="8" font-weight="bold" text-anchor="end">15</text>
<line x1="617.5" y1="163.3" x2="617.5" y2="167.5" stroke="#000" stroke-width="1.4"/>
<line x1="639.5" y1="163.3" x2="639.5" y2="167.5" stroke="#000" stroke-width="1.4"/>
<line x1="661.6" y1="163.3" x2="661.6" y2="167.5" stroke="#000" stroke-width="1.4"/>
<line x1="683.5" y1="163.3" x2="683.5" y2="167.5" stroke="#000" stroke-width="1.4"/>
<line x1="705.5" y1="163.3" x2="705.5" y2="167.5" stroke="#000" stroke-width="1.4"/>
<line x1="727.4" y1="163.3" x2="727.4" y2="167.5" stroke="#000" stroke-width="1.4"/>
<path d="M616.8 116.5V73.9H659.5V84.4" stroke="#000" stroke-width="1.4" fill="none"/>
<text x="638.15" y="75.8" font-size="10" font-weight="bold" text-anchor="middle">*</text>
<path d="M616.8 116.5V80.9H639.5V136" stroke="#000" stroke-width="1.4" fill="none"/>
<text x="628.15" y="82.8" font-size="10" font-weight="bold" text-anchor="middle">*</text>
<path d="M663.6 83.8V73.9H703.6V119.8" stroke="#000" stroke-width="1.4" fill="none"/>
<text x="683.6" y="75.8" font-size="10" font-weight="bold" text-anchor="middle">*</text>
<path d="M663.6 83.8V80.9H683.6V119" stroke="#000" stroke-width="1.4" fill="none"/>
<text x="673.6" y="82.8" font-size="10" font-weight="bold" text-anchor="middle">*</text>
<path d="M707.5 119.8V73.9H727.3V109.1" stroke="#000" stroke-width="1.4" fill="none"/>
<text x="717.4" y="75.8" font-size="10" font-weight="bold" text-anchor="middle">*</text>
<text x="571.8" y="120" font-size="9.1" font-weight="bold" text-anchor="middle" transform="rotate(-90 571.8 120)">Tregs differentiation</text>
<text x="583.3" y="120" font-size="9.1" font-weight="bold" text-anchor="middle" transform="rotate(-90 583.3 120)">ratio (%)</text>
<text x="0.5" y="233.6" font-size="30.5" font-weight="bold">C</text>
<text x="155" y="242.4" font-size="9.6" font-weight="bold" text-anchor="middle">293T cells</text>
<line x1="51" y1="245.5" x2="250" y2="245.5" stroke="#333" stroke-width="1.6"/>
<text x="77.24" y="301.92" font-size="8.2" font-weight="bold" text-anchor="middle" transform="rotate(-57 77.24 301.92)">Control</text>
<text x="118.34" y="290.82" font-size="8.2" font-weight="bold" text-anchor="middle" transform="rotate(-57 118.34 290.82)">20 ug/ml ADQ</text>
<text x="139.94" y="302.52" font-size="8.2" font-weight="bold" text-anchor="middle" transform="rotate(-57 139.94 302.52)">TAM</text>
<text x="180.24" y="292.32" font-size="8.2" font-weight="bold" text-anchor="middle" transform="rotate(-57 180.24 292.32)">TAM/shCXCL1</text>
<text x="207.74" y="294.72" font-size="8.2" font-weight="bold" text-anchor="middle" transform="rotate(-57 207.74 294.72)">TAM+ADQ</text>
<text x="239.34" y="293.12" font-size="8.2" font-weight="bold" text-anchor="middle" transform="rotate(-57 239.34 293.12)">TAM/rCXC1</text>
<text x="250.84" y="297.52" font-size="8.2" font-weight="bold" text-anchor="middle" transform="rotate(-57 250.84 297.52)">+ADQ</text>
<rect x="51.2" y="317.8" width="198.7" height="27.5" fill="#b9b9b9"/>
<rect x="86" y="318" width="6" height="27" fill="#d0d0d0" opacity="0.45" filter="url(#soft)"/>
<rect x="117" y="318" width="5" height="27" fill="#d0d0d0" opacity="0.45" filter="url(#soft)"/>
<rect x="150" y="318" width="4" height="27" fill="#d0d0d0" opacity="0.45" filter="url(#soft)"/>
<rect x="181" y="318" width="4" height="27" fill="#d0d0d0" opacity="0.45" filter="url(#soft)"/>
<rect x="212" y="318" width="4" height="27" fill="#d0d0d0" opacity="0.45" filter="url(#soft)"/>
<rect x="58.5" y="328.1" width="23.5" height="4.6" rx="2.3" fill="#262626" filter="url(#bb)"/>
<rect x="92.5" y="328.8" width="22" height="4" rx="2" fill="#8c8c8c" filter="url(#bb)"/>
<rect x="122.5" y="328.1" width="26" height="5.8" rx="2.9" fill="#141414" filter="url(#bb)"/>
<rect x="153.5" y="329.9" width="24.5" height="4.6" rx="2.3" fill="#2c2c2c" filter="url(#bb)"/>
<rect x="184.5" y="330.1" width="25" height="4.6" rx="2.3" fill="#303030" filter="url(#bb)"/>
<rect x="215.5" y="329.3" width="29.3" height="4.6" rx="2.3" fill="#303030" filter="url(#bb)"/>
<rect x="51.2" y="317.8" width="198.7" height="27.5" filter="url(#grain)" opacity="0.42"/>
<rect x="51.2" y="317.8" width="198.7" height="27.5" fill="none" stroke="#3a3a3a" stroke-width="1"/>
<rect x="52.1" y="388.1" width="198.4" height="26.8" fill="#d0d0d0"/>
<rect x="60.5" y="394.5" width="29.7" height="8.2" rx="8.91" ry="4.1" fill="#1c1c1c" filter="url(#bb2)"/>
<rect x="93" y="394.8" width="28.3" height="8.4" rx="8.49" ry="4.2" fill="#1c1c1c" filter="url(#bb2)"/>
<rect x="124.1" y="395.1" width="28.3" height="8.6" rx="8.49" ry="4.3" fill="#1c1c1c" filter="url(#bb2)"/>
<rect x="155.8" y="396.3" width="26.3" height="8.2" rx="7.89" ry="4.1" fill="#1c1c1c" filter="url(#bb2)"/>
<rect x="185.5" y="396.1" width="29.7" height="9" rx="8.91" ry="4.5" fill="#1c1c1c" filter="url(#bb2)"/>
<rect x="218" y="396.8" width="28.2" height="8.4" rx="8.46" ry="4.2" fill="#1c1c1c" filter="url(#bb2)"/>
<rect x="52.1" y="388.1" width="198.4" height="26.8" filter="url(#grain)" opacity="0.25"/>
<rect x="52.1" y="388.1" width="198.4" height="26.8" fill="none" stroke="#3a3a3a" stroke-width="1"/>
<text x="48.6" y="334.9" font-size="8.9" font-weight="bold" text-anchor="end">FOXP3</text>
<text x="49.2" y="405.5" font-size="8.9" font-weight="bold" text-anchor="end">GAPDH</text>
<text x="253.6" y="335" font-size="8.9" font-weight="bold">55 kDa</text>
<text x="254" y="405.5" font-size="8.9" font-weight="bold">37 kDa</text>
<text x="68.5" y="371.6" font-size="8.8" font-weight="bold" text-anchor="middle">1.00</text>
<text x="105.5" y="371.6" font-size="8.8" font-weight="bold" text-anchor="middle">0.31</text>
<text x="136.7" y="371.6" font-size="8.8" font-weight="bold" text-anchor="middle">1.34</text>
<text x="167" y="371.6" font-size="8.8" font-weight="bold" text-anchor="middle">0.67</text>
<text x="197.7" y="371.6" font-size="8.8" font-weight="bold" text-anchor="middle">0.50</text>
<text x="230.4" y="371.6" font-size="8.8" font-weight="bold" text-anchor="middle">0.80</text>
<text x="287.6" y="233" font-size="31" font-weight="bold">D</text>
<text x="367.9" y="226.4" font-size="8.9" font-weight="bold" text-anchor="middle">Control</text>
<text x="436.5" y="226.4" font-size="8.9" font-weight="bold" text-anchor="middle">20 ug/ml ADQ</text>
<text x="500.3" y="226.4" font-size="8.9" font-weight="bold" text-anchor="middle">TAM</text>
<text x="571.6" y="226.4" font-size="8.9" font-weight="bold" text-anchor="middle">TAM/shCXCL1</text>
<text x="637.9" y="226.4" font-size="8.9" font-weight="bold" text-anchor="middle">TAM+ADQ</text>
<text x="704.5" y="216.6" font-size="8.9" font-weight="bold" text-anchor="middle">TAM/rCXCL1</text>
<text x="704.5" y="227" font-size="8.9" font-weight="bold" text-anchor="middle">+ADQ</text>
<line x1="321.7" y1="230.3" x2="321.7" y2="429" stroke="#444" stroke-width="1.3"/>
<text x="332.4" y="262.6" font-size="8.9" font-weight="bold" text-anchor="middle" fill="#ff1a1a" transform="rotate(-90 332.4 262.6)">FOXP3</text>
<text x="332.4" y="329.8" font-size="8.9" font-weight="bold" text-anchor="middle" fill="#2222ff" transform="rotate(-90 332.4 329.8)">DAPI</text>
<text x="332.4" y="398" font-size="8.9" font-weight="bold" text-anchor="middle" transform="rotate(-90 332.4 398)">Merge</text>
<text x="316.8" y="328.4" font-size="8.9" font-weight="bold" text-anchor="middle" transform="rotate(-90 316.8 328.4)">Naive CD4<tspan dy="-3.38" font-size="5.52">+</tspan><tspan dy="3.38">&#8203;</tspan>  T cells</text>
<rect x="336.2" y="230.2" width="64" height="64" fill="#050508"/>
<svg x="336.2" y="230.2" width="64" height="64" overflow="hidden">
<g opacity="0.85"><g fill="#5c0505" filter="url(#cb)"><ellipse cx="27.5" cy="31.5" rx="16" ry="14.5" transform="rotate(-12 27.5 31.5)"/></g><path d="M33 19Q39 22 41 28Q42 33 39 36" fill="none" stroke="#b01414" stroke-width="2.4" filter="url(#cb2)"/><path d="M14 29Q12 38 19 43" fill="none" stroke="#9a1010" stroke-width="2.2" filter="url(#cb2)"/><ellipse cx="23" cy="33" rx="6" ry="5" fill="#7a0a0a" filter="url(#cb)"/></g>
</svg>
<rect x="336.2" y="297.8" width="64" height="64" fill="#050508"/>
<svg x="336.2" y="297.8" width="64" height="64" overflow="hidden">
<g opacity="0.72"><g fill="#1c1ca4" filter="url(#cb)"><ellipse cx="27.5" cy="31.5" rx="16" ry="14.5" transform="rotate(-12 27.5 31.5)"/></g><ellipse cx="22" cy="30" rx="4" ry="3" fill="#15157a" filter="url(#cb)"/></g>
</svg>
<rect x="336.2" y="364.8" width="64" height="64" fill="#050508"/>
<svg x="336.2" y="364.8" width="64" height="64" overflow="hidden">
<g opacity="0.8"><g fill="#1c1ca4" filter="url(#cb)"><ellipse cx="27.5" cy="31.5" rx="16" ry="14.5" transform="rotate(-12 27.5 31.5)"/></g><ellipse cx="22" cy="30" rx="4" ry="3" fill="#15157a" filter="url(#cb)"/><g style="mix-blend-mode:screen" opacity="0.7"><g fill="#5c0505" filter="url(#cb)"><ellipse cx="27.5" cy="31.5" rx="16" ry="14.5" transform="rotate(-12 27.5 31.5)"/></g><path d="M33 19Q39 22 41 28Q42 33 39 36" fill="none" stroke="#b01414" stroke-width="2.4" filter="url(#cb2)"/><path d="M14 29Q12 38 19 43" fill="none" stroke="#9a1010" stroke-width="2.2" filter="url(#cb2)"/><ellipse cx="23" cy="33" rx="6" ry="5" fill="#7a0a0a" filter="url(#cb)"/></g></g>
</svg>
<rect x="403.5" y="230.2" width="64" height="64" fill="#050508"/>
<svg x="403.5" y="230.2" width="64" height="64" overflow="hidden">
<g opacity="0.85"><g fill="#4a0606" filter="url(#cb)"><ellipse cx="31.5" cy="30" rx="14" ry="15.5" transform="rotate(25 31.5 30)"/></g><g fill="#8c1010" filter="url(#cb3)"><circle cx="30.36" cy="31.55" r="0.95"/><circle cx="30.68" cy="30.2" r="0.75"/><circle cx="23.93" cy="30.31" r="0.78"/><circle cx="26.78" cy="19.36" r="0.89"/><circle cx="36.14" cy="18.09" r="0.99"/><circle cx="42.65" cy="34" r="0.77"/><circle cx="32.18" cy="18.55" r="0.51"/><circle cx="30.63" cy="28.45" r="0.91"/><circle cx="31.96" cy="33.65" r="0.7"/><circle cx="35.4" cy="28.89" r="0.57"/><circle cx="39.67" cy="35.4" r="0.59"/><circle cx="25.01" cy="24.52" r="0.44"/><circle cx="37.89" cy="27.41" r="0.91"/><circle cx="28.78" cy="41.91" r="0.91"/><circle cx="41.35" cy="29.22" r="0.99"/><circle cx="29.04" cy="18.9" r="0.78"/><circle cx="38.18" cy="24.01" r="0.45"/><circle cx="27.48" cy="42.07" r="0.85"/></g></g>
</svg>
<rect x="403.5" y="297.8" width="64" height="64" fill="#050508"/>
<svg x="403.5" y="297.8" width="64" height="64" overflow="hidden">
<g opacity="0.72"><g fill="#1c1ca6" filter="url(#cb)"><ellipse cx="31.5" cy="30" rx="14" ry="15.5" transform="rotate(25 31.5 30)"/></g><ellipse cx="34" cy="26" rx="6" ry="7" fill="#2222b8" filter="url(#cb)"/></g>
</svg>
<rect x="403.5" y="364.8" width="64" height="64" fill="#050508"/>
<svg x="403.5" y="364.8" width="64" height="64" overflow="hidden">
<g opacity="0.8"><g fill="#1c1ca6" filter="url(#cb)"><ellipse cx="31.5" cy="30" rx="14" ry="15.5" transform="rotate(25 31.5 30)"/></g><ellipse cx="34" cy="26" rx="6" ry="7" fill="#2222b8" filter="url(#cb)"/><g style="mix-blend-mode:screen" opacity="0.7"><g fill="#4a0606" filter="url(#cb)"><ellipse cx="31.5" cy="30" rx="14" ry="15.5" transform="rotate(25 31.5 30)"/></g><g fill="#8c1010" filter="url(#cb3)"><circle cx="30.36" cy="31.55" r="0.95"/><circle cx="30.68" cy="30.2" r="0.75"/><circle cx="23.93" cy="30.31" r="0.78"/><circle cx="26.78" cy="19.36" r="0.89"/><circle cx="36.14" cy="18.09" r="0.99"/><circle cx="42.65" cy="34" r="0.77"/><circle cx="32.18" cy="18.55" r="0.51"/><circle cx="30.63" cy="28.45" r="0.91"/><circle cx="31.96" cy="33.65" r="0.7"/><circle cx="35.4" cy="28.89" r="0.57"/><circle cx="39.67" cy="35.4" r="0.59"/><circle cx="25.01" cy="24.52" r="0.44"/><circle cx="37.89" cy="27.41" r="0.91"/><circle cx="28.78" cy="41.91" r="0.91"/><circle cx="41.35" cy="29.22" r="0.99"/><circle cx="29.04" cy="18.9" r="0.78"/><circle cx="38.18" cy="24.01" r="0.45"/><circle cx="27.48" cy="42.07" r="0.85"/></g></g></g>
</svg>
<rect x="471.6" y="230.2" width="64" height="64" fill="#050508"/>
<svg x="471.6" y="230.2" width="64" height="64" overflow="hidden">
<g opacity="1"><g fill="#d81414" filter="url(#cb2)"><path d="M12 29C16 24 32 23 44 27C50 30 51 35 47 39C42 44 33 45 26 42C19 39 13 35 12 29Z"/></g><path d="M19 31Q33 29 45 35" fill="none" stroke="#a00c0c" stroke-width="2.4" filter="url(#cb)"/></g>
</svg>
<rect x="471.6" y="297.8" width="64" height="64" fill="#050508"/>
<svg x="471.6" y="297.8" width="64" height="64" overflow="hidden">
<g opacity="0.72"><g fill="#2424c4" filter="url(#cb2)"><path d="M12 29C16 24 32 23 44 27C50 30 51 35 47 39C42 44 33 45 26 42C19 39 13 35 12 29Z"/></g><path d="M19 31Q33 29 45 35" fill="none" stroke="#1c1ca0" stroke-width="2.4" filter="url(#cb)"/></g>
</svg>
<rect x="471.6" y="364.8" width="64" height="64" fill="#050508"/>
<svg x="471.6" y="364.8" width="64" height="64" overflow="hidden">
<g opacity="0.8"><g fill="#2424c4" filter="url(#cb2)"><path d="M12 29C16 24 32 23 44 27C50 30 51 35 47 39C42 44 33 45 26 42C19 39 13 35 12 29Z"/></g><path d="M19 31Q33 29 45 35" fill="none" stroke="#1c1ca0" stroke-width="2.4" filter="url(#cb)"/><g style="mix-blend-mode:screen" opacity="1"><g fill="#d81414" filter="url(#cb2)"><path d="M12 29C16 24 32 23 44 27C50 30 51 35 47 39C42 44 33 45 26 42C19 39 13 35 12 29Z"/></g><path d="M19 31Q33 29 45 35" fill="none" stroke="#a00c0c" stroke-width="2.4" filter="url(#cb)"/></g></g>
</svg>
<rect x="539" y="230.2" width="64" height="64" fill="#050508"/>
<svg x="539" y="230.2" width="64" height="64" overflow="hidden">
<g opacity="0.85"><ellipse cx="36" cy="28" rx="10" ry="11" fill="#1a0202" filter="url(#cb)"/><g fill="#e02020" filter="url(#cb3)"><circle cx="28.97" cy="27.04" r="0.7"/><circle cx="34.62" cy="19.46" r="0.79"/><circle cx="40.54" cy="24.2" r="0.63"/><circle cx="32.68" cy="25.37" r="0.39"/><circle cx="40.29" cy="19.72" r="0.48"/><circle cx="39.3" cy="30" r="0.69"/><circle cx="26.61" cy="21.26" r="0.62"/><circle cx="32.63" cy="18.48" r="0.8"/><circle cx="34.16" cy="24.83" r="0.54"/><circle cx="34.72" cy="18.99" r="0.37"/><circle cx="41.59" cy="19.76" r="0.78"/><circle cx="42.09" cy="28.08" r="0.77"/><circle cx="36.45" cy="27.68" r="0.42"/><circle cx="34.57" cy="29.23" r="0.46"/><circle cx="33.37" cy="21.84" r="0.6"/><circle cx="32.96" cy="16.43" r="0.4"/><circle cx="34.93" cy="23.86" r="0.65"/><circle cx="39.47" cy="19.55" r="0.68"/><circle cx="36.02" cy="25.96" r="0.45"/><circle cx="29.06" cy="21.57" r="0.86"/><circle cx="32.24" cy="25.56" r="0.52"/><circle cx="40.65" cy="28.43" r="0.56"/><circle cx="38.3" cy="26.81" r="0.84"/><circle cx="43.25" cy="22.51" r="0.89"/><circle cx="43.31" cy="25.45" r="0.84"/><circle cx="34.84" cy="22.01" r="0.49"/></g><g fill="#c81a1a" filter="url(#cb3)"><circle cx="40.47" cy="31.78" r="0.64"/><circle cx="33.08" cy="28.07" r="0.59"/><circle cx="34.54" cy="32.28" r="0.36"/><circle cx="32.37" cy="36.36" r="0.58"/><circle cx="39.2" cy="36.75" r="0.55"/><circle cx="40.43" cy="35.53" r="0.69"/><circle cx="46.53" cy="30.8" r="0.77"/><circle cx="36.9" cy="34.15" r="0.71"/><circle cx="36.03" cy="26.37" r="0.61"/><circle cx="42.49" cy="34.45" r="0.6"/><circle cx="41.28" cy="27.91" r="0.45"/><circle cx="36.17" cy="38.05" r="0.46"/><circle cx="40.17" cy="38.13" r="0.53"/><circle cx="36.91" cy="29.62" r="0.52"/><circle cx="43.44" cy="33.78" r="0.49"/><circle cx="32.71" cy="37.54" r="0.74"/></g><circle cx="34" cy="23" r="1.8" fill="#f02626" filter="url(#cb3)"/><circle cx="41" cy="33" r="2.0" fill="#f02626" filter="url(#cb3)"/></g>
</svg>
<rect x="539" y="297.8" width="64" height="64" fill="#050508"/>
<svg x="539" y="297.8" width="64" height="64" overflow="hidden">
<g opacity="0.72"><path d="M24 20L36 14L47 20L49 36L40 44L26 41L22 30Z" fill="#1e1eb0" filter="url(#cb)"/><g fill="#3030d8" filter="url(#cb3)"><circle cx="29.05" cy="19.89" r="0.79"/><circle cx="32.6" cy="38.35" r="0.54"/><circle cx="46.11" cy="24.67" r="0.76"/><circle cx="45.51" cy="33.45" r="0.95"/><circle cx="40.58" cy="18.16" r="0.93"/><circle cx="37.97" cy="24.46" r="0.51"/><circle cx="43.7" cy="30.99" r="0.96"/><circle cx="37.46" cy="33.76" r="0.77"/><circle cx="31.87" cy="35.75" r="0.97"/><circle cx="39.32" cy="20.41" r="0.9"/><circle cx="39.69" cy="21.44" r="0.43"/><circle cx="36.7" cy="17.77" r="0.96"/><circle cx="36.14" cy="29.42" r="0.65"/><circle cx="39.54" cy="39" r="0.58"/><circle cx="33.22" cy="30.98" r="0.58"/><circle cx="38.1" cy="30.03" r="0.66"/><circle cx="39.81" cy="29.68" r="0.45"/><circle cx="34.5" cy="26.67" r="0.96"/><circle cx="45.95" cy="29.29" r="0.64"/><circle cx="28.77" cy="30.12" r="0.61"/></g></g>
</svg>
<rect x="539" y="364.8" width="64" height="64" fill="#050508"/>
<svg x="539" y="364.8" width="64" height="64" overflow="hidden">
<g opacity="0.8"><path d="M24 20L36 14L47 20L49 36L40 44L26 41L22 30Z" fill="#1e1eb0" filter="url(#cb)"/><g fill="#3030d8" filter="url(#cb3)"><circle cx="29.05" cy="19.89" r="0.79"/><circle cx="32.6" cy="38.35" r="0.54"/><circle cx="46.11" cy="24.67" r="0.76"/><circle cx="45.51" cy="33.45" r="0.95"/><circle cx="40.58" cy="18.16" r="0.93"/><circle cx="37.97" cy="24.46" r="0.51"/><circle cx="43.7" cy="30.99" r="0.96"/><circle cx="37.46" cy="33.76" r="0.77"/><circle cx="31.87" cy="35.75" r="0.97"/><circle cx="39.32" cy="20.41" r="0.9"/><circle cx="39.69" cy="21.44" r="0.43"/><circle cx="36.7" cy="17.77" r="0.96"/><circle cx="36.14" cy="29.42" r="0.65"/><circle cx="39.54" cy="39" r="0.58"/><circle cx="33.22" cy="30.98" r="0.58"/><circle cx="38.1" cy="30.03" r="0.66"/><circle cx="39.81" cy="29.68" r="0.45"/><circle cx="34.5" cy="26.67" r="0.96"/><circle cx="45.95" cy="29.29" r="0.64"/><circle cx="28.77" cy="30.12" r="0.61"/></g><g style="mix-blend-mode:screen" opacity="0.7"><ellipse cx="36" cy="28" rx="10" ry="11" fill="#1a0202" filter="url(#cb)"/><g fill="#e02020" filter="url(#cb3)"><circle cx="28.97" cy="27.04" r="0.7"/><circle cx="34.62" cy="19.46" r="0.79"/><circle cx="40.54" cy="24.2" r="0.63"/><circle cx="32.68" cy="25.37" r="0.39"/><circle cx="40.29" cy="19.72" r="0.48"/><circle cx="39.3" cy="30" r="0.69"/><circle cx="26.61" cy="21.26" r="0.62"/><circle cx="32.63" cy="18.48" r="0.8"/><circle cx="34.16" cy="24.83" r="0.54"/><circle cx="34.72" cy="18.99" r="0.37"/><circle cx="41.59" cy="19.76" r="0.78"/><circle cx="42.09" cy="28.08" r="0.77"/><circle cx="36.45" cy="27.68" r="0.42"/><circle cx="34.57" cy="29.23" r="0.46"/><circle cx="33.37" cy="21.84" r="0.6"/><circle cx="32.96" cy="16.43" r="0.4"/><circle cx="34.93" cy="23.86" r="0.65"/><circle cx="39.47" cy="19.55" r="0.68"/><circle cx="36.02" cy="25.96" r="0.45"/><circle cx="29.06" cy="21.57" r="0.86"/><circle cx="32.24" cy="25.56" r="0.52"/><circle cx="40.65" cy="28.43" r="0.56"/><circle cx="38.3" cy="26.81" r="0.84"/><circle cx="43.25" cy="22.51" r="0.89"/><circle cx="43.31" cy="25.45" r="0.84"/><circle cx="34.84" cy="22.01" r="0.49"/></g><g fill="#c81a1a" filter="url(#cb3)"><circle cx="40.47" cy="31.78" r="0.64"/><circle cx="33.08" cy="28.07" r="0.59"/><circle cx="34.54" cy="32.28" r="0.36"/><circle cx="32.37" cy="36.36" r="0.58"/><circle cx="39.2" cy="36.75" r="0.55"/><circle cx="40.43" cy="35.53" r="0.69"/><circle cx="46.53" cy="30.8" r="0.77"/><circle cx="36.9" cy="34.15" r="0.71"/><circle cx="36.03" cy="26.37" r="0.61"/><circle cx="42.49" cy="34.45" r="0.6"/><circle cx="41.28" cy="27.91" r="0.45"/><circle cx="36.17" cy="38.05" r="0.46"/><circle cx="40.17" cy="38.13" r="0.53"/><circle cx="36.91" cy="29.62" r="0.52"/><circle cx="43.44" cy="33.78" r="0.49"/><circle cx="32.71" cy="37.54" r="0.74"/></g><circle cx="34" cy="23" r="1.8" fill="#f02626" filter="url(#cb3)"/><circle cx="41" cy="33" r="2.0" fill="#f02626" filter="url(#cb3)"/></g></g>
</svg>
<rect x="606.3" y="230.2" width="64" height="64" fill="#050508"/>
<svg x="606.3" y="230.2" width="64" height="64" overflow="hidden">
<g opacity="0.85"><g fill="#340505" filter="url(#cb)"><path d="M17 33L21 18L34 15L43 17L45 31L40 41L27 43L19 40Z"/></g><path d="M22 19L19 32L18 39" fill="none" stroke="#c81c1c" stroke-width="2.0" filter="url(#cb2)"/><path d="M26 27Q34 22 42 27" fill="none" stroke="#9a1414" stroke-width="1.4" filter="url(#cb2)"/><g fill="#b81a1a" filter="url(#cb3)"><circle cx="28.43" cy="34.05" r="0.47"/><circle cx="21.7" cy="24.1" r="0.78"/><circle cx="22.54" cy="35.29" r="0.73"/><circle cx="22.28" cy="30.78" r="0.62"/><circle cx="41.56" cy="27.86" r="0.5"/><circle cx="26.93" cy="27.03" r="0.88"/><circle cx="24.05" cy="23.77" r="0.69"/><circle cx="32.14" cy="39.98" r="0.82"/><circle cx="27.53" cy="23.48" r="0.82"/><circle cx="36.64" cy="38.1" r="0.73"/><circle cx="24.24" cy="36.53" r="0.76"/><circle cx="23.65" cy="33.1" r="0.51"/><circle cx="19.99" cy="26.39" r="0.57"/><circle cx="28.51" cy="33.23" r="0.82"/><circle cx="26.35" cy="22.88" r="0.71"/><circle cx="32.1" cy="33.84" r="0.45"/></g></g>
</svg>
<rect x="606.3" y="297.8" width="64" height="64" fill="#050508"/>
<svg x="606.3" y="297.8" width="64" height="64" overflow="hidden">
<g opacity="0.72"><g fill="#1e1eb0" filter="url(#cb)"><path d="M17 33L21 18L34 15L43 17L45 31L40 41L27 43L19 40Z"/></g></g>
</svg>
<rect x="606.3" y="364.8" width="64" height="64" fill="#050508"/>
<svg x="606.3" y="364.8" width="64" height="64" overflow="hidden">
<g opacity="0.8"><g fill="#1e1eb0" filter="url(#cb)"><path d="M17 33L21 18L34 15L43 17L45 31L40 41L27 43L19 40Z"/></g><g style="mix-blend-mode:screen" opacity="0.7"><g fill="#340505" filter="url(#cb)"><path d="M17 33L21 18L34 15L43 17L45 31L40 41L27 43L19 40Z"/></g><path d="M22 19L19 32L18 39" fill="none" stroke="#c81c1c" stroke-width="2.0" filter="url(#cb2)"/><path d="M26 27Q34 22 42 27" fill="none" stroke="#9a1414" stroke-width="1.4" filter="url(#cb2)"/><g fill="#b81a1a" filter="url(#cb3)"><circle cx="28.43" cy="34.05" r="0.47"/><circle cx="21.7" cy="24.1" r="0.78"/><circle cx="22.54" cy="35.29" r="0.73"/><circle cx="22.28" cy="30.78" r="0.62"/><circle cx="41.56" cy="27.86" r="0.5"/><circle cx="26.93" cy="27.03" r="0.88"/><circle cx="24.05" cy="23.77" r="0.69"/><circle cx="32.14" cy="39.98" r="0.82"/><circle cx="27.53" cy="23.48" r="0.82"/><circle cx="36.64" cy="38.1" r="0.73"/><circle cx="24.24" cy="36.53" r="0.76"/><circle cx="23.65" cy="33.1" r="0.51"/><circle cx="19.99" cy="26.39" r="0.57"/><circle cx="28.51" cy="33.23" r="0.82"/><circle cx="26.35" cy="22.88" r="0.71"/><circle cx="32.1" cy="33.84" r="0.45"/></g></g></g>
</svg>
<rect x="673.9" y="230.2" width="64" height="64" fill="#050508"/>
<svg x="673.9" y="230.2" width="64" height="64" overflow="hidden">
<g opacity="0.85"><g fill="#520808" filter="url(#cb)"><path d="M27 26L32 16L40 13L47 20L51 33L46 40L37 37L29 33Z"/></g><path d="M36 14L41 13L47 20L51 33L46 40" fill="none" stroke="#d01a1a" stroke-width="2.6" filter="url(#cb2)"/><path d="M40 18L46 26L47 36" fill="none" stroke="#8a0e0e" stroke-width="3" filter="url(#cb)"/></g>
</svg>
<rect x="673.9" y="297.8" width="64" height="64" fill="#050508"/>
<svg x="673.9" y="297.8" width="64" height="64" overflow="hidden">
<g opacity="0.72"><g fill="#1c1ca8" filter="url(#cb)"><path d="M27 26L32 16L40 13L47 20L51 33L46 40L37 37L29 33Z"/></g><path d="M33 15L41 13L47 20L49 30" fill="none" stroke="#3030e0" stroke-width="2.2" filter="url(#cb2)"/></g>
</svg>
<rect x="673.9" y="364.8" width="64" height="64" fill="#050508"/>
<svg x="673.9" y="364.8" width="64" height="64" overflow="hidden">
<g opacity="0.8"><g fill="#1c1ca8" filter="url(#cb)"><path d="M27 26L32 16L40 13L47 20L51 33L46 40L37 37L29 33Z"/></g><path d="M33 15L41 13L47 20L49 30" fill="none" stroke="#3030e0" stroke-width="2.2" filter="url(#cb2)"/><g style="mix-blend-mode:screen" opacity="0.7"><g fill="#520808" filter="url(#cb)"><path d="M27 26L32 16L40 13L47 20L51 33L46 40L37 37L29 33Z"/></g><path d="M36 14L41 13L47 20L51 33L46 40" fill="none" stroke="#d01a1a" stroke-width="2.6" filter="url(#cb2)"/><path d="M40 18L46 26L47 36" fill="none" stroke="#8a0e0e" stroke-width="3" filter="url(#cb)"/></g></g>
</svg>
<line x1="719.3" y1="423.8" x2="735.3" y2="423.8" stroke="#e01010" stroke-width="1.6"/>
<text x="0.1" y="470.8" font-size="31" font-weight="bold">E</text>
<text x="400.7" y="463.4" font-size="8.9" font-weight="bold" text-anchor="middle">CD8<tspan dy="-3.38" font-size="5.52">+</tspan><tspan dy="3.38">&#8203;</tspan> T cells</text>
<line x1="54.9" y1="469.7" x2="736.9" y2="469.7" stroke="#000" stroke-width="1.3"/>
<line x1="38.4" y1="463.3" x2="38.4" y2="600.6" stroke="#000" stroke-width="1.3"/>
<path d="M35.6 467L38.4 462.8L41.2 467" stroke="#000" stroke-width="1.3" fill="none" stroke-linejoin="miter"/>
<line x1="38.4" y1="600.6" x2="740.5" y2="600.6" stroke="#000" stroke-width="1.3"/>
<path d="M736.8 597.8L741 600.6L736.8 603.4" stroke="#000" stroke-width="1.3" fill="none"/>
<text x="34" y="536.6" font-size="9" font-weight="bold" text-anchor="middle" transform="rotate(-90 34 536.6)">PI</text>
<text x="395.9" y="611.2" font-size="8.9" font-weight="bold" text-anchor="middle">CSFE</text>
<g filter="url(#sb)">
<path d="M121 507.5h1m-30 1h1m2 1h1m11 0h1m-14 3h1m18 2h1m-5 1h1m-13 1h1m0 1h1m25 0h1m-29 1h1m13 0h1m6 0h1m-33 1h1m5 0h1m3 0h1h1h1m3 0h1m5 0h1m2 0h1m-16 1h1m1 0h1m3 0h1m15 0h1m3 0h1m-44 1h1m16 0h1m2 0h1h1h1h1h1m3 0h1m9 0h1m10 0h1m-37 1h1m1 0h1m2 0h1m3 0h1m1 0h1h1h1h1m-14 1h1m2 0h1m1 0h1h1m2 0h1h1h1h1h1m-19 1h1m4 0h1m1 0h1m1 0h1m1 0h1h1h1h1h1h1h1h1h1h1m9 0h1m-27 1h1m2 0h1h1m1 0h1h1h1h1h1h1h1h1h1h1h1h1m6 0h1m-28 1h1m2 0h1h1m6 0h1m1 0h1h1h1h1h1h1h1h1h1h1m1 0h1m-32 1h1m4 0h1h1m5 0h1h1h1m1 0h1m1 0h1h1h1h1h1m1 0h1h1m1 0h1h1h1m3 0h1m-32 1h1m2 0h1m2 0h1h1m1 0h1m1 0h1h1m1 0h1m1 0h1m1 0h1h1m1 0h1h1h1h1h1h1h1h1m-26 1h1m2 0h1h1h1m1 0h1m1 0h1h1m2 0h1h1h1h1h1m1 0h1h1h1h1h1h1h1h1m2 0h1h1m-31 1h1m1 0h1m1 0h1m3 0h1h1m1 0h1m2 0h1h1h1h1h1m1 0h1m1 0h1m2 0h1h1h1m-29 1h1h1h1m2 0h1h1m1 0h1h1h1h1h1h1h1h1m2 0h1m3 0h1h1h1h1m1 0h1m-31 1h1h1h1m1 0h1m2 0h1h1m1 0h1m1 0h1h1h1h1h1h1m1 0h1h1m2 0h1m7 0h1h1m10 0h1m-44 1h1h1h1m1 0h1m2 0h1h1m3 0h1h1m1 0h1h1m1 0h1h1h1h1h1m8 0h1m-31 1h1h1m1 0h1h1m1 0h1h1h1h1m1 0h1h1h1h1h1h1h1h1h1m7 0h1h1m1 0h1m4 0h1m-38 1h1m1 0h1m1 0h1h1h1m1 0h1h1h1h1h1h1h1h1m1 0h1h1h1m12 0h1m-34 1h1m3 0h1m1 0h1h1h1h1h1h1h1h1h1h1h1h1m1 0h1m11 0h1h1m5 0h1m-48 1h1m6 0h1h1m4 0h1h1h1h1h1m1 0h1h1h1h1h1h1h1h1h1m12 0h1m4 0h1m-43 1h1h1m2 0h1m1 0h1h1m2 0h1h1h1m1 0h1h1h1h1h1h1m1 0h1h1m13 0h1h1m-33 1h1h1m1 0h1h1m1 0h1m1 0h1h1h1h1h1h1h1h1h1m13 0h1m1 0h1m2 0h1m-44 1h1m4 0h1h1m2 0h1h1h1h1h1h1h1h1h1h1m1 0h1h1h1m15 0h1h1h1m-39 1h1h1m3 0h1h1m1 0h1h1h1m1 0h1h1h1h1h1h1h1m16 0h1h1m-46 1h1m11 0h1m2 0h1h1m1 0h1h1h1h1h1m1 0h1h1h1m1 0h1m16 0h1m6 0h1m-45 1h1m2 0h1m1 0h1m1 0h1h1h1h1h1h1h1h1m1 0h1h1h1h1m14 0h1m2 0h1m-40 1h1m2 0h1m1 0h1m1 0h1h1h1m1 0h1h1h1m1 0h1h1h1h1h1h1m14 0h1h1m1 0h1m2 0h1m-40 1h1h1m1 0h1m3 0h1h1h1h1m1 0h1h1h1h1h1h1h1m13 0h1h1m-32 1h1h1m2 0h1h1h1h1h1h1m1 0h1h1h1m15 0h1h1m-36 1h1m1 0h1m2 0h1m3 0h1h1h1h1h1h1m1 0h1h1h1m14 0h1h1h1m2 0h1m-49 1h1m7 0h1m3 0h1h1h1h1h1m2 0h1h1h1h1h1h1m1 0h1h1h1m14 0h1m-42 1h1m6 0h1m4 0h1h1h1h1h1m1 0h1h1m1 0h1m1 0h1h1h1h1m13 0h1m-38 1h1h1m2 0h1m1 0h1m3 0h1h1h1m1 0h1h1h1m1 0h1h1h1h1h1h1m-24 1h1m4 0h1m2 0h1m2 0h1m1 0h1h1h1m1 0h1m1 0h1h1h1h1h1m11 0h1h1h1m8 0h1m-44 1h1h1m1 0h1h1h1m1 0h1h1h1h1h1h1h1h1m2 0h1h1m15 0h1m-37 1h1m1 0h1m1 0h1h1h1h1h1h1m1 0h1h1h1m2 0h1h1h1h1m12 0h1h1m2 0h1m-36 1h1h1h1h1h1m1 0h1h1h1m1 0h1h1h1h1m1 0h1h1h1m12 0h1h1m2 0h1m9 0h1m-42 1h1h1h1m2 0h1h1m1 0h1h1h1h1h1h1h1m11 0h1m1 0h1m-27 1h1m1 0h1h1h1h1h1h1h1h1h1h1m12 0h1m5 0h1h1m-34 1h1h1h1m1 0h1h1h1h1h1m1 0h1m1 0h1m12 0h1m2 0h1m7 0h1m-34 1h1h1h1m1 0h1h1h1h1h1h1h1m10 0h1h1h1m-25 1h1h1h1h1h1m1 0h1m1 0h1h1h1m11 0h1m3 0h1m-25 1h1h1h1h1h1h1m1 0h1m10 0h1h1m3 0h1m-25 1h1h1h1h1h1h1h1h1h1m8 0h1m2 0h1m2 0h1m-23 1h1h1h1h1m1 0h1h1m8 0h1m1 0h1m1 0h1m-34 1h1m14 0h1h1h1h1m1 0h1m7 0h1m-12 1h1h1m1 0h1m6 0h1m14 0h1m-28 1h1h1h1m2 0h1m7 0h1h1h1m1 0h1m1 0h1m7 0h1m-35 1h1m1 0h1h1m2 0h1h1h1m2 0h1h1m5 0h1h1m6 0h1m4 0h1m-24 1h1m3 0h1m2 0h1h1h1h1h1m9 0h1m-26 1h1m3 0h1m5 0h1m1 0h1h1m1 0h1m-23 1h1m6 0h1m2 0h1m1 0h1m3 0h1m3 0h1m-10 1h1h1m-6 1h1m-12 1h1m3 0h1m19 0h1m-8 1h1m4 0h1m5 0h1m-13 1h1m1 0h1m13 0h1m-22 1h1m8 0h1h1m-24 1h1m8 0h1m2 0h1m2 2h1m-8 1h1h1m2 0h1m4 0h1m1 0h1m-9 1h1m-5 1h1" stroke="#1424f0" stroke-opacity="0.85"/>
<path d="M106 532.5h1h1h1m-4 1h1m3 0h1m-7 1h1h1m-4 1h1m1 0h1m6 0h1m-11 1h1h1m8 0h1m-12 1h1h1m9 0h1m-13 1h1h1m-4 1h1m-3 1h1h1h1m11 0h1m-16 1h1h1m12 0h1m-15 1h1m12 0h1m-15 1h1m12 0h1m-14 1h1m11 0h1m-2 1h1m-16 1h1h1h1h1m10 0h1m-15 1h1h1h1m-3 1h1h1m11 0h1m-13 1h1m10 0h1m-13 1h1h1m9 0h1m-12 1h1m9 0h1m-13 1h1h1h1m8 0h1m-13 1h1h1h1m8 0h1m-13 1h1h1h1m8 0h1m-12 1h1h1m8 0h1m-12 1h1h1m9 0h1m-12 1h1h1m8 0h1m-11 1h1m8 0h1m-11 1h1h1m7 0h1m-11 1h1h1m6 0h1m-9 1h1m6 0h1m-9 1h1m6 0h1m-8 1h1m5 0h1m-7 1h1m4 0h1m-6 1h1m4 0h1m-5 1h1h1h1h1" stroke="#0a58ff" stroke-opacity="0.85"/>
<path d="M106 533.5h1h1h1m-4 1h1m3 0h1m-6 1h1m4 0h1m-8 1h1m6 0h1m-9 1h1m7 0h1m-10 1h1m7 0h1m-1 1h1m-12 1h1m9 0h1m-13 1h1m10 0h1m-13 1h1m10 0h1m-13 1h1m10 0h1m-12 1h1m9 0h1m-12 1h1m9 0h1m-11 1h1m-2 1h1m9 0h1m-12 1h1m9 0h1m-11 1h1m8 0h1m-2 1h1m-10 1h1m7 0h1m-9 1h1m-2 1h1m-2 1h1m6 0h1m-9 1h1m-2 1h1m7 0h1m-9 1h1m6 0h1m-9 1h1m6 0h1m-3 1h1h1m-8 1h1m4 0h1m-7 1h1m4 0h1m-7 1h1m4 0h1m-6 1h1m3 0h1m-2 1h1m-4 1h1m1 0h1h1" stroke="#0096ff" stroke-opacity="0.85"/>
<path d="M106 534.5h1h1h1m-4 1h1m2 0h1m-6 1h1m-2 1h1m5 0h1m-8 1h1m-3 1h1m7 0h1m-10 1h1m7 0h1m-11 1h1m-2 1h1m-2 1h1m-2 2h1m7 1h1m-10 1h1m7 0h1m-10 1h1m7 0h1m-2 1h1m-9 1h1m6 0h1m-8 1h1m5 1h1m-8 1h1m5 0h1m-8 1h1m-2 1h1m5 0h1m-8 1h1m5 0h1m-2 1h1m-7 1h1m4 0h1m-6 1h1m-2 1h1m2 0h1m-5 1h1h1m1 0h1m-5 1h1h1h1h1m-4 1h1m1 0h1m-4 1h1h1h1m-2 1h1" stroke="#00d0d0" stroke-opacity="0.85"/>
<path d="M106 535.5h1h1m-4 1h1h1h1h1h1m-6 1h1h1m2 0h1m-6 1h1h1h1m1 0h1h1m-8 1h1h1h1h1m1 0h1h1m-8 1h1h1h1m2 0h1h1m-9 1h1m5 0h1h1h1m-10 1h1m6 0h1h1m-10 1h1m6 0h1h1m-10 1h1m6 0h1h1m-2 1h1m-9 1h1m6 0h1m-8 1h1m5 0h1m-8 1h1m5 0h1m-8 1h1h1m4 0h1m-7 1h1m4 0h1m-6 1h1m3 0h1h1m-7 1h1h1m2 0h1h1m-6 1h1h1h1h1h1m-6 1h1m2 0h1h1m-6 1h1m3 0h1m-6 1h1m3 0h1m-6 1h1h1m1 0h1h1m-5 1h1h1h1h1m-4 1h1h1h1m-4 1h1h1m-2 1h1m-3 2h1" stroke="#22d840" stroke-opacity="0.85"/>
<path d="M105 537.5h1h1m-2 1h1m-2 1h1m-3 1h1h1m-6 1h1h1h1h1h1m-6 1h1m3 0h1h1m-7 1h1m4 0h1m-7 1h1m-2 1h1m5 0h1m-7 1h1m4 0h1m-6 1h1m-2 1h1m3 0h1m-5 1h1m2 0h1m-5 1h1h1h1h1m-4 1h1h1h1m-3 1h1h1m-4 2h1h1m-3 1h1h1h1m-4 1h1h1h1m-3 1h1" stroke="#a0e400" stroke-opacity="0.85"/>
<path d="M98 542.5h1h1h1m-1 1h1m-1 1h1m-6 1h1m3 0h1m-2 2h1m-5 1h1h1h1m-3 1h1h1" stroke="#ffd400" stroke-opacity="0.85"/>
<path d="M97 543.5h1h1h1m-4 1h1m2 0h1m-5 2h1m2 0h1m-4 1h1h1h1" stroke="#ff8000" stroke-opacity="0.85"/>
<path d="M97 544.5h1h1m-3 1h1h1h1m-3 1h1h1" stroke="#ff1a00" stroke-opacity="0.85"/>
</g>
<rect x="53.6" y="486.6" width="97.6" height="97.7" fill="none" stroke="#666" stroke-width="1"/>
<line x1="100.3" y1="486.6" x2="100.3" y2="584.3" stroke="#777" stroke-width="1"/>
<line x1="53.6" y1="536.9" x2="151.2" y2="536.9" stroke="#777" stroke-width="1"/>
<text x="49" y="490.7" font-size="6.2" text-anchor="middle" fill="#1a1a1a" transform="rotate(-90 49 490.7)">10<tspan dy="-2.36" font-size="4.59">7</tspan><tspan dy="2.36">&#8203;</tspan></text>
<line x1="52" y1="490.7" x2="53.6" y2="490.7" stroke="#777" stroke-width="0.6"/>
<text x="49" y="515.2" font-size="6.2" text-anchor="middle" fill="#1a1a1a" transform="rotate(-90 49 515.2)">10<tspan dy="-2.36" font-size="4.59">6</tspan><tspan dy="2.36">&#8203;</tspan></text>
<line x1="52" y1="515.2" x2="53.6" y2="515.2" stroke="#777" stroke-width="0.6"/>
<text x="49" y="530.3" font-size="6.2" text-anchor="middle" fill="#1a1a1a" transform="rotate(-90 49 530.3)">10<tspan dy="-2.36" font-size="4.59">5</tspan><tspan dy="2.36">&#8203;</tspan></text>
<line x1="52" y1="530.3" x2="53.6" y2="530.3" stroke="#777" stroke-width="0.6"/>
<text x="49" y="546.3" font-size="6.2" text-anchor="middle" fill="#1a1a1a" transform="rotate(-90 49 546.3)">10<tspan dy="-2.36" font-size="4.59">4</tspan><tspan dy="2.36">&#8203;</tspan></text>
<line x1="52" y1="546.3" x2="53.6" y2="546.3" stroke="#777" stroke-width="0.6"/>
<text x="49" y="562.3" font-size="6.2" text-anchor="middle" fill="#1a1a1a" transform="rotate(-90 49 562.3)">10<tspan dy="-2.36" font-size="4.59">3</tspan><tspan dy="2.36">&#8203;</tspan></text>
<line x1="52" y1="562.3" x2="53.6" y2="562.3" stroke="#777" stroke-width="0.6"/>
<text x="49" y="578.3" font-size="6.2" text-anchor="middle" fill="#1a1a1a" transform="rotate(-90 49 578.3)">10<tspan dy="-2.36" font-size="4.59">1.6</tspan><tspan dy="2.36">&#8203;</tspan></text>
<line x1="52" y1="578.3" x2="53.6" y2="578.3" stroke="#777" stroke-width="0.6"/>
<text x="57.3" y="594.9" font-size="6.2" text-anchor="middle" fill="#1a1a1a">10<tspan dy="-2.36" font-size="4.59">1.4</tspan><tspan dy="2.36">&#8203;</tspan></text>
<line x1="57.3" y1="584.3" x2="57.3" y2="585.9" stroke="#777" stroke-width="0.6"/>
<text x="80" y="594.9" font-size="6.2" text-anchor="middle" fill="#1a1a1a">10<tspan dy="-2.36" font-size="4.59">3</tspan><tspan dy="2.36">&#8203;</tspan></text>
<line x1="80" y1="584.3" x2="80" y2="585.9" stroke="#777" stroke-width="0.6"/>
<text x="94" y="594.9" font-size="6.2" text-anchor="middle" fill="#1a1a1a">10<tspan dy="-2.36" font-size="4.59">4</tspan><tspan dy="2.36">&#8203;</tspan></text>
<line x1="94" y1="584.3" x2="94" y2="585.9" stroke="#777" stroke-width="0.6"/>
<text x="110" y="594.9" font-size="6.2" text-anchor="middle" fill="#1a1a1a">10<tspan dy="-2.36" font-size="4.59">5</tspan><tspan dy="2.36">&#8203;</tspan></text>
<line x1="110" y1="584.3" x2="110" y2="585.9" stroke="#777" stroke-width="0.6"/>
<text x="126" y="594.9" font-size="6.2" text-anchor="middle" fill="#1a1a1a">10<tspan dy="-2.36" font-size="4.59">6</tspan><tspan dy="2.36">&#8203;</tspan></text>
<line x1="126" y1="584.3" x2="126" y2="585.9" stroke="#777" stroke-width="0.6"/>
<text x="147.8" y="594.9" font-size="6.2" text-anchor="middle" fill="#1a1a1a">10<tspan dy="-2.36" font-size="4.59">7</tspan><tspan dy="2.36">&#8203;</tspan></text>
<line x1="147.8" y1="584.3" x2="147.8" y2="585.9" stroke="#777" stroke-width="0.6"/>
<text x="105.6" y="482.2" font-size="8.9" font-weight="bold" text-anchor="middle">Control</text>
<text x="150.6" y="516.7" font-size="8.9" font-weight="bold" text-anchor="end" fill="#F81414">6.63%</text>
<text x="149.1" y="551" font-size="8.9" font-weight="bold" text-anchor="end" fill="#F81414">10.37%</text>
<text x="129.6" y="493.6" font-size="5.9" fill="#222">Q3-2</text>
<text x="129.6" y="499.9" font-size="5.9" fill="#222">6.63%</text>
<text x="56.4" y="572.9" font-size="5.9" fill="#222">Q3-3</text>
<text x="56.4" y="579.6" font-size="5.9" fill="#222">72.51%</text>
<text x="127.8" y="572.9" font-size="5.9" fill="#222">Q3-4</text>
<text x="128.2" y="579.6" font-size="5.9" fill="#222">10.37%</text>
<g filter="url(#sb)">
<path d="M217 510.5h1m-3 1h1m12 1h1m-35 3h1m8 1h1m0 3h1m3 0h1m19 0h1m2 0h1m-28 1h1m3 0h1h1m11 0h1h1m15 0h1m-33 1h1h1m1 0h1h1m17 0h1m-24 1h1m5 0h1h1m5 0h1m4 0h1m-21 1h1m3 0h1m3 0h1h1m1 0h1h1m12 0h1m-28 1h1m5 0h1m1 0h1m2 0h1m2 0h1h1m5 0h1m-17 1h1m2 0h1h1h1h1h1h1h1h1h1h1m9 0h1m3 0h1m-31 1h1m1 0h1m2 0h1h1m2 0h1m2 0h1m1 0h1h1m14 0h1m-44 1h1m6 0h1m2 0h1m3 0h1m1 0h1m2 0h1m2 0h1m1 0h1h1m1 0h1h1h1h1m1 0h1h1h1m8 0h1m-32 1h1m2 0h1m3 0h1h1h1m1 0h1h1h1h1m1 0h1h1h1m2 0h1m2 0h1m4 0h1m-38 1h1m4 0h1m3 0h1h1m4 0h1h1h1m2 0h1h1h1h1h1h1h1h1h1m3 0h1m1 0h1m-42 1h1m9 0h1m2 0h1h1m1 0h1m2 0h1m1 0h1h1m1 0h1m2 0h1m1 0h1h1h1h1h1m1 0h1m1 0h1h1m1 0h1m-33 1h1m4 0h1m3 0h1m1 0h1h1m1 0h1m1 0h1h1h1h1h1h1h1h1h1m1 0h1h1m1 0h1m5 0h1m-44 1h1m6 0h1m10 0h1m2 0h1h1h1h1h1h1h1h1h1h1h1h1h1h1h1h1h1h1m7 0h1m-48 1h1m16 0h1h1h1m1 0h1h1h1m2 0h1h1h1h1h1h1h1h1m2 0h1h1m1 0h1m3 0h1m-39 1h1m3 0h1m2 0h1m1 0h1h1m5 0h1h1h1h1m1 0h1h1h1h1m1 0h1h1h1h1m1 0h1h1h1h1h1m9 0h1m-41 1h1h1m1 0h1h1h1h1m2 0h1h1h1m1 0h1h1h1h1h1h1h1m1 0h1h1m3 0h1h1h1m3 0h1m-41 1h1m6 0h1h1h1m2 0h1h1m1 0h1h1h1h1h1h1h1m1 0h1h1h1h1h1m8 0h1m2 0h1m1 0h1m-41 1h1h1m4 0h1h1m2 0h1m1 0h1h1h1h1m1 0h1h1h1m1 0h1h1h1h1h1h1m8 0h1m1 0h1h1m1 0h1m2 0h1m-44 1h1m3 0h1m1 0h1m2 0h1m1 0h1h1h1h1m1 0h1h1h1m1 0h1h1m2 0h1m11 0h1h1m3 0h1m-46 1h1m3 0h1m2 0h1h1m3 0h1m2 0h1h1h1h1h1h1h1h1h1m16 0h1m2 0h1m2 0h1m-46 1h1m7 0h1h1m1 0h1m1 0h1m1 0h1h1h1h1h1h1h1m17 0h1h1h1m-45 1h1m2 0h1m5 0h1h1h1m1 0h1h1h1h1h1h1h1h1m1 0h1m19 0h1m-37 1h1m1 0h1m2 0h1h1h1h1h1h1h1m1 0h1h1h1h1h1h1h1m14 0h1h1m-48 1h1m9 0h1m3 0h1h1h1h1h1h1h1m2 0h1h1m2 0h1h1h1h1h1m14 0h1m2 0h1m-45 1h1m4 0h1m2 0h1h1m4 0h1h1h1m1 0h1h1h1h1m18 0h1m-44 1h1m9 0h1h1h1h1m1 0h1h1h1m2 0h1h1h1h1m18 0h1h1h1m-43 1h1m6 0h1h1h1h1m1 0h1h1h1h1h1h1h1h1h1h1m17 0h1h1m5 0h1m-41 1h1m3 0h1m1 0h1h1h1h1h1h1m2 0h1h1m15 0h1m1 0h1m1 0h1m-43 1h1h1h1h1m3 0h1m2 0h1m1 0h1h1h1m1 0h1h1h1h1h1h1m15 0h1m1 0h1h1m-39 1h1m2 0h1m2 0h1m1 0h1h1h1h1h1h1h1h1h1h1m1 0h1m14 0h1h1m4 0h1m1 0h1m-44 1h1m1 0h1h1m5 0h1h1h1h1h1h1h1h1h1h1h1m14 0h1h1h1m-37 1h1m4 0h1m1 0h1h1h1m1 0h1h1h1h1h1h1h1h1m15 0h1m1 0h1h1m2 0h1m-38 1h1h1h1m1 0h1m1 0h1m2 0h1h1h1m1 0h1h1m14 0h1m3 0h1m-34 1h1h1m1 0h1h1h1h1h1m1 0h1h1h1h1h1h1m18 0h1m-32 1h1h1h1h1h1h1h1h1h1h1m1 0h1m14 0h1m1 0h1h1h1m-36 1h1m4 0h1h1h1h1m1 0h1h1h1h1h1h1h1m14 0h1m-27 1h1h1h1h1h1h1h1h1m16 0h1h1m-25 1h1h1m1 0h1m1 0h1h1m16 0h1h1m-22 1h1h1h1h1m14 0h1m1 0h1m1 0h1m2 0h1m3 0h1m-36 1h1m3 0h1h1h1h1h1h1m13 0h1h1h1m-20 1h1h1h1h1m14 0h1m-19 1h1m2 0h1m11 0h1h1m3 0h1m-30 1h1m5 0h1h1m1 0h1m2 0h1m10 0h1m1 0h1m1 0h1m12 0h1m-32 1h1h1m1 0h1m9 0h1m-14 1h1m12 0h1m9 0h1m-34 1h1m4 0h1m4 0h1m1 0h1m1 0h1m6 0h1h1h1m7 0h1m-22 1h1m5 0h1m1 0h1m3 0h1m1 0h1m-10 1h1h1h1m2 0h1m1 0h1m-15 1h1m3 1h1m8 0h1m-14 1h1h1m6 0h1m3 1h1m-21 2h1m1 0h1m10 0h1m-7 1h1m-3 3h1" stroke="#1424f0" stroke-opacity="0.85"/>
<path d="M219 535.5h1h1m-5 1h1h1m1 0h1m1 0h1h1m-8 1h1h1h1m4 0h1m-13 1h1m2 0h1h1h1m-8 1h1h1h1h1h1h1h1m8 0h1m-17 1h1h1h1h1h1h1h1m9 0h1m-17 1h1h1h1h1h1h1m9 0h1m-15 1h1h1h1h1m-4 1h1h1m11 0h1m-19 1h1h1h1h1h1h1m-6 1h1m1 0h1h1h1m-6 1h1h1h1m13 0h1m-17 1h1h1m12 0h1m-15 1h1h1m-3 1h1h1h1m10 0h1m-15 1h1h1h1m10 0h1m-15 1h1h1m11 0h1m-15 1h1h1m11 0h1m-14 1h1m-1 1h1m11 0h1m-14 1h1m-5 1h1h1m1 0h1h1m10 0h1m-16 1h1h1h1m11 0h1m-15 1h1m12 0h1m-14 1h1m11 0h1m-13 1h1m-1 1h1m-1 1h1m-1 1h1m7 0h1m-9 1h1m6 0h1m-7 1h1m3 0h1h1" stroke="#0a58ff" stroke-opacity="0.85"/>
<path d="M220 536.5h1m-3 1h1h1m1 0h1m-6 1h1h1m4 0h1m-8 1h1h1m5 0h1m-9 1h1m7 0h1m-10 1h1m-2 1h1m8 0h1m-11 1h1m8 0h1m-11 1h1m8 0h1m-12 1h1m-4 1h1h1h1m9 0h1m-14 1h1h1m9 0h1m-12 1h1m9 0h1m-11 1h1m8 0h1m-11 1h1m8 0h1m-12 1h1m-2 1h1m-2 1h1m10 0h1m-12 1h1m9 0h1m-12 1h1m-1 1h1m-3 1h1m-3 1h1h1m-2 1h1m8 2h1m-2 1h1m-9 2h1m0 1h1h1h1" stroke="#0096ff" stroke-opacity="0.85"/>
<path d="M220 537.5h1m-3 1h1m2 0h1m-5 1h1m-3 1h1h1m4 0h1m-8 1h1m6 0h1m-9 1h1m6 0h1m-9 1h1m6 0h1m-9 1h1m6 0h1m-9 1h1m6 0h1m-10 1h1m7 0h1m-11 1h1m-2 1h1m7 0h1m-10 2h1m-2 1h1m7 0h1m-11 1h1m8 0h1m-11 1h1m-2 2h1m8 0h1m-2 1h1m-11 1h1m8 0h1m-2 1h1m-2 1h1m-11 1h1m-1 1h1m-1 2h1m5 0h1" stroke="#00d0d0" stroke-opacity="0.85"/>
<path d="M219 538.5h1h1m-3 1h1h1h1h1m-5 1h1h1h1h1m-6 1h1h1h1h1h1h1m-7 1h1h1h1h1h1h1m-7 1h1h1h1h1h1h1m-7 1h1h1h1m1 0h1h1m-7 1h1h1h1m1 0h1h1m-8 1h1h1h1h1h1h1h1m-9 1h1h1h1h1h1h1h1h1m-9 1h1h1m3 0h1h1m-8 1h1h1m4 0h1h1m-8 1h1m4 0h1h1m-8 1h1m5 0h1m-9 1h1h1m5 0h1m-9 1h1m7 0h1m-10 1h1m7 0h1m-9 1h1m6 0h1m-9 1h1m6 0h1m-9 1h1m6 0h1m-10 1h1h1m-3 1h1h1m-2 1h1m7 0h1m-2 1h1m-9 1h1m6 0h1m-7 1h1m3 0h1m-5 1h1h1h1h1" stroke="#22d840" stroke-opacity="0.85"/>
<path d="M215 544.5h1m-2 1h1m-7 3h1h1h1m-4 1h1h1h1h1m-5 1h1h1h1h1m-5 1h1h1m1 0h1h1m-6 1h1m3 0h1m-7 1h1h1m4 0h1m-8 1h1m5 0h1m-7 1h1m4 0h1m-7 1h1m4 0h1m-7 1h1m-2 1h1m5 0h1m-8 1h1m5 0h1m-8 1h1m5 0h1m-8 1h1m5 0h1m-7 1h1m4 0h1m-5 1h1h1h1" stroke="#a0e400" stroke-opacity="0.85"/>
<path d="M207 551.5h1m-3 1h1h1h1m-4 1h1m1 0h1h1m-6 1h1m3 0h1m-2 1h1m-5 1h1m-2 1h1m3 0h1m-6 1h1m3 0h1m-6 1h1m-2 1h1m-2 1h1m3 0h1m-5 1h1h1h1h1" stroke="#ffd400" stroke-opacity="0.85"/>
<path d="M205 553.5h1m-3 1h1h1h1m-4 1h1m1 0h1m-1 1h1m-2 1h1m-4 1h1m-2 1h1m2 0h1m-5 1h1m2 0h1m-5 1h1h1h1" stroke="#ff8000" stroke-opacity="0.85"/>
<path d="M203 555.5h1m-2 1h1h1m-3 1h1h1m-2 1h1h1m-3 1h1h1m-3 1h1h1" stroke="#ff1a00" stroke-opacity="0.85"/>
</g>
<rect x="171.2" y="486.8" width="97.6" height="97.7" fill="none" stroke="#666" stroke-width="1"/>
<line x1="217.1" y1="486.8" x2="217.1" y2="584.5" stroke="#666" stroke-width="1"/>
<line x1="171.2" y1="537.4" x2="268.8" y2="537.4" stroke="#666" stroke-width="1"/>
<text x="166.6" y="490.9" font-size="6.2" text-anchor="middle" fill="#1a1a1a" transform="rotate(-90 166.6 490.9)">10<tspan dy="-2.36" font-size="4.59">7</tspan><tspan dy="2.36">&#8203;</tspan></text>
<line x1="169.6" y1="490.9" x2="171.2" y2="490.9" stroke="#777" stroke-width="0.6"/>
<text x="166.6" y="515.4" font-size="6.2" text-anchor="middle" fill="#1a1a1a" transform="rotate(-90 166.6 515.4)">10<tspan dy="-2.36" font-size="4.59">6</tspan><tspan dy="2.36">&#8203;</tspan></text>
<line x1="169.6" y1="515.4" x2="171.2" y2="515.4" stroke="#777" stroke-width="0.6"/>
<text x="166.6" y="530.5" font-size="6.2" text-anchor="middle" fill="#1a1a1a" transform="rotate(-90 166.6 530.5)">10<tspan dy="-2.36" font-size="4.59">5</tspan><tspan dy="2.36">&#8203;</tspan></text>
<line x1="169.6" y1="530.5" x2="171.2" y2="530.5" stroke="#777" stroke-width="0.6"/>
<text x="166.6" y="546.5" font-size="6.2" text-anchor="middle" fill="#1a1a1a" transform="rotate(-90 166.6 546.5)">10<tspan dy="-2.36" font-size="4.59">4</tspan><tspan dy="2.36">&#8203;</tspan></text>
<line x1="169.6" y1="546.5" x2="171.2" y2="546.5" stroke="#777" stroke-width="0.6"/>
<text x="166.6" y="562.5" font-size="6.2" text-anchor="middle" fill="#1a1a1a" transform="rotate(-90 166.6 562.5)">10<tspan dy="-2.36" font-size="4.59">3</tspan><tspan dy="2.36">&#8203;</tspan></text>
<line x1="169.6" y1="562.5" x2="171.2" y2="562.5" stroke="#777" stroke-width="0.6"/>
<text x="166.6" y="578.5" font-size="6.2" text-anchor="middle" fill="#1a1a1a" transform="rotate(-90 166.6 578.5)">10<tspan dy="-2.36" font-size="4.59">1.6</tspan><tspan dy="2.36">&#8203;</tspan></text>
<line x1="169.6" y1="578.5" x2="171.2" y2="578.5" stroke="#777" stroke-width="0.6"/>
<text x="174.9" y="595.1" font-size="6.2" text-anchor="middle" fill="#1a1a1a">10<tspan dy="-2.36" font-size="4.59">1.4</tspan><tspan dy="2.36">&#8203;</tspan></text>
<line x1="174.9" y1="584.5" x2="174.9" y2="586.1" stroke="#777" stroke-width="0.6"/>
<text x="197.6" y="595.1" font-size="6.2" text-anchor="middle" fill="#1a1a1a">10<tspan dy="-2.36" font-size="4.59">3</tspan><tspan dy="2.36">&#8203;</tspan></text>
<line x1="197.6" y1="584.5" x2="197.6" y2="586.1" stroke="#777" stroke-width="0.6"/>
<text x="211.6" y="595.1" font-size="6.2" text-anchor="middle" fill="#1a1a1a">10<tspan dy="-2.36" font-size="4.59">4</tspan><tspan dy="2.36">&#8203;</tspan></text>
<line x1="211.6" y1="584.5" x2="211.6" y2="586.1" stroke="#777" stroke-width="0.6"/>
<text x="227.6" y="595.1" font-size="6.2" text-anchor="middle" fill="#1a1a1a">10<tspan dy="-2.36" font-size="4.59">5</tspan><tspan dy="2.36">&#8203;</tspan></text>
<line x1="227.6" y1="584.5" x2="227.6" y2="586.1" stroke="#777" stroke-width="0.6"/>
<text x="243.6" y="595.1" font-size="6.2" text-anchor="middle" fill="#1a1a1a">10<tspan dy="-2.36" font-size="4.59">6</tspan><tspan dy="2.36">&#8203;</tspan></text>
<line x1="243.6" y1="584.5" x2="243.6" y2="586.1" stroke="#777" stroke-width="0.6"/>
<text x="265.4" y="595.1" font-size="6.2" text-anchor="middle" fill="#1a1a1a">10<tspan dy="-2.36" font-size="4.59">7</tspan><tspan dy="2.36">&#8203;</tspan></text>
<line x1="265.4" y1="584.5" x2="265.4" y2="586.1" stroke="#777" stroke-width="0.6"/>
<text x="219.7" y="482.2" font-size="8.9" font-weight="bold" text-anchor="middle">20 ug/ml ADQ</text>
<text x="267.6" y="516.7" font-size="8.9" font-weight="bold" text-anchor="end" fill="#F81414">2.66%</text>
<text x="267.6" y="551" font-size="8.9" font-weight="bold" text-anchor="end" fill="#F81414">5.00%</text>
<text x="247.2" y="493.8" font-size="5.9" fill="#222">Q3-2</text>
<text x="247.2" y="500.1" font-size="5.9" fill="#222">2.66%</text>
<text x="174" y="573.1" font-size="5.9" fill="#222">Q3-3</text>
<text x="174" y="579.8" font-size="5.9" fill="#222">87.02%</text>
<text x="245.4" y="573.1" font-size="5.9" fill="#222">Q3-4</text>
<text x="245.8" y="579.8" font-size="5.9" fill="#222">5.00%</text>
<g filter="url(#sb)">
<path d="M362 500.5h1m-14 3h1m0 5h1m-10 2h1m10 0h1m-19 1h1m2 0h1m21 0h1m6 0h1m-29 1h1m8 0h1m-7 1h1m8 0h1m-18 1h1m1 0h1m-9 1h1h1m26 0h1m-21 1h1h1m11 0h1m-22 1h1m3 0h1m3 0h1h1h1h1h1m16 0h1m-32 1h1m4 0h1h1m3 0h1m1 0h1h1m1 0h1m8 0h1m-37 1h1m13 0h1m1 0h1h1h1m2 0h1h1h1h1m1 0h1h1m9 0h1m11 0h1m-39 1h1m5 0h1h1h1h1h1m2 0h1h1h1h1h1h1m10 0h1m4 0h1m-35 1h1m1 0h1h1h1h1h1h1m1 0h1h1m1 0h1h1h1m1 0h1h1m1 0h1m16 0h1m-50 1h1m14 0h1m4 0h1h1m2 0h1h1m1 0h1h1h1h1m1 0h1h1m-22 1h1h1h1h1m1 0h1m3 0h1h1m2 0h1m2 0h1h1m2 0h1h1h1m-26 1h1m6 0h1m1 0h1h1h1m3 0h1h1h1h1h1h1h1h1h1h1h1h1m2 0h1m6 0h1m-38 1h1m1 0h1m2 0h1m3 0h1m1 0h1h1h1h1h1m1 0h1h1h1m1 0h1h1h1h1m1 0h1m7 0h1m-38 1h1h1h1m3 0h1m1 0h1h1m1 0h1h1m1 0h1h1h1h1h1h1h1h1h1h1h1h1h1h1h1h1h1m-19 1h1h1h1h1h1m2 0h1h1h1m1 0h1h1h1h1h1h1h1h1h1h1m3 0h1m-32 1h1m1 0h1h1h1m2 0h1h1h1m2 0h1h1h1m1 0h1h1h1m2 0h1h1h1m1 0h1m-34 1h1m6 0h1m1 0h1m1 0h1m1 0h1h1h1h1m2 0h1h1h1h1h1h1h1m4 0h1h1m2 0h1h1m-40 1h1m11 0h1m1 0h1h1m3 0h1h1h1h1h1h1m1 0h1h1h1h1m5 0h1h1h1m-42 1h1m1 0h1m7 0h1m1 0h1m3 0h1m1 0h1h1m1 0h1m2 0h1m1 0h1m1 0h1h1h1m1 0h1m9 0h1m2 0h1m-33 1h1m1 0h1h1h1h1h1h1h1m1 0h1h1h1h1h1m1 0h1h1h1m9 0h1h1m1 0h1m-43 1h1m1 0h1m6 0h1h1h1h1h1m1 0h1h1h1m1 0h1h1h1h1h1h1h1h1m12 0h1h1m4 0h1m-41 1h1m4 0h1m3 0h1h1h1m1 0h1m1 0h1m1 0h1m1 0h1m14 0h1m1 0h1m2 0h1m-37 1h1h1m1 0h1m2 0h1h1h1h1h1m1 0h1h1m1 0h1m15 0h1h1m-37 1h1m2 0h1m2 0h1h1h1h1h1h1h1h1h1h1h1h1h1h1m16 0h1m-48 1h1m3 0h1m4 0h1h1m1 0h1m4 0h1h1h1h1m2 0h1m1 0h1h1h1m1 0h1m20 0h1m-49 1h1m2 0h1m3 0h1m2 0h1m3 0h1m1 0h1h1h1m1 0h1m1 0h1h1h1h1h1m14 0h1m1 0h1m-38 1h1m1 0h1h1h1m1 0h1h1h1m1 0h1m1 0h1h1h1h1h1h1m1 0h1h1m-28 1h1m6 0h1m2 0h1h1h1h1h1h1h1m1 0h1h1h1h1h1h1h1h1h1m13 0h1h1m6 0h1m-52 1h1m1 0h1m4 0h1m4 0h1h1m1 0h1h1h1m1 0h1h1h1h1h1h1h1h1m15 0h1m4 0h1m2 0h1m-45 1h1m2 0h1m3 0h1h1h1h1m1 0h1h1h1h1h1h1h1m1 0h1h1m13 0h1h1m-34 1h1h1h1m3 0h1h1h1m1 0h1m1 0h1h1h1h1h1h1m13 0h1m10 0h1m-44 1h1m2 0h1h1m2 0h1h1h1h1h1h1h1h1m1 0h1m14 0h1m8 0h1m-50 1h1m5 0h1m4 0h1h1m1 0h1m1 0h1h1h1h1h1m1 0h1m1 0h1h1m-23 1h1h1m4 0h1m2 0h1m1 0h1m3 0h1h1m1 0h1h1h1h1m14 0h1m2 0h1h1h1h1m-46 1h1m9 0h1m1 0h1m1 0h1h1h1m1 0h1h1h1h1h1m1 0h1m13 0h1m-43 1h1m6 0h1h1m3 0h1h1h1h1h1h1h1h1m1 0h1h1h1m1 0h1h1m19 0h1m-43 1h1m1 0h1h1m2 0h1m3 0h1m1 0h1h1h1h1h1h1h1h1h1m15 0h1m1 0h1m-41 1h1m5 0h1h1m3 0h1h1m1 0h1h1h1h1m1 0h1h1h1m15 0h1h1m-35 1h1m3 0h1h1h1m3 0h1h1h1h1h1h1h1m-21 1h1m2 0h1h1m5 0h1h1m1 0h1h1h1m1 0h1h1m1 0h1h1m18 0h1m-37 1h1m3 0h1m4 0h1h1h1h1h1h1m1 0h1m12 0h1m2 0h1m-34 1h1h1h1m2 0h1h1h1h1h1h1h1m1 0h1m2 0h1h1m11 0h1m7 0h1m-37 1h1h1h1m1 0h1m1 0h1h1h1h1h1h1h1m2 0h1m13 0h1m1 0h1m-32 1h1m3 0h1h1m2 0h1m1 0h1m1 0h1h1m1 0h1m12 0h1h1m-29 1h1m1 0h1h1m1 0h1m5 0h1h1m27 0h1m-45 1h1m5 0h1h1h1h1h1h1h1m2 0h1m12 0h1m1 0h1m2 0h1m-32 1h1m3 0h1m1 0h1m1 0h1h1h1h1m13 0h1h1h1m1 0h1m-25 1h1h1h1h1h1h1h1h1m11 0h1h1m-31 1h1m11 0h1h1h1h1h1m11 0h1m10 0h1m5 0h1m-44 1h1m10 0h1m1 0h1m11 0h1m2 0h1h1m-20 1h1m1 0h1h1h1m9 0h1m2 0h1m-28 1h1m12 0h1m8 0h1h1m-14 1h1m2 0h1h1h1m5 0h1h1m1 0h1m-14 1h1h1m3 0h1m3 0h1h1m-15 1h1m11 0h1h1h1m1 0h1m-20 1h1m5 0h1m3 0h1m5 0h1m3 0h1m-31 1h1m15 0h1m8 0h1m1 0h1m-13 1h1h1m6 0h1m-13 1h1m3 0h1m4 0h1m2 0h1m2 0h1m-18 1h1m2 1h1m2 0h1m3 0h1m8 0h1m-25 2h1m3 0h1m6 0h1m-1 1h1m1 1h1m-11 2h1m0 1h1m-6 1h1" stroke="#1424f0" stroke-opacity="0.85"/>
<path d="M340 528.5h1h1m-3 1h1h1h1h1m-4 1h1h1h1h1h1m-6 1h1h1m3 0h1h1m-7 1h1m6 0h1m-12 1h1h1h1h1m7 0h1m-14 1h1h1h1h1m9 0h1m-15 1h1h1h1m11 0h1m-15 1h1h1m-2 1h1m10 0h1h1m-14 1h1m11 0h1m-14 1h1m11 0h1m-14 1h1m11 0h1m-14 1h1m11 0h1m-14 1h1m11 0h1m-16 2h1h1m-2 1h1m12 0h1m-15 1h1h1m11 0h1m-14 1h1m11 0h1m-15 1h1m12 0h1m-16 1h1h1h1h1m10 0h1m-16 1h1h1m1 0h1m-4 1h1h1m11 0h1m-14 1h1m11 0h1m-14 1h1h1m9 0h1m-12 1h1m9 0h1m-12 1h1h1m8 0h1m-11 1h1m9 0h1m-13 1h1h1m9 0h1m-13 1h1m10 0h1m-13 1h1m10 0h1m-12 1h1m9 0h1m-12 1h1m9 0h1m-11 1h1m-1 1h1m6 0h1h1m-9 1h1m5 0h1m-6 1h1m3 0h1m-4 1h1h1h1" stroke="#0a58ff" stroke-opacity="0.85"/>
<path d="M340 531.5h1h1m-3 1h1h1m2 0h1h1m-7 1h1h1m4 0h1m-9 1h1h1m6 0h1m-10 1h1m8 0h1m-12 1h1m9 0h1m-13 2h1m-2 1h1m9 0h1m-12 1h1m9 0h1m-12 1h1m9 0h1m-12 1h1m-2 1h1m-2 1h1m10 0h1m-13 1h1m10 0h1m-12 1h1m9 0h1m-12 1h1m9 0h1m-12 1h1m9 0h1m-11 1h1m8 0h1m-11 1h1m8 0h1m-12 1h1h1m8 0h1m-12 1h1h1m8 0h1m-11 1h1m-2 1h1m7 0h1m-9 1h1m-2 1h1m7 0h1m-10 1h1m7 0h1m-11 1h1h1m7 0h1m-11 1h1m8 0h1m-10 1h1m7 0h1m-10 1h1m7 0h1m-9 1h1m6 0h1m-8 1h1m4 0h1m-6 1h1h1m2 0h1m-4 1h1h1h1" stroke="#0096ff" stroke-opacity="0.85"/>
<path d="M341 532.5h1h1m-3 1h1m2 0h1m-6 1h1h1m3 0h1m-8 1h1m6 0h1m-10 1h1m6 0h1m-9 1h1m7 0h1m-10 1h1m7 0h1m-2 1h1m-2 1h1m-2 2h1m-2 1h1m-12 2h1m-2 2h1m-2 1h1m-1 1h1m-2 1h1m-2 1h1h1m-2 1h1m5 0h1m-9 1h1m6 0h1m-9 1h1m-1 1h1m5 0h1m-8 1h1m5 0h1m-8 1h1m5 0h1m-8 1h1m5 0h1m-9 1h1h1m5 0h1m-2 1h1m-8 1h1m5 0h1m-7 1h1m3 0h1h1m-6 1h1h1m1 0h1m-3 1h1h1" stroke="#00d0d0" stroke-opacity="0.85"/>
<path d="M341 533.5h1h1m-3 1h1h1h1m-6 1h1h1h1h1h1h1m-8 1h1h1h1h1h1h1m-7 1h1h1m1 0h1h1h1h1m-8 1h1m4 0h1h1m-9 1h1h1m4 0h1h1m-9 1h1m6 0h1m-9 1h1m7 0h1m-10 1h1m7 0h1m-10 1h1m-1 1h1m7 0h1m-10 1h1m7 0h1m-10 1h1h1m6 0h1m-9 1h1m6 0h1m-9 1h1m5 0h1h1m-8 1h1m4 0h1h1m-8 1h1h1m4 0h1m-7 1h1h1m2 0h1h1m-7 1h1h1h1h1h1m-7 1h1h1h1h1h1h1m-7 1h1h1h1h1h1h1m-6 1h1h1h1h1h1m-6 1h1h1h1h1h1m-6 1h1h1h1h1h1m-6 1h1h1h1h1h1m-6 1h1m1 0h1h1h1m-7 1h1h1h1h1h1h1m-6 1h1h1h1h1h1m-5 1h1h1h1m-2 1h1" stroke="#22d840" stroke-opacity="0.85"/>
<path d="M336 537.5h1m-3 1h1h1h1h1m-5 1h1m2 0h1m-6 1h1h1m3 0h1m-7 1h1m5 0h1m-8 1h1m-2 1h1m6 0h1m-2 1h1m-8 1h1m5 0h1m-7 1h1m4 0h1m-7 1h1m3 0h1h1m-7 1h1h1m2 0h1m-5 1h1m2 0h1m-4 1h1h1h1h1m-4 1h1h1" stroke="#a0e400" stroke-opacity="0.85"/>
<path d="M334 539.5h1h1m-3 1h1m1 0h1m-5 1h1m3 0h1m-6 1h1m4 0h1m-7 1h1m4 0h1m-7 1h1m4 0h1m-6 1h1m3 0h1m-5 1h1m1 0h1h1m-5 1h1h1h1m-3 1h1h1m-3 1h1h1" stroke="#ffd400" stroke-opacity="0.85"/>
<path d="M334 540.5h1m-3 1h1h1h1m-1 1h1m-2 1h1m-5 1h1m2 0h1m-4 1h1h1h1m-3 1h1" stroke="#ff8000" stroke-opacity="0.85"/>
<path d="M331 542.5h1h1h1m-4 1h1h1h1m-3 1h1h1" stroke="#ff1a00" stroke-opacity="0.85"/>
</g>
<rect x="288.4" y="486.6" width="97.6" height="97.7" fill="none" stroke="#666" stroke-width="1"/>
<line x1="334.4" y1="486.6" x2="334.4" y2="584.3" stroke="#333" stroke-width="1"/>
<line x1="288.4" y1="537.2" x2="386" y2="537.2" stroke="#333" stroke-width="1"/>
<text x="283.8" y="490.7" font-size="6.2" text-anchor="middle" fill="#1a1a1a" transform="rotate(-90 283.8 490.7)">10<tspan dy="-2.36" font-size="4.59">7</tspan><tspan dy="2.36">&#8203;</tspan></text>
<line x1="286.8" y1="490.7" x2="288.4" y2="490.7" stroke="#777" stroke-width="0.6"/>
<text x="283.8" y="515.2" font-size="6.2" text-anchor="middle" fill="#1a1a1a" transform="rotate(-90 283.8 515.2)">10<tspan dy="-2.36" font-size="4.59">6</tspan><tspan dy="2.36">&#8203;</tspan></text>
<line x1="286.8" y1="515.2" x2="288.4" y2="515.2" stroke="#777" stroke-width="0.6"/>
<text x="283.8" y="530.3" font-size="6.2" text-anchor="middle" fill="#1a1a1a" transform="rotate(-90 283.8 530.3)">10<tspan dy="-2.36" font-size="4.59">5</tspan><tspan dy="2.36">&#8203;</tspan></text>
<line x1="286.8" y1="530.3" x2="288.4" y2="530.3" stroke="#777" stroke-width="0.6"/>
<text x="283.8" y="546.3" font-size="6.2" text-anchor="middle" fill="#1a1a1a" transform="rotate(-90 283.8 546.3)">10<tspan dy="-2.36" font-size="4.59">4</tspan><tspan dy="2.36">&#8203;</tspan></text>
<line x1="286.8" y1="546.3" x2="288.4" y2="546.3" stroke="#777" stroke-width="0.6"/>
<text x="283.8" y="562.3" font-size="6.2" text-anchor="middle" fill="#1a1a1a" transform="rotate(-90 283.8 562.3)">10<tspan dy="-2.36" font-size="4.59">3</tspan><tspan dy="2.36">&#8203;</tspan></text>
<line x1="286.8" y1="562.3" x2="288.4" y2="562.3" stroke="#777" stroke-width="0.6"/>
<text x="283.8" y="578.3" font-size="6.2" text-anchor="middle" fill="#1a1a1a" transform="rotate(-90 283.8 578.3)">10<tspan dy="-2.36" font-size="4.59">1.6</tspan><tspan dy="2.36">&#8203;</tspan></text>
<line x1="286.8" y1="578.3" x2="288.4" y2="578.3" stroke="#777" stroke-width="0.6"/>
<text x="292.1" y="594.9" font-size="6.2" text-anchor="middle" fill="#1a1a1a">10<tspan dy="-2.36" font-size="4.59">1.4</tspan><tspan dy="2.36">&#8203;</tspan></text>
<line x1="292.1" y1="584.3" x2="292.1" y2="585.9" stroke="#777" stroke-width="0.6"/>
<text x="314.8" y="594.9" font-size="6.2" text-anchor="middle" fill="#1a1a1a">10<tspan dy="-2.36" font-size="4.59">3</tspan><tspan dy="2.36">&#8203;</tspan></text>
<line x1="314.8" y1="584.3" x2="314.8" y2="585.9" stroke="#777" stroke-width="0.6"/>
<text x="328.8" y="594.9" font-size="6.2" text-anchor="middle" fill="#1a1a1a">10<tspan dy="-2.36" font-size="4.59">4</tspan><tspan dy="2.36">&#8203;</tspan></text>
<line x1="328.8" y1="584.3" x2="328.8" y2="585.9" stroke="#777" stroke-width="0.6"/>
<text x="344.8" y="594.9" font-size="6.2" text-anchor="middle" fill="#1a1a1a">10<tspan dy="-2.36" font-size="4.59">5</tspan><tspan dy="2.36">&#8203;</tspan></text>
<line x1="344.8" y1="584.3" x2="344.8" y2="585.9" stroke="#777" stroke-width="0.6"/>
<text x="360.8" y="594.9" font-size="6.2" text-anchor="middle" fill="#1a1a1a">10<tspan dy="-2.36" font-size="4.59">6</tspan><tspan dy="2.36">&#8203;</tspan></text>
<line x1="360.8" y1="584.3" x2="360.8" y2="585.9" stroke="#777" stroke-width="0.6"/>
<text x="382.6" y="594.9" font-size="6.2" text-anchor="middle" fill="#1a1a1a">10<tspan dy="-2.36" font-size="4.59">7</tspan><tspan dy="2.36">&#8203;</tspan></text>
<line x1="382.6" y1="584.3" x2="382.6" y2="585.9" stroke="#777" stroke-width="0.6"/>
<text x="334.1" y="482.2" font-size="8.9" font-weight="bold" text-anchor="middle">TAM</text>
<text x="382.3" y="516.7" font-size="8.9" font-weight="bold" text-anchor="end" fill="#F81414">7.52%</text>
<text x="383.1" y="551" font-size="8.9" font-weight="bold" text-anchor="end" fill="#F81414">11.60%</text>
<text x="364.4" y="493.6" font-size="5.9" fill="#222">Q3-2</text>
<text x="364.4" y="499.9" font-size="5.9" fill="#222">7.52%</text>
<text x="291.2" y="572.9" font-size="5.9" fill="#222">Q3-3</text>
<text x="291.2" y="579.6" font-size="5.9" fill="#222">67.39%</text>
<text x="362.6" y="572.9" font-size="5.9" fill="#222">Q3-4</text>
<text x="363" y="579.6" font-size="5.9" fill="#222">11.60%</text>
<g filter="url(#sb)">
<path d="M455 504.5h1m-10 9h1m14 0h1m6 0h1m-35 1h1m29 0h1m-28 1h1m7 0h1m2 0h1h1h1m1 0h1m1 0h1h1m-10 1h1m5 0h1m8 0h1m4 0h1m-22 1h1m1 0h1m2 0h1m2 0h1m-9 1h1m3 0h1h1h1h1h1m12 0h1m-20 1h1m4 0h1h1h1h1h1h1m-14 1h1m2 0h1h1h1m1 0h1h1m2 0h1m-19 1h1m4 0h1h1m3 0h1h1m1 0h1h1h1m1 0h1m2 0h1h1m6 0h1m-32 1h1m2 0h1m3 0h1h1m4 0h1h1h1h1h1h1h1h1m1 0h1m1 0h1h1m3 0h1h1h1m2 0h1m-33 1h1m1 0h1m1 0h1m1 0h1m3 0h1h1h1m1 0h1m1 0h1h1m1 0h1h1h1h1m3 0h1m5 0h1m-27 1h1m1 0h1h1h1h1h1h1h1h1h1h1h1h1h1h1h1h1h1h1m3 0h1m-38 1h1m11 0h1m2 0h1m1 0h1h1h1h1h1m1 0h1h1h1h1h1h1h1m1 0h1h1h1m-24 1h1m1 0h1m3 0h1h1m1 0h1m2 0h1h1h1h1h1h1m1 0h1h1h1m1 0h1h1m2 0h1m2 0h1m-41 1h1m8 0h1m3 0h1m1 0h1h1h1h1h1h1h1h1h1m2 0h1h1h1h1m1 0h1h1h1h1h1h1m2 0h1m-31 1h1m1 0h1h1h1h1m1 0h1m1 0h1h1h1h1m1 0h1h1h1h1h1h1h1h1m1 0h1h1m2 0h1m1 0h1m-35 1h1h1m1 0h1m3 0h1m1 0h1h1h1m1 0h1h1h1m1 0h1h1h1h1h1h1h1h1m1 0h1h1h1h1h1m1 0h1h1h1m-29 1h1h1h1h1m1 0h1m1 0h1h1h1m1 0h1h1h1h1m5 0h1h1h1m1 0h1m1 0h1h1h1m-34 1h1h1m1 0h1h1m2 0h1h1m1 0h1h1h1h1m1 0h1h1m1 0h1h1m8 0h1h1h1h1m-36 1h1m3 0h1h1m3 0h1m1 0h1m1 0h1h1h1h1h1h1h1m2 0h1m15 0h1m-43 1h1m8 0h1m1 0h1h1h1h1h1h1h1h1h1h1h1h1h1m1 0h1h1m10 0h1m7 0h1m-47 1h1h1h1m1 0h1h1m1 0h1m3 0h1h1h1h1h1h1h1h1h1h1h1h1h1h1h1h1m11 0h1h1m-41 1h1m3 0h1m1 0h1m1 0h1h1h1m1 0h1h1h1h1h1h1m1 0h1h1h1h1h1h1m13 0h1h1m2 0h1m-40 1h1m2 0h1h1m1 0h1m1 0h1h1h1h1h1h1m1 0h1h1h1m2 0h1h1m12 0h1h1m5 0h1m-46 1h1m3 0h1m3 0h1m1 0h1m1 0h1m1 0h1h1h1h1m2 0h1m1 0h1h1h1m12 0h1h1h1m9 0h1m-42 1h1h1h1h1h1h1h1h1h1m1 0h1h1h1h1h1h1h1m13 0h1m-43 1h1m4 0h1m5 0h1m1 0h1m1 0h1h1m1 0h1h1h1h1h1h1h1m1 0h1h1m11 0h1m-33 1h1h1h1m1 0h1h1m1 0h1h1m1 0h1h1h1h1h1m1 0h1h1h1m13 0h1m-44 1h1m10 0h1h1m1 0h1h1m1 0h1h1m1 0h1m2 0h1h1h1h1h1h1m20 0h1h1m-41 1h1m1 0h1h1h1h1m1 0h1h1h1m1 0h1h1h1h1h1h1m14 0h1h1m-43 1h1m3 0h1h1h1m3 0h1m3 0h1h1m1 0h1h1h1h1m2 0h1h1h1h1m14 0h1m-45 1h1m9 0h1m3 0h1h1m3 0h1h1h1h1h1h1h1m1 0h1m16 0h1m1 0h1m4 0h1m-51 1h1m4 0h1m1 0h1m2 0h1m1 0h1h1h1h1h1m1 0h1h1h1m1 0h1h1h1h1h1m15 0h1h1m1 0h1m-44 1h1m7 0h1h1h1h1h1h1h1h1h1h1h1m1 0h1h1h1h1h1m13 0h1h1m-38 1h1m7 0h1h1h1h1h1h1h1h1h1h1h1h1h1h1m13 0h1m1 0h1m-31 1h1h1h1h1h1h1h1m1 0h1h1m1 0h1h1h1h1m16 0h1m-40 1h1m9 0h1h1h1h1h1h1h1m2 0h1h1m13 0h1m1 0h1m-34 1h1h1m1 0h1h1m1 0h1h1h1m1 0h1h1h1h1h1h1m1 0h1h1m11 0h1m1 0h1m-34 1h1m4 0h1h1h1h1m2 0h1h1h1h1h1h1m1 0h1m11 0h1h1h1m1 0h1m3 0h1m2 0h1h1m-45 1h1m2 0h1m1 0h1h1h1h1h1m1 0h1h1h1h1h1h1h1h1h1m11 0h1m1 0h1m-30 1h1m1 0h1m4 0h1h1h1h1h1m1 0h1m12 0h1h1h1m-28 1h1m1 0h1h1h1m2 0h1h1m1 0h1m1 0h1m12 0h1m1 0h1m-28 1h1h1h1h1h1h1h1h1h1h1h1h1h1m10 0h1m1 0h1m5 0h1m-30 1h1h1h1h1h1h1h1h1h1m11 0h1h1h1m-20 1h1h1m17 0h1m-26 1h1m2 0h1m1 0h1h1h1h1h1m14 0h1m4 0h1m4 0h1m-44 1h1m11 0h1m2 0h1h1h1h1m11 0h1m-28 1h1m5 0h1m7 0h1h1m9 0h1m1 0h1h1m6 0h1m-23 1h1h1m1 0h1m7 0h1h1h1m-30 1h1m2 0h1m13 0h1h1m1 0h1m5 0h1h1m2 0h1m-18 1h1m5 0h1h1h1m3 0h1h1m-23 1h1m3 0h1m7 0h1h1m1 0h1m2 0h1h1h1h1m1 0h1m1 0h1m-34 1h1m19 0h1m2 0h1m3 0h1m1 0h1m-27 1h1m14 0h1h1m-4 1h1m11 0h1m-16 2h1m3 0h1h1m-17 2h1m8 2h1m1 2h1" stroke="#1424f0" stroke-opacity="0.85"/>
<path d="M453 530.5h1h1h1h1h1m-5 1h1h1h1h1m2 0h1h1m-9 1h1h1m7 0h1m-10 1h1m8 0h1m-11 1h1h1m8 0h1m-13 1h1h1h1m8 0h1m-13 1h1h1m9 0h1m-12 1h1m8 1h1m-12 1h1m-2 1h1m10 0h1m-14 1h1m11 0h1m-2 1h1m-14 1h1h1m10 0h1m-15 1h1m1 0h1m-3 1h1h1m-2 1h1h1m-3 1h1h1m-2 1h1m10 0h1m-13 1h1h1m-2 1h1m9 0h1m-11 1h1m8 0h1m-12 1h1h1m8 0h1m-12 1h1h1m7 0h1h1m-12 1h1h1m7 0h1h1m-11 1h1m-3 1h1m9 0h1m-12 1h1h1m8 0h1m-11 1h1m8 0h1m-11 1h1m8 0h1m-2 1h1m-8 1h1m5 0h1m-6 1h1m2 0h1h1m-4 1h1h1h1" stroke="#0a58ff" stroke-opacity="0.85"/>
<path d="M457 531.5h1h1m-5 1h1h1m3 0h1h1m-8 1h1h1m5 0h1m-8 1h1m6 0h1m-9 1h1m6 0h1m-10 1h1m7 0h1m-10 1h1m7 0h1m-10 1h1m-2 1h1m8 0h1m-11 1h1m8 0h1m-12 1h1m-2 1h1m-1 1h1m-2 1h1m9 0h1m-12 1h1m9 0h1m-11 1h1m8 0h1m-11 1h1m8 0h1m-11 1h1m8 0h1m-10 1h1m7 0h1m-10 1h1m-1 1h1m6 0h1m-9 1h1m6 0h1m-3 1h1m-8 1h1m-2 1h1m6 0h1m-9 1h1h1m5 0h1m-9 1h1h1m5 0h1m-9 1h1m6 0h1m-9 1h1m5 0h1h1m-8 1h1m4 0h1h1m-6 1h1m2 0h1h1m-4 1h1h1" stroke="#0096ff" stroke-opacity="0.85"/>
<path d="M456 532.5h1h1h1m-4 1h1m3 0h1m-6 1h1m4 0h1m-7 1h1m4 0h1m-8 1h1m5 0h1m-8 1h1m-2 1h1m6 0h1m-9 1h1m6 0h1m-11 2h1m8 0h1m-11 1h1m8 0h1m-2 1h1m-11 2h1m-2 2h1m-2 1h1m-1 1h1m-2 1h1m-1 1h1m4 0h1m-7 1h1m4 0h1m-7 1h1m3 0h1m-6 1h1h1m3 0h1m-7 1h1h1m3 0h1m-6 1h1m3 0h1m-6 1h1h1m1 0h1h1m-7 1h1h1h1h1h1h1m-7 1h1m3 0h1m-5 1h1m2 0h1m-3 1h1h1" stroke="#00d0d0" stroke-opacity="0.85"/>
<path d="M456 533.5h1h1h1m-4 1h1h1h1h1m-5 1h1h1h1h1m-6 1h1h1h1h1h1m-6 1h1h1m1 0h1h1h1m-7 1h1m4 0h1m-7 1h1m4 0h1m-8 1h1h1m5 0h1m-9 1h1m6 0h1m-9 1h1m6 0h1m-9 1h1m-2 1h1m7 0h1m-9 1h1m6 0h1m-9 1h1m6 0h1m-8 1h1m5 0h1m-8 1h1h1m4 0h1m-7 1h1m3 0h1h1m-7 1h1h1h1h1h1h1m-6 1h1h1h1h1m-5 1h1h1h1h1m-5 1h1h1h1m-3 1h1h1h1m-4 1h1h1h1m-4 1h1h1h1m-3 1h1m-5 2h1h1h1m-3 1h1h1" stroke="#22d840" stroke-opacity="0.85"/>
<path d="M453 537.5h1m-3 1h1h1h1h1m-5 1h1m2 0h1m-5 1h1m3 0h1m-7 1h1m4 0h1m-7 1h1m4 0h1m-7 1h1m5 0h1m-8 1h1m5 0h1m-7 1h1m4 0h1m-7 1h1m4 0h1m-6 1h1m3 0h1m-5 1h1h1h1h1m-5 1h1h1h1" stroke="#a0e400" stroke-opacity="0.85"/>
<path d="M451 539.5h1h1m-3 1h1h1h1m-5 1h1h1m1 0h1m-5 1h1m-2 1h1m3 0h1m-6 1h1m-2 2h1m2 0h1m-4 1h1h1h1" stroke="#ffd400" stroke-opacity="0.85"/>
<path d="M450 541.5h1m-1 1h1m-5 2h1m2 0h1m-5 1h1m2 0h1m-4 1h1h1" stroke="#ff8000" stroke-opacity="0.85"/>
<path d="M448 542.5h1h1m-3 1h1h1h1m-3 1h1h1m-3 1h1h1" stroke="#ff1a00" stroke-opacity="0.85"/>
</g>
<rect x="404.6" y="486.2" width="97.6" height="97.7" fill="none" stroke="#666" stroke-width="1"/>
<line x1="451.8" y1="486.2" x2="451.8" y2="583.9" stroke="#222" stroke-width="1"/>
<line x1="404.6" y1="537.4" x2="502.2" y2="537.4" stroke="#222" stroke-width="1"/>
<text x="400" y="490.3" font-size="6.2" text-anchor="middle" fill="#1a1a1a" transform="rotate(-90 400 490.3)">10<tspan dy="-2.36" font-size="4.59">7</tspan><tspan dy="2.36">&#8203;</tspan></text>
<line x1="403" y1="490.3" x2="404.6" y2="490.3" stroke="#777" stroke-width="0.6"/>
<text x="400" y="514.8" font-size="6.2" text-anchor="middle" fill="#1a1a1a" transform="rotate(-90 400 514.8)">10<tspan dy="-2.36" font-size="4.59">6</tspan><tspan dy="2.36">&#8203;</tspan></text>
<line x1="403" y1="514.8" x2="404.6" y2="514.8" stroke="#777" stroke-width="0.6"/>
<text x="400" y="529.9" font-size="6.2" text-anchor="middle" fill="#1a1a1a" transform="rotate(-90 400 529.9)">10<tspan dy="-2.36" font-size="4.59">5</tspan><tspan dy="2.36">&#8203;</tspan></text>
<line x1="403" y1="529.9" x2="404.6" y2="529.9" stroke="#777" stroke-width="0.6"/>
<text x="400" y="545.9" font-size="6.2" text-anchor="middle" fill="#1a1a1a" transform="rotate(-90 400 545.9)">10<tspan dy="-2.36" font-size="4.59">4</tspan><tspan dy="2.36">&#8203;</tspan></text>
<line x1="403" y1="545.9" x2="404.6" y2="545.9" stroke="#777" stroke-width="0.6"/>
<text x="400" y="561.9" font-size="6.2" text-anchor="middle" fill="#1a1a1a" transform="rotate(-90 400 561.9)">10<tspan dy="-2.36" font-size="4.59">3</tspan><tspan dy="2.36">&#8203;</tspan></text>
<line x1="403" y1="561.9" x2="404.6" y2="561.9" stroke="#777" stroke-width="0.6"/>
<text x="400" y="577.9" font-size="6.2" text-anchor="middle" fill="#1a1a1a" transform="rotate(-90 400 577.9)">10<tspan dy="-2.36" font-size="4.59">1.6</tspan><tspan dy="2.36">&#8203;</tspan></text>
<line x1="403" y1="577.9" x2="404.6" y2="577.9" stroke="#777" stroke-width="0.6"/>
<text x="408.3" y="594.5" font-size="6.2" text-anchor="middle" fill="#1a1a1a">10<tspan dy="-2.36" font-size="4.59">1.4</tspan><tspan dy="2.36">&#8203;</tspan></text>
<line x1="408.3" y1="583.9" x2="408.3" y2="585.5" stroke="#777" stroke-width="0.6"/>
<text x="431" y="594.5" font-size="6.2" text-anchor="middle" fill="#1a1a1a">10<tspan dy="-2.36" font-size="4.59">3</tspan><tspan dy="2.36">&#8203;</tspan></text>
<line x1="431" y1="583.9" x2="431" y2="585.5" stroke="#777" stroke-width="0.6"/>
<text x="445" y="594.5" font-size="6.2" text-anchor="middle" fill="#1a1a1a">10<tspan dy="-2.36" font-size="4.59">4</tspan><tspan dy="2.36">&#8203;</tspan></text>
<line x1="445" y1="583.9" x2="445" y2="585.5" stroke="#777" stroke-width="0.6"/>
<text x="461" y="594.5" font-size="6.2" text-anchor="middle" fill="#1a1a1a">10<tspan dy="-2.36" font-size="4.59">5</tspan><tspan dy="2.36">&#8203;</tspan></text>
<line x1="461" y1="583.9" x2="461" y2="585.5" stroke="#777" stroke-width="0.6"/>
<text x="477" y="594.5" font-size="6.2" text-anchor="middle" fill="#1a1a1a">10<tspan dy="-2.36" font-size="4.59">6</tspan><tspan dy="2.36">&#8203;</tspan></text>
<line x1="477" y1="583.9" x2="477" y2="585.5" stroke="#777" stroke-width="0.6"/>
<text x="498.8" y="594.5" font-size="6.2" text-anchor="middle" fill="#1a1a1a">10<tspan dy="-2.36" font-size="4.59">7</tspan><tspan dy="2.36">&#8203;</tspan></text>
<line x1="498.8" y1="583.9" x2="498.8" y2="585.5" stroke="#777" stroke-width="0.6"/>
<text x="449.6" y="482.2" font-size="8.9" font-weight="bold" text-anchor="middle">TAM/shCXCL1</text>
<text x="499.4" y="516.7" font-size="8.9" font-weight="bold" text-anchor="end" fill="#F81414">7.88%</text>
<text x="502" y="551" font-size="8.9" font-weight="bold" text-anchor="end" fill="#F81414">11.44%</text>
<text x="480.6" y="493.2" font-size="5.9" fill="#222">Q3-2</text>
<text x="480.6" y="499.5" font-size="5.9" fill="#222">7.88%</text>
<text x="407.4" y="572.5" font-size="5.9" fill="#222">Q3-3</text>
<text x="407.4" y="579.2" font-size="5.9" fill="#222">68.92%</text>
<text x="478.8" y="572.5" font-size="5.9" fill="#222">Q3-4</text>
<text x="479.2" y="579.2" font-size="5.9" fill="#222">11.44%</text>
<g filter="url(#sb)">
<path d="M582 510.5h1m-12 2h1m-10 1h1m13 1h1m-22 2h1m15 0h1m-16 1h1m2 0h1m-4 1h1m5 0h1h1h1m26 0h1m-38 1h1m2 0h1h1m1 0h1m1 0h1m-8 1h1h1m2 0h1m3 0h1m1 0h1m10 0h1m-18 1h1h1h1m1 0h1m3 0h1m9 0h1h1m-26 1h1m4 0h1h1m1 0h1m1 0h1h1h1h1h1h1m-17 1h1m5 0h1m3 0h1m1 0h1m1 0h1h1m1 0h1m16 0h1m1 0h1m-36 1h1m3 0h1m2 0h1m1 0h1m1 0h1h1h1h1h1h1h1h1m-22 1h1h1m4 0h1m1 0h1m1 0h1m1 0h1h1m1 0h1h1h1m1 0h1h1h1m2 0h1m4 0h1m-25 1h1m8 0h1m1 0h1h1h1h1m1 0h1h1m4 0h1m3 0h1m5 0h1m-36 1h1m6 0h1h1h1h1h1h1h1h1m1 0h1m1 0h1h1m1 0h1m2 0h1m-32 1h1m4 0h1m1 0h1m6 0h1h1h1h1h1m1 0h1m1 0h1h1h1h1h1h1h1m7 0h1m-32 1h1h1m1 0h1m2 0h1h1m1 0h1h1m1 0h1h1h1h1h1h1h1h1h1h1m1 0h1h1m10 0h1m-39 1h1m3 0h1m2 0h1m1 0h1h1h1m4 0h1h1h1h1m1 0h1h1h1h1h1h1h1h1h1h1m2 0h1m2 0h1m-35 1h1m6 0h1h1h1h1h1h1h1h1h1h1h1h1h1h1h1m1 0h1h1h1h1h1h1h1m-36 1h1m5 0h1h1m4 0h1h1h1h1h1m1 0h1h1h1h1h1h1h1m1 0h1h1h1h1h1h1h1m1 0h1m-26 1h1m1 0h1h1h1m1 0h1h1h1h1h1h1h1h1h1h1h1m1 0h1h1m1 0h1h1h1m2 0h1m-37 1h1m5 0h1h1h1h1m1 0h1h1m1 0h1h1h1h1m1 0h1h1h1h1h1h1h1h1h1m5 0h1m1 0h1m1 0h1m2 0h1m-41 1h1m4 0h1m1 0h1m5 0h1h1h1h1h1h1m1 0h1h1h1h1h1h1m8 0h1m1 0h1m1 0h1m-35 1h1h1h1m1 0h1h1m3 0h1h1h1h1h1h1h1h1h1h1h1h1m10 0h1m1 0h1h1m-40 1h1h1m3 0h1h1m1 0h1m2 0h1h1h1h1h1h1h1h1m1 0h1h1m3 0h1m9 0h1m1 0h1h1m-37 1h1m1 0h1h1m1 0h1h1m1 0h1m2 0h1m1 0h1m1 0h1h1h1h1h1m1 0h1h1m10 0h1m2 0h1m-39 1h1m5 0h1h1h1h1h1m1 0h1h1h1h1h1h1h1h1h1h1h1h1m11 0h1h1h1h1h1m-41 1h1m2 0h1h1m4 0h1h1h1h1h1h1h1m1 0h1h1h1h1m1 0h1m12 0h1m1 0h1m-43 1h1m3 0h1h1m4 0h1h1h1m1 0h1m1 0h1h1h1h1m2 0h1h1h1h1m13 0h1m-40 1h1m1 0h1m2 0h1m1 0h1m1 0h1h1m1 0h1h1h1h1h1h1h1h1h1h1h1h1h1h1m12 0h1h1m1 0h1m-41 1h1h1h1h1m3 0h1h1m1 0h1h1h1h1h1h1m1 0h1h1h1h1h1h1h1m13 0h1m-35 1h1m3 0h1m2 0h1m1 0h1h1h1h1h1h1h1m1 0h1h1m14 0h1h1m1 0h1m-44 1h1m8 0h1m2 0h1h1h1m1 0h1h1h1h1h1h1m1 0h1m15 0h1m1 0h1m-41 1h1m1 0h1h1h1h1m1 0h1m1 0h1m1 0h1h1m2 0h1h1h1h1h1m1 0h1h1m14 0h1m1 0h1h1h1m-42 1h1m1 0h1m2 0h1h1h1m1 0h1h1h1m2 0h1h1h1h1h1h1h1h1h1m12 0h1h1h1m2 0h1m-38 1h1m1 0h1m2 0h1h1h1h1h1h1h1h1h1h1h1h1h1m1 0h1m11 0h1h1h1h1h1m-44 1h1m7 0h1h1m1 0h1h1h1m1 0h1h1m1 0h1h1m1 0h1m1 0h1h1h1h1m12 0h1h1m2 0h1m-38 1h1m2 0h1m1 0h1m1 0h1h1h1h1h1h1h1h1m2 0h1h1h1m12 0h1m4 0h1m-37 1h1h1h1h1h1h1h1m1 0h1h1h1h1h1m1 0h1h1m1 0h1m13 0h1m3 0h1m-32 1h1h1h1m1 0h1h1h1h1h1h1h1h1h1h1m11 0h1h1m-32 1h1m3 0h1h1m1 0h1h1m1 0h1h1m1 0h1h1h1h1h1m11 0h1m-27 1h1m1 0h1h1h1m1 0h1m1 0h1h1h1h1h1h1m11 0h1m3 0h1m9 0h1m-37 1h1h1h1h1m1 0h1h1h1h1h1m12 0h1m1 0h1m1 0h1m-27 1h1h1h1h1h1h1h1h1h1m12 0h1m2 0h1m-24 1h1h1h1h1h1h1h1m12 0h1h1h1m-32 1h1m7 0h1m3 0h1h1h1h1m13 0h1m5 0h1m-30 1h1m6 0h1h1h1m-12 1h1m7 0h1m1 0h1h1m20 0h1m-26 1h1m1 0h1h1h1m9 0h1m-21 1h1m18 0h1m3 0h1m1 0h1m-18 1h1m3 0h1m4 0h1m1 0h1m2 0h1m-26 1h1m11 0h1m1 0h1m1 0h1h1h1h1h1m1 0h1m-7 1h1m4 0h1h1m1 0h1m-15 1h1m2 0h1m-7 1h1m-3 1h1m4 0h1m5 0h1m3 0h1m-21 1h1m-9 2h1m11 0h1m0 1h1m-3 1h1m2 0h1m-4 1h1m2 0h1m0 1h1m-5 1h1" stroke="#1424f0" stroke-opacity="0.85"/>
<path d="M572 533.5h1m-3 1h1h1h1h1h1m-7 1h1h1h1m4 0h1m-9 1h1h1m6 0h1m-9 1h1m7 0h1m-10 1h1m8 0h1m-11 1h1h1m-4 1h1h1h1m8 0h1m-13 1h1h1m9 0h1m-13 1h1m10 0h1m-13 1h1h1m10 0h1m-13 1h1m10 0h1m-16 1h1h1h1h1m9 0h1h1m-15 1h1h1h1m9 0h1h1m-14 1h1h1m-2 1h1m-2 1h1m10 0h1m-2 1h1m-13 1h1m10 0h1m-12 1h1m9 0h1m-12 1h1m9 0h1m-12 1h1m-2 1h1m10 0h1m-13 1h1m10 0h1m-13 1h1h1m9 0h1m-13 1h1h1m9 0h1m-12 1h1m9 0h1m-11 1h1m8 0h1m-10 1h1m0 1h1m4 0h1m-5 1h1h1h1h1" stroke="#0a58ff" stroke-opacity="0.85"/>
<path d="M571 535.5h1h1h1h1m-5 1h1m3 0h1m-7 1h1m5 0h1m-8 1h1m6 0h1m-8 1h1m6 0h1m-9 1h1m6 0h1m-10 1h1m7 0h1m-11 1h1h1m-2 1h1m7 0h1h1m-11 1h1m7 0h1h1m-11 1h1m7 0h1m-10 1h1m7 0h1m-10 1h1m-2 1h1m8 0h1m-11 1h1m8 0h1m-11 1h1m-2 1h1m8 0h1m-2 1h1m-11 2h1m8 0h1m-11 1h1m-2 1h1m-1 1h1m-2 1h1m7 0h1m-10 1h1m7 0h1m-9 1h1m6 0h1m-8 1h1m4 0h1m-5 1h1m2 0h1" stroke="#0096ff" stroke-opacity="0.85"/>
<path d="M571 536.5h1m1 0h1m-5 1h1m-2 1h1m-1 1h1m4 0h1m-7 1h1m4 0h1m-8 1h1h1m4 0h1m-8 1h1m5 0h1m-2 1h1m-8 1h1m5 0h1m-8 1h1m5 0h1m-8 1h1m-2 1h1m6 0h1m-9 1h1m-2 1h1m-2 1h1m-2 1h1m-2 1h1m-2 1h1m7 0h1m-2 2h1m-10 1h1m7 0h1m-2 1h1m-9 1h1m-2 1h1m-1 1h1m4 0h1m-6 1h1m2 0h1m-3 1h1h1" stroke="#00d0d0" stroke-opacity="0.85"/>
<path d="M572 536.5h1m-3 1h1h1h1h1m-5 1h1h1h1h1h1m-5 1h1h1h1h1m-5 1h1h1h1h1m-5 1h1h1h1h1m-6 1h1h1h1h1h1m-7 1h1h1h1h1h1h1m-6 1h1m2 0h1h1m-6 1h1h1m2 0h1m-6 1h1h1m2 0h1h1m-7 1h1h1m3 0h1m-7 1h1h1m3 0h1h1m-8 1h1h1h1m2 0h1h1m-8 1h1m4 0h1h1m-8 1h1m4 0h1h1m-8 1h1m5 0h1m-8 1h1m5 0h1m-8 1h1m6 0h1m-9 1h1m6 0h1m-8 1h1m5 0h1m-8 1h1m5 0h1m-7 1h1m4 0h1m-7 1h1h1h1h1h1h1m-6 1h1h1h1h1m-4 1h1h1" stroke="#22d840" stroke-opacity="0.85"/>
<path d="M564 544.5h1h1m-2 1h1h1m-3 1h1h1m-3 1h1h1h1m-4 1h1h1h1m-3 1h1h1m-5 1h1h1h1h1m-5 1h1h1h1h1m-5 1h1m3 0h1m-7 2h1m4 0h1m-7 1h1m-1 1h1m-2 1h1m3 0h1m-5 1h1h1h1h1" stroke="#a0e400" stroke-opacity="0.85"/>
<path d="M557 552.5h1h1h1m-5 1h1m3 0h1m-6 2h1m3 0h1m-2 1h1m-5 1h1h1h1" stroke="#ffd400" stroke-opacity="0.85"/>
<path d="M556 553.5h1m1 0h1m-4 1h1m2 0h1m-2 1h1m-4 1h1h1h1" stroke="#ff8000" stroke-opacity="0.85"/>
<path d="M557 553.5h1m-2 1h1h1m-3 1h1h1" stroke="#ff1a00" stroke-opacity="0.85"/>
</g>
<rect x="522.2" y="485.9" width="97.6" height="97.7" fill="none" stroke="#666" stroke-width="1"/>
<line x1="568.5" y1="485.9" x2="568.5" y2="583.6" stroke="#666" stroke-width="1"/>
<line x1="522.2" y1="537.4" x2="619.8" y2="537.4" stroke="#666" stroke-width="1"/>
<text x="517.6" y="490" font-size="6.2" text-anchor="middle" fill="#1a1a1a" transform="rotate(-90 517.6 490)">10<tspan dy="-2.36" font-size="4.59">7</tspan><tspan dy="2.36">&#8203;</tspan></text>
<line x1="520.6" y1="490" x2="522.2" y2="490" stroke="#777" stroke-width="0.6"/>
<text x="517.6" y="514.5" font-size="6.2" text-anchor="middle" fill="#1a1a1a" transform="rotate(-90 517.6 514.5)">10<tspan dy="-2.36" font-size="4.59">6</tspan><tspan dy="2.36">&#8203;</tspan></text>
<line x1="520.6" y1="514.5" x2="522.2" y2="514.5" stroke="#777" stroke-width="0.6"/>
<text x="517.6" y="529.6" font-size="6.2" text-anchor="middle" fill="#1a1a1a" transform="rotate(-90 517.6 529.6)">10<tspan dy="-2.36" font-size="4.59">5</tspan><tspan dy="2.36">&#8203;</tspan></text>
<line x1="520.6" y1="529.6" x2="522.2" y2="529.6" stroke="#777" stroke-width="0.6"/>
<text x="517.6" y="545.6" font-size="6.2" text-anchor="middle" fill="#1a1a1a" transform="rotate(-90 517.6 545.6)">10<tspan dy="-2.36" font-size="4.59">4</tspan><tspan dy="2.36">&#8203;</tspan></text>
<line x1="520.6" y1="545.6" x2="522.2" y2="545.6" stroke="#777" stroke-width="0.6"/>
<text x="517.6" y="561.6" font-size="6.2" text-anchor="middle" fill="#1a1a1a" transform="rotate(-90 517.6 561.6)">10<tspan dy="-2.36" font-size="4.59">3</tspan><tspan dy="2.36">&#8203;</tspan></text>
<line x1="520.6" y1="561.6" x2="522.2" y2="561.6" stroke="#777" stroke-width="0.6"/>
<text x="517.6" y="577.6" font-size="6.2" text-anchor="middle" fill="#1a1a1a" transform="rotate(-90 517.6 577.6)">10<tspan dy="-2.36" font-size="4.59">1.6</tspan><tspan dy="2.36">&#8203;</tspan></text>
<line x1="520.6" y1="577.6" x2="522.2" y2="577.6" stroke="#777" stroke-width="0.6"/>
<text x="525.9" y="594.2" font-size="6.2" text-anchor="middle" fill="#1a1a1a">10<tspan dy="-2.36" font-size="4.59">1.4</tspan><tspan dy="2.36">&#8203;</tspan></text>
<line x1="525.9" y1="583.6" x2="525.9" y2="585.2" stroke="#777" stroke-width="0.6"/>
<text x="548.6" y="594.2" font-size="6.2" text-anchor="middle" fill="#1a1a1a">10<tspan dy="-2.36" font-size="4.59">3</tspan><tspan dy="2.36">&#8203;</tspan></text>
<line x1="548.6" y1="583.6" x2="548.6" y2="585.2" stroke="#777" stroke-width="0.6"/>
<text x="562.6" y="594.2" font-size="6.2" text-anchor="middle" fill="#1a1a1a">10<tspan dy="-2.36" font-size="4.59">4</tspan><tspan dy="2.36">&#8203;</tspan></text>
<line x1="562.6" y1="583.6" x2="562.6" y2="585.2" stroke="#777" stroke-width="0.6"/>
<text x="578.6" y="594.2" font-size="6.2" text-anchor="middle" fill="#1a1a1a">10<tspan dy="-2.36" font-size="4.59">5</tspan><tspan dy="2.36">&#8203;</tspan></text>
<line x1="578.6" y1="583.6" x2="578.6" y2="585.2" stroke="#777" stroke-width="0.6"/>
<text x="594.6" y="594.2" font-size="6.2" text-anchor="middle" fill="#1a1a1a">10<tspan dy="-2.36" font-size="4.59">6</tspan><tspan dy="2.36">&#8203;</tspan></text>
<line x1="594.6" y1="583.6" x2="594.6" y2="585.2" stroke="#777" stroke-width="0.6"/>
<text x="616.4" y="594.2" font-size="6.2" text-anchor="middle" fill="#1a1a1a">10<tspan dy="-2.36" font-size="4.59">7</tspan><tspan dy="2.36">&#8203;</tspan></text>
<line x1="616.4" y1="583.6" x2="616.4" y2="585.2" stroke="#777" stroke-width="0.6"/>
<text x="566.4" y="482.2" font-size="8.9" font-weight="bold" text-anchor="middle">TAM+ADQ</text>
<text x="618.7" y="516.7" font-size="8.9" font-weight="bold" text-anchor="end" fill="#F81414">3.68%</text>
<text x="618.7" y="551" font-size="8.9" font-weight="bold" text-anchor="end" fill="#F81414">6.82%</text>
<text x="598.2" y="492.9" font-size="5.9" fill="#222">Q3-2</text>
<text x="598.2" y="499.2" font-size="5.9" fill="#222">3.68%</text>
<text x="525" y="572.2" font-size="5.9" fill="#222">Q3-3</text>
<text x="525" y="578.9" font-size="5.9" fill="#222">82.24%</text>
<text x="596.4" y="572.2" font-size="5.9" fill="#222">Q3-4</text>
<text x="596.8" y="578.9" font-size="5.9" fill="#222">6.82%</text>
<g filter="url(#sb)">
<path d="M684 486.5h1m1 5h1m-5 8h1m13 0h1m-21 1h1m-15 4h1m12 0h1m-7 2h1m5 0h1m11 0h1m-17 1h1m1 0h1m-6 1h1m1 0h1m2 0h1m1 0h1m-6 1h1m2 0h1h1h1m2 0h1m-13 1h1m3 0h1h1h1m1 0h1m1 0h1m1 0h1h1h1m12 0h1m2 0h1m-30 1h1h1m5 0h1h1h1m2 0h1m1 0h1h1m-7 1h1h1h1m1 0h1m1 0h1h1m3 0h1m-25 1h1m5 0h1h1m1 0h1m2 0h1m1 0h1m2 0h1m1 0h1h1m1 0h1h1m3 0h1h1m-22 1h1h1m5 0h1h1h1h1h1h1h1h1m1 0h1h1m12 0h1m-35 1h1h1m2 0h1h1m3 0h1h1m1 0h1h1h1m1 0h1h1h1h1m2 0h1h1h1m11 0h1m-33 1h1h1h1m2 0h1h1m2 0h1h1h1h1h1h1h1h1h1h1h1m1 0h1m-32 1h1m3 0h1m4 0h1h1m1 0h1m1 0h1h1h1m1 0h1h1h1h1h1h1h1h1m3 0h1h1m1 0h1h1m5 0h1m3 0h1m-42 1h1m1 0h1m2 0h1m1 0h1h1h1h1h1m2 0h1h1h1h1h1h1h1h1h1m1 0h1h1h1h1h1m2 0h1h1h1m-47 1h1m18 0h1m1 0h1h1h1m1 0h1h1h1h1h1h1h1h1m1 0h1h1m1 0h1m4 0h1m2 0h1h1m-32 1h1m2 0h1m1 0h1m1 0h1h1m3 0h1h1h1m2 0h1h1h1h1h1h1m1 0h1h1h1h1h1m1 0h1h1m1 0h1m1 0h1m4 0h1m-40 1h1m4 0h1m2 0h1h1h1h1h1h1h1h1h1h1m1 0h1h1h1h1h1m2 0h1m1 0h1h1m1 0h1m-38 1h1m5 0h1m4 0h1h1m1 0h1h1m1 0h1h1h1h1h1h1h1h1h1m1 0h1m1 0h1h1h1m1 0h1h1h1h1m1 0h1m1 0h1h1m-39 1h1m1 0h1m1 0h1h1h1h1h1m1 0h1m3 0h1h1h1h1h1h1h1h1h1h1m2 0h1h1h1m2 0h1h1m3 0h1m4 0h1m-48 1h1h1h1m8 0h1h1h1h1m1 0h1h1h1h1h1h1h1h1h1h1m2 0h1h1h1h1h1m3 0h1h1m-41 1h1m8 0h1m3 0h1h1m3 0h1h1m3 0h1h1h1h1h1h1h1h1m8 0h1h1m1 0h1m1 0h1m-36 1h1m4 0h1m1 0h1h1h1h1h1h1h1h1h1h1m1 0h1h1h1m1 0h1m1 0h1h1m1 0h1m2 0h1h1h1h1m-34 1h1m2 0h1h1m1 0h1m1 0h1m2 0h1h1h1h1h1h1m3 0h1h1h1h1h1h1m2 0h1m1 0h1h1m1 0h1h1m3 0h1m2 0h1m-43 1h1h1m1 0h1m1 0h1h1h1h1h1m2 0h1h1h1h1m1 0h1h1h1h1h1m2 0h1h1m1 0h1m1 0h1h1h1h1m3 0h1h1h1m-44 1h1m1 0h1m1 0h1m1 0h1m1 0h1h1m1 0h1h1m1 0h1h1m2 0h1m1 0h1h1m1 0h1h1h1h1h1h1h1m1 0h1m2 0h1m5 0h1m1 0h1m1 0h1m-41 1h1m2 0h1m3 0h1m1 0h1m1 0h1h1h1m1 0h1h1h1m1 0h1m1 0h1h1h1h1h1m2 0h1m8 0h1h1m1 0h1m1 0h1m-44 1h1h1h1m2 0h1h1m1 0h1m1 0h1h1m2 0h1h1h1h1h1m1 0h1m2 0h1h1h1m12 0h1m1 0h1m-53 1h1m10 0h1m1 0h1m6 0h1h1h1h1h1m1 0h1m1 0h1h1h1h1h1m1 0h1h1h1m1 0h1m2 0h1m8 0h1m1 0h1m3 0h1m-48 1h1m6 0h1m1 0h1h1h1h1h1h1h1h1h1h1m1 0h1h1h1h1h1h1h1h1h1m1 0h1m10 0h1h1m-42 1h1h1m2 0h1h1m2 0h1m1 0h1h1h1h1h1h1h1m1 0h1h1h1h1h1h1h1h1h1m1 0h1m10 0h1h1m-46 1h1h1m6 0h1m1 0h1h1h1h1h1h1h1h1h1h1m4 0h1h1m1 0h1h1h1h1h1h1m10 0h1m2 0h1m-48 1h1m6 0h1m3 0h1h1m1 0h1m1 0h1h1m1 0h1h1h1h1h1h1h1m1 0h1h1h1m1 0h1h1h1m9 0h1h1m9 0h1m-42 1h1h1h1h1h1m2 0h1h1m2 0h1h1h1h1h1h1m1 0h1m11 0h1m-37 1h1m1 0h1m1 0h1m2 0h1h1h1h1m1 0h1m1 0h1h1h1m3 0h1h1h1m12 0h1h1m-40 1h1m4 0h1m1 0h1h1h1h1h1m1 0h1m1 0h1m1 0h1h1h1h1h1h1m1 0h1m12 0h1m1 0h1h1m-50 1h1m7 0h1m6 0h1h1m2 0h1h1h1h1m1 0h1h1m2 0h1h1h1m1 0h1m12 0h1h1m-36 1h1h1m2 0h1m1 0h1m1 0h1h1h1h1m1 0h1h1h1h1h1h1m1 0h1h1m11 0h1h1h1h1m-34 1h1m3 0h1h1m1 0h1h1h1h1m2 0h1h1h1h1m-20 1h1m2 0h1h1h1h1h1m1 0h1h1h1h1h1h1h1h1h1h1m13 0h1m6 0h1m-51 1h1m6 0h1m3 0h1h1h1h1m1 0h1m1 0h1h1h1h1h1h1h1m1 0h1h1m14 0h1h1m2 0h1m-34 1h1m1 0h1h1h1h1h1m2 0h1h1h1h1m1 0h1h1m-20 1h1m3 0h1h1h1h1h1h1h1h1h1h1h1h1h1h1h1m12 0h1h1m8 0h1m-38 1h1h1m1 0h1h1m1 0h1h1h1h1h1m2 0h1h1m12 0h1m-34 1h1m1 0h1h1m2 0h1h1m3 0h1h1h1h1h1h1h1h1h1m14 0h1m-37 1h1m3 0h1m1 0h1h1h1m1 0h1h1h1h1h1m2 0h1h1h1h1h1m10 0h1h1h1m-43 1h1m6 0h1m2 0h1m2 0h1m2 0h1m1 0h1h1h1h1h1h1h1h1h1h1m1 0h1m10 0h1h1h1m8 0h1m-50 1h1m6 0h1m2 0h1h1m1 0h1h1h1h1h1h1h1h1h1h1m1 0h1m1 0h1h1h1m7 0h1h1m6 0h1m-41 1h1m3 0h1h1m1 0h1h1h1h1h1h1h1m1 0h1h1h1m1 0h1h1h1h1m2 0h1h1m4 0h1h1h1m4 0h1m-37 1h1h1m4 0h1m1 0h1h1h1h1h1h1h1h1h1m1 0h1h1h1h1h1h1h1m1 0h1h1h1h1m1 0h1m2 0h1m13 0h1m-50 1h1m2 0h1h1m2 0h1m3 0h1h1h1h1h1h1m1 0h1m1 0h1h1h1h1h1h1h1m1 0h1m1 0h1h1h1m-33 1h1m2 0h1h1h1h1h1m1 0h1m1 0h1h1h1m1 0h1m1 0h1h1h1h1h1h1m1 0h1m1 0h1h1m-27 1h1m1 0h1m1 0h1m1 0h1h1h1h1h1m1 0h1h1h1h1m3 0h1m1 0h1h1h1m2 0h1m3 0h1m-41 1h1m7 0h1m1 0h1m1 0h1m1 0h1h1h1h1h1m1 0h1h1h1h1h1h1h1h1m1 0h1h1m4 0h1m-25 1h1h1h1m1 0h1m1 0h1h1m1 0h1m1 0h1h1h1h1h1h1h1h1m2 0h1m1 0h1m2 0h1m-25 1h1h1h1h1h1m1 0h1m2 0h1h1h1m1 0h1h1m1 0h1h1h1m2 0h1m2 0h1m-38 1h1m13 0h1m1 0h1h1m1 0h1h1h1h1h1m1 0h1h1h1h1m1 0h1h1m1 0h1m1 0h1h1m-26 1h1m6 0h1h1h1m2 0h1h1m1 0h1m2 0h1m2 0h1m1 0h1m-13 1h1h1h1h1h1h1h1h1h1h1h1h1m4 0h1m6 0h1m-25 1h1h1h1m1 0h1h1h1m3 0h1h1h1m1 0h1m-28 1h1m9 0h1m7 0h1h1h1h1h1h1m7 0h1m-30 1h1m7 0h1m6 0h1m2 0h1m-16 1h1m15 0h1m1 0h1m1 0h1m5 0h1m-29 1h1m23 0h1m-9 1h1m3 0h1m9 0h1m-30 1h1m21 1h1m4 0h1m6 0h1m-26 2h1m5 1h1m-26 2h1m12 2h1m-5 1h1m-7 3h1" stroke="#1424f0" stroke-opacity="0.85"/>
<path d="M694 528.5h1m-4 1h1m3 0h1m-6 1h1m5 0h1m-8 1h1m6 0h1m-1 1h1m-10 1h1m8 0h1m-11 1h1m8 0h1m-11 1h1m8 0h1m-10 1h1m-2 1h1m8 0h1m-13 1h1h1m-3 1h1h1m-3 1h1m10 0h1m-12 1h1m-3 1h1h1m10 0h1m-13 1h1m-3 1h1h1m10 0h1m-13 1h1m10 0h1m-13 1h1m-1 1h1m10 0h1m-12 1h1m9 0h1m-11 1h1m-1 1h1m6 0h1m-7 1h1m4 0h1m-5 1h1h1h1h1" stroke="#0a58ff" stroke-opacity="0.85"/>
<path d="M693 529.5h1h1m-4 1h1m3 0h1m-6 1h1m-2 1h1m-2 1h1m6 0h1m-9 1h1m-2 1h1m6 1h1m-2 1h1m-10 1h1m7 0h1m-10 1h1m-3 1h1m8 1h1m-2 1h1m-2 1h1m-12 2h1m-2 1h1m9 0h1m-2 1h1m-2 1h1m-2 1h1m-8 1h1m0 1h1m2 0h1" stroke="#0096ff" stroke-opacity="0.85"/>
<path d="M692 530.5h1h1h1m-4 1h1m3 0h1m-6 1h1m4 0h1m-7 1h1m-2 1h1m5 0h1m-8 1h1m5 0h1m-8 1h1m5 0h1m-8 1h1m-2 1h1m5 1h1m-10 1h1m7 0h1m-10 1h1m-2 1h1m-2 1h1m-2 1h1m8 0h1m-11 2h1m-2 2h1m-1 1h1m5 0h1m-2 1h1m-4 1h1h1" stroke="#00d0d0" stroke-opacity="0.85"/>
<path d="M692 531.5h1h1h1m-4 1h1h1h1h1m-5 1h1h1h1h1h1m-6 1h1h1h1h1h1m-6 1h1h1h1h1h1m-6 1h1h1m2 0h1m-6 1h1h1m2 0h1h1m-7 1h1m4 0h1m-8 1h1h1m4 0h1m-8 1h1m5 0h1m-8 1h1m6 0h1m-9 1h1m6 0h1m-9 1h1m6 0h1m-9 1h1m-2 1h1m7 0h1m-9 1h1m6 0h1m-9 1h1m6 0h1m-8 1h1m5 0h1m-7 1h1m3 0h1m-5 1h1h1h1h1" stroke="#22d840" stroke-opacity="0.85"/>
<path d="M689 536.5h1h1m-3 1h1h1m-4 1h1h1h1h1m-5 1h1m1 0h1h1m-6 1h1m3 0h1m-6 1h1m4 0h1m-7 1h1m4 0h1m-7 1h1m-2 1h1m5 0h1m-8 1h1m5 0h1m-7 1h1m4 0h1m-7 1h1m4 0h1m-6 1h1m2 0h1h1m-5 1h1h1h1" stroke="#a0e400" stroke-opacity="0.85"/>
<path d="M686 539.5h1m-3 1h1h1h1m-4 1h1m2 0h1m-2 2h1m-6 1h1m3 0h1m-6 1h1m-1 1h1m2 0h1m-5 1h1h1h1h1m-4 1h1h1" stroke="#ffd400" stroke-opacity="0.85"/>
<path d="M684 541.5h1h1m-4 1h1m1 0h1h1m-5 1h1m2 0h1m-5 2h1m2 0h1m-4 1h1h1" stroke="#ff8000" stroke-opacity="0.85"/>
<path d="M683 542.5h1m-2 1h1h1m-3 1h1h1h1m-3 1h1h1" stroke="#ff1a00" stroke-opacity="0.85"/>
</g>
<rect x="639.9" y="485.8" width="97.6" height="97.7" fill="none" stroke="#666" stroke-width="1"/>
<line x1="686.2" y1="485.8" x2="686.2" y2="583.5" stroke="#444" stroke-width="1"/>
<line x1="639.9" y1="536.3" x2="737.5" y2="536.3" stroke="#444" stroke-width="1"/>
<text x="635.3" y="489.9" font-size="6.2" text-anchor="middle" fill="#1a1a1a" transform="rotate(-90 635.3 489.9)">10<tspan dy="-2.36" font-size="4.59">7</tspan><tspan dy="2.36">&#8203;</tspan></text>
<line x1="638.3" y1="489.9" x2="639.9" y2="489.9" stroke="#777" stroke-width="0.6"/>
<text x="635.3" y="514.4" font-size="6.2" text-anchor="middle" fill="#1a1a1a" transform="rotate(-90 635.3 514.4)">10<tspan dy="-2.36" font-size="4.59">6</tspan><tspan dy="2.36">&#8203;</tspan></text>
<line x1="638.3" y1="514.4" x2="639.9" y2="514.4" stroke="#777" stroke-width="0.6"/>
<text x="635.3" y="529.5" font-size="6.2" text-anchor="middle" fill="#1a1a1a" transform="rotate(-90 635.3 529.5)">10<tspan dy="-2.36" font-size="4.59">5</tspan><tspan dy="2.36">&#8203;</tspan></text>
<line x1="638.3" y1="529.5" x2="639.9" y2="529.5" stroke="#777" stroke-width="0.6"/>
<text x="635.3" y="545.5" font-size="6.2" text-anchor="middle" fill="#1a1a1a" transform="rotate(-90 635.3 545.5)">10<tspan dy="-2.36" font-size="4.59">4</tspan><tspan dy="2.36">&#8203;</tspan></text>
<line x1="638.3" y1="545.5" x2="639.9" y2="545.5" stroke="#777" stroke-width="0.6"/>
<text x="635.3" y="561.5" font-size="6.2" text-anchor="middle" fill="#1a1a1a" transform="rotate(-90 635.3 561.5)">10<tspan dy="-2.36" font-size="4.59">3</tspan><tspan dy="2.36">&#8203;</tspan></text>
<line x1="638.3" y1="561.5" x2="639.9" y2="561.5" stroke="#777" stroke-width="0.6"/>
<text x="635.3" y="577.5" font-size="6.2" text-anchor="middle" fill="#1a1a1a" transform="rotate(-90 635.3 577.5)">10<tspan dy="-2.36" font-size="4.59">1.6</tspan><tspan dy="2.36">&#8203;</tspan></text>
<line x1="638.3" y1="577.5" x2="639.9" y2="577.5" stroke="#777" stroke-width="0.6"/>
<text x="643.6" y="594.1" font-size="6.2" text-anchor="middle" fill="#1a1a1a">10<tspan dy="-2.36" font-size="4.59">1.4</tspan><tspan dy="2.36">&#8203;</tspan></text>
<line x1="643.6" y1="583.5" x2="643.6" y2="585.1" stroke="#777" stroke-width="0.6"/>
<text x="666.3" y="594.1" font-size="6.2" text-anchor="middle" fill="#1a1a1a">10<tspan dy="-2.36" font-size="4.59">3</tspan><tspan dy="2.36">&#8203;</tspan></text>
<line x1="666.3" y1="583.5" x2="666.3" y2="585.1" stroke="#777" stroke-width="0.6"/>
<text x="680.3" y="594.1" font-size="6.2" text-anchor="middle" fill="#1a1a1a">10<tspan dy="-2.36" font-size="4.59">4</tspan><tspan dy="2.36">&#8203;</tspan></text>
<line x1="680.3" y1="583.5" x2="680.3" y2="585.1" stroke="#777" stroke-width="0.6"/>
<text x="696.3" y="594.1" font-size="6.2" text-anchor="middle" fill="#1a1a1a">10<tspan dy="-2.36" font-size="4.59">5</tspan><tspan dy="2.36">&#8203;</tspan></text>
<line x1="696.3" y1="583.5" x2="696.3" y2="585.1" stroke="#777" stroke-width="0.6"/>
<text x="712.3" y="594.1" font-size="6.2" text-anchor="middle" fill="#1a1a1a">10<tspan dy="-2.36" font-size="4.59">6</tspan><tspan dy="2.36">&#8203;</tspan></text>
<line x1="712.3" y1="583.5" x2="712.3" y2="585.1" stroke="#777" stroke-width="0.6"/>
<text x="734.1" y="594.1" font-size="6.2" text-anchor="middle" fill="#1a1a1a">10<tspan dy="-2.36" font-size="4.59">7</tspan><tspan dy="2.36">&#8203;</tspan></text>
<line x1="734.1" y1="583.5" x2="734.1" y2="585.1" stroke="#777" stroke-width="0.6"/>
<text x="687.9" y="482.2" font-size="8.9" font-weight="bold" text-anchor="middle">TAM/rCXCL1+ADQ</text>
<text x="735.9" y="516.7" font-size="8.9" font-weight="bold" text-anchor="end" fill="#F81414">6.03%</text>
<text x="735.1" y="551" font-size="8.9" font-weight="bold" text-anchor="end" fill="#F81414">10.12%</text>
<text x="715.9" y="492.8" font-size="5.9" fill="#222">Q3-2</text>
<text x="715.9" y="499.1" font-size="5.9" fill="#222">6.03%</text>
<text x="642.7" y="572.1" font-size="5.9" fill="#222">Q3-3</text>
<text x="642.7" y="578.8" font-size="5.9" fill="#222">66.40%</text>
<text x="714.1" y="572.1" font-size="5.9" fill="#222">Q3-4</text>
<text x="714.5" y="578.8" font-size="5.9" fill="#222">10.12%</text>
<rect x="187.3" y="673.45" width="15" height="38.75" fill="#BCAE78"/>
<line x1="194.8" y1="673.45" x2="194.8" y2="670.74" stroke="#BCAE78" stroke-width="1.2"/>
<line x1="191.2" y1="670.74" x2="198.4" y2="670.74" stroke="#BCAE78" stroke-width="1.2"/>
<rect x="209.3" y="687.4" width="15" height="24.8" fill="#F4434B"/>
<line x1="216.8" y1="687.4" x2="216.8" y2="681.59" stroke="#F4434B" stroke-width="1.2"/>
<line x1="213.2" y1="681.59" x2="220.4" y2="681.59" stroke="#F4434B" stroke-width="1.2"/>
<rect x="231.2" y="668.8" width="15" height="43.4" fill="#57A1F8"/>
<line x1="238.7" y1="668.8" x2="238.7" y2="657.18" stroke="#57A1F8" stroke-width="1.2"/>
<line x1="235.1" y1="657.18" x2="242.3" y2="657.18" stroke="#57A1F8" stroke-width="1.2"/>
<rect x="253.4" y="666.48" width="15" height="45.73" fill="#FF6203"/>
<line x1="260.9" y1="666.48" x2="260.9" y2="661.83" stroke="#FF6203" stroke-width="1.2"/>
<line x1="257.3" y1="661.83" x2="264.5" y2="661.83" stroke="#FF6203" stroke-width="1.2"/>
<rect x="275.7" y="685.46" width="15" height="26.74" fill="#0DBF10"/>
<line x1="283.2" y1="685.46" x2="283.2" y2="674.23" stroke="#0DBF10" stroke-width="1.2"/>
<line x1="279.6" y1="674.23" x2="286.8" y2="674.23" stroke="#0DBF10" stroke-width="1.2"/>
<rect x="298" y="667.64" width="15" height="44.56" fill="#B05ADB"/>
<line x1="305.5" y1="667.64" x2="305.5" y2="658.34" stroke="#B05ADB" stroke-width="1.2"/>
<line x1="301.9" y1="658.34" x2="309.1" y2="658.34" stroke="#B05ADB" stroke-width="1.2"/>
<line x1="179.5" y1="634.1" x2="179.5" y2="712.8" stroke="#000" stroke-width="1.5"/>
<line x1="178.9" y1="712.2" x2="311.3" y2="712.2" stroke="#000" stroke-width="1.5"/>
<line x1="175.3" y1="712.2" x2="179.5" y2="712.2" stroke="#000" stroke-width="1.5"/>
<text x="173.8" y="714.47" font-size="6.3" font-weight="bold" text-anchor="end">0</text>
<line x1="177.19" y1="702.51" x2="179.5" y2="702.51" stroke="#000" stroke-width="1.5"/>
<line x1="175.3" y1="692.83" x2="179.5" y2="692.83" stroke="#000" stroke-width="1.5"/>
<text x="173.8" y="695.09" font-size="6.3" font-weight="bold" text-anchor="end">50</text>
<line x1="177.19" y1="683.14" x2="179.5" y2="683.14" stroke="#000" stroke-width="1.5"/>
<line x1="175.3" y1="673.45" x2="179.5" y2="673.45" stroke="#000" stroke-width="1.5"/>
<text x="173.8" y="675.72" font-size="6.3" font-weight="bold" text-anchor="end">100</text>
<line x1="177.19" y1="663.76" x2="179.5" y2="663.76" stroke="#000" stroke-width="1.5"/>
<line x1="175.3" y1="654.08" x2="179.5" y2="654.08" stroke="#000" stroke-width="1.5"/>
<text x="173.8" y="656.34" font-size="6.3" font-weight="bold" text-anchor="end">150</text>
<line x1="177.19" y1="644.39" x2="179.5" y2="644.39" stroke="#000" stroke-width="1.5"/>
<line x1="175.3" y1="634.7" x2="179.5" y2="634.7" stroke="#000" stroke-width="1.5"/>
<text x="173.8" y="636.97" font-size="6.3" font-weight="bold" text-anchor="end">200</text>
<line x1="194.8" y1="712.2" x2="194.8" y2="716.4" stroke="#000" stroke-width="1.5"/>
<line x1="216.8" y1="712.2" x2="216.8" y2="716.4" stroke="#000" stroke-width="1.5"/>
<line x1="238.7" y1="712.2" x2="238.7" y2="716.4" stroke="#000" stroke-width="1.5"/>
<line x1="260.9" y1="712.2" x2="260.9" y2="716.4" stroke="#000" stroke-width="1.5"/>
<line x1="283.2" y1="712.2" x2="283.2" y2="716.4" stroke="#000" stroke-width="1.5"/>
<line x1="305.5" y1="712.2" x2="305.5" y2="716.4" stroke="#000" stroke-width="1.5"/>
<path d="M195.2 668.6V634.1H236.6V654.9" stroke="#000" stroke-width="1.5" fill="none"/>
<text x="215.9" y="632.8" font-size="7.4" font-weight="bold" text-anchor="middle">NS</text>
<path d="M195.2 668.6V646.4H216.8V679.4" stroke="#000" stroke-width="1.5" fill="none"/>
<text x="206" y="647.92" font-size="8" font-weight="bold" text-anchor="middle">*</text>
<path d="M239.8 654.9V634.1H281.6V672" stroke="#000" stroke-width="1.5" fill="none"/>
<text x="260.7" y="632.8" font-size="7.4" font-weight="bold" text-anchor="middle">NS</text>
<path d="M239.8 654.9V646.4H261.3V659.5" stroke="#000" stroke-width="1.5" fill="none"/>
<text x="250.55" y="645.1" font-size="7.4" font-weight="bold" text-anchor="middle">NS</text>
<path d="M284.6 672V634.1H305.8V656" stroke="#000" stroke-width="1.5" fill="none"/>
<text x="295.2" y="632.8" font-size="7.4" font-weight="bold" text-anchor="middle">NS</text>
<text x="248.1" y="619.5" font-size="8.35" font-weight="bold" text-anchor="middle">CD8<tspan dy="-3.17" font-size="5.18">+</tspan><tspan dy="3.17">&#8203;</tspan> T cells</text>
<text x="126.1" y="673" font-size="8.3" font-weight="bold" text-anchor="middle" transform="rotate(-90 126.1 673)">Relative</text>
<text x="136.5" y="673" font-size="8.3" font-weight="bold" text-anchor="middle" transform="rotate(-90 136.5 673)">proliferation of</text>
<text x="147.4" y="673" font-size="8.3" font-weight="bold" text-anchor="middle" transform="rotate(-90 147.4 673)">CD8<tspan dy="-3.15" font-size="5.15">+</tspan><tspan dy="3.15">&#8203;</tspan> T cells</text>
<text x="157.7" y="673" font-size="8.3" font-weight="bold" text-anchor="middle" transform="rotate(-90 157.7 673)">(% of control)</text>
<rect x="492.7" y="672.05" width="14.6" height="38.65" fill="#BCAE78"/>
<line x1="500" y1="672.05" x2="500" y2="670.5" stroke="#BCAE78" stroke-width="1.2"/>
<line x1="496.5" y1="670.5" x2="503.5" y2="670.5" stroke="#BCAE78" stroke-width="1.2"/>
<rect x="514.2" y="684.42" width="14.6" height="26.28" fill="#F4434B"/>
<line x1="521.5" y1="684.42" x2="521.5" y2="676.69" stroke="#F4434B" stroke-width="1.2"/>
<line x1="518" y1="676.69" x2="525" y2="676.69" stroke="#F4434B" stroke-width="1.2"/>
<rect x="536.2" y="658.91" width="14.6" height="51.79" fill="#57A1F8"/>
<line x1="543.5" y1="658.91" x2="543.5" y2="654.66" stroke="#57A1F8" stroke-width="1.2"/>
<line x1="540" y1="654.66" x2="547" y2="654.66" stroke="#57A1F8" stroke-width="1.2"/>
<rect x="557.5" y="667.03" width="14.6" height="43.67" fill="#FF6203"/>
<line x1="564.8" y1="667.03" x2="564.8" y2="663.93" stroke="#FF6203" stroke-width="1.2"/>
<line x1="561.3" y1="663.93" x2="568.3" y2="663.93" stroke="#FF6203" stroke-width="1.2"/>
<rect x="579.2" y="683.26" width="14.6" height="27.44" fill="#0DBF10"/>
<line x1="586.5" y1="683.26" x2="586.5" y2="672.44" stroke="#0DBF10" stroke-width="1.2"/>
<line x1="583" y1="672.44" x2="590" y2="672.44" stroke="#0DBF10" stroke-width="1.2"/>
<rect x="600.7" y="658.52" width="14.6" height="52.18" fill="#B05ADB"/>
<line x1="608" y1="658.52" x2="608" y2="654.27" stroke="#B05ADB" stroke-width="1.2"/>
<line x1="604.5" y1="654.27" x2="611.5" y2="654.27" stroke="#B05ADB" stroke-width="1.2"/>
<line x1="485.4" y1="632.8" x2="485.4" y2="711.3" stroke="#000" stroke-width="1.5"/>
<line x1="484.8" y1="710.7" x2="622.4" y2="710.7" stroke="#000" stroke-width="1.5"/>
<line x1="481.2" y1="710.7" x2="485.4" y2="710.7" stroke="#000" stroke-width="1.5"/>
<text x="479.7" y="712.97" font-size="6.3" font-weight="bold" text-anchor="end">0</text>
<line x1="483.09" y1="701.04" x2="485.4" y2="701.04" stroke="#000" stroke-width="1.5"/>
<line x1="481.2" y1="691.38" x2="485.4" y2="691.38" stroke="#000" stroke-width="1.5"/>
<text x="479.7" y="693.64" font-size="6.3" font-weight="bold" text-anchor="end">50</text>
<line x1="483.09" y1="681.71" x2="485.4" y2="681.71" stroke="#000" stroke-width="1.5"/>
<line x1="481.2" y1="672.05" x2="485.4" y2="672.05" stroke="#000" stroke-width="1.5"/>
<text x="479.7" y="674.32" font-size="6.3" font-weight="bold" text-anchor="end">100</text>
<line x1="483.09" y1="662.39" x2="485.4" y2="662.39" stroke="#000" stroke-width="1.5"/>
<line x1="481.2" y1="652.73" x2="485.4" y2="652.73" stroke="#000" stroke-width="1.5"/>
<text x="479.7" y="654.99" font-size="6.3" font-weight="bold" text-anchor="end">150</text>
<line x1="483.09" y1="643.06" x2="485.4" y2="643.06" stroke="#000" stroke-width="1.5"/>
<line x1="481.2" y1="633.4" x2="485.4" y2="633.4" stroke="#000" stroke-width="1.5"/>
<text x="479.7" y="635.67" font-size="6.3" font-weight="bold" text-anchor="end">200</text>
<line x1="500" y1="710.7" x2="500" y2="714.9" stroke="#000" stroke-width="1.5"/>
<line x1="521.5" y1="710.7" x2="521.5" y2="714.9" stroke="#000" stroke-width="1.5"/>
<line x1="543.5" y1="710.7" x2="543.5" y2="714.9" stroke="#000" stroke-width="1.5"/>
<line x1="564.8" y1="710.7" x2="564.8" y2="714.9" stroke="#000" stroke-width="1.5"/>
<line x1="586.5" y1="710.7" x2="586.5" y2="714.9" stroke="#000" stroke-width="1.5"/>
<line x1="608" y1="710.7" x2="608" y2="714.9" stroke="#000" stroke-width="1.5"/>
<path d="M500 666V633.4H541.9V651" stroke="#000" stroke-width="1.5" fill="none"/>
<text x="520.95" y="635.3" font-size="10" font-weight="bold" text-anchor="middle">**</text>
<path d="M500 666V644.8H521.7V673" stroke="#000" stroke-width="1.5" fill="none"/>
<text x="510.85" y="646.7" font-size="10" font-weight="bold" text-anchor="middle">*</text>
<path d="M544.2 651V633.4H585.2V672" stroke="#000" stroke-width="1.5" fill="none"/>
<text x="564.7" y="635.3" font-size="10" font-weight="bold" text-anchor="middle">*</text>
<path d="M544.2 651V644.8H565.3V661" stroke="#000" stroke-width="1.5" fill="none"/>
<text x="554.75" y="646.7" font-size="10" font-weight="bold" text-anchor="middle">*</text>
<path d="M588.2 672V633.4H607.3V651" stroke="#000" stroke-width="1.5" fill="none"/>
<text x="597.75" y="635.3" font-size="10" font-weight="bold" text-anchor="middle">*</text>
<text x="554" y="619.6" font-size="9" font-weight="bold" text-anchor="middle">CD8<tspan dy="-3.42" font-size="5.58">+</tspan><tspan dy="3.42">&#8203;</tspan> T cells</text>
<text x="440.2" y="670.3" font-size="9.1" font-weight="bold" text-anchor="middle" transform="rotate(-90 440.2 670.3)">Relative apoptosis</text>
<text x="452.8" y="670.3" font-size="9.1" font-weight="bold" text-anchor="middle" transform="rotate(-90 452.8 670.3)">of CD8<tspan dy="-3.46" font-size="5.64">+</tspan><tspan dy="3.46">&#8203;</tspan> T cells</text>
<text x="464.9" y="670.3" font-size="9.1" font-weight="bold" text-anchor="middle" transform="rotate(-90 464.9 670.3)">(% of control)</text>
<rect x="634" y="632.64" width="10" height="5" fill="#BCAE78"/>
<text x="650.3" y="638" font-size="8.4" font-weight="bold">Control</text>
<rect x="634" y="643.44" width="10" height="5" fill="#F4434B"/>
<text x="650.3" y="648.8" font-size="8.4" font-weight="bold">ADQ</text>
<rect x="634" y="654.24" width="10" height="5" fill="#57A1F8"/>
<text x="650.3" y="659.6" font-size="8.4" font-weight="bold">TAM</text>
<rect x="634" y="665.04" width="10" height="5" fill="#FF6203"/>
<text x="650.3" y="670.4" font-size="8.4" font-weight="bold">TAM/shCXCL1</text>
<rect x="634" y="675.84" width="10" height="5" fill="#0DBF10"/>
<text x="650.3" y="681.2" font-size="8.4" font-weight="bold">TAM+ADQ</text>
<rect x="634" y="686.64" width="10" height="5" fill="#B05ADB"/>
<text x="650.3" y="692" font-size="8.4" font-weight="bold">TAM/rCXCL1+ADQ</text>
<text x="0.5" y="745.5" font-size="31" font-weight="bold">F</text>
<text x="402.8" y="739.4" font-size="8.9" font-weight="bold" text-anchor="middle">CD8<tspan dy="-3.38" font-size="5.52">+</tspan><tspan dy="3.38">&#8203;</tspan> T cells</text>
<line x1="53.7" y1="745.6" x2="735.8" y2="745.6" stroke="#000" stroke-width="1.3"/>
<line x1="39.4" y1="739.4" x2="39.4" y2="875.2" stroke="#000" stroke-width="1.3"/>
<path d="M36.6 743.1L39.4 738.9L42.2 743.1" stroke="#000" stroke-width="1.3" fill="none" stroke-linejoin="miter"/>
<line x1="39.4" y1="875.2" x2="740.5" y2="875.2" stroke="#000" stroke-width="1.3"/>
<path d="M736.8 872.4L741 875.2L736.8 878" stroke="#000" stroke-width="1.3" fill="none"/>
<text x="35" y="813.6" font-size="8.8" font-weight="bold" text-anchor="middle" transform="rotate(-90 35 813.6)">Granzyme B</text>
<text x="394.4" y="882.5" font-size="8.8" font-weight="bold" text-anchor="middle">Perforin</text>
<g filter="url(#sb)">
<path d="M89 794.5h1m6 1h1m17 0h1m-20 3h1m12 0h1m2 0h1m2 0h1m-2 1h1m-22 1h1m4 0h1m2 0h1m1 0h1m4 0h1m8 0h1m-24 1h1m2 0h1m7 0h1m-23 1h1m12 0h1h1m3 0h1m4 0h1m1 0h1m-38 1h1m13 0h1m5 0h1m1 0h1m2 0h1m1 0h1m1 0h1m3 0h1m1 0h1m2 0h1h1m-38 1h1m4 0h1m17 0h1m5 0h1h1h1m1 0h1h1h1h1h1m-29 1h1m1 0h1h1m4 0h1m2 0h1m2 0h1h1h1h1m1 0h1h1m1 0h1h1h1h1h1m1 0h1m-33 1h1h1m2 0h1m9 0h1m3 0h1h1m1 0h1m1 0h1h1h1h1h1h1m2 0h1m1 0h1h1m-31 1h1m6 0h1m2 0h1h1h1h1h1h1m2 0h1h1h1m1 0h1h1h1h1h1h1m1 0h1m-34 1h1m1 0h1m6 0h1h1m1 0h1m1 0h1h1h1h1h1h1h1h1h1h1h1m1 0h1m1 0h1m1 0h1h1m8 0h1m-43 1h1h1h1m1 0h1h1h1m4 0h1m1 0h1h1h1m10 0h1h1m2 0h1m2 0h1m11 0h1m-51 1h1m6 0h1m5 0h1m3 0h1h1m13 0h1h1h1m3 0h1h1m-34 1h1m2 0h1m3 0h1m2 0h1h1m15 0h1h1h1m2 0h1h1m-37 1h1m3 0h1h1h1h1m2 0h1h1h1h1m16 0h1h1h1h1m12 0h1m-46 1h1m4 0h1h1m2 0h1h1h1m18 0h1m1 0h1m5 0h1m-43 1h1m4 0h1h1m1 0h1m1 0h1h1h1h1m19 0h1m1 0h1m3 0h1m4 0h1m-45 1h1m1 0h1m6 0h1h1h1h1m21 0h1h1h1m-33 1h1m1 0h1m3 0h1m21 0h1h1h1h1m1 0h1m6 0h1m-43 1h1m2 0h1m2 0h1h1m22 0h1m2 0h1h1h1m-36 1h1m2 0h1m1 0h1h1m22 0h1h1m1 0h1h1m-46 1h1m10 0h1m1 0h1h1h1h1h1h1m22 0h1h1h1m2 0h1m-38 1h1h1m1 0h1h1h1h1h1h1h1m21 0h1h1m2 0h1m1 0h1h1h1h1h1m-40 1h1h1h1m1 0h1h1m1 0h1m20 0h1h1h1h1h1h1m11 0h1m-50 1h1m6 0h1m1 0h1h1m20 0h1h1h1m1 0h1h1h1h1m2 0h1m-38 1h1m1 0h1h1h1h1h1m19 0h1h1h1h1h1h1m-34 1h1h1m1 0h1h1m2 0h1h1m18 0h1h1h1m1 0h1m3 0h1h1m-36 1h1m2 0h1h1h1m1 0h1m17 0h1h1h1m1 0h1m2 0h1h1m-41 1h1h1m3 0h1m1 0h1m1 0h1h1h1m1 0h1h1h1m15 0h1h1h1h1h1m-27 1h1m2 0h1h1h1h1m15 0h1h1h1h1m1 0h1m1 0h1m1 0h1h1h1m2 0h1m-36 1h1h1h1m1 0h1h1m14 0h1m1 0h1h1m1 0h1m-25 1h1m1 0h1h1h1h1h1m8 0h1m1 0h1m1 0h1h1h1m1 0h1m8 0h1m-46 1h1m3 0h1m5 0h1m3 0h1h1m1 0h1h1h1h1m5 0h1m1 0h1m2 0h1m1 0h1h1m3 0h1m-36 1h1h1h1m1 0h1h1h1m4 0h1h1h1m2 0h1h1h1m2 0h1h1h1h1h1h1h1h1h1h1m1 0h1m-34 1h1m6 0h1m1 0h1m3 0h1h1h1h1h1h1h1h1m1 0h1h1h1h1h1h1h1h1m3 0h1h1m2 0h1h1m-30 1h1h1m6 0h1h1h1h1h1h1m1 0h1m1 0h1h1h1h1h1h1m1 0h1m-29 1h1m1 0h1m1 0h1m5 0h1m1 0h1m1 0h1h1h1m1 0h1m1 0h1h1h1m1 0h1m2 0h1m7 0h1m-42 1h1m4 0h1m5 0h1m3 0h1h1m2 0h1h1h1h1h1m1 0h1h1h1h1m-24 1h1m6 0h1m7 0h1h1h1h1m1 0h1m3 0h1h1m2 0h1m7 0h1m-31 1h1m1 0h1m1 0h1m2 0h1m3 0h1m2 0h1h1h1m7 0h1m2 0h1m-22 1h1m1 0h1m3 0h1h1m6 0h1m7 0h1m-35 1h1m13 0h1m3 0h1m4 0h1m1 0h1h1m2 0h1h1m9 0h1m-48 1h1m9 0h1m3 0h1m10 0h1m15 0h1m-28 1h1m10 0h1h1m1 0h1m1 0h1m3 0h1m3 0h1m1 0h1m-21 1h1m1 0h1h1m2 0h1h1m1 0h1h1m1 0h1m10 0h1m-25 1h1m2 1h1h1m3 0h1m-5 1h1m3 3h1m7 2h1" stroke="#1424f0" stroke-opacity="0.85"/>
<path d="M91 809.5h1h1h1h1h1m1 0h1h1h1h1m-12 1h1h1h1m7 0h1h1h1m-14 1h1h1m9 0h1h1h1m-15 1h1h1m11 0h1h1h1m-17 1h1h1m12 0h1h1h1h1m-19 1h1h1m13 0h1h1h1m-20 1h1h1h1m14 0h1h1h1m-22 1h1h1h1h1m15 0h1h1m-22 1h1h1h1h1m16 0h1m-21 1h1h1m18 0h1m-22 1h1h1m18 0h1h1m-22 1h1h1m17 0h1h1m-21 1h1h1m16 0h1h1m-21 1h1h1m16 0h1h1m-20 1h1h1h1m14 0h1h1m-19 1h1h1h1m12 0h1h1h1m-18 1h1h1h1m11 0h1h1h1m-16 1h1h1h1m10 0h1h1m-15 1h1h1h1m8 0h1h1h1h1m-14 1h1h1h1m4 0h1h1h1h1h1h1m-12 1h1h1h1h1h1h1h1m-6 1h1h1h1h1h1m-4 1h1h1" stroke="#0a58ff" stroke-opacity="0.85"/>
<path d="M92 810.5h1h1h1h1h1h1h1m-9 1h1h1m6 0h1m-10 1h1h1m8 0h1m-12 1h1h1m9 0h1m-13 1h1m11 0h1m-14 1h1m-2 1h1m-2 1h1m14 0h1m-18 1h1h1m15 0h1m-19 1h1h1m15 0h1m-18 1h1m15 0h1m-17 1h1m14 0h1m-16 1h1m13 0h1m-15 1h1m11 0h1m-13 1h1m10 0h1m-12 1h1h1m8 0h1m-10 1h1h1m4 0h1h1h1h1m-10 1h1m1 0h1h1h1h1h1h1m-7 1h1h1h1h1" stroke="#0096ff" stroke-opacity="0.85"/>
<path d="M92 811.5h1h1h1m2 0h1m0 1h1m-9 1h1m7 0h1m-11 1h1h1m-3 1h1m11 0h1m-14 1h1m12 0h1m-15 1h1m-1 1h1m12 0h1m-16 1h1h1m12 0h1m-16 1h1h1m12 0h1m-15 1h1m12 0h1m-14 1h1m10 0h1h1m-13 1h1m9 0h1m-11 1h1h1m6 0h1h1m-9 1h1h1h1h1h1h1h1h1m-7 1h1h1h1h1" stroke="#00d0d0" stroke-opacity="0.85"/>
<path d="M95 811.5h1h1m-6 1h1h1h1h1h1h1h1m-7 1h1m5 0h1m-8 1h1m7 0h1m-11 1h1h1m8 0h1m-12 1h1h1m9 0h1m-13 1h1h1m10 0h1m-13 1h1m10 0h1m-13 1h1h1m9 0h1m-13 1h1h1h1m7 0h1h1m-13 1h1h1h1h1h1m4 0h1h1h1m-12 1h1h1h1h1h1h1h1h1h1h1m-10 1h1h1h1h1h1h1h1h1h1m-8 1h1h1h1h1h1h1" stroke="#22d840" stroke-opacity="0.85"/>
<path d="M92 813.5h1m3 0h1m-6 1h1m5 0h1m-8 1h1m6 0h1m-9 1h1h1m6 0h1m-10 1h1h1h1m6 0h1m-11 1h1h1h1h1h1m4 0h1m-10 1h1h1h1h1h1h1h1h1h1m-9 1h1h1h1h1h1h1h1m-6 1h1h1h1h1" stroke="#a0e400" stroke-opacity="0.85"/>
<path d="M93 813.5h1h1h1m-4 1h1m3 0h1m-6 1h1m-1 1h1m4 0h1m-6 1h1m4 0h1m-5 1h1h1h1h1" stroke="#ffd400" stroke-opacity="0.85"/>
<path d="M93 814.5h1h1h1m-4 1h1m3 0h1m-5 1h1m-1 1h1h1h1h1" stroke="#ff8000" stroke-opacity="0.85"/>
<path d="M93 815.5h1h1h1m-3 1h1h1h1" stroke="#ff1a00" stroke-opacity="0.85"/>
</g>
<rect x="54.5" y="760.6" width="97.4" height="97.6" fill="none" stroke="#666" stroke-width="1"/>
<line x1="99.7" y1="760.6" x2="99.7" y2="858.2" stroke="#777" stroke-width="1"/>
<line x1="54.5" y1="810.4" x2="151.9" y2="810.4" stroke="#777" stroke-width="1"/>
<text x="49.9" y="764.9" font-size="6.2" text-anchor="middle" fill="#1a1a1a" transform="rotate(-90 49.9 764.9)">10<tspan dy="-2.36" font-size="4.59">7</tspan><tspan dy="2.36">&#8203;</tspan></text>
<line x1="52.9" y1="764.9" x2="54.5" y2="764.9" stroke="#777" stroke-width="0.6"/>
<text x="49.9" y="786.4" font-size="6.2" text-anchor="middle" fill="#1a1a1a" transform="rotate(-90 49.9 786.4)">10<tspan dy="-2.36" font-size="4.59">6</tspan><tspan dy="2.36">&#8203;</tspan></text>
<line x1="52.9" y1="786.4" x2="54.5" y2="786.4" stroke="#777" stroke-width="0.6"/>
<text x="49.9" y="799.8" font-size="6.2" text-anchor="middle" fill="#1a1a1a" transform="rotate(-90 49.9 799.8)">10<tspan dy="-2.36" font-size="4.59">5</tspan><tspan dy="2.36">&#8203;</tspan></text>
<line x1="52.9" y1="799.8" x2="54.5" y2="799.8" stroke="#777" stroke-width="0.6"/>
<text x="49.9" y="812.2" font-size="6.2" text-anchor="middle" fill="#1a1a1a" transform="rotate(-90 49.9 812.2)">10<tspan dy="-2.36" font-size="4.59">4</tspan><tspan dy="2.36">&#8203;</tspan></text>
<line x1="52.9" y1="812.2" x2="54.5" y2="812.2" stroke="#777" stroke-width="0.6"/>
<text x="49.9" y="826.2" font-size="6.2" text-anchor="middle" fill="#1a1a1a" transform="rotate(-90 49.9 826.2)">10<tspan dy="-2.36" font-size="4.59">3</tspan><tspan dy="2.36">&#8203;</tspan></text>
<line x1="52.9" y1="826.2" x2="54.5" y2="826.2" stroke="#777" stroke-width="0.6"/>
<text x="49.9" y="840.2" font-size="6.2" text-anchor="middle" fill="#1a1a1a" transform="rotate(-90 49.9 840.2)">10<tspan dy="-2.36" font-size="4.59">2</tspan><tspan dy="2.36">&#8203;</tspan></text>
<line x1="52.9" y1="840.2" x2="54.5" y2="840.2" stroke="#777" stroke-width="0.6"/>
<text x="49.9" y="855.3" font-size="6.2" text-anchor="middle" fill="#1a1a1a" transform="rotate(-90 49.9 855.3)">10<tspan dy="-2.36" font-size="4.59">0.6</tspan><tspan dy="2.36">&#8203;</tspan></text>
<line x1="52.9" y1="855.3" x2="54.5" y2="855.3" stroke="#777" stroke-width="0.6"/>
<text x="58.8" y="868.4" font-size="6.2" text-anchor="middle" fill="#1a1a1a">10<tspan dy="-2.36" font-size="4.59">1.1</tspan><tspan dy="2.36">&#8203;</tspan></text>
<line x1="58.8" y1="858.2" x2="58.8" y2="859.8" stroke="#777" stroke-width="0.6"/>
<text x="78.2" y="868.4" font-size="6.2" text-anchor="middle" fill="#1a1a1a">10<tspan dy="-2.36" font-size="4.59">3</tspan><tspan dy="2.36">&#8203;</tspan></text>
<line x1="78.2" y1="858.2" x2="78.2" y2="859.8" stroke="#777" stroke-width="0.6"/>
<text x="104" y="868.4" font-size="6.2" text-anchor="middle" fill="#1a1a1a">10<tspan dy="-2.36" font-size="4.59">5</tspan><tspan dy="2.36">&#8203;</tspan></text>
<line x1="104" y1="858.2" x2="104" y2="859.8" stroke="#777" stroke-width="0.6"/>
<text x="128.8" y="868.4" font-size="6.2" text-anchor="middle" fill="#1a1a1a">10<tspan dy="-2.36" font-size="4.59">7</tspan><tspan dy="2.36">&#8203;</tspan></text>
<line x1="128.8" y1="858.2" x2="128.8" y2="859.8" stroke="#777" stroke-width="0.6"/>
<text x="147.8" y="868.4" font-size="6.2" text-anchor="middle" fill="#1a1a1a">10<tspan dy="-2.36" font-size="4.59">8</tspan><tspan dy="2.36">&#8203;</tspan></text>
<line x1="147.8" y1="858.2" x2="147.8" y2="859.8" stroke="#777" stroke-width="0.6"/>
<text x="101.9" y="756.6" font-size="8.9" font-weight="bold" text-anchor="middle">Control</text>
<text x="149.9" y="786.3" font-size="8.9" font-weight="bold" text-anchor="end" fill="#F81414">6.47%</text>
<text x="131.8" y="767.5" font-size="5.9" fill="#222">Q1-2</text>
<text x="131.8" y="773.8" font-size="5.9" fill="#222">6.47%</text>
<g filter="url(#sb)">
<path d="M231 789.5h1m-5 1h1m-2 5h1m-7 1h1m4 0h1m-10 1h1m7 0h1m-26 1h1m14 0h1m13 0h1h1m-18 1h1m13 0h1h1m6 0h1m-36 1h1m13 0h1m1 0h1m5 0h1m2 0h1m2 0h1h1m1 0h1m1 0h1m-30 1h1m4 0h1m3 0h1m1 0h1m2 0h1h1m5 0h1m1 0h1m3 0h1m1 0h1h1m-45 1h1m11 0h1m8 0h1h1h1h1h1m1 0h1m2 0h1m2 0h1h1h1m1 0h1h1h1h1h1m4 0h1m3 0h1m-41 1h1h1m2 0h1m1 0h1m1 0h1m3 0h1m4 0h1h1m2 0h1h1m1 0h1m1 0h1m1 0h1h1h1h1m3 0h1m-40 1h1m18 0h1h1h1h1m1 0h1h1h1m2 0h1h1h1m1 0h1m1 0h1m5 0h1m-43 1h1m3 0h1m3 0h1h1h1h1m1 0h1h1m3 0h1h1m2 0h1m2 0h1m2 0h1h1h1h1h1h1m1 0h1m1 0h1m-32 1h1h1m1 0h1m2 0h1m3 0h1h1m2 0h1h1h1m8 0h1h1h1m1 0h1m12 0h1m-46 1h1m4 0h1m3 0h1h1m2 0h1h1h1h1m11 0h1h1m1 0h1m2 0h1m-41 1h1m3 0h1m4 0h1m3 0h1h1m1 0h1m1 0h1m15 0h1m1 0h1m3 0h1h1m6 0h1m-40 1h1m4 0h1h1h1m17 0h1h1m3 0h1h1m2 0h1h1m-47 1h1m2 0h1m2 0h1m3 0h1m1 0h1h1h1h1m20 0h1m2 0h1h1m2 0h1m1 0h1m-49 1h1m7 0h1h1m3 0h1h1h1h1h1m20 0h1h1h1h1m3 0h1m10 0h1m-50 1h1m1 0h1m1 0h1h1m1 0h1m1 0h1m20 0h1h1h1m4 0h1h1m1 0h1m-51 1h1m4 0h1h1m1 0h1m1 0h1m4 0h1h1h1h1h1m21 0h1h1h1m3 0h1m3 0h1m-50 1h1m8 0h1h1h1h1m1 0h1m23 0h1h1h1m2 0h1m7 0h1m-42 1h1m1 0h1m1 0h1m1 0h1m21 0h1h1h1m3 0h1m1 0h1m-47 1h1m6 0h1h1m1 0h1m3 0h1m23 0h1h1m1 0h1m1 0h1m6 0h1m-50 1h1m6 0h1h1m1 0h1h1h1m24 0h1m1 0h1h1m2 0h1m5 0h1m-52 1h1m4 0h1h1h1m1 0h1h1h1m1 0h1h1m24 0h1m1 0h1m-44 1h1m8 0h1h1m3 0h1h1m24 0h1h1h1m2 0h1m2 0h1m-47 1h1m4 0h1m1 0h1m1 0h1h1h1h1m24 0h1m1 0h1m1 0h1m7 0h1m3 0h1m-52 1h1m3 0h1h1h1m1 0h1m1 0h1m22 0h1m1 0h1h1m1 0h1m4 0h1m9 0h1m-56 1h1h1m2 0h1h1m3 0h1h1h1m23 0h1h1h1h1m5 0h1m3 0h1m-48 1h1h1h1m1 0h1m4 0h1h1h1m21 0h1m3 0h1h1m-39 1h1m6 0h1m1 0h1h1m1 0h1m19 0h1h1h1h1m1 0h1m-41 1h1m1 0h1m4 0h1m2 0h1h1m1 0h1h1h1h1m21 0h1h1h1m-44 1h1m4 0h1h1m2 0h1h1h1h1h1h1h1m1 0h1h1h1m17 0h1h1h1h1m3 0h1m3 0h1m2 0h1m-44 1h1m1 0h1h1m1 0h1h1m1 0h1m1 0h1h1m17 0h1h1h1m3 0h1m3 0h1m-45 1h1m7 0h1h1m2 0h1m1 0h1h1h1m16 0h1h1h1m1 0h1h1m3 0h1m3 0h1m1 0h1m2 0h1m-50 1h1m3 0h1m1 0h1h1m1 0h1h1h1m3 0h1m5 0h1h1m6 0h1h1h1h1h1m3 0h1m-43 1h1m6 0h1m2 0h1h1h1h1h1m4 0h1h1h1m3 0h1h1h1h1h1h1m1 0h1h1h1m2 0h1h1h1m2 0h1m10 0h1m-51 1h1m4 0h1m1 0h1m4 0h1h1m3 0h1m1 0h1h1m1 0h1h1h1h1m1 0h1h1h1h1h1m1 0h1h1h1m-42 1h1m7 0h1m6 0h1m1 0h1h1m1 0h1m1 0h1h1m1 0h1h1h1h1h1h1h1h1h1h1h1m5 0h1h1m-42 1h1m8 0h1m1 0h1m2 0h1m1 0h1m1 0h1m2 0h1m1 0h1h1h1h1h1h1m1 0h1h1m1 0h1h1h1h1m1 0h1h1h1m2 0h1m-35 1h1m2 0h1m1 0h1h1m2 0h1m5 0h1m1 0h1m2 0h1h1h1h1h1m1 0h1m1 0h1h1m11 0h1m-37 1h1m2 0h1h1m7 0h1m2 0h1m1 0h1m2 0h1m1 0h1h1m2 0h1m3 0h1m-36 1h1m4 0h1m3 0h1m1 0h1m4 0h1m2 0h1m1 0h1m1 0h1m3 0h1h1m2 0h1h1m7 0h1m-35 1h1h1h1h1h1m4 0h1m3 0h1m1 0h1h1h1m5 0h1h1h1m-32 1h1h1m3 0h1m3 0h1m11 0h1m1 0h1m5 0h1m-37 1h1m16 0h1m4 0h1m1 0h1h1m1 0h1m8 0h1h1m-22 1h1m7 0h1h1m3 0h1h1h1m-33 1h1m15 0h1m5 0h1m1 0h1m1 0h1m1 0h1m4 0h1m7 0h1m2 0h1m3 0h1m-45 1h1m9 0h1m2 0h1m11 0h1m2 0h1m-17 1h1m11 0h1h1m-16 1h1m11 0h1m3 0h1m-3 2h1h1m-12 1h1m12 0h1m7 0h1m-25 1h1m9 0h1m10 0h1m-15 1h1m2 0h1m2 0h1m5 0h1m-16 1h1m8 5h1" stroke="#1424f0" stroke-opacity="0.85"/>
<path d="M220 805.5h1m-4 1h1h1h1h1h1h1h1h1m-11 1h1h1h1h1h1m4 0h1m-14 1h1h1m1 0h1m9 0h1h1m-17 1h1m1 0h1m12 0h1h1m-20 1h1h1h1h1m14 0h1h1m-21 1h1h1h1m-4 1h1h1h1m16 0h1m-20 1h1h1m16 0h1h1m-20 1h1m17 0h1m-20 1h1h1m17 0h1m-22 1h1h1h1m18 0h1h1m-24 1h1h1h1m19 0h1h1m-24 1h1h1m19 0h1h1h1m-25 1h1h1m19 0h1h1m-24 1h1m1 0h1m18 0h1h1m-23 1h1h1m-2 1h1h1m18 0h1m-21 1h1h1h1m17 0h1m-20 1h1m16 0h1h1m-18 1h1h1m13 0h1h1h1m-18 1h1h1h1m4 0h1m6 0h1h1h1m-17 1h1h1h1h1h1m1 0h1h1h1m5 0h1m-15 1h1h1m1 0h1h1h1h1h1h1h1h1h1h1h1h1h1m-15 1h1h1h1h1h1m2 0h1m2 0h1h1h1m-12 1h1h1" stroke="#0a58ff" stroke-opacity="0.85"/>
<path d="M219 807.5h1h1h1h1m-9 1h1h1h1h1h1h1m1 0h1h1m-12 1h1m10 0h1m-14 1h1h1m11 0h1m-16 1h1h1m12 0h1h1m-16 1h1m13 0h1m-17 1h1m14 0h1m-16 1h1m14 0h1m-17 1h1h1m14 0h1m-18 1h1h1m14 0h1h1m-19 1h1h1m14 0h1m1 0h1m-20 1h1h1m15 0h1h1m-20 1h1h1m16 0h1m-19 1h1h1m15 0h1m-19 1h1h1m15 0h1h1m-19 1h1h1m14 0h1h1m-17 1h1m12 0h1h1h1m-16 1h1h1m9 0h1h1h1h1m-14 1h1h1m1 0h1h1h1m4 0h1h1h1m-12 1h1h1h1m2 0h1m2 0h1h1h1m-5 1h1h1h1h1h1" stroke="#0096ff" stroke-opacity="0.85"/>
<path d="M213 809.5h1h1h1m3 0h1h1h1m-11 1h1m8 0h1h1m-13 1h1m10 0h1m-13 1h1m11 0h1m-2 1h1m-14 1h1m12 0h1m-2 1h1h1m-15 1h1m12 0h1m-15 1h1m12 0h1m-15 1h1h1m12 0h1m-16 1h1h1m13 0h1m-16 1h1h1m12 0h1m-16 1h1h1m12 0h1m-15 1h1h1m9 0h1h1h1m-14 1h1h1m7 0h1h1h1m-11 1h1h1h1h1h1m3 0h1m-8 1h1m3 0h1m1 0h1h1m-3 1h1h1" stroke="#00d0d0" stroke-opacity="0.85"/>
<path d="M216 809.5h1h1h1m-7 1h1h1h1h1h1h1m1 0h1m-10 1h1h1m6 0h1h1m-11 1h1m8 0h1h1m-12 1h1m9 0h1m-12 1h1m9 0h1h1m-12 1h1m9 0h1m-12 1h1m9 0h1h1m-13 1h1h1m9 0h1m-12 1h1h1m8 0h1h1m-13 1h1h1h1m8 0h1h1m-13 1h1h1h1m6 0h1h1h1m-13 1h1h1h1h1h1h1h1h1h1h1h1h1m-12 1h1h1h1h1h1h1h1h1h1m-9 1h1h1h1h1h1h1h1m-3 1h1h1h1m-2 1h1" stroke="#22d840" stroke-opacity="0.85"/>
<path d="M212 811.5h1h1h1h1h1h1m-8 1h1h1m5 0h1m-9 1h1m7 0h1m-10 1h1h1m6 0h1m-9 1h1m7 0h1m-10 1h1h1m6 0h1m-9 1h1h1m6 0h1m-9 1h1h1h1h1m2 0h1h1m-8 1h1h1h1h1h1h1h1h1m-8 1h1h1h1h1h1h1" stroke="#a0e400" stroke-opacity="0.85"/>
<path d="M212 812.5h1m2 0h1h1m-7 1h1m5 0h1m-7 1h1m-2 1h1m5 0h1m-7 1h1h1m3 0h1m-6 1h1h1h1h1h1h1m-4 1h1h1" stroke="#ffd400" stroke-opacity="0.85"/>
<path d="M213 812.5h1h1m-4 1h1m3 0h1m-5 1h1m3 0h1m-6 1h1h1m2 0h1m-4 1h1h1h1" stroke="#ff8000" stroke-opacity="0.85"/>
<path d="M212 813.5h1h1h1m-3 1h1h1h1m-3 1h1h1" stroke="#ff1a00" stroke-opacity="0.85"/>
</g>
<rect x="171.2" y="760.8" width="97.4" height="97.6" fill="none" stroke="#666" stroke-width="1"/>
<line x1="217.1" y1="760.8" x2="217.1" y2="858.4" stroke="#666" stroke-width="1"/>
<line x1="171.2" y1="811.4" x2="268.6" y2="811.4" stroke="#666" stroke-width="1"/>
<text x="166.6" y="765.1" font-size="6.2" text-anchor="middle" fill="#1a1a1a" transform="rotate(-90 166.6 765.1)">10<tspan dy="-2.36" font-size="4.59">7</tspan><tspan dy="2.36">&#8203;</tspan></text>
<line x1="169.6" y1="765.1" x2="171.2" y2="765.1" stroke="#777" stroke-width="0.6"/>
<text x="166.6" y="786.6" font-size="6.2" text-anchor="middle" fill="#1a1a1a" transform="rotate(-90 166.6 786.6)">10<tspan dy="-2.36" font-size="4.59">6</tspan><tspan dy="2.36">&#8203;</tspan></text>
<line x1="169.6" y1="786.6" x2="171.2" y2="786.6" stroke="#777" stroke-width="0.6"/>
<text x="166.6" y="800" font-size="6.2" text-anchor="middle" fill="#1a1a1a" transform="rotate(-90 166.6 800)">10<tspan dy="-2.36" font-size="4.59">5</tspan><tspan dy="2.36">&#8203;</tspan></text>
<line x1="169.6" y1="800" x2="171.2" y2="800" stroke="#777" stroke-width="0.6"/>
<text x="166.6" y="812.4" font-size="6.2" text-anchor="middle" fill="#1a1a1a" transform="rotate(-90 166.6 812.4)">10<tspan dy="-2.36" font-size="4.59">4</tspan><tspan dy="2.36">&#8203;</tspan></text>
<line x1="169.6" y1="812.4" x2="171.2" y2="812.4" stroke="#777" stroke-width="0.6"/>
<text x="166.6" y="826.4" font-size="6.2" text-anchor="middle" fill="#1a1a1a" transform="rotate(-90 166.6 826.4)">10<tspan dy="-2.36" font-size="4.59">3</tspan><tspan dy="2.36">&#8203;</tspan></text>
<line x1="169.6" y1="826.4" x2="171.2" y2="826.4" stroke="#777" stroke-width="0.6"/>
<text x="166.6" y="840.4" font-size="6.2" text-anchor="middle" fill="#1a1a1a" transform="rotate(-90 166.6 840.4)">10<tspan dy="-2.36" font-size="4.59">2</tspan><tspan dy="2.36">&#8203;</tspan></text>
<line x1="169.6" y1="840.4" x2="171.2" y2="840.4" stroke="#777" stroke-width="0.6"/>
<text x="166.6" y="855.5" font-size="6.2" text-anchor="middle" fill="#1a1a1a" transform="rotate(-90 166.6 855.5)">10<tspan dy="-2.36" font-size="4.59">0.6</tspan><tspan dy="2.36">&#8203;</tspan></text>
<line x1="169.6" y1="855.5" x2="171.2" y2="855.5" stroke="#777" stroke-width="0.6"/>
<text x="175.5" y="868.6" font-size="6.2" text-anchor="middle" fill="#1a1a1a">10<tspan dy="-2.36" font-size="4.59">1.1</tspan><tspan dy="2.36">&#8203;</tspan></text>
<line x1="175.5" y1="858.4" x2="175.5" y2="860" stroke="#777" stroke-width="0.6"/>
<text x="194.9" y="868.6" font-size="6.2" text-anchor="middle" fill="#1a1a1a">10<tspan dy="-2.36" font-size="4.59">3</tspan><tspan dy="2.36">&#8203;</tspan></text>
<line x1="194.9" y1="858.4" x2="194.9" y2="860" stroke="#777" stroke-width="0.6"/>
<text x="220.7" y="868.6" font-size="6.2" text-anchor="middle" fill="#1a1a1a">10<tspan dy="-2.36" font-size="4.59">5</tspan><tspan dy="2.36">&#8203;</tspan></text>
<line x1="220.7" y1="858.4" x2="220.7" y2="860" stroke="#777" stroke-width="0.6"/>
<text x="245.5" y="868.6" font-size="6.2" text-anchor="middle" fill="#1a1a1a">10<tspan dy="-2.36" font-size="4.59">7</tspan><tspan dy="2.36">&#8203;</tspan></text>
<line x1="245.5" y1="858.4" x2="245.5" y2="860" stroke="#777" stroke-width="0.6"/>
<text x="264.5" y="868.6" font-size="6.2" text-anchor="middle" fill="#1a1a1a">10<tspan dy="-2.36" font-size="4.59">8</tspan><tspan dy="2.36">&#8203;</tspan></text>
<line x1="264.5" y1="858.4" x2="264.5" y2="860" stroke="#777" stroke-width="0.6"/>
<text x="219.7" y="756.6" font-size="8.9" font-weight="bold" text-anchor="middle">20 ug/ml ADQ</text>
<text x="266.6" y="786.5" font-size="8.9" font-weight="bold" text-anchor="end" fill="#F81414">11.55%</text>
<text x="248.5" y="767.7" font-size="5.9" fill="#222">Q1-2</text>
<text x="248.5" y="774" font-size="5.9" fill="#222">11.55%</text>
<g filter="url(#sb)">
<path d="M333 798.5h1m14 1h1m-14 1h1m8 1h1m3 0h1m4 0h1m-33 1h1m15 2h1m5 0h1m1 0h1m-13 1h1m1 0h1m1 0h1m2 0h1h1m2 0h1m1 0h1h1h1h1m-19 1h1m6 0h1m2 0h1m3 0h1h1m-30 1h1m5 0h1m8 0h1m4 0h1m1 0h1m2 0h1h1h1h1m4 0h1m16 0h1m-42 1h1m4 0h1m2 0h1m2 0h1h1h1m1 0h1m1 0h1h1h1h1m-29 1h1m1 0h1m4 0h1m1 0h1h1h1m2 0h1m1 0h1h1h1h1h1h1m1 0h1m2 0h1h1h1h1m2 0h1m1 0h1m-35 1h1m2 0h1m4 0h1m1 0h1m2 0h1h1m1 0h1h1h1h1h1h1h1h1m2 0h1m2 0h1h1m-43 1h1m11 0h1m6 0h1h1h1m2 0h1h1h1m1 0h1h1h1h1h1m1 0h1h1h1h1h1h1m1 0h1m3 0h1m-47 1h1m10 0h1m2 0h1m1 0h1h1h1h1m2 0h1h1m1 0h1h1h1m8 0h1m1 0h1m1 0h1m-31 1h1m3 0h1h1h1m1 0h1m1 0h1h1h1h1h1m12 0h1h1h1m1 0h1h1m2 0h1m1 0h1m-45 1h1h1h1m2 0h1m1 0h1m6 0h1h1h1h1m15 0h1h1h1m1 0h1h1m3 0h1h1m-38 1h1m1 0h1m1 0h1h1h1h1h1h1m1 0h1m15 0h1m2 0h1h1m1 0h1m3 0h1h1m-32 1h1h1m18 0h1h1h1h1m1 0h1m1 0h1h1h1m-42 1h1h1m3 0h1m4 0h1h1h1m19 0h1h1h1h1h1h1h1m1 0h1m1 0h1m14 0h1m-66 1h1h1m8 0h1m7 0h1h1m19 0h1h1h1m1 0h1m1 0h1m3 0h1m2 0h1m-48 1h1m7 0h1h1h1h1m1 0h1h1m19 0h1h1h1m1 0h1m1 0h1h1m5 0h1m-48 1h1m3 0h1m4 0h1m2 0h1h1m21 0h1m1 0h1m1 0h1m6 0h1h1m-49 1h1m4 0h1m3 0h1h1m1 0h1h1m20 0h1h1h1h1m3 0h1m9 0h1m-50 1h1m2 0h1m2 0h1m1 0h1h1h1m20 0h1h1h1h1h1h1m6 0h1m-43 1h1h1h1m1 0h1h1h1h1m22 0h1h1m1 0h1h1m1 0h1m3 0h1m-40 1h1m1 0h1m2 0h1h1m23 0h1h1h1m4 0h1m-40 1h1h1m2 0h1h1m1 0h1h1m21 0h1h1h1m1 0h1h1m4 0h1m-41 1h1h1h1h1h1h1h1m22 0h1h1h1h1h1h1h1m-37 1h1m1 0h1h1h1h1h1h1h1m21 0h1h1h1h1m2 0h1m1 0h1m-42 1h1h1m1 0h1h1m2 0h1h1h1h1h1m20 0h1h1h1m2 0h1m13 0h1m-50 1h1m5 0h1h1h1m20 0h1h1h1m4 0h1m-37 1h1h1m1 0h1h1h1m1 0h1h1h1m18 0h1h1h1m5 0h1h1m-40 1h1m1 0h1m2 0h1m1 0h1m1 0h1h1m17 0h1m8 0h1m-35 1h1m2 0h1m1 0h1h1h1h1h1m15 0h1m2 0h1m1 0h1h1m4 0h1m1 0h1m-47 1h1m3 0h1m1 0h1h1h1h1m2 0h1m2 0h1h1h1h1m7 0h1h1h1h1h1h1h1m3 0h1m2 0h1h1m-37 1h1h1m1 0h1h1m1 0h1m1 0h1m3 0h1m1 0h1h1m4 0h1h1m1 0h1m2 0h1h1h1h1m1 0h1m5 0h1m1 0h1h1m-43 1h1m8 0h1m3 0h1m2 0h1h1h1h1h1h1h1h1h1h1h1h1h1h1m1 0h1m1 0h1m1 0h1m1 0h1h1m2 0h1h1m-36 1h1h1m1 0h1h1m2 0h1h1h1h1h1h1m1 0h1h1h1h1h1h1m4 0h1h1m1 0h1h1m1 0h1m2 0h1m-42 1h1m5 0h1m2 0h1m4 0h1m1 0h1h1m1 0h1m1 0h1h1m1 0h1h1h1h1h1m2 0h1m2 0h1m3 0h1m-28 1h1h1h1m1 0h1h1h1m2 0h1h1h1m1 0h1h1m1 0h1h1h1m1 0h1m1 0h1m5 0h1m-43 1h1m16 0h1h1h1h1h1m1 0h1h1m2 0h1h1m2 0h1h1m2 0h1h1m-19 1h1h1h1m1 0h1m2 0h1m1 0h1m3 0h1m1 0h1m1 0h1m1 0h1m2 0h1m1 0h1m-31 1h1m7 0h1m4 0h1m2 0h1m2 0h1m2 0h1m2 0h1m-22 1h1m2 0h1m2 0h1m1 0h1m1 0h1h1m4 0h1h1m2 0h1h1m4 0h1m-30 1h1m3 0h1h1m1 0h1h1m4 0h1m1 0h1m2 0h1m1 0h1m1 0h1m12 0h1m-36 1h1m9 0h1m4 0h1m4 0h1h1m-19 1h1m5 0h1m2 0h1m4 0h1m2 0h1m3 0h1m3 0h1m8 0h1m-39 1h1m12 0h1m1 0h1m1 0h1m1 0h1m9 0h1h1m7 0h1m-28 1h1m3 0h1m2 0h1h1h1h1m-25 1h1m7 0h1m4 0h1m3 0h1h1m3 0h1m10 0h1m-14 1h1m4 0h1m6 0h1m-21 1h1m1 0h1m1 0h1m7 2h1m3 1h1m-15 1h1m17 1h1" stroke="#1424f0" stroke-opacity="0.85"/>
<path d="M333 812.5h1h1h1h1h1h1h1m-10 1h1h1m1 0h1m2 0h1h1h1h1h1h1m-14 1h1h1m9 0h1h1m-15 1h1h1h1m10 0h1h1m-18 1h1h1h1h1m12 0h1m-18 1h1m1 0h1h1m13 0h1h1m-19 1h1h1m15 0h1m-19 1h1h1m16 0h1m-20 1h1h1m16 0h1h1m-21 1h1h1m16 0h1h1m-20 1h1m17 0h1m-20 1h1m17 0h1h1m-22 1h1h1h1m17 0h1m-21 1h1h1m-2 1h1m17 0h1h1m-21 1h1h1m17 0h1m-20 1h1h1m15 0h1h1h1m-21 1h1m1 0h1m14 0h1h1h1m-19 1h1h1h1m12 0h1h1m-17 1h1h1h1m4 0h1h1m1 0h1m3 0h1h1m-15 1h1h1h1h1h1h1h1h1h1h1h1h1h1m1 0h1m-14 1h1h1h1h1h1m-4 1h1h1h1h1" stroke="#0a58ff" stroke-opacity="0.85"/>
<path d="M334 813.5h1h1m-6 1h1h1h1m3 0h1h1h1m-10 1h1m8 0h1m-12 1h1m10 0h1m-13 1h1m11 0h1m-15 1h1h1m12 0h1m-16 1h1h1m13 0h1m-17 1h1h1m13 0h1m-17 1h1m-2 1h1h1m14 0h1m-18 1h1h1m14 0h1m-17 1h1m15 0h1m-18 1h1h1m14 0h1m-18 1h1h1h1h1m12 0h1m-17 1h1h1h1m1 0h1m8 0h1h1h1h1m-17 1h1m1 0h1m1 0h1h1m7 0h1h1m-14 1h1h1h1h1h1h1m5 0h1h1m-13 1h1h1h1h1m1 0h1h1h1m2 0h1h1m-12 1h1h1h1m5 0h1h1h1" stroke="#0096ff" stroke-opacity="0.85"/>
<path d="M333 814.5h1h1h1m-6 1h1m6 0h1m-10 1h1m8 0h1m-11 1h1m9 0h1m-12 1h1m10 0h1m-13 1h1m11 0h1m-14 1h1m11 0h1m-15 1h1h1m11 0h1m-14 1h1m12 0h1m-15 1h1m12 0h1m-15 1h1m13 0h1m-15 1h1h1h1m10 0h1m-13 1h1m7 0h1h1h1h1m-13 1h1m1 0h1h1m4 0h1h1m-10 1h1m2 0h1h1m3 0h1h1m-6 1h1h1h1h1h1m-3 1h1h1" stroke="#00d0d0" stroke-opacity="0.85"/>
<path d="M331 815.5h1h1h1h1h1h1m-8 1h1m6 0h1m-9 1h1m7 0h1m-10 1h1m8 0h1m-11 1h1m8 0h1h1m-12 1h1h1m8 0h1m-12 1h1h1h1m7 0h1m-12 1h1h1h1m8 0h1m-13 1h1h1h1m8 0h1m-12 1h1h1m3 0h1h1h1h1h1h1h1m-11 1h1h1h1h1h1h1h1h1h1h1m-10 1h1h1h1h1h1h1m-5 1h1h1h1h1m-3 1h1h1h1" stroke="#22d840" stroke-opacity="0.85"/>
<path d="M330 816.5h1h1h1h1h1h1m-7 1h1m5 0h1m-8 1h1m6 0h1m-9 1h1m6 0h1m-8 1h1m6 0h1m-8 1h1m5 0h1m-8 1h1h1h1m3 0h1h1m-9 1h1h1h1h1h1h1h1h1m-9 1h1h1h1" stroke="#a0e400" stroke-opacity="0.85"/>
<path d="M330 817.5h1m2 0h1h1m-6 1h1m4 0h1m-7 1h1m-1 1h1m4 0h1m-6 1h1m3 0h1m-4 1h1h1h1" stroke="#ffd400" stroke-opacity="0.85"/>
<path d="M331 817.5h1h1m-3 1h1m2 0h1m-5 1h1m3 0h1m-5 1h1m2 0h1m-4 1h1h1h1" stroke="#ff8000" stroke-opacity="0.85"/>
<path d="M331 818.5h1h1m-3 1h1h1h1m-3 1h1h1" stroke="#ff1a00" stroke-opacity="0.85"/>
</g>
<rect x="289" y="761.1" width="97.4" height="97.6" fill="none" stroke="#666" stroke-width="1"/>
<line x1="334.3" y1="761.1" x2="334.3" y2="858.7" stroke="#333" stroke-width="1"/>
<line x1="289" y1="812.2" x2="386.4" y2="812.2" stroke="#333" stroke-width="1"/>
<text x="284.4" y="765.4" font-size="6.2" text-anchor="middle" fill="#1a1a1a" transform="rotate(-90 284.4 765.4)">10<tspan dy="-2.36" font-size="4.59">7</tspan><tspan dy="2.36">&#8203;</tspan></text>
<line x1="287.4" y1="765.4" x2="289" y2="765.4" stroke="#777" stroke-width="0.6"/>
<text x="284.4" y="786.9" font-size="6.2" text-anchor="middle" fill="#1a1a1a" transform="rotate(-90 284.4 786.9)">10<tspan dy="-2.36" font-size="4.59">6</tspan><tspan dy="2.36">&#8203;</tspan></text>
<line x1="287.4" y1="786.9" x2="289" y2="786.9" stroke="#777" stroke-width="0.6"/>
<text x="284.4" y="800.3" font-size="6.2" text-anchor="middle" fill="#1a1a1a" transform="rotate(-90 284.4 800.3)">10<tspan dy="-2.36" font-size="4.59">5</tspan><tspan dy="2.36">&#8203;</tspan></text>
<line x1="287.4" y1="800.3" x2="289" y2="800.3" stroke="#777" stroke-width="0.6"/>
<text x="284.4" y="812.7" font-size="6.2" text-anchor="middle" fill="#1a1a1a" transform="rotate(-90 284.4 812.7)">10<tspan dy="-2.36" font-size="4.59">4</tspan><tspan dy="2.36">&#8203;</tspan></text>
<line x1="287.4" y1="812.7" x2="289" y2="812.7" stroke="#777" stroke-width="0.6"/>
<text x="284.4" y="826.7" font-size="6.2" text-anchor="middle" fill="#1a1a1a" transform="rotate(-90 284.4 826.7)">10<tspan dy="-2.36" font-size="4.59">3</tspan><tspan dy="2.36">&#8203;</tspan></text>
<line x1="287.4" y1="826.7" x2="289" y2="826.7" stroke="#777" stroke-width="0.6"/>
<text x="284.4" y="840.7" font-size="6.2" text-anchor="middle" fill="#1a1a1a" transform="rotate(-90 284.4 840.7)">10<tspan dy="-2.36" font-size="4.59">2</tspan><tspan dy="2.36">&#8203;</tspan></text>
<line x1="287.4" y1="840.7" x2="289" y2="840.7" stroke="#777" stroke-width="0.6"/>
<text x="284.4" y="855.8" font-size="6.2" text-anchor="middle" fill="#1a1a1a" transform="rotate(-90 284.4 855.8)">10<tspan dy="-2.36" font-size="4.59">0.6</tspan><tspan dy="2.36">&#8203;</tspan></text>
<line x1="287.4" y1="855.8" x2="289" y2="855.8" stroke="#777" stroke-width="0.6"/>
<text x="293.3" y="868.9" font-size="6.2" text-anchor="middle" fill="#1a1a1a">10<tspan dy="-2.36" font-size="4.59">1.1</tspan><tspan dy="2.36">&#8203;</tspan></text>
<line x1="293.3" y1="858.7" x2="293.3" y2="860.3" stroke="#777" stroke-width="0.6"/>
<text x="312.7" y="868.9" font-size="6.2" text-anchor="middle" fill="#1a1a1a">10<tspan dy="-2.36" font-size="4.59">3</tspan><tspan dy="2.36">&#8203;</tspan></text>
<line x1="312.7" y1="858.7" x2="312.7" y2="860.3" stroke="#777" stroke-width="0.6"/>
<text x="338.5" y="868.9" font-size="6.2" text-anchor="middle" fill="#1a1a1a">10<tspan dy="-2.36" font-size="4.59">5</tspan><tspan dy="2.36">&#8203;</tspan></text>
<line x1="338.5" y1="858.7" x2="338.5" y2="860.3" stroke="#777" stroke-width="0.6"/>
<text x="363.3" y="868.9" font-size="6.2" text-anchor="middle" fill="#1a1a1a">10<tspan dy="-2.36" font-size="4.59">7</tspan><tspan dy="2.36">&#8203;</tspan></text>
<line x1="363.3" y1="858.7" x2="363.3" y2="860.3" stroke="#777" stroke-width="0.6"/>
<text x="382.3" y="868.9" font-size="6.2" text-anchor="middle" fill="#1a1a1a">10<tspan dy="-2.36" font-size="4.59">8</tspan><tspan dy="2.36">&#8203;</tspan></text>
<line x1="382.3" y1="858.7" x2="382.3" y2="860.3" stroke="#777" stroke-width="0.6"/>
<text x="334.9" y="756.6" font-size="8.9" font-weight="bold" text-anchor="middle">TAM</text>
<text x="384.4" y="786.8" font-size="8.9" font-weight="bold" text-anchor="end" fill="#F81414">3.93%</text>
<text x="366.3" y="768" font-size="5.9" fill="#222">Q1-2</text>
<text x="366.3" y="774.3" font-size="5.9" fill="#222">3.93%</text>
<g filter="url(#sb)">
<path d="M449 795.5h1m-16 1h1m14 1h1m2 0h1m-12 1h1m5 0h1m9 0h1m5 0h1m1 0h1m2 0h1m-2 1h1m-25 2h1m2 0h1m13 0h1h1m3 0h1m-28 1h1m4 0h1m8 0h1m4 0h1h1h1h1m4 0h1m-46 1h1m1 0h1m23 0h1m1 0h1m3 0h1h1h1m1 0h1m1 0h1h1h1h1m-34 1h1m15 0h1m2 0h1h1m3 0h1m2 0h1m1 0h1h1h1m2 0h1h1m3 0h1m1 0h1m-32 1h1m3 0h1h1h1m1 0h1m2 0h1m2 0h1m1 0h1m1 0h1h1m3 0h1h1m-28 1h1m2 0h1m5 0h1h1h1m1 0h1m3 0h1h1m1 0h1m1 0h1h1h1m1 0h1m-38 1h1m7 0h1m2 0h1m4 0h1h1m2 0h1h1m1 0h1h1m1 0h1m2 0h1m1 0h1h1h1h1h1h1h1m3 0h1m4 0h1m-43 1h1m1 0h1m13 0h1h1m1 0h1h1h1h1h1h1h1h1m1 0h1h1h1m2 0h1m15 0h1m-56 1h1m1 0h1m9 0h1m4 0h1m3 0h1h1m2 0h1h1h1m1 0h1h1h1h1m2 0h1h1h1h1m1 0h1m4 0h1m-35 1h1m1 0h1h1h1h1m2 0h1m1 0h1h1h1h1m15 0h1h1h1m-43 1h1m6 0h1m2 0h1h1h1m2 0h1h1h1h1h1m15 0h1h1h1h1m1 0h1m1 0h1m1 0h1h1m-43 1h1m4 0h1m1 0h1h1h1h1m1 0h1h1h1m17 0h1h1h1h1h1m1 0h1m-46 1h1m4 0h1m2 0h1m1 0h1m1 0h1h1m1 0h1m1 0h1h1h1h1m18 0h1h1h1m5 0h1m-44 1h1m6 0h1m4 0h1h1h1h1m18 0h1h1h1h1m1 0h1h1m-35 1h1m1 0h1h1h1h1m1 0h1m19 0h1h1h1h1m1 0h1h1h1m-40 1h1m1 0h1h1m3 0h1h1h1m2 0h1m18 0h1h1h1h1h1m5 0h1m3 0h1m-47 1h1m1 0h1m3 0h1m1 0h1m1 0h1m22 0h1h1m1 0h1m-41 1h1m4 0h1m3 0h1h1m2 0h1h1h1m19 0h1m2 0h1h1h1h1m3 0h1m-43 1h1m3 0h1h1m1 0h1m1 0h1h1m21 0h1m6 0h1m1 0h1m-39 1h1m2 0h1m1 0h1m23 0h1h1m2 0h1h1h1m-38 1h1h1h1m1 0h1m1 0h1h1m23 0h1h1h1h1h1h1m-40 1h1m2 0h1h1h1m1 0h1h1h1h1h1m21 0h1m2 0h1m10 0h1m-49 1h1h1m1 0h1h1h1h1h1m4 0h1m21 0h1h1h1h1m1 0h1m1 0h1m2 0h1m-52 1h1m8 0h1m1 0h1m2 0h1h1h1m1 0h1h1m20 0h1h1m3 0h1m-42 1h1m2 0h1m1 0h1h1m2 0h1h1m1 0h1h1h1m20 0h1h1h1h1m5 0h1m2 0h1m-46 1h1m2 0h1m3 0h1h1m3 0h1m19 0h1h1h1m-37 1h1m11 0h1h1h1m18 0h1h1h1h1m2 0h1m1 0h1m-46 1h1m7 0h1m2 0h1m1 0h1m1 0h1h1h1m1 0h1m16 0h1h1h1m1 0h1h1m4 0h1h1m5 0h1m-52 1h1m3 0h1m4 0h1m1 0h1h1h1h1h1h1h1m16 0h1h1h1h1m1 0h1m-39 1h1m4 0h1h1h1m1 0h1h1h1h1h1h1h1m1 0h1h1m10 0h1m1 0h1h1m1 0h1m4 0h1m1 0h1m-40 1h1m3 0h1m2 0h1h1h1m1 0h1h1h1m2 0h1h1h1m3 0h1m2 0h1h1h1m4 0h1h1m2 0h1m2 0h1m3 0h1m-48 1h1m4 0h1m5 0h1m2 0h1h1h1h1m1 0h1h1h1h1m1 0h1m1 0h1m1 0h1h1m4 0h1h1m2 0h1h1h1m-32 1h1m4 0h1h1m1 0h1h1m1 0h1m3 0h1h1h1h1m1 0h1h1h1h1h1m1 0h1h1h1m1 0h1h1m-35 1h1m1 0h1m4 0h1m5 0h1h1m1 0h1h1m1 0h1h1h1h1h1m4 0h1h1m2 0h1m1 0h1m1 0h1m5 0h1m-45 1h1m7 0h1m1 0h1m1 0h1h1m2 0h1m1 0h1h1h1h1h1h1h1m2 0h1m1 0h1m7 0h1m-42 1h1m9 0h1m1 0h1m2 0h1m4 0h1h1m3 0h1m1 0h1m3 0h1m1 0h1m1 0h1h1h1m1 0h1h1m-28 1h1h1h1h1m1 0h1m1 0h1h1h1m2 0h1m5 0h1h1m2 0h1m3 0h1m4 0h1m-44 1h1m5 0h1m8 0h1m1 0h1h1m1 0h1m1 0h1h1m2 0h1h1h1h1m1 0h1h1m1 0h1m5 0h1m-42 1h1m5 0h1m1 0h1m12 0h1m1 0h1h1m1 0h1h1m5 0h1m-20 1h1m7 0h1h1m1 0h1h1h1m2 0h1m1 0h1m2 0h1m1 0h1m-29 1h1m5 0h1h1h1m2 0h1m2 0h1h1m1 0h1m1 0h1h1m6 0h1m-26 1h1h1m3 0h1m2 0h1h1m2 0h1m3 0h1m3 0h1h1m-25 1h1m14 0h1m1 0h1m8 0h1m2 0h1m9 0h1m-26 1h1m10 1h1m1 0h1m-16 1h1m8 0h1m-10 1h1m4 0h1m9 0h1m-19 1h1m3 0h1m-2 4h1m5 1h1" stroke="#1424f0" stroke-opacity="0.85"/>
<path d="M455 809.5h1h1m-9 1h1h1h1h1h1h1m1 0h1h1m-15 1h1h1h1m9 0h1h1h1m-17 1h1h1m13 0h1h1m-18 1h1h1m14 0h1h1m-19 1h1h1m14 0h1h1m-20 1h1m1 0h1m15 0h1m-19 1h1m15 0h1m-18 1h1h1m15 0h1m-19 1h1h1m16 0h1m-21 1h1h1h1h1m16 0h1m-22 1h1h1h1h1m16 0h1h1m-22 1h1h1h1m17 0h1h1m-22 1h1h1m17 0h1h1m-21 1h1h1m15 0h1h1h1h1m-21 1h1m15 0h1h1h1m-20 1h1h1m14 0h1h1h1h1m-20 1h1h1m14 0h1h1h1m-19 1h1h1h1m13 0h1h1m-17 1h1h1m10 0h1h1h1h1m-15 1h1h1h1m7 0h1h1h1h1h1m-13 1h1h1h1h1h1h1h1h1h1m-8 1h1h1h1m1 0h1h1" stroke="#0a58ff" stroke-opacity="0.85"/>
<path d="M445 811.5h1h1h1h1h1m3 0h1m-12 1h1m11 0h1m-14 1h1m12 0h1m-15 1h1m12 0h1m-15 1h1m12 0h1m-15 1h1m-2 1h1m13 0h1m-16 1h1h1m13 0h1m-16 1h1h1m13 0h1m-15 1h1m12 0h1m-17 1h1h1h1m12 0h1h1m-18 1h1h1h1m12 0h1h1m-17 1h1h1m-3 1h1h1h1m11 0h1m-15 1h1h1m11 0h1m-14 1h1h1m7 0h1h1h1h1h1m-13 1h1m6 0h1h1m1 0h1h1h1m-13 1h1h1h1m4 0h1h1h1m-8 1h1h1h1h1h1h1h1" stroke="#0096ff" stroke-opacity="0.85"/>
<path d="M450 811.5h1h1h1m-10 1h1h1h1h1h1h1m4 0h1m-12 1h1m10 0h1m-13 1h1m10 0h1m-13 1h1m-2 1h1m11 0h1m-14 1h1m-1 1h1m-1 1h1m11 0h1m-13 1h1m-2 1h1m10 0h1m-13 1h1m10 0h1m-13 1h1h1m9 0h1m-12 1h1h1m7 0h1h1m-12 1h1h1h1m3 0h1h1h1h1h1m-11 1h1h1h1h1h1h1h1m-7 1h1h1h1h1h1h1m-4 1h1h1h1h1" stroke="#00d0d0" stroke-opacity="0.85"/>
<path d="M449 812.5h1h1h1h1m-10 1h1h1m3 0h1h1h1h1h1m-11 1h1h1m7 0h1m-11 1h1h1m7 0h1h1m-12 1h1h1m8 0h1m-12 1h1h1m9 0h1m-12 1h1h1m9 0h1m-12 1h1m9 0h1m-11 1h1m8 0h1h1m-12 1h1h1m7 0h1m-11 1h1h1h1m5 0h1h1m-10 1h1h1h1h1m2 0h1h1h1m-9 1h1h1h1h1h1h1h1m-7 1h1h1h1" stroke="#22d840" stroke-opacity="0.85"/>
<path d="M445 813.5h1h1h1m-4 1h1m3 0h1h1h1m-8 1h1m5 0h1m-8 1h1m6 0h1m-9 1h1m7 0h1m-9 1h1m7 0h1m-10 1h1m7 0h1m-9 1h1m6 0h1m-8 1h1h1m3 0h1h1m-7 1h1h1h1h1h1m-4 1h1h1" stroke="#a0e400" stroke-opacity="0.85"/>
<path d="M445 814.5h1h1h1m-4 1h1m3 0h1m-6 1h1m-2 1h1m5 0h1m-7 1h1m5 0h1m-8 1h1m5 0h1m-7 1h1m3 0h1h1m-5 1h1h1h1" stroke="#ffd400" stroke-opacity="0.85"/>
<path d="M445 815.5h1h1h1m-4 1h1m3 0h1m-6 1h1m-1 1h1m3 0h1m-6 1h1m3 0h1m-5 1h1h1h1" stroke="#ff8000" stroke-opacity="0.85"/>
<path d="M445 816.5h1h1h1m-4 1h1h1h1h1m-4 1h1h1h1m-4 1h1h1h1" stroke="#ff1a00" stroke-opacity="0.85"/>
</g>
<rect x="406" y="761.1" width="97.4" height="97.6" fill="none" stroke="#666" stroke-width="1"/>
<line x1="451.2" y1="761.1" x2="451.2" y2="858.7" stroke="#333" stroke-width="1"/>
<line x1="406" y1="812.2" x2="503.4" y2="812.2" stroke="#333" stroke-width="1"/>
<text x="401.4" y="765.4" font-size="6.2" text-anchor="middle" fill="#1a1a1a" transform="rotate(-90 401.4 765.4)">10<tspan dy="-2.36" font-size="4.59">7</tspan><tspan dy="2.36">&#8203;</tspan></text>
<line x1="404.4" y1="765.4" x2="406" y2="765.4" stroke="#777" stroke-width="0.6"/>
<text x="401.4" y="786.9" font-size="6.2" text-anchor="middle" fill="#1a1a1a" transform="rotate(-90 401.4 786.9)">10<tspan dy="-2.36" font-size="4.59">6</tspan><tspan dy="2.36">&#8203;</tspan></text>
<line x1="404.4" y1="786.9" x2="406" y2="786.9" stroke="#777" stroke-width="0.6"/>
<text x="401.4" y="800.3" font-size="6.2" text-anchor="middle" fill="#1a1a1a" transform="rotate(-90 401.4 800.3)">10<tspan dy="-2.36" font-size="4.59">5</tspan><tspan dy="2.36">&#8203;</tspan></text>
<line x1="404.4" y1="800.3" x2="406" y2="800.3" stroke="#777" stroke-width="0.6"/>
<text x="401.4" y="812.7" font-size="6.2" text-anchor="middle" fill="#1a1a1a" transform="rotate(-90 401.4 812.7)">10<tspan dy="-2.36" font-size="4.59">4</tspan><tspan dy="2.36">&#8203;</tspan></text>
<line x1="404.4" y1="812.7" x2="406" y2="812.7" stroke="#777" stroke-width="0.6"/>
<text x="401.4" y="826.7" font-size="6.2" text-anchor="middle" fill="#1a1a1a" transform="rotate(-90 401.4 826.7)">10<tspan dy="-2.36" font-size="4.59">3</tspan><tspan dy="2.36">&#8203;</tspan></text>
<line x1="404.4" y1="826.7" x2="406" y2="826.7" stroke="#777" stroke-width="0.6"/>
<text x="401.4" y="840.7" font-size="6.2" text-anchor="middle" fill="#1a1a1a" transform="rotate(-90 401.4 840.7)">10<tspan dy="-2.36" font-size="4.59">2</tspan><tspan dy="2.36">&#8203;</tspan></text>
<line x1="404.4" y1="840.7" x2="406" y2="840.7" stroke="#777" stroke-width="0.6"/>
<text x="401.4" y="855.8" font-size="6.2" text-anchor="middle" fill="#1a1a1a" transform="rotate(-90 401.4 855.8)">10<tspan dy="-2.36" font-size="4.59">0.6</tspan><tspan dy="2.36">&#8203;</tspan></text>
<line x1="404.4" y1="855.8" x2="406" y2="855.8" stroke="#777" stroke-width="0.6"/>
<text x="410.3" y="868.9" font-size="6.2" text-anchor="middle" fill="#1a1a1a">10<tspan dy="-2.36" font-size="4.59">1.1</tspan><tspan dy="2.36">&#8203;</tspan></text>
<line x1="410.3" y1="858.7" x2="410.3" y2="860.3" stroke="#777" stroke-width="0.6"/>
<text x="429.7" y="868.9" font-size="6.2" text-anchor="middle" fill="#1a1a1a">10<tspan dy="-2.36" font-size="4.59">3</tspan><tspan dy="2.36">&#8203;</tspan></text>
<line x1="429.7" y1="858.7" x2="429.7" y2="860.3" stroke="#777" stroke-width="0.6"/>
<text x="455.5" y="868.9" font-size="6.2" text-anchor="middle" fill="#1a1a1a">10<tspan dy="-2.36" font-size="4.59">5</tspan><tspan dy="2.36">&#8203;</tspan></text>
<line x1="455.5" y1="858.7" x2="455.5" y2="860.3" stroke="#777" stroke-width="0.6"/>
<text x="480.3" y="868.9" font-size="6.2" text-anchor="middle" fill="#1a1a1a">10<tspan dy="-2.36" font-size="4.59">7</tspan><tspan dy="2.36">&#8203;</tspan></text>
<line x1="480.3" y1="858.7" x2="480.3" y2="860.3" stroke="#777" stroke-width="0.6"/>
<text x="499.3" y="868.9" font-size="6.2" text-anchor="middle" fill="#1a1a1a">10<tspan dy="-2.36" font-size="4.59">8</tspan><tspan dy="2.36">&#8203;</tspan></text>
<line x1="499.3" y1="858.7" x2="499.3" y2="860.3" stroke="#777" stroke-width="0.6"/>
<text x="452.8" y="756.6" font-size="8.9" font-weight="bold" text-anchor="middle">TAM/shCXCL1</text>
<text x="501.4" y="786.8" font-size="8.9" font-weight="bold" text-anchor="end" fill="#F81414">6.53%</text>
<text x="483.3" y="768" font-size="5.9" fill="#222">Q1-2</text>
<text x="483.3" y="774.3" font-size="5.9" fill="#222">6.53%</text>
<g filter="url(#sb)">
<path d="M583 788.5h1m-10 7h1m-13 1h1m5 0h1m8 1h1m4 0h1h1m5 0h1m-20 1h1m-1 1h1m4 0h1m4 0h1h1m-3 1h1h1m4 0h1m-36 1h1m9 0h1m6 0h1m1 0h1m4 0h1m6 0h1h1h1m-15 1h1m5 0h1m3 0h1h1m-34 1h1m9 0h1m8 0h1m1 0h1h1m2 0h1h1h1h1h1m2 0h1m1 0h1h1m-40 1h1m3 0h1m3 0h1m9 0h1m2 0h1m2 0h1m2 0h1m6 0h1m1 0h1m-30 1h1m6 0h1h1m11 0h1m2 0h1h1h1h1h1h1h1h1m1 0h1m-28 1h1m7 0h1m2 0h1h1m3 0h1h1h1h1m2 0h1h1h1m2 0h1h1m-36 1h1m4 0h1m1 0h1m4 0h1m1 0h1h1m3 0h1m2 0h1h1m6 0h1h1h1m1 0h1h1m-35 1h1m8 0h1h1m1 0h1h1m1 0h1h1h1m1 0h1m1 0h1h1m7 0h1h1h1m-30 1h1m1 0h1h1m3 0h1m1 0h1h1m1 0h1m1 0h1h1h1h1m8 0h1h1m1 0h1m3 0h1m-38 1h1m1 0h1h1m2 0h1m3 0h1m1 0h1h1h1m1 0h1h1m11 0h1h1h1m1 0h1m-35 1h1m1 0h1m6 0h1m1 0h1h1h1m16 0h1h1m7 0h1m-39 1h1m2 0h1m2 0h1m2 0h1m1 0h1m17 0h1m2 0h1h1m10 0h1m-48 1h1m1 0h1m1 0h1m1 0h1h1m2 0h1h1h1m19 0h1m1 0h1h1h1h1m-36 1h1m2 0h1m3 0h1h1h1m20 0h1h1m9 0h1m-45 1h1h1m7 0h1h1h1m21 0h1h1m2 0h1m-37 1h1m4 0h1h1m1 0h1h1m21 0h1h1h1h1h1h1m2 0h1m1 0h1m-48 1h1m7 0h1h1m1 0h1m1 0h1m23 0h1m2 0h1h1h1m3 0h1m-44 1h1h1h1m4 0h1h1h1m22 0h1h1m6 0h1m20 0h1m-60 1h1h1h1h1h1h1m1 0h1m21 0h1m3 0h1h1m2 0h1m2 0h1m-45 1h1m4 0h1m2 0h1h1h1m22 0h1h1h1m1 0h1h1m2 0h1m4 0h1m-50 1h1m1 0h1m4 0h1h1m2 0h1h1h1h1m21 0h1h1h1h1m6 0h1h1m-50 1h1m8 0h1m2 0h1h1h1h1m22 0h1h1h1m1 0h1m2 0h1m3 0h1m-44 1h1m2 0h1h1h1m2 0h1m23 0h1h1h1m4 0h1m-39 1h1h1h1h1h1m2 0h1m21 0h1m1 0h1h1m1 0h1m4 0h1m-48 1h1m5 0h1m4 0h1m1 0h1m22 0h1h1h1h1m1 0h1h1h1m-34 1h1h1m2 0h1m20 0h1h1h1h1h1m1 0h1h1h1m4 0h1m-56 1h1m5 0h1m12 0h1h1h1m19 0h1h1m4 0h1m3 0h1m-39 1h1h1m2 0h1h1m2 0h1h1m17 0h1h1h1m2 0h1m1 0h1m-33 1h1m1 0h1h1h1m1 0h1m1 0h1m14 0h1h1h1h1h1h1h1h1h1m-30 1h1m1 0h1h1h1h1h1m12 0h1h1m1 0h1h1h1m2 0h1m3 0h1m6 0h1m-57 1h1m8 0h1m2 0h1m3 0h1h1h1m1 0h1h1h1h1m1 0h1h1h1h1m6 0h1m1 0h1h1h1h1h1m1 0h1h1m2 0h1m-33 1h1m6 0h1h1h1h1h1h1m1 0h1m4 0h1h1h1m1 0h1h1h1m1 0h1m3 0h1m1 0h1m2 0h1m-40 1h1m2 0h1m4 0h1m4 0h1h1h1h1h1h1m3 0h1h1h1m5 0h1m9 0h1m-39 1h1m4 0h1m1 0h1m1 0h1h1m1 0h1m1 0h1m1 0h1m3 0h1m1 0h1h1h1h1m1 0h1m1 0h1m1 0h1m5 0h1m-47 1h1m5 0h1m4 0h1m1 0h1m2 0h1m1 0h1h1m2 0h1h1h1h1m1 0h1h1h1h1m1 0h1h1m2 0h1h1h1m3 0h1m1 0h1m2 0h1h1m-42 1h1m4 0h1m11 0h1m1 0h1m2 0h1h1h1h1m1 0h1h1m-18 1h1h1h1h1h1h1m1 0h1m1 0h1m1 0h1h1h1h1h1h1m5 0h1m-40 1h1m10 0h1m1 0h1m8 0h1h1m9 0h1m1 0h1h1m-30 1h1m1 0h1m6 0h1m3 0h1m2 0h1m1 0h1h1h1h1m1 0h1m7 0h1m-30 1h1m4 0h1m6 0h1h1m1 0h1m2 0h1h1h1h1h1h1m3 0h1m9 0h1m-36 1h1m3 0h1m4 0h1h1m4 0h1m-22 1h1m11 0h1m4 0h1m1 0h1h1m1 0h1m-8 1h1m7 0h1m7 0h1h1m3 0h1m-31 1h1m2 0h1m5 0h1h1h1m3 0h1m3 0h1m3 0h1m1 0h1m-21 1h1m5 1h1m-13 1h1m6 1h1m21 0h1m-16 1h1m2 4h1m4 0h1m-5 1h1m4 1h1" stroke="#1424f0" stroke-opacity="0.85"/>
<path d="M575 806.5h1h1m-4 1h1h1h1h1h1m-6 1h1h1h1h1h1h1m-8 1h1h1h1h1h1h1h1h1m-10 1h1h1h1m3 0h1h1m-14 1h1h1h1h1m8 0h1h1h1m-17 1h1h1h1m12 0h1h1m-18 1h1m16 0h1m-20 1h1h1m16 0h1h1m-21 1h1h1m17 0h1m-21 1h1h1m17 0h1h1m-23 1h1h1m19 0h1m-23 1h1h1h1m18 0h1m-22 1h1h1m-1 1h1m18 0h1m-21 1h1h1m-3 1h1h1h1m17 0h1h1m-23 1h1h1h1m16 0h1h1h1m-22 1h1h1h1m15 0h1h1h1m-21 1h1h1m16 0h1h1m-21 1h1h1m16 0h1h1m-20 1h1h1h1m13 0h1h1h1m-18 1h1h1h1m10 0h1m1 0h1h1m-16 1h1h1m1 0h1m6 0h1h1h1h1m-11 1h1h1m3 0h1h1h1h1m-8 1h1h1h1h1h1h1m-5 1h1m1 0h1h1m-3 1h1h1h1m-3 1h1h1h1" stroke="#0a58ff" stroke-opacity="0.85"/>
<path d="M571 810.5h1h1h1m-8 1h1h1h1h1h1h1h1h1m-11 1h1h1m8 0h1h1m-15 1h1h1m12 0h1h1m-17 1h1m14 0h1m-17 1h1m15 0h1m-18 1h1m-3 1h1h1m-2 1h1m16 0h1m-19 1h1h1m-2 1h1h1m15 0h1m-18 1h1h1m15 0h1m-18 1h1h1m13 0h1m-17 1h1h1m12 0h1h1m-16 1h1h1m12 0h1m-16 1h1h1m12 0h1h1m-17 1h1h1h1m11 0h1h1m-15 1h1h1m9 0h1h1m-12 1h1h1m6 0h1m-7 1h1m3 0h1h1m-5 1h1h1h1" stroke="#0096ff" stroke-opacity="0.85"/>
<path d="M565 812.5h1m5 0h1h1m-11 1h1h1m9 0h1m-14 1h1m12 0h1m-15 1h1m13 0h1m-16 1h1m-2 1h1m14 0h1m-17 1h1m-1 1h1m-1 1h1m-1 1h1m13 0h1m-15 1h1m9 0h1h1h1m-14 1h1h1m9 0h1m-12 1h1m9 0h1h1m-13 1h1h1m9 0h1m-12 1h1h1m7 0h1h1m-11 1h1h1m4 0h1h1h1m-8 1h1h1h1h1h1m-4 1h1h1h1" stroke="#00d0d0" stroke-opacity="0.85"/>
<path d="M566 812.5h1h1h1h1h1m-7 1h1h1m4 0h1h1h1m-12 1h1h1h1m8 0h1m-13 1h1h1m10 0h1m-14 1h1h1m11 0h1m-15 1h1h1m11 0h1m-15 1h1h1m12 0h1m-15 1h1h1m11 0h1m-14 1h1h1m10 0h1h1m-14 1h1h1m5 0h1h1h1h1h1h1m-13 1h1h1h1m2 0h1m1 0h1h1m-9 1h1h1h1h1h1h1h1h1h1m-10 1h1h1h1h1h1h1h1h1h1m-9 1h1h1h1h1h1h1h1h1h1m-9 1h1h1h1h1h1h1h1m-7 1h1h1h1h1" stroke="#22d840" stroke-opacity="0.85"/>
<path d="M566 813.5h1h1h1h1m-6 1h1h1m4 0h1h1m-10 1h1h1m7 0h1m-11 1h1h1m8 0h1m-12 1h1h1m8 0h1m-12 1h1h1h1m8 0h1m-12 1h1h1h1h1h1m5 0h1m-11 1h1h1h1h1h1h1h1h1h1h1m-10 1h1h1h1h1h1m-4 1h1h1" stroke="#a0e400" stroke-opacity="0.85"/>
<path d="M566 814.5h1m1 0h1h1m-6 1h1m5 0h1m-8 1h1m6 0h1m-9 1h1h1m5 0h1m-8 1h1h1h1m4 0h1m-6 1h1h1h1h1h1" stroke="#ffd400" stroke-opacity="0.85"/>
<path d="M567 814.5h1m-3 1h1m3 0h1m-6 1h1m4 0h1m-6 1h1m0 1h1h1h1h1" stroke="#ff8000" stroke-opacity="0.85"/>
<path d="M566 815.5h1h1h1m-4 1h1h1h1h1m-4 1h1h1h1h1" stroke="#ff1a00" stroke-opacity="0.85"/>
</g>
<rect x="522.3" y="761.1" width="97.4" height="97.6" fill="none" stroke="#666" stroke-width="1"/>
<line x1="569" y1="761.1" x2="569" y2="858.7" stroke="#666" stroke-width="1"/>
<line x1="522.3" y1="811.5" x2="619.7" y2="811.5" stroke="#666" stroke-width="1"/>
<text x="517.7" y="765.4" font-size="6.2" text-anchor="middle" fill="#1a1a1a" transform="rotate(-90 517.7 765.4)">10<tspan dy="-2.36" font-size="4.59">7</tspan><tspan dy="2.36">&#8203;</tspan></text>
<line x1="520.7" y1="765.4" x2="522.3" y2="765.4" stroke="#777" stroke-width="0.6"/>
<text x="517.7" y="786.9" font-size="6.2" text-anchor="middle" fill="#1a1a1a" transform="rotate(-90 517.7 786.9)">10<tspan dy="-2.36" font-size="4.59">6</tspan><tspan dy="2.36">&#8203;</tspan></text>
<line x1="520.7" y1="786.9" x2="522.3" y2="786.9" stroke="#777" stroke-width="0.6"/>
<text x="517.7" y="800.3" font-size="6.2" text-anchor="middle" fill="#1a1a1a" transform="rotate(-90 517.7 800.3)">10<tspan dy="-2.36" font-size="4.59">5</tspan><tspan dy="2.36">&#8203;</tspan></text>
<line x1="520.7" y1="800.3" x2="522.3" y2="800.3" stroke="#777" stroke-width="0.6"/>
<text x="517.7" y="812.7" font-size="6.2" text-anchor="middle" fill="#1a1a1a" transform="rotate(-90 517.7 812.7)">10<tspan dy="-2.36" font-size="4.59">4</tspan><tspan dy="2.36">&#8203;</tspan></text>
<line x1="520.7" y1="812.7" x2="522.3" y2="812.7" stroke="#777" stroke-width="0.6"/>
<text x="517.7" y="826.7" font-size="6.2" text-anchor="middle" fill="#1a1a1a" transform="rotate(-90 517.7 826.7)">10<tspan dy="-2.36" font-size="4.59">3</tspan><tspan dy="2.36">&#8203;</tspan></text>
<line x1="520.7" y1="826.7" x2="522.3" y2="826.7" stroke="#777" stroke-width="0.6"/>
<text x="517.7" y="840.7" font-size="6.2" text-anchor="middle" fill="#1a1a1a" transform="rotate(-90 517.7 840.7)">10<tspan dy="-2.36" font-size="4.59">2</tspan><tspan dy="2.36">&#8203;</tspan></text>
<line x1="520.7" y1="840.7" x2="522.3" y2="840.7" stroke="#777" stroke-width="0.6"/>
<text x="517.7" y="855.8" font-size="6.2" text-anchor="middle" fill="#1a1a1a" transform="rotate(-90 517.7 855.8)">10<tspan dy="-2.36" font-size="4.59">0.6</tspan><tspan dy="2.36">&#8203;</tspan></text>
<line x1="520.7" y1="855.8" x2="522.3" y2="855.8" stroke="#777" stroke-width="0.6"/>
<text x="526.6" y="868.9" font-size="6.2" text-anchor="middle" fill="#1a1a1a">10<tspan dy="-2.36" font-size="4.59">1.1</tspan><tspan dy="2.36">&#8203;</tspan></text>
<line x1="526.6" y1="858.7" x2="526.6" y2="860.3" stroke="#777" stroke-width="0.6"/>
<text x="546" y="868.9" font-size="6.2" text-anchor="middle" fill="#1a1a1a">10<tspan dy="-2.36" font-size="4.59">3</tspan><tspan dy="2.36">&#8203;</tspan></text>
<line x1="546" y1="858.7" x2="546" y2="860.3" stroke="#777" stroke-width="0.6"/>
<text x="571.8" y="868.9" font-size="6.2" text-anchor="middle" fill="#1a1a1a">10<tspan dy="-2.36" font-size="4.59">5</tspan><tspan dy="2.36">&#8203;</tspan></text>
<line x1="571.8" y1="858.7" x2="571.8" y2="860.3" stroke="#777" stroke-width="0.6"/>
<text x="596.6" y="868.9" font-size="6.2" text-anchor="middle" fill="#1a1a1a">10<tspan dy="-2.36" font-size="4.59">7</tspan><tspan dy="2.36">&#8203;</tspan></text>
<line x1="596.6" y1="858.7" x2="596.6" y2="860.3" stroke="#777" stroke-width="0.6"/>
<text x="615.6" y="868.9" font-size="6.2" text-anchor="middle" fill="#1a1a1a">10<tspan dy="-2.36" font-size="4.59">8</tspan><tspan dy="2.36">&#8203;</tspan></text>
<line x1="615.6" y1="858.7" x2="615.6" y2="860.3" stroke="#777" stroke-width="0.6"/>
<text x="566.4" y="756.6" font-size="8.9" font-weight="bold" text-anchor="middle">TAM+ADQ</text>
<text x="617.7" y="786.8" font-size="8.9" font-weight="bold" text-anchor="end" fill="#F81414">8.26%</text>
<text x="599.6" y="768" font-size="5.9" fill="#222">Q1-2</text>
<text x="599.6" y="774.3" font-size="5.9" fill="#222">8.26%</text>
<g filter="url(#sb)">
<path d="M672 795.5h1m8 3h1m18 1h1m4 0h1m-5 1h1m-24 1h1m12 0h1m-21 1h1m21 0h1h1m3 0h1m-11 1h1m4 0h1m2 0h1h1h1m-19 1h1m1 0h1m3 0h1m2 0h1m4 0h1m5 0h1m2 0h1m-25 1h1m1 0h1m3 0h1m3 0h1m5 0h1m1 0h1m-21 1h1m1 0h1m4 0h1h1m5 0h1h1m1 0h1h1h1h1h1m2 0h1m-43 1h1m11 0h1m11 0h1m3 0h1m1 0h1m1 0h1m1 0h1h1h1h1m3 0h1m-45 1h1m6 0h1m5 0h1m3 0h1m4 0h1m3 0h1h1h1m1 0h1h1h1h1h1h1m2 0h1h1m1 0h1h1h1m-40 1h1m10 0h1h1m3 0h1h1m1 0h1h1h1m2 0h1h1h1h1h1h1h1h1h1m1 0h1h1h1h1m4 0h1m-34 1h1m1 0h1m2 0h1h1h1m2 0h1h1h1h1m1 0h1h1h1h1h1m3 0h1h1h1m3 0h1m1 0h1m-30 1h1h1m1 0h1m1 0h1h1m1 0h1h1h1h1h1m10 0h1h1m1 0h1h1h1m7 0h1m-39 1h1h1m1 0h1h1h1h1h1m1 0h1h1m13 0h1m3 0h1h1m-36 1h1h1m7 0h1h1h1h1m1 0h1h1m14 0h1h1h1h1h1m2 0h1m-42 1h1m9 0h1h1h1h1h1m1 0h1m16 0h1h1h1h1h1h1h1m3 0h1m-39 1h1h1h1h1h1m1 0h1h1h1m19 0h1m3 0h1h1m1 0h1h1m-48 1h1m7 0h1m6 0h1h1h1h1h1m18 0h1m1 0h1h1m1 0h1m7 0h1m-44 1h1m2 0h1h1m1 0h1h1h1h1h1m19 0h1h1m2 0h1m3 0h1m3 0h1m-43 1h1m1 0h1h1m3 0h1m1 0h1m20 0h1h1m2 0h1m2 0h1m-45 1h1h1m3 0h1m1 0h1h1h1h1h1m1 0h1h1h1m23 0h1h1h1m5 0h1m-41 1h1m1 0h1m1 0h1h1m1 0h1m21 0h1h1h1m1 0h1m3 0h1m-40 1h1m2 0h1m2 0h1h1h1m22 0h1m2 0h1m3 0h1m3 0h1m-46 1h1m2 0h1h1h1h1h1m1 0h1m24 0h1m1 0h1m3 0h1h1m-36 1h1h1m1 0h1m23 0h1m1 0h1h1m1 0h1m-39 1h1m4 0h1m1 0h1h1m26 0h1h1h1m1 0h1h1m11 0h1m-51 1h1m4 0h1h1m24 0h1h1h1m2 0h1h1m1 0h1h1h1m2 0h1m-50 1h1m6 0h1m1 0h1h1h1m24 0h1m1 0h1m1 0h1m3 0h1h1m-49 1h1m2 0h1m3 0h1m2 0h1m3 0h1m19 0h1h1h1h1h1h1h1h1m1 0h1h1m1 0h1h1m1 0h1m8 0h1m-50 1h1h1m1 0h1h1h1m18 0h1h1m1 0h1h1h1m1 0h1h1h1m3 0h1m6 0h1m-53 1h1m4 0h1m2 0h1h1m1 0h1h1h1m22 0h1h1m1 0h1m2 0h1m-35 1h1h1h1h1m1 0h1m18 0h1h1h1m1 0h1h1h1m2 0h1m2 0h1m-42 1h1m2 0h1h1m1 0h1h1h1h1h1m18 0h1h1h1h1m1 0h1m1 0h1m12 0h1m-50 1h1m1 0h1m2 0h1h1h1m1 0h1h1h1m17 0h1h1h1h1h1m1 0h1h1h1h1m3 0h1m-42 1h1m1 0h1m1 0h1m1 0h1m1 0h1m1 0h1h1m14 0h1m1 0h1m1 0h1m2 0h1m1 0h1h1m-46 1h1m3 0h1m7 0h1m3 0h1m1 0h1h1h1h1m1 0h1m8 0h1m1 0h1h1m1 0h1m3 0h1m1 0h1m1 0h1m1 0h1m4 0h1m-45 1h1m3 0h1m1 0h1m1 0h1m3 0h1h1h1h1h1h1h1m1 0h1h1h1h1m1 0h1m1 0h1h1h1m1 0h1h1m-31 1h1m1 0h1m1 0h1m1 0h1h1h1m1 0h1h1h1m1 0h1m1 0h1m1 0h1h1m2 0h1h1h1m1 0h1h1h1m9 0h1h1m-38 1h1m6 0h1h1h1h1h1m2 0h1m1 0h1h1h1m1 0h1h1h1h1m1 0h1m1 0h1h1h1m3 0h1h1m1 0h1m-41 1h1m1 0h1m1 0h1h1h1h1m1 0h1m1 0h1h1h1h1h1m2 0h1m1 0h1h1h1m4 0h1m2 0h1m3 0h1m1 0h1m-41 1h1m6 0h1m1 0h1h1m1 0h1m3 0h1h1m1 0h1m1 0h1m2 0h1m2 0h1m1 0h1h1m2 0h1m1 0h1m-34 1h1m9 0h1m3 0h1m2 0h1h1h1m2 0h1h1h1h1m1 0h1m1 0h1h1m1 0h1m2 0h1h1m-26 1h1h1m2 0h1m1 0h1m1 0h1h1m4 0h1m1 0h1m5 0h1m2 0h1m-31 1h1m7 0h1m4 0h1h1m2 0h1m-19 1h1h1m1 0h1m4 0h1m2 0h1m7 0h1h1h1m1 0h1h1m3 0h1h1m1 0h1h1m-23 1h1h1m2 0h1h1m1 0h1m4 0h1m2 0h1m1 0h1m13 0h1m-39 1h1h1m6 0h1h1m13 0h1m3 0h1m-40 1h1h1m22 0h1m6 0h1m5 0h1m1 0h1m-22 1h1m4 0h1m7 0h1m2 0h1m7 0h1m-22 1h1m17 0h1m4 0h1m-17 1h1h1m-8 1h1m24 0h1m-35 1h1m20 0h1m-9 2h1m11 0h1" stroke="#1424f0" stroke-opacity="0.85"/>
<path d="M689 810.5h1h1h1m-8 1h1h1h1m1 0h1h1h1h1h1m-11 1h1h1h1h1h1h1h1h1h1h1h1m-14 1h1h1h1h1m5 0h1m1 0h1m1 0h1m-16 1h1h1m11 0h1h1m-17 1h1h1m13 0h1h1m-17 1h1m14 0h1m-19 1h1h1h1m15 0h1m-20 1h1h1m17 0h1m-21 1h1h1m18 0h1m-21 1h1m18 0h1m-22 1h1m1 0h1m-5 1h1h1h1h1m18 0h1m-23 1h1h1m20 0h1m-24 1h1h1m20 0h1h1m-24 1h1m20 0h1h1h1m-24 1h1m17 0h1m2 0h1m1 0h1m-24 1h1m16 0h1h1m-19 1h1h1m14 0h1h1m-18 1h1h1m15 0h1m-18 1h1h1m14 0h1m-17 1h1h1h1h1m11 0h1h1m-16 1h1h1h1h1h1m3 0h1m1 0h1m1 0h1h1h1h1m-15 1h1h1h1m1 0h1h1h1h1h1h1h1h1h1h1m-10 1h1h1h1h1h1h1h1" stroke="#0a58ff" stroke-opacity="0.85"/>
<path d="M685 813.5h1h1h1m-9 1h1m-2 1h1m10 0h1m-14 1h1h1m11 0h1m-15 1h1h1m12 0h1m-17 1h1h1m14 0h1m-1 1h1m-2 1h1m-18 1h1m16 0h1m-19 1h1m16 0h1m-20 1h1h1m17 0h1m-20 1h1m17 0h1m-21 1h1h1m15 0h1h1m-19 1h1h1m13 0h1h1m-17 1h1h1m13 0h1m-15 1h1h1h1h1m9 0h1m-14 1h1h1h1h1h1m8 0h1m-12 1h1h1h1h1h1m1 0h1h1m2 0h1h1m-12 1h1h1h1h1m1 0h1h1h1h1h1h1m-9 1h1m1 0h1" stroke="#0096ff" stroke-opacity="0.85"/>
<path d="M681 814.5h1h1h1h1h1h1h1m-9 1h1m8 0h1m-11 1h1m-2 1h1m-3 1h1h1m-4 1h1m14 0h1m-17 1h1m-1 1h1m-2 1h1h1m13 0h1m-17 1h1h1m-3 1h1h1m13 0h1h1m-18 1h1h1h1m10 0h1h1m-15 1h1h1h1m9 0h1m-13 1h1h1h1h1m8 0h1m-10 1h1h1m6 0h1m-8 1h1h1h1h1h1h1h1h1m-6 1h1m3 0h1" stroke="#00d0d0" stroke-opacity="0.85"/>
<path d="M680 815.5h1h1h1h1h1h1h1h1m-9 1h1m7 0h1h1m-11 1h1m9 0h1m-12 1h1h1m9 0h1m-15 1h1h1h1h1m9 0h1m-15 1h1h1h1h1m9 0h1h1m-15 1h1h1h1m10 0h1m-14 1h1h1h1m9 0h1m-14 1h1h1h1h1m8 0h1h1m-15 1h1h1h1h1h1h1m4 0h1h1h1m-13 1h1h1h1h1h1h1h1h1h1h1m-10 1h1h1h1h1h1h1h1h1h1m-8 1h1h1h1h1h1h1h1h1m-7 1h1h1h1h1h1h1" stroke="#22d840" stroke-opacity="0.85"/>
<path d="M680 816.5h1h1m3 0h1h1m-8 1h1m6 0h1h1m-9 1h1m6 0h1h1m-10 1h1m7 0h1m-10 1h1h1m6 0h1m-10 1h1h1m7 0h1m-10 1h1h1m6 0h1m-9 1h1h1m3 0h1h1h1m-7 1h1h1h1h1" stroke="#a0e400" stroke-opacity="0.85"/>
<path d="M682 816.5h1h1h1m-5 1h1m4 0h1m-1 1h1m-7 1h1m5 0h1m-7 1h1m4 0h1m-7 1h1m5 0h1m-7 1h1m3 0h1h1m-6 1h1h1h1" stroke="#ffd400" stroke-opacity="0.85"/>
<path d="M681 817.5h1h1h1h1m-5 1h1m3 0h1m-5 1h1m3 0h1m-5 1h1m2 0h1m-5 1h1h1h1h1h1m-5 1h1h1h1" stroke="#ff8000" stroke-opacity="0.85"/>
<path d="M681 818.5h1h1h1m-3 1h1h1h1m-3 1h1h1" stroke="#ff1a00" stroke-opacity="0.85"/>
</g>
<rect x="640.6" y="761.1" width="97.4" height="97.6" fill="none" stroke="#666" stroke-width="1"/>
<line x1="686.5" y1="761.1" x2="686.5" y2="858.7" stroke="#333" stroke-width="1"/>
<line x1="640.6" y1="810.8" x2="738" y2="810.8" stroke="#333" stroke-width="1"/>
<text x="636" y="765.4" font-size="6.2" text-anchor="middle" fill="#1a1a1a" transform="rotate(-90 636 765.4)">10<tspan dy="-2.36" font-size="4.59">7</tspan><tspan dy="2.36">&#8203;</tspan></text>
<line x1="639" y1="765.4" x2="640.6" y2="765.4" stroke="#777" stroke-width="0.6"/>
<text x="636" y="786.9" font-size="6.2" text-anchor="middle" fill="#1a1a1a" transform="rotate(-90 636 786.9)">10<tspan dy="-2.36" font-size="4.59">6</tspan><tspan dy="2.36">&#8203;</tspan></text>
<line x1="639" y1="786.9" x2="640.6" y2="786.9" stroke="#777" stroke-width="0.6"/>
<text x="636" y="800.3" font-size="6.2" text-anchor="middle" fill="#1a1a1a" transform="rotate(-90 636 800.3)">10<tspan dy="-2.36" font-size="4.59">5</tspan><tspan dy="2.36">&#8203;</tspan></text>
<line x1="639" y1="800.3" x2="640.6" y2="800.3" stroke="#777" stroke-width="0.6"/>
<text x="636" y="812.7" font-size="6.2" text-anchor="middle" fill="#1a1a1a" transform="rotate(-90 636 812.7)">10<tspan dy="-2.36" font-size="4.59">4</tspan><tspan dy="2.36">&#8203;</tspan></text>
<line x1="639" y1="812.7" x2="640.6" y2="812.7" stroke="#777" stroke-width="0.6"/>
<text x="636" y="826.7" font-size="6.2" text-anchor="middle" fill="#1a1a1a" transform="rotate(-90 636 826.7)">10<tspan dy="-2.36" font-size="4.59">3</tspan><tspan dy="2.36">&#8203;</tspan></text>
<line x1="639" y1="826.7" x2="640.6" y2="826.7" stroke="#777" stroke-width="0.6"/>
<text x="636" y="840.7" font-size="6.2" text-anchor="middle" fill="#1a1a1a" transform="rotate(-90 636 840.7)">10<tspan dy="-2.36" font-size="4.59">2</tspan><tspan dy="2.36">&#8203;</tspan></text>
<line x1="639" y1="840.7" x2="640.6" y2="840.7" stroke="#777" stroke-width="0.6"/>
<text x="636" y="855.8" font-size="6.2" text-anchor="middle" fill="#1a1a1a" transform="rotate(-90 636 855.8)">10<tspan dy="-2.36" font-size="4.59">0.6</tspan><tspan dy="2.36">&#8203;</tspan></text>
<line x1="639" y1="855.8" x2="640.6" y2="855.8" stroke="#777" stroke-width="0.6"/>
<text x="644.9" y="868.9" font-size="6.2" text-anchor="middle" fill="#1a1a1a">10<tspan dy="-2.36" font-size="4.59">1.1</tspan><tspan dy="2.36">&#8203;</tspan></text>
<line x1="644.9" y1="858.7" x2="644.9" y2="860.3" stroke="#777" stroke-width="0.6"/>
<text x="664.3" y="868.9" font-size="6.2" text-anchor="middle" fill="#1a1a1a">10<tspan dy="-2.36" font-size="4.59">3</tspan><tspan dy="2.36">&#8203;</tspan></text>
<line x1="664.3" y1="858.7" x2="664.3" y2="860.3" stroke="#777" stroke-width="0.6"/>
<text x="690.1" y="868.9" font-size="6.2" text-anchor="middle" fill="#1a1a1a">10<tspan dy="-2.36" font-size="4.59">5</tspan><tspan dy="2.36">&#8203;</tspan></text>
<line x1="690.1" y1="858.7" x2="690.1" y2="860.3" stroke="#777" stroke-width="0.6"/>
<text x="714.9" y="868.9" font-size="6.2" text-anchor="middle" fill="#1a1a1a">10<tspan dy="-2.36" font-size="4.59">7</tspan><tspan dy="2.36">&#8203;</tspan></text>
<line x1="714.9" y1="858.7" x2="714.9" y2="860.3" stroke="#777" stroke-width="0.6"/>
<text x="733.9" y="868.9" font-size="6.2" text-anchor="middle" fill="#1a1a1a">10<tspan dy="-2.36" font-size="4.59">8</tspan><tspan dy="2.36">&#8203;</tspan></text>
<line x1="733.9" y1="858.7" x2="733.9" y2="860.3" stroke="#777" stroke-width="0.6"/>
<text x="687.9" y="756.6" font-size="8.9" font-weight="bold" text-anchor="middle">TAM/rCXCL1+ADQ</text>
<text x="736" y="786.8" font-size="8.9" font-weight="bold" text-anchor="end" fill="#F81414">5.36%</text>
<text x="717.9" y="768" font-size="5.9" fill="#222">Q1-2</text>
<text x="717.9" y="774.3" font-size="5.9" fill="#222">5.36%</text>
<rect x="184.3" y="951.54" width="14.6" height="32.76" fill="#BCAE78"/>
<line x1="191.6" y1="951.54" x2="191.6" y2="950.23" stroke="#BCAE78" stroke-width="1.2"/>
<line x1="188.1" y1="950.23" x2="195.1" y2="950.23" stroke="#BCAE78" stroke-width="1.2"/>
<rect x="206.6" y="929.92" width="14.6" height="54.38" fill="#F4434B"/>
<line x1="213.9" y1="929.92" x2="213.9" y2="926.31" stroke="#F4434B" stroke-width="1.2"/>
<line x1="210.4" y1="926.31" x2="217.4" y2="926.31" stroke="#F4434B" stroke-width="1.2"/>
<rect x="228.8" y="963.01" width="14.6" height="21.29" fill="#57A1F8"/>
<line x1="236.1" y1="963.01" x2="236.1" y2="961.37" stroke="#57A1F8" stroke-width="1.2"/>
<line x1="232.6" y1="961.37" x2="239.6" y2="961.37" stroke="#57A1F8" stroke-width="1.2"/>
<rect x="251.1" y="951.21" width="14.6" height="33.09" fill="#FF6203"/>
<line x1="258.4" y1="951.21" x2="258.4" y2="949.9" stroke="#FF6203" stroke-width="1.2"/>
<line x1="254.9" y1="949.9" x2="261.9" y2="949.9" stroke="#FF6203" stroke-width="1.2"/>
<rect x="273.5" y="939.42" width="14.6" height="44.88" fill="#0DBF10"/>
<line x1="280.8" y1="939.42" x2="280.8" y2="935.16" stroke="#0DBF10" stroke-width="1.2"/>
<line x1="277.3" y1="935.16" x2="284.3" y2="935.16" stroke="#0DBF10" stroke-width="1.2"/>
<rect x="295.6" y="957.44" width="14.6" height="26.86" fill="#B05ADB"/>
<line x1="302.9" y1="957.44" x2="302.9" y2="955.8" stroke="#B05ADB" stroke-width="1.2"/>
<line x1="299.4" y1="955.8" x2="306.4" y2="955.8" stroke="#B05ADB" stroke-width="1.2"/>
<line x1="176.5" y1="901.8" x2="176.5" y2="984.9" stroke="#000" stroke-width="1.5"/>
<line x1="175.9" y1="984.3" x2="318.3" y2="984.3" stroke="#000" stroke-width="1.5"/>
<line x1="172.5" y1="984.3" x2="176.5" y2="984.3" stroke="#000" stroke-width="1.5"/>
<text x="171" y="986.46" font-size="6" font-weight="bold" text-anchor="end">0</text>
<line x1="174.3" y1="976.11" x2="176.5" y2="976.11" stroke="#000" stroke-width="1.5"/>
<line x1="172.5" y1="967.92" x2="176.5" y2="967.92" stroke="#000" stroke-width="1.5"/>
<text x="171" y="970.08" font-size="6" font-weight="bold" text-anchor="end">50</text>
<line x1="174.3" y1="959.73" x2="176.5" y2="959.73" stroke="#000" stroke-width="1.5"/>
<line x1="172.5" y1="951.54" x2="176.5" y2="951.54" stroke="#000" stroke-width="1.5"/>
<text x="171" y="953.7" font-size="6" font-weight="bold" text-anchor="end">100</text>
<line x1="174.3" y1="943.35" x2="176.5" y2="943.35" stroke="#000" stroke-width="1.5"/>
<line x1="172.5" y1="935.16" x2="176.5" y2="935.16" stroke="#000" stroke-width="1.5"/>
<text x="171" y="937.32" font-size="6" font-weight="bold" text-anchor="end">150</text>
<line x1="174.3" y1="926.97" x2="176.5" y2="926.97" stroke="#000" stroke-width="1.5"/>
<line x1="172.5" y1="918.78" x2="176.5" y2="918.78" stroke="#000" stroke-width="1.5"/>
<text x="171" y="920.94" font-size="6" font-weight="bold" text-anchor="end">200</text>
<line x1="174.3" y1="910.59" x2="176.5" y2="910.59" stroke="#000" stroke-width="1.5"/>
<line x1="172.5" y1="902.4" x2="176.5" y2="902.4" stroke="#000" stroke-width="1.5"/>
<text x="171" y="904.56" font-size="6" font-weight="bold" text-anchor="end">250</text>
<line x1="191.6" y1="984.3" x2="191.6" y2="988.3" stroke="#000" stroke-width="1.5"/>
<line x1="213.9" y1="984.3" x2="213.9" y2="988.3" stroke="#000" stroke-width="1.5"/>
<line x1="236.1" y1="984.3" x2="236.1" y2="988.3" stroke="#000" stroke-width="1.5"/>
<line x1="258.4" y1="984.3" x2="258.4" y2="988.3" stroke="#000" stroke-width="1.5"/>
<line x1="280.8" y1="984.3" x2="280.8" y2="988.3" stroke="#000" stroke-width="1.5"/>
<line x1="302.9" y1="984.3" x2="302.9" y2="988.3" stroke="#000" stroke-width="1.5"/>
<path d="M191.4 949.6V904.1H234.6V957" stroke="#000" stroke-width="1.5" fill="none"/>
<text x="213" y="905.81" font-size="9" font-weight="bold" text-anchor="middle">**</text>
<path d="M191.4 949.6V915.3H214.1V923.7" stroke="#000" stroke-width="1.5" fill="none"/>
<text x="202.75" y="917.01" font-size="9" font-weight="bold" text-anchor="middle">**</text>
<path d="M237.6 957V904.1H278.3V932.5" stroke="#000" stroke-width="1.5" fill="none"/>
<text x="257.95" y="905.81" font-size="9" font-weight="bold" text-anchor="middle">**</text>
<path d="M237.6 957V915.3H258.2V947.3" stroke="#000" stroke-width="1.5" fill="none"/>
<text x="247.9" y="917.01" font-size="9" font-weight="bold" text-anchor="middle">**</text>
<path d="M282.9 932.5V904.1H302.8V953.5" stroke="#000" stroke-width="1.5" fill="none"/>
<text x="292.85" y="905.81" font-size="9" font-weight="bold" text-anchor="middle">**</text>
<text x="244.6" y="893.8" font-size="8.1" font-weight="bold" text-anchor="middle">CD8<tspan dy="-3.08" font-size="5.02">+</tspan><tspan dy="3.08">&#8203;</tspan> T cells</text>
<text x="128.1" y="941.9" font-size="7.8" font-weight="bold" text-anchor="middle" transform="rotate(-90 128.1 941.9)">Perforin<tspan dy="-2.96" font-size="4.84">+</tspan><tspan dy="2.96">&#8203;</tspan> and</text>
<text x="138.9" y="943.4" font-size="7.8" font-weight="bold" text-anchor="middle" transform="rotate(-90 138.9 943.4)">granzyme B<tspan dy="-2.96" font-size="4.84">+</tspan><tspan dy="2.96">&#8203;</tspan></text>
<text x="148.6" y="943.3" font-size="7.8" font-weight="bold" text-anchor="middle" transform="rotate(-90 148.6 943.3)">secretion</text>
<text x="157.8" y="941.7" font-size="7.8" font-weight="bold" text-anchor="middle" transform="rotate(-90 157.8 941.7)">(% of control)</text>
<rect x="490.15" y="947" width="14.3" height="38.4" fill="#BCAE78"/>
<line x1="497.3" y1="947" x2="497.3" y2="946.62" stroke="#BCAE78" stroke-width="1.2"/>
<line x1="493.87" y1="946.62" x2="500.73" y2="946.62" stroke="#BCAE78" stroke-width="1.2"/>
<rect x="511.75" y="932.41" width="14.3" height="52.99" fill="#F4434B"/>
<line x1="518.9" y1="932.41" x2="518.9" y2="923.96" stroke="#F4434B" stroke-width="1.2"/>
<line x1="515.47" y1="923.96" x2="522.33" y2="923.96" stroke="#F4434B" stroke-width="1.2"/>
<rect x="533.25" y="956.98" width="14.3" height="28.42" fill="#57A1F8"/>
<line x1="540.4" y1="956.98" x2="540.4" y2="953.14" stroke="#57A1F8" stroke-width="1.2"/>
<line x1="536.97" y1="953.14" x2="543.83" y2="953.14" stroke="#57A1F8" stroke-width="1.2"/>
<rect x="554.75" y="943.16" width="14.3" height="42.24" fill="#FF6203"/>
<line x1="561.9" y1="943.16" x2="561.9" y2="940.47" stroke="#FF6203" stroke-width="1.2"/>
<line x1="558.47" y1="940.47" x2="565.33" y2="940.47" stroke="#FF6203" stroke-width="1.2"/>
<rect x="576.35" y="936.25" width="14.3" height="49.15" fill="#0DBF10"/>
<line x1="583.5" y1="936.25" x2="583.5" y2="930.49" stroke="#0DBF10" stroke-width="1.2"/>
<line x1="580.07" y1="930.49" x2="586.93" y2="930.49" stroke="#0DBF10" stroke-width="1.2"/>
<rect x="598.25" y="947.77" width="14.3" height="37.63" fill="#B05ADB"/>
<line x1="605.4" y1="947.77" x2="605.4" y2="946.62" stroke="#B05ADB" stroke-width="1.2"/>
<line x1="601.97" y1="946.62" x2="608.83" y2="946.62" stroke="#B05ADB" stroke-width="1.2"/>
<line x1="480.8" y1="908" x2="480.8" y2="986" stroke="#000" stroke-width="1.5"/>
<line x1="480.2" y1="985.4" x2="620.3" y2="985.4" stroke="#000" stroke-width="1.5"/>
<line x1="476.8" y1="985.4" x2="480.8" y2="985.4" stroke="#000" stroke-width="1.5"/>
<text x="475.3" y="987.78" font-size="6.6" font-weight="bold" text-anchor="end">0</text>
<line x1="478.6" y1="975.8" x2="480.8" y2="975.8" stroke="#000" stroke-width="1.5"/>
<line x1="476.8" y1="966.2" x2="480.8" y2="966.2" stroke="#000" stroke-width="1.5"/>
<text x="475.3" y="968.58" font-size="6.6" font-weight="bold" text-anchor="end">50</text>
<line x1="478.6" y1="956.6" x2="480.8" y2="956.6" stroke="#000" stroke-width="1.5"/>
<line x1="476.8" y1="947" x2="480.8" y2="947" stroke="#000" stroke-width="1.5"/>
<text x="475.3" y="949.38" font-size="6.6" font-weight="bold" text-anchor="end">100</text>
<line x1="478.6" y1="937.4" x2="480.8" y2="937.4" stroke="#000" stroke-width="1.5"/>
<line x1="476.8" y1="927.8" x2="480.8" y2="927.8" stroke="#000" stroke-width="1.5"/>
<text x="475.3" y="930.18" font-size="6.6" font-weight="bold" text-anchor="end">150</text>
<line x1="478.6" y1="918.2" x2="480.8" y2="918.2" stroke="#000" stroke-width="1.5"/>
<line x1="476.8" y1="908.6" x2="480.8" y2="908.6" stroke="#000" stroke-width="1.5"/>
<text x="475.3" y="910.98" font-size="6.6" font-weight="bold" text-anchor="end">200</text>
<line x1="497.3" y1="985.4" x2="497.3" y2="989.4" stroke="#000" stroke-width="1.5"/>
<line x1="518.9" y1="985.4" x2="518.9" y2="989.4" stroke="#000" stroke-width="1.5"/>
<line x1="540.4" y1="985.4" x2="540.4" y2="989.4" stroke="#000" stroke-width="1.5"/>
<line x1="561.9" y1="985.4" x2="561.9" y2="989.4" stroke="#000" stroke-width="1.5"/>
<line x1="583.5" y1="985.4" x2="583.5" y2="989.4" stroke="#000" stroke-width="1.5"/>
<line x1="605.4" y1="985.4" x2="605.4" y2="989.4" stroke="#000" stroke-width="1.5"/>
<path d="M496.9 944V907.8H538.6V951" stroke="#000" stroke-width="1.5" fill="none"/>
<text x="517.75" y="909.6" font-size="9.5" font-weight="bold" text-anchor="middle">*</text>
<path d="M496.9 944V916.2H518.4V922" stroke="#000" stroke-width="1.5" fill="none"/>
<text x="507.65" y="918" font-size="9.5" font-weight="bold" text-anchor="middle">*</text>
<path d="M541.9 951V907.8H581.7V928" stroke="#000" stroke-width="1.5" fill="none"/>
<text x="561.8" y="909.6" font-size="9.5" font-weight="bold" text-anchor="middle">*</text>
<path d="M541.9 951V916.2H562V938" stroke="#000" stroke-width="1.5" fill="none"/>
<text x="551.95" y="918" font-size="9.5" font-weight="bold" text-anchor="middle">*</text>
<path d="M585.4 928V915.6H605.6V942.7" stroke="#000" stroke-width="1.5" fill="none"/>
<text x="595.5" y="917.4" font-size="9.5" font-weight="bold" text-anchor="middle">*</text>
<text x="549.4" y="897.9" font-size="8.3" font-weight="bold" text-anchor="middle">4T1 cells</text>
<text x="447.7" y="947" font-size="9.5" font-weight="bold" text-anchor="middle" transform="rotate(-90 447.7 947)">LDH activity</text>
<text x="458.5" y="947" font-size="9.5" font-weight="bold" text-anchor="middle" transform="rotate(-90 458.5 947)">(% of control)</text>
<rect x="632.7" y="900.88" width="11" height="4.6" fill="#BCAE78"/>
<text x="649.9" y="905.8" font-size="7.7" font-weight="bold">Control</text>
<rect x="632.7" y="911.13" width="11" height="4.6" fill="#F4434B"/>
<text x="649.9" y="916.05" font-size="7.7" font-weight="bold">ADQ</text>
<rect x="632.7" y="921.38" width="11" height="4.6" fill="#57A1F8"/>
<text x="649.9" y="926.3" font-size="7.7" font-weight="bold">TAM</text>
<rect x="632.7" y="931.63" width="11" height="4.6" fill="#FF6203"/>
<text x="649.9" y="936.55" font-size="7.7" font-weight="bold">TAM/shCXCL1</text>
<rect x="632.7" y="941.88" width="11" height="4.6" fill="#0DBF10"/>
<text x="649.9" y="946.8" font-size="7.7" font-weight="bold">TAM+ADQ</text>
<rect x="632.7" y="952.13" width="11" height="4.6" fill="#B05ADB"/>
<text x="649.9" y="957.05" font-size="7.7" font-weight="bold">TAM/rCXCL1+ADQ</text>
</svg>
</body></html>
